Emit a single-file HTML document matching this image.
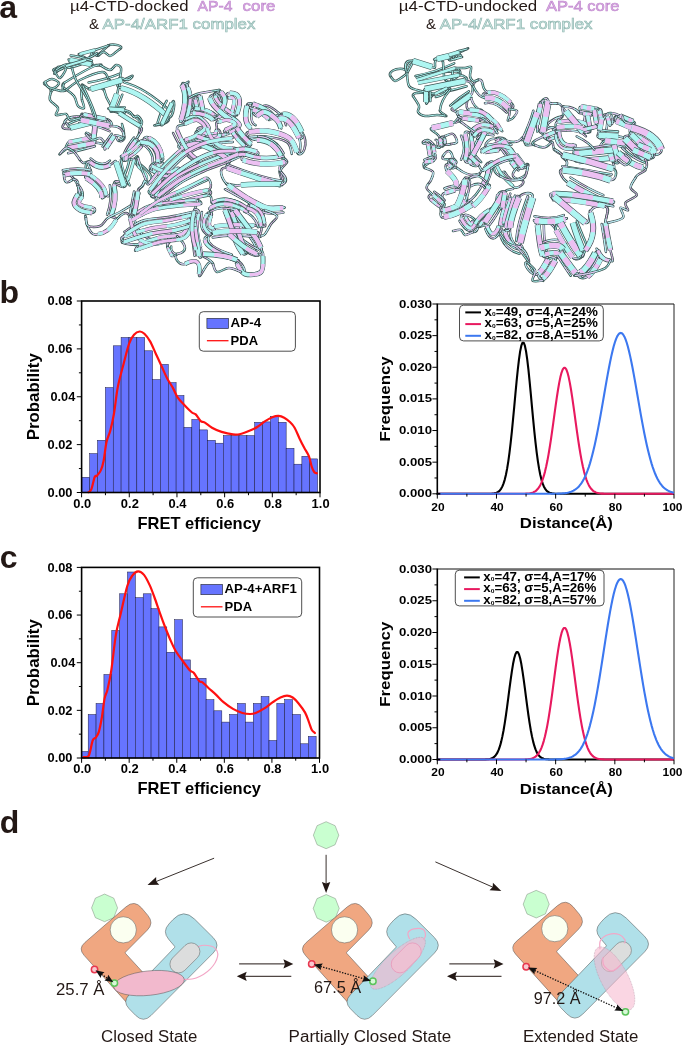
<!DOCTYPE html>
<html lang="en"><head><meta charset="utf-8"><title>Figure</title>
<style>html,body{margin:0;padding:0;background:#fff}svg{display:block}text{font-family:"Liberation Sans",Arial,sans-serif;fill:#231815}.k text{fill:#000}.o,.c,.p{fill:none;stroke-linejoin:round}.o{stroke:#3d5655}.c{stroke:#aef6f2}.p{stroke:#ecc0f2}.r{stroke-linecap:round}.w10{stroke-width:5}.w11{stroke-width:5.5}.w12{stroke-width:6}.w13{stroke-width:6.5}.w14{stroke-width:7}.w15{stroke-width:7.5}.w16{stroke-width:8}.w2{stroke-width:1}.w4{stroke-width:2}.w5{stroke-width:2.5}.w6{stroke-width:3}.w7{stroke-width:3.5}.w8{stroke-width:4}.w9{stroke-width:4.5}</style></head><body>
<svg width="685" height="1047" viewBox="0 0 685 1047">
<rect width="685" height="1047" fill="#fff"/>
<text x="-0.8" y="17.6" font-size="32" font-weight="bold">a</text>
<text x="-0.5" y="303.1" font-size="32" font-weight="bold">b</text>
<text x="-0.3" y="567.9" font-size="32" font-weight="bold">c</text>
<text x="-0.3" y="833.3" font-size="32" font-weight="bold">d</text>
<text x="70" y="11.4" font-size="15" textLength="118.5" lengthAdjust="spacingAndGlyphs">µ4-CTD-docked</text>
<text x="197.6" y="11.4" font-size="15" textLength="34.8" lengthAdjust="spacingAndGlyphs" style="fill:#dcaee6;stroke:#bf88cc;stroke-width:0.6">AP-4</text>
<text x="242.6" y="11.4" font-size="15" textLength="32.8" lengthAdjust="spacingAndGlyphs" style="fill:#dcaee6;stroke:#bf88cc;stroke-width:0.6">core</text>
<text x="88.9" y="28.9" font-size="15">&amp;</text>
<text x="102.6" y="28.9" font-size="15" textLength="152.8" lengthAdjust="spacingAndGlyphs" style="fill:#cfe9e6;stroke:#8fb5af;stroke-width:0.6">AP-4/ARF1 complex</text>
<text x="398.8" y="11.4" font-size="15" textLength="138.4" lengthAdjust="spacingAndGlyphs">µ4-CTD-undocked</text>
<text x="545.9" y="11.4" font-size="15" textLength="73.6" lengthAdjust="spacingAndGlyphs" style="fill:#dcaee6;stroke:#bf88cc;stroke-width:0.6">AP-4 core</text>
<text x="426.1" y="28.9" font-size="15">&amp;</text>
<text x="439.8" y="28.9" font-size="15" textLength="152.7" lengthAdjust="spacingAndGlyphs" style="fill:#cfe9e6;stroke:#8fb5af;stroke-width:0.6">AP-4/ARF1 complex</text>
<path class="o w5 r" d="M55 72C48.9 68 60.3 68.7 66 66"/><path class="c w2 r" d="M55 72C48.9 68 60.3 68.7 66 66"/>
<path class="o w5 r" d="M55 72C51.9 78.3 59.7 66.6 66 66"/><path class="c w2 r" d="M55 72C51.9 78.3 59.7 66.6 66 66"/>
<path class="o w5 r" d="M56 70C50.6 74 62.3 69.5 66 66"/><path class="c w2 r" d="M56 70C50.6 74 62.3 69.5 66 66"/>
<path class="o w5 r" d="M70 64C71.9 62.7 66 57.7 70 60"/><path class="c w2 r" d="M70 64C71.9 62.7 66 57.7 70 60"/>
<path class="o w5 r" d="M51 92C51.1 85.2 40.7 84.6 45 82"/><path class="c w2 r" d="M51 92C51.1 85.2 40.7 84.6 45 82"/>
<path class="o w5 r" d="M80 118C81.8 115.5 80.4 112.4 83.9 114.5"/><path class="p w2 r" d="M80 118C81.8 115.5 80.4 112.4 83.9 114.5"/><path class="c w2" d="M80 118C81.8 115.5 80.4 112.4 83.9 114.5" stroke-dasharray="5.8 4.1" stroke-dashoffset="1.3"/>
<path class="o w5 r" d="M64 88C63.8 87 60.3 85.9 64 83"/><path class="c w2 r" d="M64 88C63.8 87 60.3 85.9 64 83"/>
<path class="o w5 r" d="M82 100C81.1 94.1 80.9 80.1 83 86"/><path class="c w2 r" d="M82 100C81.1 94.1 80.9 80.1 83 86"/>
<path class="o w5 r" d="M64 83C62.5 86.8 61.4 93.3 66 90"/><path class="c w2 r" d="M64 83C62.5 86.8 61.4 93.3 66 90"/>
<path class="o w5 r" d="M100 65C104.6 63.7 95.8 67.1 91 64.4"/><path class="c w2 r" d="M100 65C104.6 63.7 95.8 67.1 91 64.4"/>
<path class="o w5 r" d="M66 90C60.6 94.3 53.6 85.3 51 92"/><path class="c w2 r" d="M66 90C60.6 94.3 53.6 85.3 51 92"/>
<path class="o w5 r" d="M108 78C112.9 84.3 120.2 84.5 120 78"/><path class="c w2 r" d="M108 78C112.9 84.3 120.2 84.5 120 78"/>
<path class="o w5 r" d="M72 68C70.5 66.5 71.1 65.2 70 64"/><path class="c w2 r" d="M72 68C70.5 66.5 71.1 65.2 70 64"/>
<path class="o w5 r" d="M94 116C97.2 119.4 96.1 122.7 90 123"/><path class="c w2 r" d="M94 116C97.2 119.4 96.1 122.7 90 123"/>
<path class="o w5 r" d="M83 86C81.1 82.3 86.8 89.6 91 89"/><path class="c w2 r" d="M83 86C81.1 82.3 86.8 89.6 91 89"/>
<path class="o w5 r" d="M96 118C97.4 123.8 94.7 120.3 90 123"/><path class="c w2 r" d="M96 118C97.4 123.8 94.7 120.3 90 123"/>
<path class="o w5 r" d="M100 65C96.5 64.4 94.6 66.4 91 64.4"/><path class="c w2 r" d="M100 65C96.5 64.4 94.6 66.4 91 64.4"/>
<path class="o w5 r" d="M120 78C120.1 82.6 114.8 87.3 121 88"/><path class="c w2 r" d="M120 78C120.1 82.6 114.8 87.3 121 88"/>
<path class="o w5 r" d="M99 55C96.1 58.2 90.6 50 95 50"/><path class="c w2 r" d="M99 55C96.1 58.2 90.6 50 95 50"/>
<path class="o w5 r" d="M120 49C125.2 45.8 112.6 42.9 108 45.6"/><path class="c w2 r" d="M120 49C125.2 45.8 112.6 42.9 108 45.6"/>
<path class="o w5 r" d="M95 50C88.7 50.7 94.9 56 86 60"/><path class="c w2 r" d="M95 50C88.7 50.7 94.9 56 86 60"/>
<path class="o w5 r" d="M108 45.6C112.9 42.3 94.1 57.3 99 55"/><path class="c w2 r" d="M108 45.6C112.9 42.3 94.1 57.3 99 55"/>
<path class="o w5 r" d="M122 78C117.5 75.8 114.1 87.8 121 88"/><path class="c w2 r" d="M122 78C117.5 75.8 114.1 87.8 121 88"/>
<path class="o w5 r" d="M132 77C134.7 72.9 128 79.4 122 80"/><path class="c w2 r" d="M132 77C134.7 72.9 128 79.4 122 80"/>
<path class="o w5 r" d="M104 90C100.6 81.7 112.7 84 108 78"/><path class="c w2 r" d="M104 90C100.6 81.7 112.7 84 108 78"/>
<path class="o w5 r" d="M120 114C123.8 117.2 122.5 109.8 124 110"/><path class="c w2 r" d="M120 114C123.8 117.2 122.5 109.8 124 110"/>
<path class="o w5 r" d="M124 110C119.9 109.6 115.6 109.7 119 113"/><path class="c w2 r" d="M124 110C119.9 109.6 115.6 109.7 119 113"/>
<path class="o w5 r" d="M140 128C139.3 133.1 140.2 133.8 136 140"/><path class="p w2 r" d="M140 128C139.3 133.1 140.2 133.8 136 140"/><path class="c w2" d="M140 128C139.3 133.1 140.2 133.8 136 140" stroke-dasharray="5.6 5" stroke-dashoffset="5.4"/>
<path class="o w5 r" d="M160 124C164.2 124.4 171.6 121.1 168 117"/><path class="c w2 r" d="M160 124C164.2 124.4 171.6 121.1 168 117"/>
<path class="o w5 r" d="M156 125C150.8 126 159.1 125.2 162 124"/><path class="c w2 r" d="M156 125C150.8 126 159.1 125.2 162 124"/>
<path class="o w5 r" d="M80 54C74.1 53.6 91 58.7 86 60"/><path class="c w2 r" d="M80 54C74.1 53.6 91 58.7 86 60"/>
<path class="o w5 r" d="M66 66C63.4 65.7 72.8 64.1 70 64"/><path class="c w2 r" d="M66 66C63.4 65.7 72.8 64.1 70 64"/>
<path class="o w5 r" d="M86 60C90.3 58 94.3 65.3 91 64.4"/><path class="c w2 r" d="M86 60C90.3 58 94.3 65.3 91 64.4"/>
<path class="o w5 r" d="M91 89C82.3 90.6 99.6 84.3 104 90"/><path class="c w2 r" d="M91 89C82.3 90.6 99.6 84.3 104 90"/>
<path class="o w5 r" d="M122 80C124.7 77.5 115.9 85.1 121 88"/><path class="c w2 r" d="M122 80C124.7 77.5 115.9 85.1 121 88"/>
<path class="o w5 r" d="M121 88C117.2 85.7 119 89.1 117 94"/><path class="c w2 r" d="M121 88C117.2 85.7 119 89.1 117 94"/>
<path class="o w5 r" d="M111 110C109.1 114.4 115.4 108.7 119 113"/><path class="c w2 r" d="M111 110C109.1 114.4 115.4 108.7 119 113"/>
<path class="o w5 r" d="M110 109C104.7 107.3 112.8 111.3 119 113"/><path class="c w2 r" d="M110 109C104.7 107.3 112.8 111.3 119 113"/>
<path class="o w5 r" d="M124 110C127.2 111.9 122.6 115.4 120 114"/><path class="c w2 r" d="M124 110C127.2 111.9 122.6 115.4 120 114"/>
<path class="o w5 r" d="M140 126C144.9 130.9 138.8 132.6 136 140"/><path class="p w2 r" d="M140 126C144.9 130.9 138.8 132.6 136 140"/><path class="c w2" d="M140 126C144.9 130.9 138.8 132.6 136 140" stroke-dasharray="5.5 8.7" stroke-dashoffset="4.6"/>
<path class="o w5 r" d="M172 103C176.1 93.8 174.1 121.6 168 117"/><path class="c w2 r" d="M172 103C176.1 93.8 174.1 121.6 168 117"/>
<path class="o w5 r" d="M162 124C158.7 128.9 170.3 119.3 168 117"/><path class="c w2 r" d="M162 124C158.7 128.9 170.3 119.3 168 117"/>
<path class="o w5 r" d="M70 128C67.9 127.3 66 118.9 64 124"/><path class="c w2 r" d="M70 128C67.9 127.3 66 118.9 64 124"/><path class="p w2" d="M70 128C67.9 127.3 66 118.9 64 124" stroke-dasharray="4.1 5.1" stroke-dashoffset="5.9"/>
<path class="o w5 r" d="M90 123C92.7 122.1 96.4 122.4 95 126"/><path class="p w2 r" d="M90 123C92.7 122.1 96.4 122.4 95 126"/><path class="c w2" d="M90 123C92.7 122.1 96.4 122.4 95 126" stroke-dasharray="6 4.4" stroke-dashoffset="0.2"/>
<path class="o w5 r" d="M64 124C64.8 113.2 90.6 116.7 80 118"/><path class="p w2 r" d="M64 124C64.8 113.2 90.6 116.7 80 118"/><path class="c w2" d="M64 124C64.8 113.2 90.6 116.7 80 118" stroke-dasharray="20.9 20.7" stroke-dashoffset="9.1"/>
<path class="o w5 r" d="M81 120C75.7 119.9 81.7 114.7 83.9 114.5"/><path class="p w2 r" d="M81 120C75.7 119.9 81.7 114.7 83.9 114.5"/><path class="c w2" d="M81 120C75.7 119.9 81.7 114.7 83.9 114.5" stroke-dasharray="6.2 3.2" stroke-dashoffset="1.7"/>
<path class="o w5 r" d="M110 126C114 126.8 111.1 118.9 105.4 118.9"/><path class="p w2 r" d="M110 126C114 126.8 111.1 118.9 105.4 118.9"/><path class="c w2" d="M110 126C114 126.8 111.1 118.9 105.4 118.9" stroke-dasharray="7.7 4.7" stroke-dashoffset="2.1"/>
<path class="o w5 r" d="M95 126C95.4 123.4 98.6 123.9 96 118"/><path class="p w2 r" d="M95 126C95.4 123.4 98.6 123.9 96 118"/><path class="c w2" d="M95 126C95.4 123.4 98.6 123.9 96 118" stroke-dasharray="5.1 3.4" stroke-dashoffset="0.1"/>
<path class="o w5 r" d="M93 144C91.8 146.5 94.7 136.2 91.3 137.8"/><path class="c w2 r" d="M93 144C91.8 146.5 94.7 136.2 91.3 137.8"/><path class="p w2" d="M93 144C91.8 146.5 94.7 136.2 91.3 137.8" stroke-dasharray="7.7 6.2" stroke-dashoffset="1.6"/>
<path class="o w5 r" d="M114 136C116.9 134.4 117.5 144.1 120 140"/><path class="c w2 r" d="M114 136C116.9 134.4 117.5 144.1 120 140"/><path class="p w2" d="M114 136C116.9 134.4 117.5 144.1 120 140" stroke-dasharray="9.8 4.1" stroke-dashoffset="3"/>
<path class="o w5 r" d="M106 148C103.5 152.9 105 144.1 104 142"/><path class="c w2 r" d="M106 148C103.5 152.9 105 144.1 104 142"/><path class="p w2" d="M106 148C103.5 152.9 105 144.1 104 142" stroke-dasharray="8.4 7.3" stroke-dashoffset="3.5"/>
<path class="o w5 r" d="M68 148C63.2 150.2 67.4 143.4 68.6 142.1"/><path class="c w2 r" d="M68 148C63.2 150.2 67.4 143.4 68.6 142.1"/><path class="p w2" d="M68 148C63.2 150.2 67.4 143.4 68.6 142.1" stroke-dasharray="7.3 4.2" stroke-dashoffset="4.4"/>
<path class="o w5 r" d="M94 143C96.4 141.3 95.1 137.9 91.3 137.8"/><path class="c w2 r" d="M94 143C96.4 141.3 95.1 137.9 91.3 137.8"/><path class="p w2" d="M94 143C96.4 141.3 95.1 137.9 91.3 137.8" stroke-dasharray="5.7 3.4" stroke-dashoffset="3.1"/>
<path class="o w5 r" d="M136 140C137.5 136.4 137.8 143.3 140 142"/><path class="p w2 r" d="M136 140C137.5 136.4 137.8 143.3 140 142"/><path class="c w2" d="M136 140C137.5 136.4 137.8 143.3 140 142" stroke-dasharray="4.5 5.4" stroke-dashoffset="2.8"/>
<path class="o w5 r" d="M126 160C123.6 163.1 120.2 156.6 122 156"/><path class="p w2 r" d="M126 160C123.6 163.1 120.2 156.6 122 156"/><path class="c w2" d="M126 160C123.6 163.1 120.2 156.6 122 156" stroke-dasharray="5.8 4.9" stroke-dashoffset="4.4"/>
<path class="o w5 r" d="M144 140C141.9 139.3 137.2 143.5 140 142"/><path class="p w2 r" d="M144 140C141.9 139.3 137.2 143.5 140 142"/><path class="c w2" d="M144 140C141.9 139.3 137.2 143.5 140 142" stroke-dasharray="4.7 3.8" stroke-dashoffset="4.6"/>
<path class="o w5 r" d="M158 160C159 160.7 157.5 159.9 158 164"/><path class="p w2 r" d="M158 160C159 160.7 157.5 159.9 158 164"/><path class="c w2" d="M158 160C159 160.7 157.5 159.9 158 164" stroke-dasharray="2.7 2.2" stroke-dashoffset="0.1"/>
<path class="o w5 r" d="M86 134C85 130.2 94.8 137 91.3 137.8"/><path class="p w2 r" d="M86 134C85 130.2 94.8 137 91.3 137.8"/><path class="c w2" d="M86 134C85 130.2 94.8 137 91.3 137.8" stroke-dasharray="9.7 8.7" stroke-dashoffset="5.8"/>
<path class="o w5 r" d="M104 142C108.8 147.7 100.2 141.8 94 143"/><path class="p w2 r" d="M104 142C108.8 147.7 100.2 141.8 94 143"/><path class="c w2" d="M104 142C108.8 147.7 100.2 141.8 94 143" stroke-dasharray="7.4 7.8" stroke-dashoffset="11.8"/>
<path class="o w5 r" d="M120 140C118.8 142.8 126.4 140.2 124 136"/><path class="c w2 r" d="M120 140C118.8 142.8 126.4 140.2 124 136"/><path class="p w2" d="M120 140C118.8 142.8 126.4 140.2 124 136" stroke-dasharray="7 6.7" stroke-dashoffset="1.9"/>
<path class="o w5 r" d="M110 126C105.9 124.7 110.6 121.8 105.4 118.9"/><path class="p w2 r" d="M110 126C105.9 124.7 110.6 121.8 105.4 118.9"/><path class="c w2" d="M110 126C105.9 124.7 110.6 121.8 105.4 118.9" stroke-dasharray="9.2 5.4" stroke-dashoffset="3.6"/>
<path class="o w5 r" d="M124 136C124.5 140.8 117.9 133 114 136"/><path class="p w2 r" d="M124 136C124.5 140.8 117.9 133 114 136"/><path class="c w2" d="M124 136C124.5 140.8 117.9 133 114 136" stroke-dasharray="8.8 8.8" stroke-dashoffset="0.1"/>
<path class="o w5 r" d="M60 154C57.4 156 64.4 150 68 148"/><path class="c w2 r" d="M60 154C57.4 156 64.4 150 68 148"/><path class="p w2" d="M60 154C57.4 156 64.4 150 68 148" stroke-dasharray="8.9 7" stroke-dashoffset="6.2"/>
<path class="o w5 r" d="M80 160C85 166 83.4 160.8 90 162"/><path class="c w2 r" d="M80 160C85 166 83.4 160.8 90 162"/><path class="p w2" d="M80 160C85 166 83.4 160.8 90 162" stroke-dasharray="8.7 6.8" stroke-dashoffset="4.3"/>
<path class="o w5 r" d="M182 85C177.7 87.5 187.5 82.9 187.8 87.6"/><path class="p w2 r" d="M182 85C177.7 87.5 187.5 82.9 187.8 87.6"/><path class="c w2" d="M182 85C177.7 87.5 187.5 82.9 187.8 87.6" stroke-dasharray="11.4 7.1" stroke-dashoffset="2.1"/>
<path class="o w5 r" d="M188 82C189.3 81.1 187 83.6 187.8 87.6"/><path class="p w2 r" d="M188 82C189.3 81.1 187 83.6 187.8 87.6"/><path class="c w2" d="M188 82C189.3 81.1 187 83.6 187.8 87.6" stroke-dasharray="3.8 2.6" stroke-dashoffset="1.6"/>
<path class="o w5 r" d="M189 98C185.6 98.4 196.4 94.5 195.3 99.7"/><path class="p w2 r" d="M189 98C185.6 98.4 196.4 94.5 195.3 99.7"/><path class="c w2" d="M189 98C185.6 98.4 196.4 94.5 195.3 99.7" stroke-dasharray="9.5 7.1" stroke-dashoffset="4.6"/>
<path class="o w5 r" d="M219 90C222.6 90.7 214 93.4 215.3 95.6"/><path class="p w2 r" d="M219 90C222.6 90.7 214 93.4 215.3 95.6"/><path class="c w2" d="M219 90C222.6 90.7 214 93.4 215.3 95.6" stroke-dasharray="5 3.7" stroke-dashoffset="4.4"/>
<path class="o w5 r" d="M182 85C182 80.9 186.2 84.1 187.8 87.6"/><path class="c w2 r" d="M182 85C182 80.9 186.2 84.1 187.8 87.6"/><path class="p w2" d="M182 85C182 80.9 186.2 84.1 187.8 87.6" stroke-dasharray="7 5.3" stroke-dashoffset="5.4"/>
<path class="o w5 r" d="M181 120C178.8 123.5 181.8 121.3 185.6 119.5"/><path class="p w2 r" d="M181 120C178.8 123.5 181.8 121.3 185.6 119.5"/><path class="c w2" d="M181 120C178.8 123.5 181.8 121.3 185.6 119.5" stroke-dasharray="6.5 4.4" stroke-dashoffset="0.5"/>
<path class="o w5 r" d="M200 96C198.9 93.5 195.8 98 195.3 99.7"/><path class="p w2 r" d="M200 96C198.9 93.5 195.8 98 195.3 99.7"/><path class="c w2" d="M200 96C198.9 93.5 195.8 98 195.3 99.7" stroke-dasharray="2.6 3.9" stroke-dashoffset="1.3"/>
<path class="o w5 r" d="M203 110C202.3 112.4 198.1 112.4 197.6 110.3"/><path class="p w2 r" d="M203 110C202.3 112.4 198.1 112.4 197.6 110.3"/><path class="c w2" d="M203 110C202.3 112.4 198.1 112.4 197.6 110.3" stroke-dasharray="4.2 2.5" stroke-dashoffset="0.3"/>
<path class="o w5 r" d="M210 98C208.6 97.1 213.1 93 215.3 95.6"/><path class="p w2 r" d="M210 98C208.6 97.1 213.1 93 215.3 95.6"/><path class="c w2" d="M210 98C208.6 97.1 213.1 93 215.3 95.6" stroke-dasharray="4.8 2.7" stroke-dashoffset="1.5"/>
<path class="o w5 r" d="M231 120C233.3 123.5 235.5 117.4 233.7 114.8"/><path class="c w2 r" d="M231 120C233.3 123.5 235.5 117.4 233.7 114.8"/><path class="p w2" d="M231 120C233.3 123.5 235.5 117.4 233.7 114.8" stroke-dasharray="5.6 3.9" stroke-dashoffset="3.3"/>
<path class="o w5 r" d="M221 92C219.5 90.3 211.7 93.7 215.3 95.6"/><path class="p w2 r" d="M221 92C219.5 90.3 211.7 93.7 215.3 95.6"/><path class="c w2" d="M221 92C219.5 90.3 211.7 93.7 215.3 95.6" stroke-dasharray="5.7 4.5" stroke-dashoffset="1.4"/>
<path class="o w5 r" d="M222 109C221.1 114.8 214.3 117.6 218.4 117"/><path class="p w2 r" d="M222 109C221.1 114.8 214.3 117.6 218.4 117"/><path class="c w2" d="M222 109C221.1 114.8 214.3 117.6 218.4 117" stroke-dasharray="9.8 5.7" stroke-dashoffset="1.8"/>
<path class="o w5 r" d="M230 93C225.9 92.1 225.8 97.4 229 98.1"/><path class="c w2 r" d="M230 93C225.9 92.1 225.8 97.4 229 98.1"/><path class="p w2" d="M230 93C225.9 92.1 225.8 97.4 229 98.1" stroke-dasharray="6.8 2.6" stroke-dashoffset="0.1"/>
<path class="o w5 r" d="M237 114C238 116.4 234.4 114.9 233.7 114.8"/><path class="p w2 r" d="M237 114C238 116.4 234.4 114.9 233.7 114.8"/><path class="c w2" d="M237 114C238 116.4 234.4 114.9 233.7 114.8" stroke-dasharray="3.6 1.7" stroke-dashoffset="2.5"/>
<path class="o w5 r" d="M193 113C189.2 111.7 194.3 106.4 195.2 108.4"/><path class="c w2 r" d="M193 113C189.2 111.7 194.3 106.4 195.2 108.4"/><path class="p w2" d="M193 113C189.2 111.7 194.3 106.4 195.2 108.4" stroke-dasharray="6 3.5" stroke-dashoffset="6.6"/>
<path class="o w5 r" d="M213 120C214.9 120.9 215.9 114.8 214.2 115"/><path class="c w2 r" d="M213 120C214.9 120.9 215.9 114.8 214.2 115"/><path class="p w2" d="M213 120C214.9 120.9 215.9 114.8 214.2 115" stroke-dasharray="4.3 2.6" stroke-dashoffset="3.3"/>
<path class="o w5 r" d="M185 124C181.3 124.6 182.4 121.8 185.6 119.5"/><path class="p w2 r" d="M185 124C181.3 124.6 182.4 121.8 185.6 119.5"/><path class="c w2" d="M185 124C181.3 124.6 182.4 121.8 185.6 119.5" stroke-dasharray="4.8 3" stroke-dashoffset="3.3"/>
<path class="o w5 r" d="M219 122C216.9 124.4 215.1 116 218.4 117"/><path class="p w2 r" d="M219 122C216.9 124.4 215.1 116 218.4 117"/><path class="c w2" d="M219 122C216.9 124.4 215.1 116 218.4 117" stroke-dasharray="5.4 6.7" stroke-dashoffset="6.7"/>
<path class="o w5 r" d="M225 130C221.6 132 228.2 133.3 226.3 134.3"/><path class="p w2 r" d="M225 130C221.6 132 228.2 133.3 226.3 134.3"/><path class="c w2" d="M225 130C221.6 132 228.2 133.3 226.3 134.3" stroke-dasharray="7 3.5" stroke-dashoffset="6"/>
<path class="o w5 r" d="M247 106C246.2 103.8 250.3 102.3 253 104"/><path class="c w2 r" d="M247 106C246.2 103.8 250.3 102.3 253 104"/><path class="p w2" d="M247 106C246.2 103.8 250.3 102.3 253 104" stroke-dasharray="3.9 2.6" stroke-dashoffset="0"/>
<path class="o w5 r" d="M251 128C251.7 131.6 248.2 132.1 249 132"/><path class="c w2 r" d="M251 128C251.7 131.6 248.2 132.1 249 132"/><path class="p w2" d="M251 128C251.7 131.6 248.2 132.1 249 132" stroke-dasharray="2.1 3.2" stroke-dashoffset="3.8"/>
<path class="o w5 r" d="M253 104C251.9 103.8 250.9 110 252.8 109.8"/><path class="c w2 r" d="M253 104C251.9 103.8 250.9 110 252.8 109.8"/><path class="p w2" d="M253 104C251.9 103.8 250.9 110 252.8 109.8" stroke-dasharray="2.9 3.9" stroke-dashoffset="4.6"/>
<path class="o w5 r" d="M257 116C255.2 117 249.5 108.9 252.8 109.8"/><path class="c w2 r" d="M257 116C255.2 117 249.5 108.9 252.8 109.8"/><path class="p w2" d="M257 116C255.2 117 249.5 108.9 252.8 109.8" stroke-dasharray="6.6 4.6" stroke-dashoffset="2.7"/>
<path class="o w5 r" d="M281 128C282.8 131.2 276 117 279 119"/><path class="p w2 r" d="M281 128C282.8 131.2 276 117 279 119"/><path class="c w2" d="M281 128C282.8 131.2 276 117 279 119" stroke-dasharray="11.3 7.2" stroke-dashoffset="2.3"/>
<path class="o w5 r" d="M279 119C277.4 116.8 281.7 111.8 283 114.4"/><path class="p w2 r" d="M279 119C277.4 116.8 281.7 111.8 283 114.4"/><path class="c w2" d="M279 119C277.4 116.8 281.7 111.8 283 114.4" stroke-dasharray="5.9 3.4" stroke-dashoffset="3.1"/>
<path class="o w5 r" d="M299 138C300.4 140.6 305.5 136.6 301.8 131.9"/><path class="p w2 r" d="M299 138C300.4 140.6 305.5 136.6 301.8 131.9"/><path class="c w2" d="M299 138C300.4 140.6 305.5 136.6 301.8 131.9" stroke-dasharray="8.5 6.5" stroke-dashoffset="0.1"/>
<path class="o w5 r" d="M249 132C242.5 132.5 250 139.6 257 140"/><path class="p w2 r" d="M249 132C242.5 132.5 250 139.6 257 140"/><path class="c w2" d="M249 132C242.5 132.5 250 139.6 257 140" stroke-dasharray="8.7 10.6" stroke-dashoffset="9.3"/>
<path class="o w5 r" d="M297 152C300 159.3 301.7 143.9 299 138"/><path class="p w2 r" d="M297 152C300 159.3 301.7 143.9 299 138"/><path class="c w2" d="M297 152C300 159.3 301.7 143.9 299 138" stroke-dasharray="9.7 11" stroke-dashoffset="12.5"/>
<path class="o w5 r" d="M251 144C252.2 145.4 246.3 148.6 244.7 146.3"/><path class="c w2 r" d="M251 144C252.2 145.4 246.3 148.6 244.7 146.3"/><path class="p w2" d="M251 144C252.2 145.4 246.3 148.6 244.7 146.3" stroke-dasharray="4.2 4.8" stroke-dashoffset="3.9"/>
<path class="o w5 r" d="M181 148C175.6 148.2 179.4 142.3 185 140"/><path class="p w2 r" d="M181 148C175.6 148.2 179.4 142.3 185 140"/><path class="c w2" d="M181 148C175.6 148.2 179.4 142.3 185 140" stroke-dasharray="11 4.8" stroke-dashoffset="6.7"/>
<path class="o w5 r" d="M229 160C231 162.7 228.7 156.1 233.4 156.7"/><path class="p w2 r" d="M229 160C231 162.7 228.7 156.1 233.4 156.7"/><path class="c w2" d="M229 160C231 162.7 228.7 156.1 233.4 156.7" stroke-dasharray="4.7 6.5" stroke-dashoffset="1.6"/>
<path class="o w5 r" d="M197 136C193.7 136.4 195 130.2 199.4 130.9"/><path class="c w2 r" d="M197 136C193.7 136.4 195 130.2 199.4 130.9"/><path class="p w2" d="M197 136C193.7 136.4 195 130.2 199.4 130.9" stroke-dasharray="6.5 5.8" stroke-dashoffset="2.6"/>
<path class="o w5 r" d="M220 134C221.6 133.1 218.4 127.5 216 130.2"/><path class="p w2 r" d="M220 134C221.6 133.1 218.4 127.5 216 130.2"/><path class="c w2" d="M220 134C221.6 133.1 218.4 127.5 216 130.2" stroke-dasharray="4.2 5" stroke-dashoffset="3.6"/>
<path class="o w5 r" d="M281 156C283.4 159.5 288.2 163 285 162"/><path class="c w2 r" d="M281 156C283.4 159.5 288.2 163 285 162"/><path class="p w2" d="M281 156C283.4 159.5 288.2 163 285 162" stroke-dasharray="7.6 3.2" stroke-dashoffset="3.7"/>
<path class="o w5 r" d="M231 152C229.1 152.7 239 151.2 234.9 150.1"/><path class="p w2 r" d="M231 152C229.1 152.7 239 151.2 234.9 150.1"/><path class="c w2" d="M231 152C229.1 152.7 239 151.2 234.9 150.1" stroke-dasharray="4.3 3.6" stroke-dashoffset="7.1"/>
<path class="o w5 r" d="M257 152C259.7 152.3 257.9 155.7 254.9 156.9"/><path class="c w2 r" d="M257 152C259.7 152.3 257.9 155.7 254.9 156.9"/><path class="p w2" d="M257 152C259.7 152.3 257.9 155.7 254.9 156.9" stroke-dasharray="5.2 2.8" stroke-dashoffset="3"/>
<path class="o w5 r" d="M177 130C176.3 123.7 181.5 126.5 185 124"/><path class="c w2 r" d="M177 130C176.3 123.7 181.5 126.5 185 124"/><path class="p w2" d="M177 130C176.3 123.7 181.5 126.5 185 124" stroke-dasharray="6.3 5.6" stroke-dashoffset="1.8"/>
<path class="o w5 r" d="M207 128C203.9 125.4 193.2 128.1 199.4 130.9"/><path class="p w2 r" d="M207 128C203.9 125.4 193.2 128.1 199.4 130.9"/><path class="c w2" d="M207 128C203.9 125.4 193.2 128.1 199.4 130.9" stroke-dasharray="7.5 9.3" stroke-dashoffset="6.2"/>
<path class="o w5 r" d="M233 148C234 147.2 239 149.3 236 151"/><path class="c w2 r" d="M233 148C234 147.2 239 149.3 236 151"/><path class="p w2" d="M233 148C234 147.2 239 149.3 236 151" stroke-dasharray="4.2 2.8" stroke-dashoffset="4"/>
<path class="o w5 r" d="M90 174C91.3 175.8 82.6 175.9 86 178"/><path class="c w2 r" d="M90 174C91.3 175.8 82.6 175.9 86 178"/><path class="p w2" d="M90 174C91.3 175.8 82.6 175.9 86 178" stroke-dasharray="3.8 5.5" stroke-dashoffset="0.7"/>
<path class="o w5 r" d="M90 162C82.7 159.1 94.8 173.3 90 174"/><path class="p w2 r" d="M90 162C82.7 159.1 94.8 173.3 90 174"/><path class="c w2" d="M90 162C82.7 159.1 94.8 173.3 90 174" stroke-dasharray="17.6 6.6" stroke-dashoffset="3.8"/>
<path class="o w5 r" d="M86 178C83.9 176.9 89.6 171.8 90.3 175.1"/><path class="c w2 r" d="M86 178C83.9 176.9 89.6 171.8 90.3 175.1"/><path class="p w2" d="M86 178C83.9 176.9 89.6 171.8 90.3 175.1" stroke-dasharray="5.3 3" stroke-dashoffset="1.1"/>
<path class="o w5 r" d="M102 198C101.6 199.1 105.7 196.5 106.1 195.1"/><path class="p w2 r" d="M102 198C101.6 199.1 105.7 196.5 106.1 195.1"/><path class="c w2" d="M102 198C101.6 199.1 105.7 196.5 106.1 195.1" stroke-dasharray="3.8 1.7" stroke-dashoffset="3.4"/>
<path class="o w5 r" d="M78 194C78 191 84.3 195.4 82.4 196.4"/><path class="p w2 r" d="M78 194C78 191 84.3 195.4 82.4 196.4"/><path class="c w2" d="M78 194C78 191 84.3 195.4 82.4 196.4" stroke-dasharray="7.6 5.5" stroke-dashoffset="1.9"/>
<path class="o w5 r" d="M114 185C113.7 181.2 124.4 189.7 124 186"/><path class="p w2 r" d="M114 185C113.7 181.2 124.4 189.7 124 186"/><path class="c w2" d="M114 185C113.7 181.2 124.4 189.7 124 186" stroke-dasharray="8.9 4.8" stroke-dashoffset="6.9"/>
<path class="o w5 r" d="M111 216C110.7 218.3 117.7 216.4 116 220"/><path class="p w2 r" d="M111 216C110.7 218.3 117.7 216.4 116 220"/><path class="c w2" d="M111 216C110.7 218.3 117.7 216.4 116 220" stroke-dasharray="3.4 6" stroke-dashoffset="2"/>
<path class="o w5 r" d="M138 192C139.3 185.4 143.2 189.3 144 182"/><path class="c w2 r" d="M138 192C139.3 185.4 143.2 189.3 144 182"/><path class="p w2" d="M138 192C139.3 185.4 143.2 189.3 144 182" stroke-dasharray="8 5.5" stroke-dashoffset="0.6"/>
<path class="o w5 r" d="M134 208C133.3 209.5 133.2 206.7 130 206"/><path class="c w2 r" d="M134 208C133.3 209.5 133.2 206.7 130 206"/><path class="p w2" d="M134 208C133.3 209.5 133.2 206.7 130 206" stroke-dasharray="4.6 3.4" stroke-dashoffset="0.4"/>
<path class="o w5 r" d="M116 162C115.6 159.3 114.3 162.4 110 165"/><path class="p w2 r" d="M116 162C115.6 159.3 114.3 162.4 110 165"/><path class="c w2" d="M116 162C115.6 159.3 114.3 162.4 110 165" stroke-dasharray="5.2 4.9" stroke-dashoffset="3"/>
<path class="o w5 r" d="M124 186C124.1 188.5 127.2 184.4 128 180"/><path class="c w2 r" d="M124 186C124.1 188.5 127.2 184.4 128 180"/>
<path class="o w5 r" d="M134 160C135.7 158.5 137.1 153.9 138 158"/><path class="c w2 r" d="M134 160C135.7 158.5 137.1 153.9 138 158"/><path class="p w2" d="M134 160C135.7 158.5 137.1 153.9 138 158" stroke-dasharray="5.5 3" stroke-dashoffset="3.1"/>
<path class="o w5 r" d="M128 180C126.9 189.2 113.8 175 114 185"/><path class="p w2 r" d="M128 180C126.9 189.2 113.8 175 114 185"/><path class="c w2" d="M128 180C126.9 189.2 113.8 175 114 185" stroke-dasharray="13 8.5" stroke-dashoffset="5.4"/>
<path class="o w5 r" d="M138 166C134 163.4 135.3 154.9 134 160"/><path class="c w2 r" d="M138 166C134 163.4 135.3 154.9 134 160"/>
<path class="o w5 r" d="M130 206C134.1 202.6 131.6 220.1 134 214"/><path class="c w2 r" d="M130 206C134.1 202.6 131.6 220.1 134 214"/><path class="p w2" d="M130 206C134.1 202.6 131.6 220.1 134 214" stroke-dasharray="12 10.7" stroke-dashoffset="9.5"/>
<path class="o w5 r" d="M98 234C86.9 239.7 83.6 207 86 218"/><path class="c w2 r" d="M98 234C86.9 239.7 83.6 207 86 218"/><path class="p w2" d="M98 234C86.9 239.7 83.6 207 86 218" stroke-dasharray="21.9 15.7" stroke-dashoffset="9.3"/>
<path class="o w5 r" d="M116 220C121.7 213.7 128.2 209.1 130 218"/><path class="p w2 r" d="M116 220C121.7 213.7 128.2 209.1 130 218"/><path class="c w2" d="M116 220C121.7 213.7 128.2 209.1 130 218" stroke-dasharray="13.9 10.8" stroke-dashoffset="3.9"/>
<path class="o w5 r" d="M64 175C60.4 167.2 74.5 175.8 78 186"/><path class="p w2 r" d="M64 175C60.4 167.2 74.5 175.8 78 186"/><path class="c w2" d="M64 175C60.4 167.2 74.5 175.8 78 186" stroke-dasharray="15.8 12.4" stroke-dashoffset="10.7"/>
<path class="o w5 r" d="M72 180C76 178.6 78.6 180.3 78 186"/><path class="p w2 r" d="M72 180C76 178.6 78.6 180.3 78 186"/><path class="c w2" d="M72 180C76 178.6 78.6 180.3 78 186" stroke-dasharray="3.4 3.4" stroke-dashoffset="0.5"/>
<path class="o w5 r" d="M78 186C77.7 182.9 79.6 189.8 78 194"/><path class="c w2 r" d="M78 186C77.7 182.9 79.6 189.8 78 194"/><path class="p w2" d="M78 186C77.7 182.9 79.6 189.8 78 194" stroke-dasharray="4.1 3.2" stroke-dashoffset="4.7"/>
<path class="o w5 r" d="M80 194C80.3 194.8 82.1 194.7 82.4 196.4"/><path class="p w2 r" d="M80 194C80.3 194.8 82.1 194.7 82.4 196.4"/><path class="c w2" d="M80 194C80.3 194.8 82.1 194.7 82.4 196.4" stroke-dasharray="2.3 1.4" stroke-dashoffset="1.9"/>
<path class="o w5 r" d="M130 218C128.9 215.3 132.5 215.7 134 214"/><path class="p w2 r" d="M130 218C128.9 215.3 132.5 215.7 134 214"/><path class="c w2" d="M130 218C128.9 215.3 132.5 215.7 134 214" stroke-dasharray="3.7 3.5" stroke-dashoffset="0.3"/>
<path class="o w5 r" d="M170 240C175.8 237.9 175 232.9 177 236"/><path class="c w2 r" d="M170 240C175.8 237.9 175 232.9 177 236"/><path class="p w2" d="M170 240C175.8 237.9 175 232.9 177 236" stroke-dasharray="4.6 5.8" stroke-dashoffset="7.3"/>
<path class="o w5 r" d="M158 164C158.3 159.8 147.6 166.1 152 166"/><path class="c w2 r" d="M158 164C158.3 159.8 147.6 166.1 152 166"/><path class="p w2" d="M158 164C158.3 159.8 147.6 166.1 152 166" stroke-dasharray="7.6 4.8" stroke-dashoffset="5.4"/>
<path class="o w5 r" d="M156 196C153.5 199.9 149 194.9 152 194"/><path class="c w2 r" d="M156 196C153.5 199.9 149 194.9 152 194"/><path class="p w2" d="M156 196C153.5 199.9 149 194.9 152 194" stroke-dasharray="5.1 6.1" stroke-dashoffset="1"/>
<path class="o w5 r" d="M168 248C165 244.8 173.8 238.8 170 240"/><path class="c w2 r" d="M168 248C165 244.8 173.8 238.8 170 240"/><path class="p w2" d="M168 248C165 244.8 173.8 238.8 170 240" stroke-dasharray="5 5.3" stroke-dashoffset="8.6"/>
<path class="o w5 r" d="M172 256C174.7 256.7 174.9 254.3 177 254"/><path class="c w2 r" d="M172 256C174.7 256.7 174.9 254.3 177 254"/><path class="p w2" d="M172 256C174.7 256.7 174.9 254.3 177 254" stroke-dasharray="4.1 3" stroke-dashoffset="2.7"/>
<path class="o w5 r" d="M152 166C149.9 164.5 148.4 170.3 152.7 170.9"/><path class="c w2 r" d="M152 166C149.9 164.5 148.4 170.3 152.7 170.9"/><path class="p w2" d="M152 166C149.9 164.5 148.4 170.3 152.7 170.9" stroke-dasharray="4 4" stroke-dashoffset="1"/>
<path class="o w5 r" d="M243 160C239.6 160.5 243.9 152.3 245.6 154.4"/><path class="c w2 r" d="M243 160C239.6 160.5 243.9 152.3 245.6 154.4"/><path class="p w2" d="M243 160C239.6 160.5 243.9 152.3 245.6 154.4" stroke-dasharray="7.4 4" stroke-dashoffset="0.5"/>
<path class="o w5 r" d="M285 162C290.7 163.4 283.5 156.8 280.9 156.3"/><path class="c w2 r" d="M285 162C290.7 163.4 283.5 156.8 280.9 156.3"/><path class="p w2" d="M285 162C290.7 163.4 283.5 156.8 280.9 156.3" stroke-dasharray="9.8 6.2" stroke-dashoffset="5"/>
<path class="o w5 r" d="M227 168C223.1 167.4 232.9 161.5 229 160"/><path class="c w2 r" d="M227 168C223.1 167.4 232.9 161.5 229 160"/><path class="p w2" d="M227 168C223.1 167.4 232.9 161.5 229 160" stroke-dasharray="8 5.9" stroke-dashoffset="3.3"/>
<path class="o w5 r" d="M281 185C286.1 187.7 275.8 166.4 281 172"/><path class="p w2 r" d="M281 185C286.1 187.7 275.8 166.4 281 172"/><path class="c w2" d="M281 185C286.1 187.7 275.8 166.4 281 172" stroke-dasharray="9.6 13.4" stroke-dashoffset="7.7"/>
<path class="o w5 r" d="M241 185C233.6 187.2 221.7 180.9 228 185"/><path class="c w2 r" d="M241 185C233.6 187.2 221.7 180.9 228 185"/><path class="p w2" d="M241 185C233.6 187.2 221.7 180.9 228 185" stroke-dasharray="7.8 8.3" stroke-dashoffset="2"/>
<path class="o w5 r" d="M281 184C286.5 182.9 277.6 167.7 281 172"/><path class="p w2 r" d="M281 184C286.5 182.9 277.6 167.7 281 172"/><path class="c w2" d="M281 184C286.5 182.9 277.6 167.7 281 172" stroke-dasharray="9.8 11.7" stroke-dashoffset="5.7"/>
<path class="o w5 r" d="M228 185C222.1 180.4 216.3 165.9 227 168"/><path class="p w2 r" d="M228 185C222.1 180.4 216.3 165.9 227 168"/><path class="c w2" d="M228 185C222.1 180.4 216.3 165.9 227 168" stroke-dasharray="15.8 8.8" stroke-dashoffset="0.1"/>
<path class="o w5 r" d="M283 208C293 206.4 256.1 205.6 265 210"/><path class="p w2 r" d="M283 208C293 206.4 256.1 205.6 265 210"/><path class="c w2" d="M283 208C293 206.4 256.1 205.6 265 210" stroke-dasharray="24.2 20.6" stroke-dashoffset="12.5"/>
<path class="o w5 r" d="M193 216C193 214.9 198.9 212.4 196 214"/><path class="c w2 r" d="M193 216C193 214.9 198.9 212.4 196 214"/><path class="p w2" d="M193 216C193 214.9 198.9 212.4 196 214" stroke-dasharray="5.4 2.8" stroke-dashoffset="2.7"/>
<path class="o w5 r" d="M199 256C199.3 256.9 199.1 253 203 254"/><path class="p w2 r" d="M199 256C199.3 256.9 199.1 253 203 254"/><path class="c w2" d="M199 256C199.3 256.9 199.1 253 203 254" stroke-dasharray="2.9 2.7" stroke-dashoffset="2.5"/>
<path class="o w5 r" d="M185 264C178.5 265.7 173.1 256.6 177 254"/><path class="c w2 r" d="M185 264C178.5 265.7 173.1 256.6 177 254"/><path class="p w2" d="M185 264C178.5 265.7 173.1 256.6 177 254" stroke-dasharray="12.5 5.9" stroke-dashoffset="7.1"/>
<path class="o w5 r" d="M199 274C198.9 284 208.5 254.1 213 264"/><path class="p w2 r" d="M199 274C198.9 284 208.5 254.1 213 264"/><path class="c w2" d="M199 274C198.9 284 208.5 254.1 213 264" stroke-dasharray="14.4 17.2" stroke-dashoffset="22.9"/>
<path class="o w5 r" d="M207 214C208.1 211.4 213.7 212.5 211.4 215.6"/><path class="p w2 r" d="M207 214C208.1 211.4 213.7 212.5 211.4 215.6"/><path class="c w2" d="M207 214C208.1 211.4 213.7 212.5 211.4 215.6" stroke-dasharray="6.4 5.2" stroke-dashoffset="1.9"/>
<path class="o w5 r" d="M211 232C214.5 234.2 214.2 231.1 213.8 228.4"/><path class="c w2 r" d="M211 232C214.5 234.2 214.2 231.1 213.8 228.4"/><path class="p w2" d="M211 232C214.5 234.2 214.2 231.1 213.8 228.4" stroke-dasharray="5.5 2.9" stroke-dashoffset="3.5"/>
<path class="o w5 r" d="M215 206C214.6 207.2 214.6 204.2 215.6 202"/><path class="c w2 r" d="M215 206C214.6 207.2 214.6 204.2 215.6 202"/><path class="p w2" d="M215 206C214.6 207.2 214.6 204.2 215.6 202" stroke-dasharray="3 2.7" stroke-dashoffset="3"/>
<path class="o w5 r" d="M247 212C250.8 211.2 244.5 208.2 247 208"/><path class="c w2 r" d="M247 212C250.8 211.2 244.5 208.2 247 208"/><path class="p w2" d="M247 212C250.8 211.2 244.5 208.2 247 208" stroke-dasharray="6 3.3" stroke-dashoffset="1.7"/>
<path class="o w5 r" d="M247 208C245.6 208.8 249.3 205.5 250.4 205.3"/><path class="p w2 r" d="M247 208C245.6 208.8 249.3 205.5 250.4 205.3"/><path class="c w2" d="M247 208C245.6 208.8 249.3 205.5 250.4 205.3" stroke-dasharray="3.4 3" stroke-dashoffset="0.2"/>
<path class="o w5 r" d="M261 226C261.9 228.7 264.9 225.3 264.4 223.3"/><path class="c w2 r" d="M261 226C261.9 228.7 264.9 225.3 264.4 223.3"/><path class="p w2" d="M261 226C261.9 228.7 264.9 225.3 264.4 223.3" stroke-dasharray="4.7 2.7" stroke-dashoffset="2.4"/>
<path class="o w5 r" d="M225 210C222.3 204.7 230.6 210.3 231.5 212"/><path class="p w2 r" d="M225 210C222.3 204.7 230.6 210.3 231.5 212"/><path class="c w2" d="M225 210C222.3 204.7 230.6 210.3 231.5 212" stroke-dasharray="9 3.7" stroke-dashoffset="8.7"/>
<path class="o w5 r" d="M243 254C245.3 255.8 250.1 250.9 246.9 250.1"/><path class="c w2 r" d="M243 254C245.3 255.8 250.1 250.9 246.9 250.1"/><path class="p w2" d="M243 254C245.3 255.8 250.1 250.9 246.9 250.1" stroke-dasharray="6.2 3.5" stroke-dashoffset="6"/>
<path class="o w5 r" d="M235 210C234.8 209.8 230.3 211.5 231.5 212"/><path class="c w2 r" d="M235 210C234.8 209.8 230.3 211.5 231.5 212"/><path class="p w2" d="M235 210C234.8 209.8 230.3 211.5 231.5 212" stroke-dasharray="1.9 2.5" stroke-dashoffset="2.6"/>
<path class="o w5 r" d="M261 248C263.2 249.8 259.4 254.7 257 254"/><path class="c w2 r" d="M261 248C263.2 249.8 259.4 254.7 257 254"/><path class="p w2" d="M261 248C263.2 249.8 259.4 254.7 257 254" stroke-dasharray="5.7 3.6" stroke-dashoffset="5.3"/>
<path class="o w5 r" d="M229 234C221.9 228.3 203.4 234.5 213 233"/><path class="c w2 r" d="M229 234C221.9 228.3 203.4 234.5 213 233"/><path class="p w2" d="M229 234C221.9 228.3 203.4 234.5 213 233" stroke-dasharray="14.8 15.4" stroke-dashoffset="8.3"/>
<path class="o w5 r" d="M257 254C260.1 255.8 263 254.2 263 256"/><path class="p w2 r" d="M257 254C260.1 255.8 263 254.2 263 256"/><path class="c w2" d="M257 254C260.1 255.8 263 254.2 263 256" stroke-dasharray="3.2 2" stroke-dashoffset="4"/>
<path class="o w5 r" d="M213 233C211 233 210.5 237.3 210 234"/><path class="c w2 r" d="M213 233C211 233 210.5 237.3 210 234"/><path class="p w2" d="M213 233C211 233 210.5 237.3 210 234" stroke-dasharray="2.8 3.4" stroke-dashoffset="2"/>
<path class="o w5 r" d="M257 232C260.2 231.9 258 239.2 261 236"/><path class="p w2 r" d="M257 232C260.2 231.9 258 239.2 261 236"/><path class="c w2" d="M257 232C260.2 231.9 258 239.2 261 236" stroke-dasharray="5.4 4" stroke-dashoffset="5.7"/>
<path class="o w5 r" d="M205 240C203 235.2 213 235.9 210 234"/><path class="p w2 r" d="M205 240C203 235.2 213 235.9 210 234"/><path class="c w2" d="M205 240C203 235.2 213 235.9 210 234" stroke-dasharray="5.9 5.8" stroke-dashoffset="0.2"/>
<path class="o w5 r" d="M229 258C231.1 261 243.3 261.8 237 260"/><path class="c w2 r" d="M229 258C231.1 261 243.3 261.8 237 260"/><path class="p w2" d="M229 258C231.1 261 243.3 261.8 237 260" stroke-dasharray="10.4 9.2" stroke-dashoffset="2.3"/>
<path class="o w5 r" d="M203 254C198.3 253.4 201.3 250.9 200.7 247.5"/><path class="p w2 r" d="M203 254C198.3 253.4 201.3 250.9 200.7 247.5"/><path class="c w2" d="M203 254C198.3 253.4 201.3 250.9 200.7 247.5" stroke-dasharray="5.4 3.3" stroke-dashoffset="3.6"/>
<path class="o w5 r" d="M237 260C238 261.6 237.4 263.6 237 264"/><path class="p w2 r" d="M237 260C238 261.6 237.4 263.6 237 264"/><path class="c w2" d="M237 260C238 261.6 237.4 263.6 237 264" stroke-dasharray="2.2 1.8" stroke-dashoffset="1.8"/>
<path class="o w5 r" d="M237 264C232 259.4 247 275.4 241 272"/><path class="c w2 r" d="M237 264C232 259.4 247 275.4 241 272"/><path class="p w2" d="M237 264C232 259.4 247 275.4 241 272" stroke-dasharray="15.7 11.5" stroke-dashoffset="15.3"/>
<path class="o w5 r" d="M263 256C263.8 252.2 262 252.9 261 248"/><path class="c w2 r" d="M263 256C263.8 252.2 262 252.9 261 248"/><path class="p w2" d="M263 256C263.8 252.2 262 252.9 261 248" stroke-dasharray="4.9 3.2" stroke-dashoffset="1.5"/>
<path class="o w5 r" d="M265 210C259.8 206.6 267.5 230.5 264.4 223.3"/><path class="p w2 r" d="M265 210C259.8 206.6 267.5 230.5 264.4 223.3"/><path class="c w2" d="M265 210C259.8 206.6 267.5 230.5 264.4 223.3" stroke-dasharray="20.9 9" stroke-dashoffset="14.6"/>
<path class="o w5 r" d="M261 236C255.9 240.3 263.8 230.9 261 226"/><path class="p w2 r" d="M261 236C255.9 240.3 263.8 230.9 261 226"/><path class="c w2" d="M261 236C255.9 240.3 263.8 230.9 261 226" stroke-dasharray="14.4 9.5" stroke-dashoffset="11.9"/>
<path class="o w5 r" d="M213 264C211.1 258 195.9 255.1 203 254"/><path class="p w2 r" d="M213 264C211.1 258 195.9 255.1 203 254"/><path class="c w2" d="M213 264C211.1 258 195.9 255.1 203 254" stroke-dasharray="12.3 9.9" stroke-dashoffset="4.5"/>
<path class="o w5 r" d="M241 272C248 274.7 243.5 263.8 237 260"/><path class="p w2 r" d="M241 272C248 274.7 243.5 263.8 237 260"/><path class="c w2" d="M241 272C248 274.7 243.5 263.8 237 260" stroke-dasharray="10.1 8.9" stroke-dashoffset="0"/>
<path class="o w5 r" d="M281 172C278.3 168 291.7 160.9 285 162"/><path class="p w2 r" d="M281 172C278.3 168 291.7 160.9 285 162"/><path class="c w2" d="M281 172C278.3 168 291.7 160.9 285 162" stroke-dasharray="10.9 7.4" stroke-dashoffset="5.3"/>
<path class="o w5 r" d="M177 236C171.8 227.7 165 241.2 168 248"/><path class="c w2 r" d="M177 236C171.8 227.7 165 241.2 168 248"/><path class="p w2" d="M177 236C171.8 227.7 165 241.2 168 248" stroke-dasharray="15.8 10.4" stroke-dashoffset="10.5"/>
<path class="o w5 r" d="M177 254C172.2 259.5 166.6 242.3 168 248"/><path class="p w2 r" d="M177 254C172.2 259.5 166.6 242.3 168 248"/><path class="c w2" d="M177 254C172.2 259.5 166.6 242.3 168 248" stroke-dasharray="10.1 6.3" stroke-dashoffset="4.3"/>
<path class="o w5 r" d="M232 138C234.6 138.1 232.2 131.9 232.9 132.6"/><path class="c w2 r" d="M232 138C234.6 138.1 232.2 131.9 232.9 132.6"/><path class="p w2" d="M232 138C234.6 138.1 232.2 131.9 232.9 132.6" stroke-dasharray="5.7 4.2" stroke-dashoffset="2.6"/>
<path class="o w5 r" d="M152 194C150.8 195.2 146.6 191.7 150 190"/><path class="c w2 r" d="M152 194C150.8 195.2 146.6 191.7 150 190"/><path class="p w2" d="M152 194C150.8 195.2 146.6 191.7 150 190" stroke-dasharray="4.5 4.5" stroke-dashoffset="2.2"/>
<path class="o w5 r" d="M236 151C239.7 150.4 240.2 154.2 238 154"/><path class="c w2 r" d="M236 151C239.7 150.4 240.2 154.2 238 154"/><path class="p w2" d="M236 151C239.7 150.4 240.2 154.2 238 154" stroke-dasharray="5.9 2.7" stroke-dashoffset="0.8"/>
<path class="o w5 r" d="M158 196C156.6 197.3 154 192.2 158.4 189.8"/><path class="c w2 r" d="M158 196C156.6 197.3 154 192.2 158.4 189.8"/><path class="p w2" d="M158 196C156.6 197.3 154 192.2 158.4 189.8" stroke-dasharray="5.6 3.7" stroke-dashoffset="0"/>
<path class="o w5 r" d="M238 154C242.2 152.7 235.8 147.1 234.9 150.1"/><path class="p w2 r" d="M238 154C242.2 152.7 235.8 147.1 234.9 150.1"/><path class="c w2" d="M238 154C242.2 152.7 235.8 147.1 234.9 150.1" stroke-dasharray="6.4 4.8" stroke-dashoffset="6.9"/>
<path class="o w5 r" d="M170 200C167 201.7 169.1 204.2 173.9 204"/><path class="c w2 r" d="M170 200C167 201.7 169.1 204.2 173.9 204"/><path class="p w2" d="M170 200C167 201.7 169.1 204.2 173.9 204" stroke-dasharray="5.8 4.8" stroke-dashoffset="4.3"/>
<path class="o w5 r" d="M208 190C212.4 191.3 211.7 195.1 207.4 195.2"/><path class="p w2 r" d="M208 190C212.4 191.3 211.7 195.1 207.4 195.2"/><path class="c w2" d="M208 190C212.4 191.3 211.7 195.1 207.4 195.2" stroke-dasharray="6.6 4.6" stroke-dashoffset="4.2"/>
<path class="o w5 r" d="M132 220C127.8 222 131.8 216.6 134 214"/><path class="c w2 r" d="M132 220C127.8 222 131.8 216.6 134 214"/><path class="p w2" d="M132 220C127.8 222 131.8 216.6 134 214" stroke-dasharray="5.8 5.3" stroke-dashoffset="4.7"/>
<path class="o w5 r" d="M200 204C203.6 204.6 198.7 198.7 195.5 199.9"/><path class="c w2 r" d="M200 204C203.6 204.6 198.7 198.7 195.5 199.9"/><path class="p w2" d="M200 204C203.6 204.6 198.7 198.7 195.5 199.9" stroke-dasharray="7.8 6.1" stroke-dashoffset="5.7"/>
<path class="o w5 r" d="M126 234C122.3 235.2 121 245.3 124 242"/><path class="c w2 r" d="M126 234C122.3 235.2 121 245.3 124 242"/><path class="p w2" d="M126 234C122.3 235.2 121 245.3 124 242" stroke-dasharray="8.5 5.3" stroke-dashoffset="2.4"/>
<path class="o w5 r" d="M196 214C198.7 214.4 196.6 217.5 192 219.7"/><path class="c w2 r" d="M196 214C198.7 214.4 196.6 217.5 192 219.7"/><path class="p w2" d="M196 214C198.7 214.4 196.6 217.5 192 219.7" stroke-dasharray="6.5 3.9" stroke-dashoffset="0.9"/>
<path class="o w5 r" d="M124 242C120 244.4 121.8 237.3 124.4 236.4"/><path class="c w2 r" d="M124 242C120 244.4 121.8 237.3 124.4 236.4"/><path class="p w2" d="M124 242C120 244.4 121.8 237.3 124.4 236.4" stroke-dasharray="6.1 4.6" stroke-dashoffset="0.3"/>
<path class="o w5 r" d="M196 224C198 223.2 192.8 222.7 192 226"/><path class="p w2 r" d="M196 224C198 223.2 192.8 222.7 192 226"/><path class="c w2" d="M196 224C198 223.2 192.8 222.7 192 226" stroke-dasharray="5.5 3.3" stroke-dashoffset="1.9"/>
<path class="o w5 r" d="M136 250C133.5 252.8 137 245.9 138.9 244.4"/><path class="c w2 r" d="M136 250C133.5 252.8 137 245.9 138.9 244.4"/><path class="p w2" d="M136 250C133.5 252.8 137 245.9 138.9 244.4" stroke-dasharray="3.6 4.6" stroke-dashoffset="6.6"/>
<path class="o w5 r" d="M192 226C191.9 222.8 190 220.1 187.9 224.2"/><path class="c w2 r" d="M192 226C191.9 222.8 190 220.1 187.9 224.2"/><path class="p w2" d="M192 226C191.9 222.8 190 220.1 187.9 224.2" stroke-dasharray="4.3 4.1" stroke-dashoffset="3.4"/>
<path class="o w5 r" d="M140 214C138.9 214.3 131.4 214.2 135.1 213.5"/><path class="p w2 r" d="M140 214C138.9 214.3 131.4 214.2 135.1 213.5"/><path class="c w2" d="M140 214C138.9 214.3 131.4 214.2 135.1 213.5" stroke-dasharray="4 5.2" stroke-dashoffset="1.7"/>
<path class="o w5 r" d="M206 178C210 176.5 213.8 188.8 208 190"/><path class="p w2 r" d="M206 178C210 176.5 213.8 188.8 208 190"/><path class="c w2" d="M206 178C210 176.5 213.8 188.8 208 190" stroke-dasharray="12.5 7.6" stroke-dashoffset="4.2"/>
<path class="o w5 r" d="M194 212C192.7 211.6 191.4 215 193 216"/><path class="p w2 r" d="M194 212C192.7 211.6 191.4 215 193 216"/><path class="c w2" d="M194 212C192.7 211.6 191.4 215 193 216" stroke-dasharray="3.5 1.7" stroke-dashoffset="2.3"/>
<path class="o w5 r" d="M196 250C196.4 254.7 199.6 249 200.7 247.5"/><path class="c w2 r" d="M196 250C196.4 254.7 199.6 249 200.7 247.5"/><path class="p w2" d="M196 250C196.4 254.7 199.6 249 200.7 247.5" stroke-dasharray="7 3.5" stroke-dashoffset="4"/>
<path class="o w5 r" d="M138 192C137.2 186.9 142.1 189.3 144 182"/><path class="p w2 r" d="M138 192C137.2 186.9 142.1 189.3 144 182"/><path class="c w2" d="M138 192C137.2 186.9 142.1 189.3 144 182" stroke-dasharray="8.1 4.4" stroke-dashoffset="7.2"/>
<path class="o w5 r" d="M134 214C131.3 218.8 132 210.9 134 208"/><path class="c w2 r" d="M134 214C131.3 218.8 132 210.9 134 208"/><path class="p w2" d="M134 214C131.3 218.8 132 210.9 134 208" stroke-dasharray="6.2 4.3" stroke-dashoffset="8.1"/>
<path class="o w5 r" d="M140 142C137.8 141.4 142.3 142.7 141.7 146.3"/><path class="c w2 r" d="M140 142C137.8 141.4 142.3 142.7 141.7 146.3"/><path class="p w2" d="M140 142C137.8 141.4 142.3 142.7 141.7 146.3" stroke-dasharray="5.8 2.2" stroke-dashoffset="4.8"/>
<path class="o w5 r" d="M158 162C159.5 164.1 162.5 161.3 162.5 157.6"/><path class="c w2 r" d="M158 162C159.5 164.1 162.5 161.3 162.5 157.6"/><path class="p w2" d="M158 162C159.5 164.1 162.5 161.3 162.5 157.6" stroke-dasharray="3.7 3.2" stroke-dashoffset="4"/>
<path class="o w5 r" d="M138 158C137.8 154.4 136.7 161.2 138 166"/><path class="c w2 r" d="M138 158C137.8 154.4 136.7 161.2 138 166"/><path class="p w2" d="M138 158C137.8 154.4 136.7 161.2 138 166" stroke-dasharray="4.9 5.5" stroke-dashoffset="1.3"/>
<path class="o w5 r" d="M122 156C118.4 155.7 124.4 160.2 125.4 158.9"/><path class="c w2 r" d="M122 156C118.4 155.7 124.4 160.2 125.4 158.9"/><path class="p w2" d="M122 156C118.4 155.7 124.4 160.2 125.4 158.9" stroke-dasharray="5.2 5.5" stroke-dashoffset="4.7"/>
<path class="o w5 r" d="M206 216C206 214.9 212.9 211.4 211.4 215.6"/><path class="c w2 r" d="M206 216C206 214.9 212.9 211.4 211.4 215.6"/><path class="p w2" d="M206 216C206 214.9 212.9 211.4 211.4 215.6" stroke-dasharray="4.5 4.4" stroke-dashoffset="0.9"/>
<path class="o w5 r" d="M210 234C210.3 235.1 217.3 231.5 213.8 228.4"/><path class="p w2 r" d="M210 234C210.3 235.1 217.3 231.5 213.8 228.4"/><path class="c w2" d="M210 234C210.3 235.1 217.3 231.5 213.8 228.4" stroke-dasharray="6.8 4" stroke-dashoffset="5.1"/>
<path class="o w5 r" d="M83.9 114.5C79.5 111.9 96.9 123.2 94 116"/><path class="p w2 r" d="M83.9 114.5C79.5 111.9 96.9 123.2 94 116"/><path class="c w2" d="M83.9 114.5C79.5 111.9 96.9 123.2 94 116" stroke-dasharray="16.9 12.8" stroke-dashoffset="5.1"/>
<path class="o w5 r" d="M105.4 118.9C110.4 119.1 95.9 123.4 96 118"/><path class="p w2 r" d="M105.4 118.9C110.4 119.1 95.9 123.4 96 118"/><path class="c w2" d="M105.4 118.9C110.4 119.1 95.9 123.4 96 118" stroke-dasharray="9.9 8.2" stroke-dashoffset="1.3"/>
<path class="o w5 r" d="M91.3 137.8C99.2 138.1 95.2 120.6 95 126"/><path class="p w2 r" d="M91.3 137.8C99.2 138.1 95.2 120.6 95 126"/><path class="c w2" d="M91.3 137.8C99.2 138.1 95.2 120.6 95 126" stroke-dasharray="8.4 10.9" stroke-dashoffset="13.9"/>
<path class="o w5 r" d="M149 137.6C145.8 135.9 143.1 138.2 144 140"/><path class="p w2 r" d="M149 137.6C145.8 135.9 143.1 138.2 144 140"/><path class="c w2" d="M149 137.6C145.8 135.9 143.1 138.2 144 140" stroke-dasharray="2.4 3.4" stroke-dashoffset="3.7"/>
<path class="o w5 r" d="M162.5 157.6C165.1 160.5 160 161.6 158 160"/><path class="c w2 r" d="M162.5 157.6C165.1 160.5 160 161.6 158 160"/><path class="p w2" d="M162.5 157.6C165.1 160.5 160 161.6 158 160" stroke-dasharray="5.5 3.4" stroke-dashoffset="4.9"/>
<path class="o w5 r" d="M187.8 87.6C185.1 80.6 183.6 100.2 189 98"/><path class="p w2 r" d="M187.8 87.6C185.1 80.6 183.6 100.2 189 98"/><path class="c w2" d="M187.8 87.6C185.1 80.6 183.6 100.2 189 98" stroke-dasharray="16.2 7.4" stroke-dashoffset="6.6"/>
<path class="o w5 r" d="M186.6 118.8C187.3 121.1 183.9 125.6 185 124"/><path class="p w2 r" d="M186.6 118.8C187.3 121.1 183.9 125.6 185 124"/><path class="c w2" d="M186.6 118.8C187.3 121.1 183.9 125.6 185 124" stroke-dasharray="3.8 2.4" stroke-dashoffset="1.2"/>
<path class="o w5 r" d="M195.3 99.7C193.1 96.9 191.1 105.8 195.2 108.4"/><path class="c w2 r" d="M195.3 99.7C193.1 96.9 191.1 105.8 195.2 108.4"/><path class="p w2" d="M195.3 99.7C193.1 96.9 191.1 105.8 195.2 108.4" stroke-dasharray="7.3 6.1" stroke-dashoffset="1.9"/>
<path class="o w5 r" d="M197.6 110.3C197.4 111.6 194.6 107 195.2 108.4"/><path class="c w2 r" d="M197.6 110.3C197.4 111.6 194.6 107 195.2 108.4"/><path class="p w2" d="M197.6 110.3C197.4 111.6 194.6 107 195.2 108.4" stroke-dasharray="3 2.9" stroke-dashoffset="3.7"/>
<path class="o w5 r" d="M215.3 95.6C211.6 90.6 220 97.1 229 98.1"/><path class="c w2 r" d="M215.3 95.6C211.6 90.6 220 97.1 229 98.1"/><path class="p w2" d="M215.3 95.6C211.6 90.6 220 97.1 229 98.1" stroke-dasharray="6.9 10.4" stroke-dashoffset="11.1"/>
<path class="o w5 r" d="M233.7 114.8C233.9 116.7 232.2 114.4 232 111.7"/><path class="p w2 r" d="M233.7 114.8C233.9 116.7 232.2 114.4 232 111.7"/><path class="c w2" d="M233.7 114.8C233.9 116.7 232.2 114.4 232 111.7" stroke-dasharray="2.9 2.6" stroke-dashoffset="3.4"/>
<path class="o w5 r" d="M229 98.1C223 96.4 217.5 86.9 221 92"/><path class="p w2 r" d="M229 98.1C223 96.4 217.5 86.9 221 92"/><path class="c w2" d="M229 98.1C223 96.4 217.5 86.9 221 92" stroke-dasharray="13.1 9.1" stroke-dashoffset="1.8"/>
<path class="o w5 r" d="M232 111.7C230 113.6 236 116.6 237 114"/><path class="c w2 r" d="M232 111.7C230 113.6 236 116.6 237 114"/><path class="p w2" d="M232 111.7C230 113.6 236 116.6 237 114" stroke-dasharray="3.1 2.9" stroke-dashoffset="4.1"/>
<path class="o w5 r" d="M195.2 108.4C191.9 106.7 204.1 113.6 203 110"/><path class="p w2 r" d="M195.2 108.4C191.9 106.7 204.1 113.6 203 110"/><path class="c w2" d="M195.2 108.4C191.9 106.7 204.1 113.6 203 110" stroke-dasharray="8.3 5" stroke-dashoffset="5"/>
<path class="o w5 r" d="M214.2 115C215 118.2 217.7 118.9 218.4 117"/><path class="c w2 r" d="M214.2 115C215 118.2 217.7 118.9 218.4 117"/><path class="p w2" d="M214.2 115C215 118.2 217.7 118.9 218.4 117" stroke-dasharray="4.6 1.7" stroke-dashoffset="0.2"/>
<path class="o w5 r" d="M185.6 119.5C179 119.5 186.8 111.8 193 113"/><path class="c w2 r" d="M185.6 119.5C179 119.5 186.8 111.8 193 113"/><path class="p w2" d="M185.6 119.5C179 119.5 186.8 111.8 193 113" stroke-dasharray="6.3 6.4" stroke-dashoffset="1.4"/>
<path class="o w5 r" d="M188.7 143C186 144.7 183.9 139.7 185 140"/><path class="p w2 r" d="M188.7 143C186 144.7 183.9 139.7 185 140"/><path class="c w2" d="M188.7 143C186 144.7 183.9 139.7 185 140" stroke-dasharray="2.5 3.5" stroke-dashoffset="3.6"/>
<path class="o w5 r" d="M218.4 117C216.3 117.3 215.1 120.4 213 120"/><path class="c w2 r" d="M218.4 117C216.3 117.3 215.1 120.4 213 120"/><path class="p w2" d="M218.4 117C216.3 117.3 215.1 120.4 213 120" stroke-dasharray="4.2 2.8" stroke-dashoffset="1.5"/>
<path class="o w5 r" d="M229.5 132.8C227.1 132.9 230.7 131.3 232.9 132.6"/><path class="c w2 r" d="M229.5 132.8C227.1 132.9 230.7 131.3 232.9 132.6"/><path class="p w2" d="M229.5 132.8C227.1 132.9 230.7 131.3 232.9 132.6" stroke-dasharray="5.3 3.2" stroke-dashoffset="1.1"/>
<path class="o w5 r" d="M252.8 109.8C248.5 108 247.2 103.6 247 106"/><path class="p w2 r" d="M252.8 109.8C248.5 108 247.2 103.6 247 106"/><path class="c w2" d="M252.8 109.8C248.5 108 247.2 103.6 247 106" stroke-dasharray="6.7 4" stroke-dashoffset="2"/>
<path class="o w5 r" d="M268.4 119.2C272.6 119.9 276.5 117.2 273 116"/><path class="c w2 r" d="M268.4 119.2C272.6 119.9 276.5 117.2 273 116"/><path class="p w2" d="M268.4 119.2C272.6 119.9 276.5 117.2 273 116" stroke-dasharray="5.7 4.2" stroke-dashoffset="0.4"/>
<path class="o w5 r" d="M283 114.4C277.8 112.9 276.5 117.9 273 116"/><path class="p w2 r" d="M283 114.4C277.8 112.9 276.5 117.9 273 116"/><path class="c w2" d="M283 114.4C277.8 112.9 276.5 117.9 273 116" stroke-dasharray="5.8 3.6" stroke-dashoffset="6.4"/>
<path class="o w5 r" d="M301.8 131.9C309.7 143.1 302.5 160.2 297 152"/><path class="p w2 r" d="M301.8 131.9C309.7 143.1 302.5 160.2 297 152"/><path class="c w2" d="M301.8 131.9C309.7 143.1 302.5 160.2 297 152" stroke-dasharray="20.3 15.9" stroke-dashoffset="15.6"/>
<path class="o w5 r" d="M232.9 132.6C230.8 129.8 235.5 123.9 237 128"/><path class="c w2 r" d="M232.9 132.6C230.8 129.8 235.5 123.9 237 128"/><path class="p w2" d="M232.9 132.6C230.8 129.8 235.5 123.9 237 128" stroke-dasharray="7.9 4" stroke-dashoffset="7.5"/>
<path class="o w5 r" d="M244.7 146.3C249.1 150.4 243.1 153.2 245.6 154.4"/><path class="p w2 r" d="M244.7 146.3C249.1 150.4 243.1 153.2 245.6 154.4"/><path class="c w2" d="M244.7 146.3C249.1 150.4 243.1 153.2 245.6 154.4" stroke-dasharray="8.7 6.3" stroke-dashoffset="6.5"/>
<path class="o w5 r" d="M216 130.2C219.1 128.1 213 121.5 219 122"/><path class="p w2 r" d="M216 130.2C219.1 128.1 213 121.5 219 122"/><path class="c w2" d="M216 130.2C219.1 128.1 213 121.5 219 122" stroke-dasharray="5.3 7.6" stroke-dashoffset="4.4"/>
<path class="o w5 r" d="M233.4 156.7C229.1 157.6 229.1 153.4 231 152"/><path class="p w2 r" d="M233.4 156.7C229.1 157.6 229.1 153.4 231 152"/><path class="c w2" d="M233.4 156.7C229.1 157.6 229.1 153.4 231 152" stroke-dasharray="6.4 2.3" stroke-dashoffset="2.9"/>
<path class="o w5 r" d="M254.9 156.9C261.3 156.2 240.6 154.9 245.6 154.4"/><path class="p w2 r" d="M254.9 156.9C261.3 156.2 240.6 154.9 245.6 154.4"/><path class="c w2" d="M254.9 156.9C261.3 156.2 240.6 154.9 245.6 154.4" stroke-dasharray="9.5 9.6" stroke-dashoffset="11.4"/>
<path class="o w5 r" d="M90.3 175.1C83.9 172.4 84.5 159.9 90 162"/><path class="c w2 r" d="M90.3 175.1C83.9 172.4 84.5 159.9 90 162"/><path class="p w2" d="M90.3 175.1C83.9 172.4 84.5 159.9 90 162" stroke-dasharray="6.5 8.4" stroke-dashoffset="1.1"/>
<path class="o w5 r" d="M106.1 195.1C110.6 201.9 114.8 178 114 185"/><path class="c w2 r" d="M106.1 195.1C110.6 201.9 114.8 178 114 185"/><path class="p w2" d="M106.1 195.1C110.6 201.9 114.8 178 114 185" stroke-dasharray="11 8.2" stroke-dashoffset="7.6"/>
<path class="o w5 r" d="M82.4 196.4C84.6 190 74.6 180.5 78 186"/><path class="c w2 r" d="M82.4 196.4C84.6 190 74.6 180.5 78 186"/><path class="p w2" d="M82.4 196.4C84.6 190 74.6 180.5 78 186" stroke-dasharray="9.7 6.3" stroke-dashoffset="10.8"/>
<path class="o w5 r" d="M91.8 207.8C96.2 206.6 95.9 212.5 92 213"/><path class="c w2 r" d="M91.8 207.8C96.2 206.6 95.9 212.5 92 213"/><path class="p w2" d="M91.8 207.8C96.2 206.6 95.9 212.5 92 213" stroke-dasharray="7.9 4" stroke-dashoffset="3.1"/>
<path class="o w5 r" d="M152.7 170.9C147.3 171.1 158 159.1 158 164"/><path class="p w2 r" d="M152.7 170.9C147.3 171.1 158 159.1 158 164"/><path class="c w2" d="M152.7 170.9C147.3 171.1 158 159.1 158 164" stroke-dasharray="11.7 7.4" stroke-dashoffset="4.5"/>
<path class="o w5 r" d="M177.2 172.7C177.7 171.2 181.2 166.7 177 168"/><path class="c w2 r" d="M177.2 172.7C177.7 171.2 181.2 166.7 177 168"/><path class="p w2" d="M177.2 172.7C177.7 171.2 181.2 166.7 177 168" stroke-dasharray="6.8 4" stroke-dashoffset="0.6"/>
<path class="o w5 r" d="M245.6 154.4C243 151.7 241.1 152 238 154"/><path class="c w2 r" d="M245.6 154.4C243 151.7 241.1 152 238 154"/><path class="p w2" d="M245.6 154.4C243 151.7 241.1 152 238 154" stroke-dasharray="3.8 4.1" stroke-dashoffset="3.3"/>
<path class="o w5 r" d="M280.9 156.3C289 156.2 275 165.5 281 172"/><path class="c w2 r" d="M280.9 156.3C289 156.2 275 165.5 281 172"/><path class="p w2" d="M280.9 156.3C289 156.2 275 165.5 281 172" stroke-dasharray="16.7 11.3" stroke-dashoffset="15.1"/>
<path class="o w5 r" d="M211.4 215.6C212.8 210.1 207.1 208.8 210 208"/><path class="c w2 r" d="M211.4 215.6C212.8 210.1 207.1 208.8 210 208"/><path class="p w2" d="M211.4 215.6C212.8 210.1 207.1 208.8 210 208" stroke-dasharray="5.1 3.5" stroke-dashoffset="2.7"/>
<path class="o w5 r" d="M213.8 228.4C217.7 230.3 208.5 232.7 213 233"/><path class="p w2 r" d="M213.8 228.4C217.7 230.3 208.5 232.7 213 233"/><path class="c w2" d="M213.8 228.4C217.7 230.3 208.5 232.7 213 233" stroke-dasharray="5.2 5.3" stroke-dashoffset="5.3"/>
<path class="o w5 r" d="M246.3 207.3C249.5 208.5 250.1 205.6 250.4 205.3"/><path class="p w2 r" d="M246.3 207.3C249.5 208.5 250.1 205.6 250.4 205.3"/><path class="c w2" d="M246.3 207.3C249.5 208.5 250.1 205.6 250.4 205.3" stroke-dasharray="3.6 2.5" stroke-dashoffset="1.1"/>
<path class="o w5 r" d="M250.4 205.3C247.3 201.5 248.6 212.9 247 212"/><path class="p w2 r" d="M250.4 205.3C247.3 201.5 248.6 212.9 247 212"/><path class="c w2" d="M250.4 205.3C247.3 201.5 248.6 212.9 247 212" stroke-dasharray="6.8 5.1" stroke-dashoffset="6.8"/>
<path class="o w5 r" d="M264.4 223.3C267.7 229.8 261.5 223.9 254.3 225.6"/><path class="p w2 r" d="M264.4 223.3C267.7 229.8 261.5 223.9 254.3 225.6"/><path class="c w2" d="M264.4 223.3C267.7 229.8 261.5 223.9 254.3 225.6" stroke-dasharray="10.1 5.5" stroke-dashoffset="10.6"/>
<path class="o w5 r" d="M231.5 212C228.7 205.2 245.3 211 240 208"/><path class="p w2 r" d="M231.5 212C228.7 205.2 245.3 211 240 208"/><path class="c w2" d="M231.5 212C228.7 205.2 245.3 211 240 208" stroke-dasharray="11.3 6.7" stroke-dashoffset="15.2"/>
<path class="o w5 r" d="M246.9 250.1C248.4 255.8 262.8 257.6 257 254"/><path class="p w2 r" d="M246.9 250.1C248.4 255.8 262.8 257.6 257 254"/><path class="c w2" d="M246.9 250.1C248.4 255.8 262.8 257.6 257 254" stroke-dasharray="15.5 11.8" stroke-dashoffset="13.2"/>
<path class="o w5 r" d="M214.5 226.5C209.9 228.4 215.1 235.4 211 232"/><path class="c w2 r" d="M214.5 226.5C209.9 228.4 215.1 235.4 211 232"/><path class="p w2" d="M214.5 226.5C209.9 228.4 215.1 235.4 211 232" stroke-dasharray="10.9 8.2" stroke-dashoffset="7.6"/>
<path class="o w5 r" d="M254.3 225.6C256.1 224.8 261.1 228.5 261 226"/><path class="p w2 r" d="M254.3 225.6C256.1 224.8 261.1 228.5 261 226"/><path class="c w2" d="M254.3 225.6C256.1 224.8 261.1 228.5 261 226" stroke-dasharray="4.6 3.7" stroke-dashoffset="5.3"/>
<path class="o w5 r" d="M149.8 182.9C148.8 185.7 145.7 184 146 180"/><path class="c w2 r" d="M149.8 182.9C148.8 185.7 145.7 184 146 180"/><path class="p w2" d="M149.8 182.9C148.8 185.7 145.7 184 146 180" stroke-dasharray="5.2 4.1" stroke-dashoffset="1.9"/>
<path class="o w5 r" d="M226.3 134.3C230.1 134.3 228.5 133.1 229.5 132.8"/><path class="c w2 r" d="M226.3 134.3C230.1 134.3 228.5 133.1 229.5 132.8"/><path class="p w2" d="M226.3 134.3C230.1 134.3 228.5 133.1 229.5 132.8" stroke-dasharray="3.2 2" stroke-dashoffset="1.6"/>
<path class="o w5 r" d="M157.3 196.1C156.5 197.1 148.2 197.3 152 194"/><path class="c w2 r" d="M157.3 196.1C156.5 197.1 148.2 197.3 152 194"/><path class="p w2" d="M157.3 196.1C156.5 197.1 148.2 197.3 152 194" stroke-dasharray="6.4 3.5" stroke-dashoffset="1.1"/>
<path class="o w5 r" d="M233.3 156.3C234.4 156.1 227.2 151.5 231 152"/><path class="c w2 r" d="M233.3 156.3C234.4 156.1 227.2 151.5 231 152"/><path class="p w2" d="M233.3 156.3C234.4 156.1 227.2 151.5 231 152" stroke-dasharray="6.1 5.8" stroke-dashoffset="1.3"/>
<path class="o w5 r" d="M158.4 189.8C153.9 193.1 154.9 199.1 157.3 196.1"/><path class="p w2 r" d="M158.4 189.8C153.9 193.1 154.9 199.1 157.3 196.1"/><path class="c w2" d="M158.4 189.8C153.9 193.1 154.9 199.1 157.3 196.1" stroke-dasharray="7.8 3.3" stroke-dashoffset="0.8"/>
<path class="o w5 r" d="M234.9 150.1C239.2 150.6 238.8 154.3 233.3 156.3"/><path class="p w2 r" d="M234.9 150.1C239.2 150.6 238.8 154.3 233.3 156.3"/><path class="c w2" d="M234.9 150.1C239.2 150.6 238.8 154.3 233.3 156.3" stroke-dasharray="4.8 3.1" stroke-dashoffset="1.8"/>
<path class="o w5 r" d="M173.9 204C162.9 206.7 150.7 202.2 158 196"/><path class="c w2 r" d="M173.9 204C162.9 206.7 150.7 202.2 158 196"/><path class="p w2" d="M173.9 204C162.9 206.7 150.7 202.2 158 196" stroke-dasharray="14.7 7.4" stroke-dashoffset="1.2"/>
<path class="o w5 r" d="M207.4 195.2C214.1 194.6 209.6 203.7 212.4 202.7"/><path class="c w2 r" d="M207.4 195.2C214.1 194.6 209.6 203.7 212.4 202.7"/><path class="p w2" d="M207.4 195.2C214.1 194.6 209.6 203.7 212.4 202.7" stroke-dasharray="9.4 4.8" stroke-dashoffset="8.5"/>
<path class="o w5 r" d="M135.1 213.5C130.8 215 133.8 209.9 134 208"/><path class="p w2 r" d="M135.1 213.5C130.8 215 133.8 209.9 134 208"/><path class="c w2" d="M135.1 213.5C130.8 215 133.8 209.9 134 208" stroke-dasharray="4.7 5.1" stroke-dashoffset="4.4"/>
<path class="o w5 r" d="M195.5 199.9C200.7 199.2 195.2 205.2 194 212"/><path class="p w2 r" d="M195.5 199.9C200.7 199.2 195.2 205.2 194 212"/><path class="c w2" d="M195.5 199.9C200.7 199.2 195.2 205.2 194 212" stroke-dasharray="11.4 7.1" stroke-dashoffset="8.8"/>
<path class="o w5 r" d="M124.4 236.4C114.5 238.6 130.9 247 138.9 244.4"/><path class="c w2 r" d="M124.4 236.4C114.5 238.6 130.9 247 138.9 244.4"/><path class="p w2" d="M124.4 236.4C114.5 238.6 130.9 247 138.9 244.4" stroke-dasharray="14.8 13.7" stroke-dashoffset="10.1"/>
<path class="o w5 r" d="M192 219.7C193.4 218.4 191.2 214.2 193 216"/><path class="c w2 r" d="M192 219.7C193.4 218.4 191.2 214.2 193 216"/><path class="p w2" d="M192 219.7C193.4 218.4 191.2 214.2 193 216" stroke-dasharray="4.8 3.5" stroke-dashoffset="3.7"/>
<path class="o w5 r" d="M138.9 244.4C130.3 245 117.7 242.6 124 242"/><path class="c w2 r" d="M138.9 244.4C130.3 245 117.7 242.6 124 242"/><path class="p w2" d="M138.9 244.4C130.3 245 117.7 242.6 124 242" stroke-dasharray="9.4 6.9" stroke-dashoffset="10.4"/>
<path class="o w5 r" d="M187.9 224.2C188.8 222.5 196.9 219.8 192 219.7"/><path class="c w2 r" d="M187.9 224.2C188.8 222.5 196.9 219.8 192 219.7"/><path class="p w2" d="M187.9 224.2C188.8 222.5 196.9 219.8 192 219.7" stroke-dasharray="6.7 5" stroke-dashoffset="3.1"/>
<path class="o w5 r" d="M198.9 214C200.6 209.2 192.8 207.5 194 212"/><path class="c w2 r" d="M198.9 214C200.6 209.2 192.8 207.5 194 212"/><path class="p w2" d="M198.9 214C200.6 209.2 192.8 207.5 194 212" stroke-dasharray="9.4 6.1" stroke-dashoffset="0.4"/>
<path class="o w5 r" d="M200.7 247.5C202 252.7 201.5 261.7 199 256"/><path class="c w2 r" d="M200.7 247.5C202 252.7 201.5 261.7 199 256"/><path class="p w2" d="M200.7 247.5C202 252.7 201.5 261.7 199 256" stroke-dasharray="8.4 5.1" stroke-dashoffset="3.1"/>
<path class="o w5 r" d="M125.4 158.9C120.1 163 137 156.8 134 160"/><path class="c w2 r" d="M125.4 158.9C120.1 163 137 156.8 134 160"/><path class="p w2" d="M125.4 158.9C120.1 163 137 156.8 134 160" stroke-dasharray="7.4 6.7" stroke-dashoffset="4.4"/>
<path class="o w5 r" d="M141.7 146.3C144.3 144.6 142 139.3 140 142"/><path class="c w2 r" d="M141.7 146.3C144.3 144.6 142 139.3 140 142"/><path class="p w2" d="M141.7 146.3C144.3 144.6 142 139.3 140 142" stroke-dasharray="6.3 5.5" stroke-dashoffset="3.4"/>
<path class="o w5 r" d="M212.4 202.7C211.9 204.2 213 203.4 215.6 202"/><path class="c w2 r" d="M212.4 202.7C211.9 204.2 213 203.4 215.6 202"/><path class="p w2" d="M212.4 202.7C211.9 204.2 213 203.4 215.6 202" stroke-dasharray="2.6 2" stroke-dashoffset="1.6"/>
<path class="o w5 r" d="M238.8 203C242.2 201.8 240.8 207.1 240 208"/><path class="c w2 r" d="M238.8 203C242.2 201.8 240.8 207.1 240 208"/><path class="p w2" d="M238.8 203C242.2 201.8 240.8 207.1 240 208" stroke-dasharray="6 3.1" stroke-dashoffset="3.2"/>
<path class="o w5 r" d="M82.2 58.7Q89.4 59.4 97.1 53"/><path class="c w2 r" d="M82.2 58.7Q89.4 59.4 97.1 53"/>
<path class="o w5 r" d="M70.7 55.5Q77.4 55.9 91.9 60.7"/><path class="c w2 r" d="M70.7 55.5Q77.4 55.9 91.9 60.7"/>
<path class="o w5 r" d="M67.5 67.8Q73.3 67.8 87.1 61.8"/><path class="c w2 r" d="M67.5 67.8Q73.3 67.8 87.1 61.8"/>
<path class="o w5 r" d="M88.6 82.6Q107.3 79.2 119.9 73.7"/><path class="c w2 r" d="M88.6 82.6Q107.3 79.2 119.9 73.7"/>
<path class="o w5 r" d="M124.2 82.4Q145.8 87.9 170.6 111.5"/><path class="c w2 r" d="M124.2 82.4Q145.8 87.9 170.6 111.5"/>
<path class="o w5 r" d="M122.3 94.7Q120.4 100.5 115.4 111.3"/><path class="c w2 r" d="M122.3 94.7Q120.4 100.5 115.4 111.3"/>
<path class="o w5 r" d="M111.4 104.4Q114.3 108.2 124.8 107.4"/><path class="c w2 r" d="M111.4 104.4Q114.3 108.2 124.8 107.4"/>
<path class="o w5 r" d="M121.8 109.7Q135 114.6 141.6 123.2"/><path class="c w2 r" d="M121.8 109.7Q135 114.6 141.6 123.2"/>
<path class="o w5 r" d="M166.8 100.7Q161.2 110 157.6 122.5"/><path class="c w2 r" d="M166.8 100.7Q161.2 110 157.6 122.5"/>
<path class="o w5 r" d="M69 123.7Q80.2 117.8 88.2 118.5"/><path class="c w2 r" d="M69 123.7Q80.2 117.8 88.2 118.5"/>
<path class="o w5 r" d="M79.2 123.1Q91.7 123.5 109.6 131.2"/><path class="p w2 r" d="M79.2 123.1Q91.7 123.5 109.6 131.2"/><path class="c w2" d="M79.2 123.1Q91.7 123.5 109.6 131.2" stroke-dasharray="11.3 10.3" stroke-dashoffset="9.3"/>
<path class="o w5 r" d="M111.8 133.8Q104.4 144 102.6 146.5"/><path class="p w2 r" d="M111.8 133.8Q104.4 144 102.6 146.5"/><path class="c w2" d="M111.8 133.8Q104.4 144 102.6 146.5" stroke-dasharray="9.3 3.8" stroke-dashoffset="5"/>
<path class="o w5 r" d="M68.1 153.2Q84.7 149 94.9 146.2"/><path class="c w2 r" d="M68.1 153.2Q84.7 149 94.9 146.2"/><path class="p w2" d="M68.1 153.2Q84.7 149 94.9 146.2" stroke-dasharray="14.1 9.5" stroke-dashoffset="5.1"/>
<path class="o w5 r" d="M134 137.6Q120.9 154.4 123.5 160.3"/><path class="p w2 r" d="M134 137.6Q120.9 154.4 123.5 160.3"/><path class="c w2" d="M134 137.6Q120.9 154.4 123.5 160.3" stroke-dasharray="14.7 10.8" stroke-dashoffset="8.5"/>
<path class="o w5 r" d="M140.8 143Q153.7 150.5 152.8 162.2"/><path class="c w2 r" d="M140.8 143Q153.7 150.5 152.8 162.2"/><path class="p w2" d="M140.8 143Q153.7 150.5 152.8 162.2" stroke-dasharray="13.6 9.8" stroke-dashoffset="4.6"/>
<path class="o w5 r" d="M186.7 83.7Q191 96.4 186.3 121.8"/><path class="p w2 r" d="M186.7 83.7Q191 96.4 186.3 121.8"/><path class="c w2" d="M186.7 83.7Q191 96.4 186.3 121.8" stroke-dasharray="20.3 11.3" stroke-dashoffset="14.4"/>
<path class="o w5 r" d="M195.8 97.6Q195.2 104.4 198.1 111.5"/><path class="p w2 r" d="M195.8 97.6Q195.2 104.4 198.1 111.5"/><path class="c w2" d="M195.8 97.6Q195.2 104.4 198.1 111.5" stroke-dasharray="5.2 4.4" stroke-dashoffset="0.8"/>
<path class="o w5 r" d="M216 93.6Q224.4 100.2 217.7 106.9"/><path class="p w2 r" d="M216 93.6Q224.4 100.2 217.7 106.9"/><path class="c w2" d="M216 93.6Q224.4 100.2 217.7 106.9" stroke-dasharray="6.1 3.2" stroke-dashoffset="1.3"/>
<path class="o w5 r" d="M228 98Q237.6 93.7 232.7 114.2"/><path class="p w2 r" d="M228 98Q237.6 93.7 232.7 114.2"/><path class="c w2" d="M228 98Q237.6 93.7 232.7 114.2" stroke-dasharray="11.3 7.2" stroke-dashoffset="3"/>
<path class="o w5 r" d="M194.3 109.2Q210.5 108.5 215.7 114.9"/><path class="c w2 r" d="M194.3 109.2Q210.5 108.5 215.7 114.9"/><path class="p w2" d="M194.3 109.2Q210.5 108.5 215.7 114.9" stroke-dasharray="7.7 7.5" stroke-dashoffset="8.4"/>
<path class="o w5 r" d="M252.5 105.6Q249 123.2 255.6 125.2"/><path class="c w2 r" d="M252.5 105.6Q249 123.2 255.6 125.2"/><path class="p w2" d="M252.5 105.6Q249 123.2 255.6 125.2" stroke-dasharray="8.4 8.2" stroke-dashoffset="5.1"/>
<path class="o w5 r" d="M250 107.6Q265.2 113.1 269.2 120"/><path class="c w2 r" d="M250 107.6Q265.2 113.1 269.2 120"/><path class="p w2" d="M250 107.6Q265.2 113.1 269.2 120" stroke-dasharray="9.8 10.3" stroke-dashoffset="8.3"/>
<path class="o w5 r" d="M255.7 110.3C257.6 109.5 262.6 104.7 267 105.7C271.4 106.7 278.8 112.8 282 116.1C285.2 119.4 285.3 123.8 286 125.3"/><path class="p w2 r" d="M255.7 110.3C257.6 109.5 262.6 104.7 267 105.7C271.4 106.7 278.8 112.8 282 116.1C285.2 119.4 285.3 123.8 286 125.3"/><path class="c w2" d="M255.7 110.3C257.6 109.5 262.6 104.7 267 105.7C271.4 106.7 278.8 112.8 282 116.1C285.2 119.4 285.3 123.8 286 125.3" stroke-dasharray="12 17.9" stroke-dashoffset="4.6"/>
<path class="o w5 r" d="M279.8 115.3Q291.1 111.2 302.6 135.2"/><path class="p w2 r" d="M279.8 115.3Q291.1 111.2 302.6 135.2"/><path class="c w2" d="M279.8 115.3Q291.1 111.2 302.6 135.2" stroke-dasharray="10.9 10.3" stroke-dashoffset="15.3"/>
<path class="o w5 r" d="M249.4 137.1C252.1 137.1 259.4 135.8 265.7 136.6C271.9 137.4 282.5 139.2 286.9 142.1C291.2 145 290.9 151.9 291.8 153.9"/><path class="p w2 r" d="M249.4 137.1C252.1 137.1 259.4 135.8 265.7 136.6C271.9 137.4 282.5 139.2 286.9 142.1C291.2 145 290.9 151.9 291.8 153.9"/><path class="c w2" d="M249.4 137.1C252.1 137.1 259.4 135.8 265.7 136.6C271.9 137.4 282.5 139.2 286.9 142.1C291.2 145 290.9 151.9 291.8 153.9" stroke-dasharray="25.6 20.8" stroke-dashoffset="2.3"/>
<path class="o w5 r" d="M232.6 130.4Q239.4 138.1 247 146.2"/><path class="c w2 r" d="M232.6 130.4Q239.4 138.1 247 146.2"/><path class="p w2" d="M232.6 130.4Q239.4 138.1 247 146.2" stroke-dasharray="12.8 7.2" stroke-dashoffset="5.7"/>
<path class="o w5 r" d="M196.3 139.7Q215.1 149.6 223.2 136.4"/><path class="p w2 r" d="M196.3 139.7Q215.1 149.6 223.2 136.4"/><path class="c w2" d="M196.3 139.7Q215.1 149.6 223.2 136.4" stroke-dasharray="17.3 13.2" stroke-dashoffset="1.5"/>
<path class="o w5 r" d="M258.2 136.2Q275.5 137.5 283.6 153.4"/><path class="c w2 r" d="M258.2 136.2Q275.5 137.5 283.6 153.4"/><path class="p w2" d="M258.2 136.2Q275.5 137.5 283.6 153.4" stroke-dasharray="12.7 11.7" stroke-dashoffset="1.9"/>
<path class="o w5 r" d="M173.1 133Q185.9 160.2 198.8 162.4"/><path class="p w2 r" d="M173.1 133Q185.9 160.2 198.8 162.4"/><path class="c w2" d="M173.1 133Q185.9 160.2 198.8 162.4" stroke-dasharray="13.9 12.8" stroke-dashoffset="15.8"/>
<path class="o w5 r" d="M203 128.9Q211.7 153.5 232.3 150.7"/><path class="c w2 r" d="M203 128.9Q211.7 153.5 232.3 150.7"/><path class="p w2" d="M203 128.9Q211.7 153.5 232.3 150.7" stroke-dasharray="20.6 14.5" stroke-dashoffset="1.7"/>
<path class="o w5 r" d="M62.8 170.2Q77.4 166.9 90.5 170"/><path class="p w2 r" d="M62.8 170.2Q77.4 166.9 90.5 170"/><path class="c w2" d="M62.8 170.2Q77.4 166.9 90.5 170" stroke-dasharray="13.5 7.6" stroke-dashoffset="7.1"/>
<path class="o w5 r" d="M90.6 158.5Q101.7 168.4 109.9 160.6"/><path class="c w2 r" d="M90.6 158.5Q101.7 168.4 109.9 160.6"/><path class="p w2" d="M90.6 158.5Q101.7 168.4 109.9 160.6" stroke-dasharray="6.2 8.8" stroke-dashoffset="1.1"/>
<path class="o w5 r" d="M87.6 175.3Q106.9 188.2 105.2 195.6"/><path class="p w2 r" d="M87.6 175.3Q106.9 188.2 105.2 195.6"/><path class="c w2" d="M87.6 175.3Q106.9 188.2 105.2 195.6" stroke-dasharray="15.7 6.9" stroke-dashoffset="7.2"/>
<path class="o w5 r" d="M109.8 185.3Q112.4 200.1 107.1 214.7"/><path class="p w2 r" d="M109.8 185.3Q112.4 200.1 107.1 214.7"/><path class="c w2" d="M109.8 185.3Q112.4 200.1 107.1 214.7" stroke-dasharray="16.7 13.4" stroke-dashoffset="4.3"/>
<path class="o w5 r" d="M120.9 159.8Q122.4 172.4 129.7 185.3"/><path class="c w2 r" d="M120.9 159.8Q122.4 172.4 129.7 185.3"/>
<path class="o w5 r" d="M129.6 158.5Q128.5 166.2 123.6 177.6"/><path class="c w2 r" d="M129.6 158.5Q128.5 166.2 123.6 177.6"/>
<path class="o w5 r" d="M140 164Q157.7 178.5 148.3 182.2"/><path class="c w2 r" d="M140 164Q157.7 178.5 148.3 182.2"/>
<path class="o w5 r" d="M133.2 216.1C134.4 218.8 137 228.5 140.3 232.4C143.6 236.3 148.1 238.9 152.8 239.5C157.4 240.1 165.7 236.6 168.2 236.1"/><path class="p w2 r" d="M133.2 216.1C134.4 218.8 137 228.5 140.3 232.4C143.6 236.3 148.1 238.9 152.8 239.5C157.4 240.1 165.7 236.6 168.2 236.1"/><path class="c w2" d="M133.2 216.1C134.4 218.8 137 228.5 140.3 232.4C143.6 236.3 148.1 238.9 152.8 239.5C157.4 240.1 165.7 236.6 168.2 236.1" stroke-dasharray="27 16.1" stroke-dashoffset="5.1"/>
<path class="o w5 r" d="M162.8 162.9Q167.5 178.6 159.9 197.3"/><path class="c w2 r" d="M162.8 162.9Q167.5 178.6 159.9 197.3"/><path class="p w2" d="M162.8 162.9Q167.5 178.6 159.9 197.3" stroke-dasharray="12.9 11.3" stroke-dashoffset="0.1"/>
<path class="o w5 r" d="M171.2 246.5Q170.1 251.9 176 254.2"/><path class="c w2 r" d="M171.2 246.5Q170.1 251.9 176 254.2"/><path class="p w2" d="M171.2 246.5Q170.1 251.9 176 254.2" stroke-dasharray="4.7 4.3" stroke-dashoffset="4.8"/>
<path class="o w5 r" d="M150.5 170.7Q169.7 181.8 178.3 172.9"/><path class="p w2 r" d="M150.5 170.7Q169.7 181.8 178.3 172.9"/><path class="c w2" d="M150.5 170.7Q169.7 181.8 178.3 172.9" stroke-dasharray="13 9.2" stroke-dashoffset="11.2"/>
<path class="o w5 r" d="M244.9 154.7Q261.8 160.1 283.4 156.3"/><path class="c w2 r" d="M244.9 154.7Q261.8 160.1 283.4 156.3"/><path class="p w2" d="M244.9 154.7Q261.8 160.1 283.4 156.3" stroke-dasharray="12.8 10.4" stroke-dashoffset="13.7"/>
<path class="o w5 r" d="M227.3 164.5Q260.4 177.7 282 180.8"/><path class="p w2 r" d="M227.3 164.5Q260.4 177.7 282 180.8"/><path class="c w2" d="M227.3 164.5Q260.4 177.7 282 180.8" stroke-dasharray="16.9 14.2" stroke-dashoffset="16"/>
<path class="o w5 r" d="M225 189.2C228.4 191.1 238.8 196.7 245.5 200.6C252.2 204.5 258.7 210.8 265.1 212.8C271.4 214.8 280.3 212.6 283.4 212.6"/><path class="c w2 r" d="M225 189.2C228.4 191.1 238.8 196.7 245.5 200.6C252.2 204.5 258.7 210.8 265.1 212.8C271.4 214.8 280.3 212.6 283.4 212.6"/><path class="p w2" d="M225 189.2C228.4 191.1 238.8 196.7 245.5 200.6C252.2 204.5 258.7 210.8 265.1 212.8C271.4 214.8 280.3 212.6 283.4 212.6" stroke-dasharray="38 21.6" stroke-dashoffset="19.7"/>
<path class="o w5 r" d="M188.2 216.2Q192.8 236.5 194.6 255.8"/><path class="p w2 r" d="M188.2 216.2Q192.8 236.5 194.6 255.8"/><path class="c w2" d="M188.2 216.2Q192.8 236.5 194.6 255.8" stroke-dasharray="15.8 10.8" stroke-dashoffset="13.9"/>
<path class="o w5 r" d="M201.9 212.1Q198.6 229.5 206.8 234.4"/><path class="p w2 r" d="M201.9 212.1Q198.6 229.5 206.8 234.4"/><path class="c w2" d="M201.9 212.1Q198.6 229.5 206.8 234.4" stroke-dasharray="7.8 7" stroke-dashoffset="5.6"/>
<path class="o w5 r" d="M213 204C215 203.4 221 200.7 225 200.5C229 200.4 232.9 201.5 237 203.1C241.1 204.6 247.4 208.5 249.5 209.6"/><path class="p w2 r" d="M213 204C215 203.4 221 200.7 225 200.5C229 200.4 232.9 201.5 237 203.1C241.1 204.6 247.4 208.5 249.5 209.6"/><path class="c w2" d="M213 204C215 203.4 221 200.7 225 200.5C229 200.4 232.9 201.5 237 203.1C241.1 204.6 247.4 208.5 249.5 209.6" stroke-dasharray="18 9.5" stroke-dashoffset="17.1"/>
<path class="o w5 r" d="M244.3 211.6Q254.6 215.1 258.3 227.1"/><path class="c w2 r" d="M244.3 211.6Q254.6 215.1 258.3 227.1"/><path class="p w2" d="M244.3 211.6Q254.6 215.1 258.3 227.1" stroke-dasharray="9.4 4.6" stroke-dashoffset="3.5"/>
<path class="o w5 r" d="M228 208.1C229 210.8 232.3 218.7 234.2 224.6C236.1 230.5 237.6 238.7 239.6 243.4C241.6 248.1 245.1 251.4 246.2 253"/><path class="c w2 r" d="M228 208.1C229 210.8 232.3 218.7 234.2 224.6C236.1 230.5 237.6 238.7 239.6 243.4C241.6 248.1 245.1 251.4 246.2 253"/><path class="p w2" d="M228 208.1C229 210.8 232.3 218.7 234.2 224.6C236.1 230.5 237.6 238.7 239.6 243.4C241.6 248.1 245.1 251.4 246.2 253" stroke-dasharray="23.2 19.7" stroke-dashoffset="21.8"/>
<path class="o w5 r" d="M232.5 211.7C234.4 214.5 240.3 222.9 243.8 228.1C247.3 233.3 251.6 239.4 253.7 242.9C255.7 246.5 255.8 248.2 256.2 249.3"/><path class="p w2 r" d="M232.5 211.7C234.4 214.5 240.3 222.9 243.8 228.1C247.3 233.3 251.6 239.4 253.7 242.9C255.7 246.5 255.8 248.2 256.2 249.3"/><path class="c w2" d="M232.5 211.7C234.4 214.5 240.3 222.9 243.8 228.1C247.3 233.3 251.6 239.4 253.7 242.9C255.7 246.5 255.8 248.2 256.2 249.3" stroke-dasharray="18.8 12.6" stroke-dashoffset="2.8"/>
<path class="o w5 r" d="M232.4 231.3Q247.1 244.6 258.6 249.5"/><path class="p w2 r" d="M232.4 231.3Q247.1 244.6 258.6 249.5"/><path class="c w2" d="M232.4 231.3Q247.1 244.6 258.6 249.5" stroke-dasharray="10.9 7.1" stroke-dashoffset="8.6"/>
<path class="o w5 r" d="M212.8 237.4Q233.6 233.5 256.7 237.2"/><path class="c w2 r" d="M212.8 237.4Q233.6 233.5 256.7 237.2"/><path class="p w2" d="M212.8 237.4Q233.6 233.5 256.7 237.2" stroke-dasharray="19.7 16.4" stroke-dashoffset="5"/>
<path class="o w5 r" d="M208.6 236.8Q204.4 245.5 231.8 254.7"/><path class="p w2 r" d="M208.6 236.8Q204.4 245.5 231.8 254.7"/><path class="c w2" d="M208.6 236.8Q204.4 245.5 231.8 254.7" stroke-dasharray="13.9 13.1" stroke-dashoffset="6.5"/>
<path class="o w5 r" d="M152.3 192.4C155 189 162.6 178.6 168.6 172.1C174.6 165.6 181.5 158 188.4 153.5C195.2 148.9 202.3 146.7 209.7 144.8C217.1 142.9 229 142.4 232.8 141.9"/><path class="p w2 r" d="M152.3 192.4C155 189 162.6 178.6 168.6 172.1C174.6 165.6 181.5 158 188.4 153.5C195.2 148.9 202.3 146.7 209.7 144.8C217.1 142.9 229 142.4 232.8 141.9"/><path class="c w2" d="M152.3 192.4C155 189 162.6 178.6 168.6 172.1C174.6 165.6 181.5 158 188.4 153.5C195.2 148.9 202.3 146.7 209.7 144.8C217.1 142.9 229 142.4 232.8 141.9" stroke-dasharray="25.6 27.5" stroke-dashoffset="30.6"/>
<path class="o w5 r" d="M159.3 199.7C163.1 196.7 174.5 186.7 182.4 181.8C190.3 176.9 199.5 173.2 206.5 170.2C213.5 167.1 218.7 165.8 224.2 163.6C229.7 161.4 237 158 239.6 156.9"/><path class="p w2 r" d="M159.3 199.7C163.1 196.7 174.5 186.7 182.4 181.8C190.3 176.9 199.5 173.2 206.5 170.2C213.5 167.1 218.7 165.8 224.2 163.6C229.7 161.4 237 158 239.6 156.9"/><path class="c w2" d="M159.3 199.7C163.1 196.7 174.5 186.7 182.4 181.8C190.3 176.9 199.5 173.2 206.5 170.2C213.5 167.1 218.7 165.8 224.2 163.6C229.7 161.4 237 158 239.6 156.9" stroke-dasharray="30.1 33.9" stroke-dashoffset="45.1"/>
<path class="o w5 r" d="M170.9 204.2Q193.5 198.8 208.4 193.8"/><path class="p w2 r" d="M170.9 204.2Q193.5 198.8 208.4 193.8"/><path class="c w2" d="M170.9 204.2Q193.5 198.8 208.4 193.8" stroke-dasharray="17.9 12.8" stroke-dashoffset="0.5"/>
<path class="o w5 r" d="M124.4 231.9C127.4 230 135.1 223.2 142.5 220.7C149.8 218.3 159.7 218.5 168.5 217C177.3 215.4 190.8 212.3 195.2 211.4"/><path class="p w2 r" d="M124.4 231.9C127.4 230 135.1 223.2 142.5 220.7C149.8 218.3 159.7 218.5 168.5 217C177.3 215.4 190.8 212.3 195.2 211.4"/><path class="c w2" d="M124.4 231.9C127.4 230 135.1 223.2 142.5 220.7C149.8 218.3 159.7 218.5 168.5 217C177.3 215.4 190.8 212.3 195.2 211.4" stroke-dasharray="22.4 19.7" stroke-dashoffset="28.8"/>
<path class="o w5 r" d="M142.1 215.2C145.2 213 153.2 206.2 160.7 201.9C168.1 197.7 179.2 193.2 186.9 189.6C194.6 185.9 203.7 181.7 207.1 180.1"/><path class="c w2 r" d="M142.1 215.2C145.2 213 153.2 206.2 160.7 201.9C168.1 197.7 179.2 193.2 186.9 189.6C194.6 185.9 203.7 181.7 207.1 180.1"/><path class="p w2" d="M142.1 215.2C145.2 213 153.2 206.2 160.7 201.9C168.1 197.7 179.2 193.2 186.9 189.6C194.6 185.9 203.7 181.7 207.1 180.1" stroke-dasharray="19.6 16.3" stroke-dashoffset="26.9"/>
<path class="o w5 r" d="M134.1 191.5Q130.7 209.1 129.9 214"/><path class="p w2 r" d="M134.1 191.5Q130.7 209.1 129.9 214"/><path class="c w2" d="M134.1 191.5Q130.7 209.1 129.9 214" stroke-dasharray="8.2 6.1" stroke-dashoffset="0.6"/>
<path class="o w5 r" d="M210.7 211.4Q221.6 204.9 238.6 210.8"/><path class="p w2 r" d="M210.7 211.4Q221.6 204.9 238.6 210.8"/><path class="c w2" d="M210.7 211.4Q221.6 204.9 238.6 210.8" stroke-dasharray="8.5 8.6" stroke-dashoffset="13.4"/>
<path class="o w5 r" d="M207.6 215.7Q202.2 228.4 213.3 232.6"/><path class="c w2 r" d="M207.6 215.7Q202.2 228.4 213.3 232.6"/><path class="p w2" d="M207.6 215.7Q202.2 228.4 213.3 232.6" stroke-dasharray="6.7 7.4" stroke-dashoffset="2.7"/>
<path class="o w9" d="M83.9 114.5L105.4 118.9"/><path class="p w6" d="M83.9 114.5L105.4 118.9"/><path class="c w6" d="M83.9 114.5L105.4 118.9" stroke-dasharray="7.9 9.6" stroke-dashoffset="3.9"/>
<path class="o w9" d="M68.6 142.1L91.3 137.8"/><path class="c w7" d="M68.6 142.1L91.3 137.8"/><path class="p w7" d="M68.6 142.1L91.3 137.8" stroke-dasharray="11 9.5" stroke-dashoffset="7"/>
<path class="o w8" d="M149 137.6Q160.5 142.7 162.5 157.6"/><path class="c w6" d="M149 137.6Q160.5 142.7 162.5 157.6"/><path class="p w6" d="M149 137.6Q160.5 142.7 162.5 157.6" stroke-dasharray="9.8 9.3" stroke-dashoffset="7.8"/>
<path class="o w9" d="M187.8 87.6Q193.3 97.1 186.6 118.8"/><path class="p w6" d="M187.8 87.6Q193.3 97.1 186.6 118.8"/><path class="c w6" d="M187.8 87.6Q193.3 97.1 186.6 118.8" stroke-dasharray="14.2 10.6" stroke-dashoffset="6.3"/>
<path class="o w9" d="M195.3 99.7L197.6 110.3"/><path class="c w6" d="M195.3 99.7L197.6 110.3"/><path class="p w6" d="M195.3 99.7L197.6 110.3" stroke-dasharray="5.1 3.7" stroke-dashoffset="0.3"/>
<path class="o w9" d="M215.3 95.6Q215.8 102.9 233.7 114.8"/><path class="p w6" d="M215.3 95.6Q215.8 102.9 233.7 114.8"/><path class="c w6" d="M215.3 95.6Q215.8 102.9 233.7 114.8" stroke-dasharray="8.4 6.9" stroke-dashoffset="5.9"/>
<path class="o w8" d="M229 98.1Q237.5 94.5 232 111.7"/><path class="p w6" d="M229 98.1Q237.5 94.5 232 111.7"/><path class="c w6" d="M229 98.1Q237.5 94.5 232 111.7" stroke-dasharray="5.9 4.7" stroke-dashoffset="4.6"/>
<path class="o w8" d="M195.2 108.4Q208.5 109 214.2 115"/><path class="p w6" d="M195.2 108.4Q208.5 109 214.2 115"/><path class="c w6" d="M195.2 108.4Q208.5 109 214.2 115" stroke-dasharray="8 4.6" stroke-dashoffset="3.8"/>
<path class="o w7" d="M185.6 119.5C187.6 118.9 193.9 114.5 197.8 116C201.7 117.5 209.2 124.6 209.1 128.5C209 132.4 200.5 137.1 197.1 139.5C193.7 141.9 190.1 142.4 188.7 143"/><path class="c w4" d="M185.6 119.5C187.6 118.9 193.9 114.5 197.8 116C201.7 117.5 209.2 124.6 209.1 128.5C209 132.4 200.5 137.1 197.1 139.5C193.7 141.9 190.1 142.4 188.7 143"/><path class="p w4" d="M185.6 119.5C187.6 118.9 193.9 114.5 197.8 116C201.7 117.5 209.2 124.6 209.1 128.5C209 132.4 200.5 137.1 197.1 139.5C193.7 141.9 190.1 142.4 188.7 143" stroke-dasharray="24.2 18.5" stroke-dashoffset="23.2"/>
<path class="o w8" d="M218.4 117C220 116.7 224 113.8 227.6 115.1C231.2 116.4 239.5 122 239.9 125C240.2 127.9 231.3 131.5 229.5 132.8"/><path class="c w5" d="M218.4 117C220 116.7 224 113.8 227.6 115.1C231.2 116.4 239.5 122 239.9 125C240.2 127.9 231.3 131.5 229.5 132.8"/><path class="p w5" d="M218.4 117C220 116.7 224 113.8 227.6 115.1C231.2 116.4 239.5 122 239.9 125C240.2 127.9 231.3 131.5 229.5 132.8" stroke-dasharray="18.6 7.9" stroke-dashoffset="5.9"/>
<path class="o w9" d="M252.8 109.8Q263.8 112.8 268.4 119.2"/><path class="c w7" d="M252.8 109.8Q263.8 112.8 268.4 119.2"/><path class="p w7" d="M252.8 109.8Q263.8 112.8 268.4 119.2" stroke-dasharray="5.6 7.9" stroke-dashoffset="1.3"/>
<path class="o w11" d="M283 114.4Q293.4 112.6 301.8 131.9"/><path class="c w9" d="M283 114.4Q293.4 112.6 301.8 131.9"/><path class="p w9" d="M283 114.4Q293.4 112.6 301.8 131.9" stroke-dasharray="8.9 11.2" stroke-dashoffset="11.5"/>
<path class="o w9" d="M232.9 132.6Q238 140.5 244.7 146.3"/><path class="p w6" d="M232.9 132.6Q238 140.5 244.7 146.3"/><path class="c w6" d="M232.9 132.6Q238 140.5 244.7 146.3" stroke-dasharray="10.2 4.4" stroke-dashoffset="7.7"/>
<path class="o w8" d="M199.4 130.9Q217.3 138.3 216 130.2"/><path class="p w6" d="M199.4 130.9Q217.3 138.3 216 130.2"/><path class="c w6" d="M199.4 130.9Q217.3 138.3 216 130.2" stroke-dasharray="7.7 4.4" stroke-dashoffset="5.7"/>
<path class="o w9" d="M233.4 156.7Q241.8 151.6 254.9 156.9"/><path class="p w6" d="M233.4 156.7Q241.8 151.6 254.9 156.9"/><path class="c w6" d="M233.4 156.7Q241.8 151.6 254.9 156.9" stroke-dasharray="10.7 8.9" stroke-dashoffset="6.7"/>
<path class="o w8" d="M90.3 175.1Q105.5 184.7 106.1 195.1"/><path class="p w6" d="M90.3 175.1Q105.5 184.7 106.1 195.1"/><path class="c w6" d="M90.3 175.1Q105.5 184.7 106.1 195.1" stroke-dasharray="15.3 11.3" stroke-dashoffset="8.4"/>
<path class="o w8" d="M82.4 196.4C81.9 197.4 79 200.8 79 202.4C79 203.9 80.3 204.7 82.5 205.6C84.6 206.5 90.2 207.4 91.8 207.8"/><path class="p w6" d="M82.4 196.4C81.9 197.4 79 200.8 79 202.4C79 203.9 80.3 204.7 82.5 205.6C84.6 206.5 90.2 207.4 91.8 207.8"/><path class="c w6" d="M82.4 196.4C81.9 197.4 79 200.8 79 202.4C79 203.9 80.3 204.7 82.5 205.6C84.6 206.5 90.2 207.4 91.8 207.8" stroke-dasharray="9.5 8.9" stroke-dashoffset="4.9"/>
<path class="o w7" d="M152.7 170.9Q170.4 181 177.2 172.7"/><path class="c w5" d="M152.7 170.9Q170.4 181 177.2 172.7"/><path class="p w5" d="M152.7 170.9Q170.4 181 177.2 172.7" stroke-dasharray="12 8" stroke-dashoffset="12.2"/>
<path class="o w9" d="M245.6 154.4Q263.4 160.6 280.9 156.3"/><path class="p w6" d="M245.6 154.4Q263.4 160.6 280.9 156.3"/><path class="c w6" d="M245.6 154.4Q263.4 160.6 280.9 156.3" stroke-dasharray="16.5 7.6" stroke-dashoffset="8.4"/>
<path class="o w7" d="M211.4 215.6Q206.4 228 213.8 228.4"/><path class="p w5" d="M211.4 215.6Q206.4 228 213.8 228.4"/><path class="c w5" d="M211.4 215.6Q206.4 228 213.8 228.4" stroke-dasharray="7.5 3" stroke-dashoffset="0.3"/>
<path class="o w7" d="M215.6 202C217.1 201.5 221.2 199.2 225 199.3C228.8 199.4 234.9 201.2 238.4 202.6C242 203.9 245 206.5 246.3 207.3"/><path class="p w4" d="M215.6 202C217.1 201.5 221.2 199.2 225 199.3C228.8 199.4 234.9 201.2 238.4 202.6C242 203.9 245 206.5 246.3 207.3"/><path class="c w4" d="M215.6 202C217.1 201.5 221.2 199.2 225 199.3C228.8 199.4 234.9 201.2 238.4 202.6C242 203.9 245 206.5 246.3 207.3" stroke-dasharray="9.8 10.7" stroke-dashoffset="5.8"/>
<path class="o w8" d="M250.4 205.3Q263.1 208.6 264.4 223.3"/><path class="p w5" d="M250.4 205.3Q263.1 208.6 264.4 223.3"/><path class="c w5" d="M250.4 205.3Q263.1 208.6 264.4 223.3" stroke-dasharray="14.4 10.3" stroke-dashoffset="7.9"/>
<path class="o w10" d="M231.5 212C232.3 214 234.4 219.2 236.1 224.2C237.8 229.2 240.2 237.6 242 241.9C243.8 246.2 246.1 248.7 246.9 250.1"/><path class="c w7" d="M231.5 212C232.3 214 234.4 219.2 236.1 224.2C237.8 229.2 240.2 237.6 242 241.9C243.8 246.2 246.1 248.7 246.9 250.1"/><path class="p w7" d="M231.5 212C232.3 214 234.4 219.2 236.1 224.2C237.8 229.2 240.2 237.6 242 241.9C243.8 246.2 246.1 248.7 246.9 250.1" stroke-dasharray="22.2 10.8" stroke-dashoffset="16.7"/>
<path class="o w9" d="M214.5 226.5Q231.4 223.4 254.3 225.6"/><path class="p w7" d="M214.5 226.5Q231.4 223.4 254.3 225.6"/><path class="c w7" d="M214.5 226.5Q231.4 223.4 254.3 225.6" stroke-dasharray="17.8 11.5" stroke-dashoffset="3.2"/>
<path class="o w7" d="M149.8 182.9C151.9 180.2 157 172.6 162.7 166.8C168.3 161 176.1 153 183.4 148.2C190.8 143.3 199.5 139.9 206.7 137.6C213.8 135.3 223 134.8 226.3 134.3"/><path class="c w4" d="M149.8 182.9C151.9 180.2 157 172.6 162.7 166.8C168.3 161 176.1 153 183.4 148.2C190.8 143.3 199.5 139.9 206.7 137.6C213.8 135.3 223 134.8 226.3 134.3"/><path class="p w4" d="M149.8 182.9C151.9 180.2 157 172.6 162.7 166.8C168.3 161 176.1 153 183.4 148.2C190.8 143.3 199.5 139.9 206.7 137.6C213.8 135.3 223 134.8 226.3 134.3" stroke-dasharray="53.6 26.2" stroke-dashoffset="41.3"/>
<path class="o w8" d="M157.3 196.1C160.3 193.5 168.3 185.3 175.1 180.1C182 174.8 191.5 168.4 198.5 164.5C205.5 160.7 211.3 158.4 217.1 157C222.9 155.6 230.6 156.4 233.3 156.3"/><path class="p w5" d="M157.3 196.1C160.3 193.5 168.3 185.3 175.1 180.1C182 174.8 191.5 168.4 198.5 164.5C205.5 160.7 211.3 158.4 217.1 157C222.9 155.6 230.6 156.4 233.3 156.3"/><path class="c w5" d="M157.3 196.1C160.3 193.5 168.3 185.3 175.1 180.1C182 174.8 191.5 168.4 198.5 164.5C205.5 160.7 211.3 158.4 217.1 157C222.9 155.6 230.6 156.4 233.3 156.3" stroke-dasharray="42.4 39.7" stroke-dashoffset="34.1"/>
<path class="o w8" d="M158.4 189.8C161.6 187.5 170.2 180.3 177.5 175.9C184.8 171.6 194.6 167 202 163.6C209.5 160.2 216.7 157.8 222.2 155.6C227.7 153.3 232.8 151 234.9 150.1"/><path class="p w5" d="M158.4 189.8C161.6 187.5 170.2 180.3 177.5 175.9C184.8 171.6 194.6 167 202 163.6C209.5 160.2 216.7 157.8 222.2 155.6C227.7 153.3 232.8 151 234.9 150.1"/><path class="c w5" d="M158.4 189.8C161.6 187.5 170.2 180.3 177.5 175.9C184.8 171.6 194.6 167 202 163.6C209.5 160.2 216.7 157.8 222.2 155.6C227.7 153.3 232.8 151 234.9 150.1" stroke-dasharray="34.8 25.5" stroke-dashoffset="12.7"/>
<path class="o w7" d="M173.9 204Q191.9 198 207.4 195.2"/><path class="c w4" d="M173.9 204Q191.9 198 207.4 195.2"/><path class="p w4" d="M173.9 204Q191.9 198 207.4 195.2" stroke-dasharray="14 13" stroke-dashoffset="11"/>
<path class="o w7" d="M135.1 213.5C137.7 212.2 143.9 207.7 150.6 205.7C157.4 203.7 168 202.5 175.4 201.6C182.9 200.6 192.1 200.2 195.5 199.9"/><path class="p w4" d="M135.1 213.5C137.7 212.2 143.9 207.7 150.6 205.7C157.4 203.7 168 202.5 175.4 201.6C182.9 200.6 192.1 200.2 195.5 199.9"/><path class="c w4" d="M135.1 213.5C137.7 212.2 143.9 207.7 150.6 205.7C157.4 203.7 168 202.5 175.4 201.6C182.9 200.6 192.1 200.2 195.5 199.9" stroke-dasharray="16.9 23.1" stroke-dashoffset="27.9"/>
<path class="o w8" d="M124.4 236.4C128.5 235.1 140.4 230.8 148.8 228.9C157.2 227 167.7 226.4 174.9 224.9C182.1 223.4 189.1 220.6 192 219.7"/><path class="p w6" d="M124.4 236.4C128.5 235.1 140.4 230.8 148.8 228.9C157.2 227 167.7 226.4 174.9 224.9C182.1 223.4 189.1 220.6 192 219.7"/><path class="c w6" d="M124.4 236.4C128.5 235.1 140.4 230.8 148.8 228.9C157.2 227 167.7 226.4 174.9 224.9C182.1 223.4 189.1 220.6 192 219.7" stroke-dasharray="33.1 22.5" stroke-dashoffset="11.9"/>
<path class="o w8" d="M138.9 244.4C142.2 243.2 151.7 239.4 158.9 237.7C166.1 236 177.2 236.3 182 234C186.8 231.8 186.9 225.9 187.9 224.2"/><path class="c w6" d="M138.9 244.4C142.2 243.2 151.7 239.4 158.9 237.7C166.1 236 177.2 236.3 182 234C186.8 231.8 186.9 225.9 187.9 224.2"/><path class="p w6" d="M138.9 244.4C142.2 243.2 151.7 239.4 158.9 237.7C166.1 236 177.2 236.3 182 234C186.8 231.8 186.9 225.9 187.9 224.2" stroke-dasharray="33 11.5" stroke-dashoffset="25.1"/>
<path class="o w7" d="M198.9 214Q194.4 228.7 200.7 247.5"/><path class="p w5" d="M198.9 214Q194.4 228.7 200.7 247.5"/><path class="c w5" d="M198.9 214Q194.4 228.7 200.7 247.5" stroke-dasharray="18.4 8.3" stroke-dashoffset="12.2"/>
<path class="o w7" d="M125.4 158.9Q135.7 154.1 141.7 146.3"/><path class="p w4" d="M125.4 158.9Q135.7 154.1 141.7 146.3"/><path class="c w4" d="M125.4 158.9Q135.7 154.1 141.7 146.3" stroke-dasharray="7.6 9.1" stroke-dashoffset="6.8"/>
<path class="o w8" d="M212.4 202.7Q222.4 196.1 238.8 203"/><path class="c w5" d="M212.4 202.7Q222.4 196.1 238.8 203"/><path class="p w5" d="M212.4 202.7Q222.4 196.1 238.8 203" stroke-dasharray="11.2 8.7" stroke-dashoffset="6.7"/>
<path class="o w5 r" d="M45 82C46.2 81.5 49.7 78.8 52 79C54.3 79.2 58.7 81.5 59 83C59.3 84.5 55.8 87.3 54 88C52.2 88.7 49.5 88 48 87C46.5 86 45.5 82.8 45 82"/><path class="c w2 r" d="M45 82C46.2 81.5 49.7 78.8 52 79C54.3 79.2 58.7 81.5 59 83C59.3 84.5 55.8 87.3 54 88C52.2 88.7 49.5 88 48 87C46.5 86 45.5 82.8 45 82"/>
<path class="o w5 r" d="M55 72C55.8 73 58.2 78.7 60 78C61.8 77.3 66.3 69.8 66 68C65.7 66.2 59.8 66.3 58 67C56.2 67.7 55.5 71.2 55 72"/><path class="c w2 r" d="M55 72C55.8 73 58.2 78.7 60 78C61.8 77.3 66.3 69.8 66 68C65.7 66.2 59.8 66.3 58 67C56.2 67.7 55.5 71.2 55 72"/>
<path class="o w5 r" d="M56 70Q65 63 70 64"/><path class="c w2 r" d="M56 70Q65 63 70 64"/>
<path class="o w5 r" d="M51 92C50.8 93.3 48.8 97.3 50 100C51.2 102.7 57 105.5 58 108C59 110.5 54.7 114 56 115C57.3 116 63.7 113.2 66 114C68.3 114.8 67.7 119.3 70 120C72.3 120.7 78.3 118.3 80 118"/><path class="c w2 r" d="M51 92C50.8 93.3 48.8 97.3 50 100C51.2 102.7 57 105.5 58 108C59 110.5 54.7 114 56 115C57.3 116 63.7 113.2 66 114C68.3 114.8 67.7 119.3 70 120C72.3 120.7 78.3 118.3 80 118"/>
<path class="o w5 r" d="M64 88C65.7 89.3 71.7 93 74 96C76.3 99 76.3 104 78 106C79.7 108 83.3 109 84 108C84.7 107 82.3 101.3 82 100"/><path class="c w2 r" d="M64 88C65.7 89.3 71.7 93 74 96C76.3 99 76.3 104 78 106C79.7 108 83.3 109 84 108C84.7 107 82.3 101.3 82 100"/>
<path class="o w5 r" d="M64 83Q98 62 100 65"/><path class="c w2 r" d="M64 83Q98 62 100 65"/>
<path class="o w5 r" d="M66 90C68.3 88.3 74 83 80 80C86 77 97.3 72.3 102 72C106.7 71.7 107 77 108 78"/><path class="c w2 r" d="M66 90C68.3 88.3 74 83 80 80C86 77 97.3 72.3 102 72C106.7 71.7 107 77 108 78"/>
<path class="o w5 r" d="M72 68C72.7 70 73.3 74.7 76 80C78.7 85.3 85 94 88 100C91 106 93 113.3 94 116"/><path class="c w2 r" d="M72 68C72.7 70 73.3 74.7 76 80C78.7 85.3 85 94 88 100C91 106 93 113.3 94 116"/>
<path class="o w5 r" d="M83 86Q94.5 110 96 118"/><path class="c w2 r" d="M83 86Q94.5 110 96 118"/>
<path class="o w5 r" d="M100 65C101.7 65.8 107.3 70 110 70C112.7 70 114.2 65.3 116 65C117.8 64.7 120.3 65.8 121 68C121.7 70.2 120.2 76.3 120 78"/><path class="c w2 r" d="M100 65C101.7 65.8 107.3 70 110 70C112.7 70 114.2 65.3 116 65C117.8 64.7 120.3 65.8 121 68C121.7 70.2 120.2 76.3 120 78"/>
<path class="o w5 r" d="M99 55C99.8 54.5 102.2 51.8 104 52C105.8 52.2 108 56 110 56C112 56 114.3 53.2 116 52C117.7 50.8 119.3 49.5 120 49"/><path class="c w2 r" d="M99 55C99.8 54.5 102.2 51.8 104 52C105.8 52.2 108 56 110 56C112 56 114.3 53.2 116 52C117.7 50.8 119.3 49.5 120 49"/>
<path class="o w5 r" d="M95 50L108 45.6"/><path class="c w2 r" d="M95 50L108 45.6"/>
<path class="o w5 r" d="M122 78Q129 82.5 132 77"/><path class="c w2 r" d="M122 78Q129 82.5 132 77"/>
<path class="o w5 r" d="M104 90Q108 106 120 114"/><path class="c w2 r" d="M104 90Q108 106 120 114"/>
<path class="o w5 r" d="M124 110C125 110.3 128.3 110.8 130 112C131.7 113.2 132.7 116.3 134 117C135.3 117.7 136.7 115.2 138 116C139.3 116.8 141.7 120 142 122C142.3 124 140.3 127 140 128"/><path class="c w2 r" d="M124 110C125 110.3 128.3 110.8 130 112C131.7 113.2 132.7 116.3 134 117C135.3 117.7 136.7 115.2 138 116C139.3 116.8 141.7 120 142 122C142.3 124 140.3 127 140 128"/>
<path class="o w5 r" d="M160 124L156 125"/><path class="c w2 r" d="M160 124L156 125"/>
<path class="o w7" d="M80 54L95 50"/><path class="c w5" d="M80 54L95 50"/>
<path class="o w11" d="M70 60L91 64.4"/><path class="c w9" d="M70 60L91 64.4"/>
<path class="o w7" d="M66 66L86 60"/><path class="c w4" d="M66 66L86 60"/>
<path class="o w12" d="M91 89L122 80"/><path class="c w10" d="M91 89L122 80"/>
<path class="o w11" d="M121 88Q143.5 93.5 168 117"/><path class="c w9" d="M121 88Q143.5 93.5 168 117"/>
<path class="o w12" d="M117 94L111 110"/><path class="c w10" d="M117 94L111 110"/>
<path class="o w10" d="M110 109L124 110"/><path class="c w7" d="M110 109L124 110"/>
<path class="o w10" d="M119 113Q130.5 120.5 140 126"/><path class="c w7" d="M119 113Q130.5 120.5 140 126"/>
<path class="o w10" d="M172 103L162 124"/><path class="c w7" d="M172 103L162 124"/>
<path class="o w11" d="M70 128L90 123"/><path class="c w9" d="M70 128L90 123"/>
<path class="o w5 r" d="M64 124Q59 129.5 70 129"/><path class="p w2 r" d="M64 124Q59 129.5 70 129"/>
<path class="o w11" d="M81 120L110 126"/><path class="c w9" d="M81 120L110 126"/><path class="p w9" d="M81 120L110 126" stroke-dasharray="14.9 7.4" stroke-dashoffset="6.5"/>
<path class="o w11" d="M95 126L93 144"/><path class="p w8" d="M95 126L93 144"/><path class="c w8" d="M95 126L93 144" stroke-dasharray="8.1 7.8" stroke-dashoffset="7.6"/>
<path class="o w10" d="M114 136L106 148"/><path class="p w7" d="M114 136L106 148"/><path class="c w7" d="M114 136L106 148" stroke-dasharray="5.5 3.3" stroke-dashoffset="0.2"/>
<path class="o w11" d="M68 148L94 143"/><path class="p w8" d="M68 148L94 143"/><path class="c w8" d="M68 148L94 143" stroke-dasharray="8.3 10.4" stroke-dashoffset="8.8"/>
<path class="o w9" d="M136 140Q125 154 126 160"/><path class="c w6" d="M136 140Q125 154 126 160"/><path class="p w6" d="M136 140Q125 154 126 160" stroke-dasharray="8 5.4" stroke-dashoffset="11"/>
<path class="o w9" d="M144 140Q157 146 158 160"/><path class="c w6" d="M144 140Q157 146 158 160"/><path class="p w6" d="M144 140Q157 146 158 160" stroke-dasharray="14.8 5.2" stroke-dashoffset="5"/>
<path class="o w5 r" d="M86 134C87 135 89.7 139.3 92 140C94.3 140.7 98 137.7 100 138C102 138.3 103.3 141.3 104 142"/><path class="c w2 r" d="M86 134C87 135 89.7 139.3 92 140C94.3 140.7 98 137.7 100 138C102 138.3 103.3 141.3 104 142"/><path class="p w2" d="M86 134C87 135 89.7 139.3 92 140C94.3 140.7 98 137.7 100 138C102 138.3 103.3 141.3 104 142" stroke-dasharray="11.4 9.6" stroke-dashoffset="6"/>
<path class="o w5 r" d="M122 124Q127 140 120 140"/><path class="c w2 r" d="M122 124Q127 140 120 140"/>
<path class="o w5 r" d="M110 126Q123 125 124 136"/><path class="p w2 r" d="M110 126Q123 125 124 136"/><path class="c w2" d="M110 126Q123 125 124 136" stroke-dasharray="4.8 7.7" stroke-dashoffset="9.4"/>
<path class="o w5 r" d="M60 154C61 153 63.7 148.3 66 148C68.3 147.7 71.7 150 74 152C76.3 154 79 158.7 80 160"/><path class="c w2 r" d="M60 154C61 153 63.7 148.3 66 148C68.3 147.7 71.7 150 74 152C76.3 154 79 158.7 80 160"/><path class="p w2" d="M60 154C61 153 63.7 148.3 66 148C68.3 147.7 71.7 150 74 152C76.3 154 79 158.7 80 160" stroke-dasharray="13.2 7.8" stroke-dashoffset="3.3"/>
<path class="o w5 r" d="M182 85L188 82"/><path class="c w2 r" d="M182 85L188 82"/><path class="p w2" d="M182 85L188 82" stroke-dasharray="3.9 3" stroke-dashoffset="0.6"/>
<path class="o w5 r" d="M189 98C190.3 97.3 194 95 197 94C200 93 203.3 92.7 207 92C210.7 91.3 217 90.3 219 90"/><path class="c w2 r" d="M189 98C190.3 97.3 194 95 197 94C200 93 203.3 92.7 207 92C210.7 91.3 217 90.3 219 90"/><path class="p w2" d="M189 98C190.3 97.3 194 95 197 94C200 93 203.3 92.7 207 92C210.7 91.3 217 90.3 219 90" stroke-dasharray="13.4 9.6" stroke-dashoffset="12.4"/>
<path class="o w11" d="M182 85Q188.5 97.5 181 120"/><path class="c w8" d="M182 85Q188.5 97.5 181 120"/><path class="p w8" d="M182 85Q188.5 97.5 181 120" stroke-dasharray="18 13.4" stroke-dashoffset="12.3"/>
<path class="o w10" d="M200 96L203 110"/><path class="c w7" d="M200 96L203 110"/><path class="p w7" d="M200 96L203 110" stroke-dasharray="6.3 3.8" stroke-dashoffset="5.6"/>
<path class="o w11" d="M210 98Q211.5 107 231 120"/><path class="p w8" d="M210 98Q211.5 107 231 120"/><path class="c w8" d="M210 98Q211.5 107 231 120" stroke-dasharray="14.7 9.2" stroke-dashoffset="8.6"/>
<path class="o w10" d="M221 92Q228.5 99.5 222 109"/><path class="c w7" d="M221 92Q228.5 99.5 222 109"/><path class="p w7" d="M221 92Q228.5 99.5 222 109" stroke-dasharray="7.7 8.2" stroke-dashoffset="2.2"/>
<path class="o w10" d="M230 93Q244.5 92.5 237 114"/><path class="p w7" d="M230 93Q244.5 92.5 237 114"/><path class="c w7" d="M230 93Q244.5 92.5 237 114" stroke-dasharray="15.4 7.3" stroke-dashoffset="3.7"/>
<path class="o w10" d="M193 113Q207 113.5 213 120"/><path class="p w7" d="M193 113Q207 113.5 213 120"/><path class="c w7" d="M193 113Q207 113.5 213 120" stroke-dasharray="9.9 9.6" stroke-dashoffset="7.6"/>
<path class="o w8" d="M185 124C187 123.3 193.7 119.3 197 120C200.3 120.7 205.3 125.3 205 128C204.7 130.7 198.3 134 195 136C191.7 138 186.7 139.3 185 140"/><path class="p w6" d="M185 124C187 123.3 193.7 119.3 197 120C200.3 120.7 205.3 125.3 205 128C204.7 130.7 198.3 134 195 136C191.7 138 186.7 139.3 185 140"/><path class="c w6" d="M185 124C187 123.3 193.7 119.3 197 120C200.3 120.7 205.3 125.3 205 128C204.7 130.7 198.3 134 195 136C191.7 138 186.7 139.3 185 140" stroke-dasharray="20.8 14.8" stroke-dashoffset="11.9"/>
<path class="o w8" d="M219 122C220.3 121.7 224.3 119.7 227 120C229.7 120.3 235.3 122.3 235 124C234.7 125.7 226.7 129 225 130"/><path class="p w6" d="M219 122C220.3 121.7 224.3 119.7 227 120C229.7 120.3 235.3 122.3 235 124C234.7 125.7 226.7 129 225 130"/><path class="c w6" d="M219 122C220.3 121.7 224.3 119.7 227 120C229.7 120.3 235.3 122.3 235 124C234.7 125.7 226.7 129 225 130" stroke-dasharray="8.9 8.6" stroke-dashoffset="5.6"/>
<path class="o w11" d="M247 106Q243 123 251 128"/><path class="p w8" d="M247 106Q243 123 251 128"/><path class="c w8" d="M247 106Q243 123 251 128" stroke-dasharray="12.6 6.8" stroke-dashoffset="1.8"/>
<path class="o w10" d="M253 104Q267 108 273 116"/><path class="c w7" d="M253 104Q267 108 273 116"/><path class="p w7" d="M253 104Q267 108 273 116" stroke-dasharray="12.9 9.3" stroke-dashoffset="7.3"/>
<path class="o w11" d="M257 116C258.3 115.3 261.7 111.3 265 112C268.3 112.7 274.3 117.3 277 120C279.7 122.7 280.3 126.7 281 128"/><path class="c w8" d="M257 116C258.3 115.3 261.7 111.3 265 112C268.3 112.7 274.3 117.3 277 120C279.7 122.7 280.3 126.7 281 128"/><path class="p w8" d="M257 116C258.3 115.3 261.7 111.3 265 112C268.3 112.7 274.3 117.3 277 120C279.7 122.7 280.3 126.7 281 128" stroke-dasharray="11.9 7.6" stroke-dashoffset="4.1"/>
<path class="o w11" d="M279 119Q289 115.5 299 138"/><path class="p w9" d="M279 119Q289 115.5 299 138"/><path class="c w9" d="M279 119Q289 115.5 299 138" stroke-dasharray="10.2 9.3" stroke-dashoffset="2.2"/>
<path class="o w11" d="M249 132C252 131.8 260.3 130 267 131C273.7 132 284 134.5 289 138C294 141.5 295.7 149.7 297 152"/><path class="p w9" d="M249 132C252 131.8 260.3 130 267 131C273.7 132 284 134.5 289 138C294 141.5 295.7 149.7 297 152"/><path class="c w9" d="M249 132C252 131.8 260.3 130 267 131C273.7 132 284 134.5 289 138C294 141.5 295.7 149.7 297 152" stroke-dasharray="19.4 14.3" stroke-dashoffset="22.9"/>
<path class="o w11" d="M237 128Q242 136 251 144"/><path class="p w8" d="M237 128Q242 136 251 144"/><path class="c w8" d="M237 128Q242 136 251 144" stroke-dasharray="6.8 6.5" stroke-dashoffset="9.3"/>
<path class="o w11" d="M181 148C183.7 147.3 191 143.3 197 144C203 144.7 211.7 149.3 217 152C222.3 154.7 227 158.7 229 160"/><path class="c w8" d="M181 148C183.7 147.3 191 143.3 197 144C203 144.7 211.7 149.3 217 152C222.3 154.7 227 158.7 229 160"/><path class="p w8" d="M181 148C183.7 147.3 191 143.3 197 144C203 144.7 211.7 149.3 217 152C222.3 154.7 227 158.7 229 160" stroke-dasharray="23.3 15.6" stroke-dashoffset="5.1"/>
<path class="o w10" d="M197 136Q217.5 145 220 134"/><path class="c w7" d="M197 136Q217.5 145 220 134"/><path class="p w7" d="M197 136Q217.5 145 220 134" stroke-dasharray="7.1 10.2" stroke-dashoffset="0.7"/>
<path class="o w11" d="M257 140Q273 140 281 156"/><path class="c w8" d="M257 140Q273 140 281 156"/><path class="p w8" d="M257 140Q273 140 281 156" stroke-dasharray="11.6 11.2" stroke-dashoffset="8.9"/>
<path class="o w10" d="M231 152Q242 146 257 152"/><path class="p w7" d="M231 152Q242 146 257 152"/><path class="c w7" d="M231 152Q242 146 257 152" stroke-dasharray="11.7 5.8" stroke-dashoffset="3.2"/>
<path class="o w9" d="M177 130Q189 159 201 160"/><path class="p w6" d="M177 130Q189 159 201 160"/><path class="c w6" d="M177 130Q189 159 201 160" stroke-dasharray="13.8 14.4" stroke-dashoffset="19.5"/>
<path class="o w8" d="M207 128Q214 150 233 148"/><path class="p w6" d="M207 128Q214 150 233 148"/><path class="c w6" d="M207 128Q214 150 233 148" stroke-dasharray="19.2 9.1" stroke-dashoffset="12.5"/>
<path class="o w11" d="M64 175Q75 171.5 90 174"/><path class="p w8" d="M64 175Q75 171.5 90 174"/><path class="c w8" d="M64 175Q75 171.5 90 174" stroke-dasharray="11.5 5.8" stroke-dashoffset="10.8"/>
<path class="o w10" d="M90 162Q100 170.5 110 165"/><path class="p w7" d="M90 162Q100 170.5 110 165"/><path class="c w7" d="M90 162Q100 170.5 110 165" stroke-dasharray="8.8 5.8" stroke-dashoffset="8.7"/>
<path class="o w10" d="M86 178Q102 188 102 198"/><path class="c w7" d="M86 178Q102 188 102 198"/><path class="p w7" d="M86 178Q102 188 102 198" stroke-dasharray="12.3 10.3" stroke-dashoffset="3.4"/>
<path class="o w10" d="M78 194C77.3 195.5 73.7 200.3 74 203C74.3 205.7 77 208.3 80 210C83 211.7 90 212.5 92 213"/><path class="p w7" d="M78 194C77.3 195.5 73.7 200.3 74 203C74.3 205.7 77 208.3 80 210C83 211.7 90 212.5 92 213"/><path class="c w7" d="M78 194C77.3 195.5 73.7 200.3 74 203C74.3 205.7 77 208.3 80 210C83 211.7 90 212.5 92 213" stroke-dasharray="17 8.8" stroke-dashoffset="12.8"/>
<path class="o w10" d="M114 185Q117.5 199.5 111 216"/><path class="c w7" d="M114 185Q117.5 199.5 111 216"/><path class="p w7" d="M114 185Q117.5 199.5 111 216" stroke-dasharray="14.8 7.1" stroke-dashoffset="13.5"/>
<path class="o w11" d="M138 192L134 208"/><path class="c w8" d="M138 192L134 208"/><path class="p w8" d="M138 192L134 208" stroke-dasharray="5.5 4.2" stroke-dashoffset="4.2"/>
<path class="o w12" d="M116 162L124 186"/><path class="c w10" d="M116 162L124 186"/>
<path class="o w7" d="M134 160L128 180"/><path class="c w5" d="M134 160L128 180"/>
<path class="o w7" d="M138 166Q151 178 144 182"/><path class="c w5" d="M138 166Q151 178 144 182"/>
<path class="o w5 r" d="M86 218C86.3 219.3 85.7 224.7 88 226C90.3 227.3 96.7 227.3 100 226C103.3 224.7 104.7 220.3 108 218C111.3 215.7 116.3 214 120 212C123.7 210 128.3 207 130 206"/><path class="p w2 r" d="M86 218C86.3 219.3 85.7 224.7 88 226C90.3 227.3 96.7 227.3 100 226C103.3 224.7 104.7 220.3 108 218C111.3 215.7 116.3 214 120 212C123.7 210 128.3 207 130 206"/><path class="c w2" d="M86 218C86.3 219.3 85.7 224.7 88 226C90.3 227.3 96.7 227.3 100 226C103.3 224.7 104.7 220.3 108 218C111.3 215.7 116.3 214 120 212C123.7 210 128.3 207 130 206" stroke-dasharray="32.1 21.4" stroke-dashoffset="23.2"/>
<path class="o w8" d="M98 234Q109 233 116 220"/><path class="p w6" d="M98 234Q109 233 116 220"/><path class="c w6" d="M98 234Q109 233 116 220" stroke-dasharray="13.5 5.5" stroke-dashoffset="8.4"/>
<path class="o w5 r" d="M64 175Q64 186.5 72 180"/><path class="p w2 r" d="M64 175Q64 186.5 72 180"/><path class="c w2" d="M64 175Q64 186.5 72 180" stroke-dasharray="3.4 3.1" stroke-dashoffset="1.4"/>
<path class="o w5 r" d="M78 186L80 194"/><path class="c w2 r" d="M78 186L80 194"/><path class="p w2" d="M78 186L80 194" stroke-dasharray="3.2 2.6" stroke-dashoffset="2.5"/>
<path class="o w8" d="M130 218C131 221 132.3 231.7 136 236C139.7 240.3 146.3 243.3 152 244C157.7 244.7 167 240.7 170 240"/><path class="p w6" d="M130 218C131 221 132.3 231.7 136 236C139.7 240.3 146.3 243.3 152 244C157.7 244.7 167 240.7 170 240"/><path class="c w6" d="M130 218C131 221 132.3 231.7 136 236C139.7 240.3 146.3 243.3 152 244C157.7 244.7 167 240.7 170 240" stroke-dasharray="26.2 20.3" stroke-dashoffset="25.5"/>
<path class="o w8" d="M158 164Q163 180 156 196"/><path class="p w6" d="M158 164Q163 180 156 196"/><path class="c w6" d="M158 164Q163 180 156 196" stroke-dasharray="17.9 14.4" stroke-dashoffset="12.5"/>
<path class="o w7" d="M168 248L172 256"/><path class="p w5" d="M168 248L172 256"/><path class="c w5" d="M168 248L172 256" stroke-dasharray="3.1 2" stroke-dashoffset="3.7"/>
<path class="o w8" d="M152 166Q171.5 177 177 168"/><path class="p w6" d="M152 166Q171.5 177 177 168"/><path class="c w6" d="M152 166Q171.5 177 177 168" stroke-dasharray="12 8.4" stroke-dashoffset="0.6"/>
<path class="o w11" d="M243 160Q262 167 285 162"/><path class="p w9" d="M243 160Q262 167 285 162"/><path class="c w9" d="M243 160Q262 167 285 162" stroke-dasharray="22.9 14.2" stroke-dashoffset="19.6"/>
<path class="o w11" d="M227 168Q260 179.5 281 185"/><path class="c w9" d="M227 168Q260 179.5 281 185"/><path class="p w9" d="M227 168Q260 179.5 281 185" stroke-dasharray="16 20.9" stroke-dashoffset="1.2"/>
<path class="o w11" d="M241 185Q261 183.5 281 184"/><path class="c w9" d="M241 185Q261 183.5 281 184"/>
<path class="o w11" d="M228 185C231.2 187.2 240.5 194.2 247 198C253.5 201.8 261 206.3 267 208C273 209.7 280.3 208 283 208"/><path class="p w9" d="M228 185C231.2 187.2 240.5 194.2 247 198C253.5 201.8 261 206.3 267 208C273 209.7 280.3 208 283 208"/><path class="c w9" d="M228 185C231.2 187.2 240.5 194.2 247 198C253.5 201.8 261 206.3 267 208C273 209.7 280.3 208 283 208" stroke-dasharray="24.8 27" stroke-dashoffset="18.3"/>
<path class="o w11" d="M193 216Q196 236 199 256"/><path class="p w8" d="M193 216Q196 236 199 256"/><path class="c w8" d="M193 216Q196 236 199 256" stroke-dasharray="17.3 13.4" stroke-dashoffset="4"/>
<path class="o w9" d="M185 264Q202 255 199 274"/><path class="p w6" d="M185 264Q202 255 199 274"/><path class="c w6" d="M185 264Q202 255 199 274" stroke-dasharray="13.6 10.8" stroke-dashoffset="9.5"/>
<path class="o w8" d="M207 214Q201 229 211 232"/><path class="p w6" d="M207 214Q201 229 211 232"/><path class="c w6" d="M207 214Q201 229 211 232" stroke-dasharray="11.7 6.5" stroke-dashoffset="8.6"/>
<path class="o w7" d="M215 206C216.7 205.5 221.3 203 225 203C228.7 203 233.3 204.5 237 206C240.7 207.5 245.3 211 247 212"/><path class="p w5" d="M215 206C216.7 205.5 221.3 203 225 203C228.7 203 233.3 204.5 237 206C240.7 207.5 245.3 211 247 212"/><path class="c w5" d="M215 206C216.7 205.5 221.3 203 225 203C228.7 203 233.3 204.5 237 206C240.7 207.5 245.3 211 247 212" stroke-dasharray="10.4 14.7" stroke-dashoffset="4.9"/>
<path class="o w8" d="M247 208Q260 211 261 226"/><path class="p w6" d="M247 208Q260 211 261 226"/><path class="c w6" d="M247 208Q260 211 261 226" stroke-dasharray="10.3 10.9" stroke-dashoffset="10.2"/>
<path class="o w11" d="M225 210C226 212.7 229 220.3 231 226C233 231.7 235 239.3 237 244C239 248.7 242 252.3 243 254"/><path class="p w8" d="M225 210C226 212.7 229 220.3 231 226C233 231.7 235 239.3 237 244C239 248.7 242 252.3 243 254"/><path class="c w8" d="M225 210C226 212.7 229 220.3 231 226C233 231.7 235 239.3 237 244C239 248.7 242 252.3 243 254" stroke-dasharray="28.5 19" stroke-dashoffset="20.1"/>
<path class="o w11" d="M235 210C237 212.7 243.3 221 247 226C250.7 231 254.7 236.3 257 240C259.3 243.7 260.3 246.7 261 248"/><path class="c w8" d="M235 210C237 212.7 243.3 221 247 226C250.7 231 254.7 236.3 257 240C259.3 243.7 260.3 246.7 261 248"/><path class="p w8" d="M235 210C237 212.7 243.3 221 247 226C250.7 231 254.7 236.3 257 240C259.3 243.7 260.3 246.7 261 248" stroke-dasharray="17.9 19.7" stroke-dashoffset="10.9"/>
<path class="o w11" d="M229 234Q243 248 257 254"/><path class="c w8" d="M229 234Q243 248 257 254"/><path class="p w8" d="M229 234Q243 248 257 254" stroke-dasharray="15.3 14.8" stroke-dashoffset="8.2"/>
<path class="o w11" d="M213 233Q231 229.5 257 232"/><path class="p w9" d="M213 233Q231 229.5 257 232"/><path class="c w9" d="M213 233Q231 229.5 257 232" stroke-dasharray="20.1 12.3" stroke-dashoffset="3.3"/>
<path class="o w9" d="M205 240Q205 247 229 258"/><path class="c w6" d="M205 240Q205 247 229 258"/><path class="p w6" d="M205 240Q205 247 229 258" stroke-dasharray="16.8 8.2" stroke-dashoffset="13.2"/>
<path class="o w11" d="M203 254Q226 255 237 260"/><path class="c w8" d="M203 254Q226 255 237 260"/><path class="p w8" d="M203 254Q226 255 237 260" stroke-dasharray="18.1 10.5" stroke-dashoffset="17.3"/>
<path class="o w10" d="M237 264C238.3 265.7 241 272.7 245 274C249 275.3 258 275 261 272C264 269 262.7 258.7 263 256"/><path class="c w7" d="M237 264C238.3 265.7 241 272.7 245 274C249 275.3 258 275 261 272C264 269 262.7 258.7 263 256"/><path class="p w7" d="M237 264C238.3 265.7 241 272.7 245 274C249 275.3 258 275 261 272C264 269 262.7 258.7 263 256" stroke-dasharray="20.3 10.3" stroke-dashoffset="12.9"/>
<path class="o w5 r" d="M265 210C267 211 276 213.7 277 216C278 218.3 273 221 271 224C269 227 266.7 232 265 234C263.3 236 261.7 235.7 261 236"/><path class="p w2 r" d="M265 210C267 211 276 213.7 277 216C278 218.3 273 221 271 224C269 227 266.7 232 265 234C263.3 236 261.7 235.7 261 236"/><path class="c w2" d="M265 210C267 211 276 213.7 277 216C278 218.3 273 221 271 224C269 227 266.7 232 265 234C263.3 236 261.7 235.7 261 236" stroke-dasharray="22.4 11.2" stroke-dashoffset="7.3"/>
<path class="o w5 r" d="M213 264C213.7 265.3 214.3 271.3 217 272C219.7 272.7 225 268 229 268C233 268 239 271.3 241 272"/><path class="c w2 r" d="M213 264C213.7 265.3 214.3 271.3 217 272C219.7 272.7 225 268 229 268C233 268 239 271.3 241 272"/><path class="p w2" d="M213 264C213.7 265.3 214.3 271.3 217 272C219.7 272.7 225 268 229 268C233 268 239 271.3 241 272" stroke-dasharray="16.2 11.8" stroke-dashoffset="8.3"/>
<path class="o w5 r" d="M281 185Q291 181.5 281 172"/><path class="c w2 r" d="M281 185Q291 181.5 281 172"/><path class="p w2" d="M281 185Q291 181.5 281 172" stroke-dasharray="9 5.1" stroke-dashoffset="4.1"/>
<path class="o w5 r" d="M177 236Q193 251 177 254"/><path class="c w2 r" d="M177 236Q193 251 177 254"/><path class="p w2" d="M177 236Q193 251 177 254" stroke-dasharray="6.1 5.9" stroke-dashoffset="4"/>
<path class="o w8" d="M150 190C152.7 186.7 160 176.3 166 170C172 163.7 179 156.7 186 152C193 147.3 200.3 144.3 208 142C215.7 139.7 228 138.7 232 138"/><path class="p w6" d="M150 190C152.7 186.7 160 176.3 166 170C172 163.7 179 156.7 186 152C193 147.3 200.3 144.3 208 142C215.7 139.7 228 138.7 232 138"/><path class="c w6" d="M150 190C152.7 186.7 160 176.3 166 170C172 163.7 179 156.7 186 152C193 147.3 200.3 144.3 208 142C215.7 139.7 228 138.7 232 138" stroke-dasharray="56.9 23.9" stroke-dashoffset="5.4"/>
<path class="o w9" d="M152 194C155.3 191 164.7 181.7 172 176C179.3 170.3 188.7 164 196 160C203.3 156 209.3 153.5 216 152C222.7 150.5 232.7 151.2 236 151"/><path class="p w6" d="M152 194C155.3 191 164.7 181.7 172 176C179.3 170.3 188.7 164 196 160C203.3 156 209.3 153.5 216 152C222.7 150.5 232.7 151.2 236 151"/><path class="c w6" d="M152 194C155.3 191 164.7 181.7 172 176C179.3 170.3 188.7 164 196 160C203.3 156 209.3 153.5 216 152C222.7 150.5 232.7 151.2 236 151" stroke-dasharray="41.7 39.4" stroke-dashoffset="48.4"/>
<path class="o w8" d="M158 196C161.7 193.3 172.3 184.7 180 180C187.7 175.3 196.7 171.3 204 168C211.3 164.7 218.3 162.3 224 160C229.7 157.7 235.7 155 238 154"/><path class="c w6" d="M158 196C161.7 193.3 172.3 184.7 180 180C187.7 175.3 196.7 171.3 204 168C211.3 164.7 218.3 162.3 224 160C229.7 157.7 235.7 155 238 154"/><path class="p w6" d="M158 196C161.7 193.3 172.3 184.7 180 180C187.7 175.3 196.7 171.3 204 168C211.3 164.7 218.3 162.3 224 160C229.7 157.7 235.7 155 238 154" stroke-dasharray="42.1 19" stroke-dashoffset="2.9"/>
<path class="o w8" d="M170 200Q191 193 208 190"/><path class="c w6" d="M170 200Q191 193 208 190"/><path class="p w6" d="M170 200Q191 193 208 190" stroke-dasharray="21.1 10.5" stroke-dashoffset="19.1"/>
<path class="o w8" d="M132 220C135.3 218.3 144.7 212.3 152 210C159.3 207.7 168 207 176 206C184 205 196 204.3 200 204"/><path class="c w6" d="M132 220C135.3 218.3 144.7 212.3 152 210C159.3 207.7 168 207 176 206C184 205 196 204.3 200 204"/><path class="p w6" d="M132 220C135.3 218.3 144.7 212.3 152 210C159.3 207.7 168 207 176 206C184 205 196 204.3 200 204" stroke-dasharray="31.9 25.1" stroke-dashoffset="2.7"/>
<path class="o w8" d="M126 234C129 232.3 136.7 226.3 144 224C151.3 221.7 161.3 221.7 170 220C178.7 218.3 191.7 215 196 214"/><path class="p w6" d="M126 234C129 232.3 136.7 226.3 144 224C151.3 221.7 161.3 221.7 170 220C178.7 218.3 191.7 215 196 214"/><path class="c w6" d="M126 234C129 232.3 136.7 226.3 144 224C151.3 221.7 161.3 221.7 170 220C178.7 218.3 191.7 215 196 214" stroke-dasharray="42.5 19.6" stroke-dashoffset="3.1"/>
<path class="o w9" d="M124 242C128.3 240.7 141.3 236 150 234C158.7 232 168.3 231.7 176 230C183.7 228.3 192.7 225 196 224"/><path class="p w6" d="M124 242C128.3 240.7 141.3 236 150 234C158.7 232 168.3 231.7 176 230C183.7 228.3 192.7 225 196 224"/><path class="c w6" d="M124 242C128.3 240.7 141.3 236 150 234C158.7 232 168.3 231.7 176 230C183.7 228.3 192.7 225 196 224" stroke-dasharray="37.5 19.8" stroke-dashoffset="7.8"/>
<path class="o w8" d="M136 250C140 248.7 152 244 160 242C168 240 178.7 240.7 184 238C189.3 235.3 190.7 228 192 226"/><path class="p w6" d="M136 250C140 248.7 152 244 160 242C168 240 178.7 240.7 184 238C189.3 235.3 190.7 228 192 226"/><path class="c w6" d="M136 250C140 248.7 152 244 160 242C168 240 178.7 240.7 184 238C189.3 235.3 190.7 228 192 226" stroke-dasharray="26.8 24.6" stroke-dashoffset="9.7"/>
<path class="o w7" d="M140 214C143.3 211.7 152.3 204.3 160 200C167.7 195.7 178.3 191.7 186 188C193.7 184.3 202.7 179.7 206 178"/><path class="c w5" d="M140 214C143.3 211.7 152.3 204.3 160 200C167.7 195.7 178.3 191.7 186 188C193.7 184.3 202.7 179.7 206 178"/><path class="p w5" d="M140 214C143.3 211.7 152.3 204.3 160 200C167.7 195.7 178.3 191.7 186 188C193.7 184.3 202.7 179.7 206 178" stroke-dasharray="44.6 30.6" stroke-dashoffset="2.8"/>
<path class="o w9" d="M194 212Q189 229 196 250"/><path class="p w6" d="M194 212Q189 229 196 250"/><path class="c w6" d="M194 212Q189 229 196 250" stroke-dasharray="22.1 16" stroke-dashoffset="2.6"/>
<path class="o w10" d="M138 192Q136 209 134 214"/><path class="p w7" d="M138 192Q136 209 134 214"/><path class="c w7" d="M138 192Q136 209 134 214" stroke-dasharray="8.4 8.7" stroke-dashoffset="0.3"/>
<path class="o w10" d="M140 142C141.7 142.3 147.2 142.3 150 144C152.8 145.7 155.7 149 157 152C158.3 155 157.8 160.3 158 162"/><path class="p w7" d="M140 142C141.7 142.3 147.2 142.3 150 144C152.8 145.7 155.7 149 157 152C158.3 155 157.8 160.3 158 162"/><path class="c w7" d="M140 142C141.7 142.3 147.2 142.3 150 144C152.8 145.7 155.7 149 157 152C158.3 155 157.8 160.3 158 162" stroke-dasharray="15.8 13" stroke-dashoffset="0.6"/>
<path class="o w5 r" d="M138 158Q142 171 146 180"/><path class="c w2 r" d="M138 158Q142 171 146 180"/><path class="p w2" d="M138 158Q142 171 146 180" stroke-dasharray="11.3 9.8" stroke-dashoffset="5"/>
<path class="o w7" d="M122 156Q133 151 140 142"/><path class="c w5" d="M122 156Q133 151 140 142"/><path class="p w5" d="M122 156Q133 151 140 142" stroke-dasharray="7.3 5.3" stroke-dashoffset="1.5"/>
<path class="o w8" d="M210 208Q223 200 240 208"/><path class="c w6" d="M210 208Q223 200 240 208"/><path class="p w6" d="M210 208Q223 200 240 208" stroke-dasharray="9.1 8.3" stroke-dashoffset="3"/>
<path class="o w7" d="M206 216Q200 227 210 234"/><path class="p w5" d="M206 216Q200 227 210 234"/><path class="c w5" d="M206 216Q200 227 210 234" stroke-dasharray="11.9 5.7" stroke-dashoffset="9.7"/>
<path class="o w5 r" d="M391 77C384.8 70.1 406 64.5 407 73"/><path class="c w2 r" d="M391 77C384.8 70.1 406 64.5 407 73"/>
<path class="o w5 r" d="M413 62C414.4 57.3 405 65.1 407 73"/><path class="c w2 r" d="M413 62C414.4 57.3 405 65.1 407 73"/>
<path class="o w5 r" d="M425 92C431.7 93.2 426.6 106.1 426 102"/><path class="c w2 r" d="M425 92C431.7 93.2 426.6 106.1 426 102"/>
<path class="o w5 r" d="M413 96C410.9 90.1 432.7 94.4 425 92"/><path class="c w2 r" d="M413 96C410.9 90.1 432.7 94.4 425 92"/>
<path class="o w5 r" d="M445 116C450.3 116.9 438 112.2 440 110"/><path class="c w2 r" d="M445 116C450.3 116.9 438 112.2 440 110"/>
<path class="o w5 r" d="M450 90C451 89.3 450.3 88 447 88"/><path class="c w2 r" d="M450 90C451 89.3 450.3 88 447 88"/>
<path class="o w5 r" d="M455 68C451.8 67.8 465.1 75.7 459 75"/><path class="c w2 r" d="M455 68C451.8 67.8 465.1 75.7 459 75"/>
<path class="o w5 r" d="M478 80C480.8 78 472.5 82.2 473 86"/><path class="p w2 r" d="M478 80C480.8 78 472.5 82.2 473 86"/><path class="c w2" d="M478 80C480.8 78 472.5 82.2 473 86" stroke-dasharray="4.7 4.9" stroke-dashoffset="1.3"/>
<path class="o w5 r" d="M443 62C441.9 58.3 433 59.3 437 59"/><path class="c w2 r" d="M443 62C441.9 58.3 433 59.3 437 59"/>
<path class="o w5 r" d="M444 76C444.7 82.1 452.2 84.2 452 78"/><path class="c w2 r" d="M444 76C444.7 82.1 452.2 84.2 452 78"/>
<path class="o w5 r" d="M453 69C455.5 65 462.2 75.5 459 75"/><path class="c w2 r" d="M453 69C455.5 65 462.2 75.5 459 75"/>
<path class="o w5 r" d="M455 59C452.3 58.9 453.9 55.4 449 56"/><path class="c w2 r" d="M455 59C452.3 58.9 453.9 55.4 449 56"/>
<path class="o w5 r" d="M459 51C452.5 53.6 452.2 58.7 455 59"/><path class="c w2 r" d="M459 51C452.5 53.6 452.2 58.7 455 59"/>
<path class="o w5 r" d="M467 49C471.2 46.5 462.7 51.7 459 52"/><path class="c w2 r" d="M467 49C471.2 46.5 462.7 51.7 459 52"/>
<path class="o w5 r" d="M413 61C404.1 59.2 404.1 66.6 407 73"/><path class="c w2 r" d="M413 61C404.1 59.2 404.1 66.6 407 73"/>
<path class="o w5 r" d="M432 67C438.5 70.5 432 62.3 437 59"/><path class="c w2 r" d="M432 67C438.5 70.5 432 62.3 437 59"/>
<path class="o w5 r" d="M437 59C428.6 61.1 440.5 55.8 449 55"/><path class="c w2 r" d="M437 59C428.6 61.1 440.5 55.8 449 55"/>
<path class="o w5 r" d="M449 56C451.8 54 446.8 62.1 451 60"/><path class="c w2 r" d="M449 56C451.8 54 446.8 62.1 451 60"/>
<path class="o w5 r" d="M449 55C448 57.4 447.7 60.6 451 60"/><path class="c w2 r" d="M449 55C448 57.4 447.7 60.6 451 60"/>
<path class="o w5 r" d="M459 52C463.8 51.1 451 60.7 455 59"/><path class="c w2 r" d="M459 52C463.8 51.1 451 60.7 455 59"/>
<path class="o w5 r" d="M455 68C459 67.5 462.3 73.4 459 75"/><path class="c w2 r" d="M455 68C459 67.5 462.3 73.4 459 75"/>
<path class="o w5 r" d="M459 75C463.3 72.2 451.2 82.5 452 78"/><path class="c w2 r" d="M459 75C463.3 72.2 451.2 82.5 452 78"/>
<path class="o w5 r" d="M425 89C423.8 89.9 424.2 90.8 426 92"/><path class="c w2 r" d="M425 89C423.8 89.9 424.2 90.8 426 92"/>
<path class="o w5 r" d="M465 81C470.3 79.5 464.4 75.1 459 75"/><path class="c w2 r" d="M465 81C470.3 79.5 464.4 75.1 459 75"/>
<path class="o w5 r" d="M426 92C424.2 87.6 432.3 95.3 435 94"/><path class="c w2 r" d="M426 92C424.2 87.6 432.3 95.3 435 94"/>
<path class="o w5 r" d="M426 102C426.4 107.9 428.5 96.2 435 94"/><path class="c w2 r" d="M426 102C426.4 107.9 428.5 96.2 435 94"/>
<path class="o w5 r" d="M435 94C430.4 95.7 430 94.4 425 92"/><path class="c w2 r" d="M435 94C430.4 95.7 430 94.4 425 92"/>
<path class="o w5 r" d="M447 88C452.8 86.2 450.6 83 452 78"/><path class="c w2 r" d="M447 88C452.8 86.2 450.6 83 452 78"/>
<path class="o w5 r" d="M453 108C448.7 109.1 454.8 112.3 459 112"/><path class="p w2 r" d="M453 108C448.7 109.1 454.8 112.3 459 112"/><path class="c w2" d="M453 108C448.7 109.1 454.8 112.3 459 112" stroke-dasharray="6 6.6" stroke-dashoffset="6.2"/>
<path class="o w5 r" d="M471 95C474.4 91.4 471.5 81.5 473 86"/><path class="c w2 r" d="M471 95C474.4 91.4 471.5 81.5 473 86"/><path class="p w2" d="M471 95C474.4 91.4 471.5 81.5 473 86" stroke-dasharray="6.5 6.7" stroke-dashoffset="2.8"/>
<path class="o w5 r" d="M473 86C468.8 81 470.7 81.5 465 81"/><path class="p w2 r" d="M473 86C468.8 81 470.7 81.5 465 81"/><path class="c w2" d="M473 86C468.8 81 470.7 81.5 465 81" stroke-dasharray="4.1 3.6" stroke-dashoffset="6.6"/>
<path class="o w5 r" d="M485 98C487 98 484.6 90.5 487.9 92.4"/><path class="c w2 r" d="M485 98C487 98 484.6 90.5 487.9 92.4"/><path class="p w2" d="M485 98C487 98 484.6 90.5 487.9 92.4" stroke-dasharray="7.3 5.5" stroke-dashoffset="1.3"/>
<path class="o w5 r" d="M471 98C469.4 90.8 462.6 110.1 470 110"/><path class="p w2 r" d="M471 98C469.4 90.8 462.6 110.1 470 110"/><path class="c w2" d="M471 98C469.4 90.8 462.6 110.1 470 110" stroke-dasharray="16.6 13.5" stroke-dashoffset="15.1"/>
<path class="o w5 r" d="M481 110C484.5 110.9 482.2 114.5 481 115"/><path class="c w2 r" d="M481 110C484.5 110.9 482.2 114.5 481 115"/><path class="p w2" d="M481 110C484.5 110.9 482.2 114.5 481 115" stroke-dasharray="2.6 3.2" stroke-dashoffset="3.1"/>
<path class="o w5 r" d="M459 112C454.2 110.9 458.2 117.4 462.4 118.2"/><path class="p w2 r" d="M459 112C454.2 110.9 458.2 117.4 462.4 118.2"/><path class="c w2" d="M459 112C454.2 110.9 458.2 117.4 462.4 118.2" stroke-dasharray="5.3 5.4" stroke-dashoffset="0.8"/>
<path class="o w5 r" d="M481 115C485.9 114.1 480.2 122.7 479 120.5"/><path class="c w2 r" d="M481 115C485.9 114.1 480.2 122.7 479 120.5"/><path class="p w2" d="M481 115C485.9 114.1 480.2 122.7 479 120.5" stroke-dasharray="9.8 6" stroke-dashoffset="2.7"/>
<path class="o w5 r" d="M432 128C426.7 129.5 440.6 133.3 440 139"/><path class="c w2 r" d="M432 128C426.7 129.5 440.6 133.3 440 139"/><path class="p w2" d="M432 128C426.7 129.5 440.6 133.3 440 139" stroke-dasharray="11.6 10.8" stroke-dashoffset="10.9"/>
<path class="o w5 r" d="M453 123C458.3 123.3 458.1 119.4 461 122"/><path class="p w2 r" d="M453 123C458.3 123.3 458.1 119.4 461 122"/><path class="c w2" d="M453 123C458.3 123.3 458.1 119.4 461 122" stroke-dasharray="5.2 4.6" stroke-dashoffset="2.8"/>
<path class="o w5 r" d="M485 98C480.9 96.3 482.7 92.1 487.9 92.4"/><path class="p w2 r" d="M485 98C480.9 96.3 482.7 92.1 487.9 92.4"/><path class="c w2" d="M485 98C480.9 96.3 482.7 92.1 487.9 92.4" stroke-dasharray="5.1 5.7" stroke-dashoffset="0.3"/>
<path class="o w5 r" d="M509 109C513.1 109.3 515.2 105.6 510.7 102.7"/><path class="p w2 r" d="M509 109C513.1 109.3 515.2 105.6 510.7 102.7"/><path class="c w2" d="M509 109C513.1 109.3 515.2 105.6 510.7 102.7" stroke-dasharray="6.4 3.7" stroke-dashoffset="3.7"/>
<path class="o w5 r" d="M509 120C505.2 123 511.9 113.6 509 109"/><path class="p w2 r" d="M509 120C505.2 123 511.9 113.6 509 109"/><path class="c w2" d="M509 120C505.2 123 511.9 113.6 509 109" stroke-dasharray="8.1 9.8" stroke-dashoffset="2.1"/>
<path class="o w5 r" d="M481 115C477.7 114.6 483.4 111.2 481 110"/><path class="p w2 r" d="M481 115C477.7 114.6 483.4 111.2 481 110"/><path class="c w2" d="M481 115C477.7 114.6 483.4 111.2 481 110" stroke-dasharray="4.1 4.5" stroke-dashoffset="1.8"/>
<path class="o w5 r" d="M465 134C463.9 129.6 471.9 132.5 470.9 136"/><path class="p w2 r" d="M465 134C463.9 129.6 471.9 132.5 470.9 136"/><path class="c w2" d="M465 134C463.9 129.6 471.9 132.5 470.9 136" stroke-dasharray="8.5 4.7" stroke-dashoffset="4.7"/>
<path class="o w5 r" d="M465 160C464 161 468.2 159.3 469 160"/><path class="c w2 r" d="M465 160C464 161 468.2 159.3 469 160"/><path class="p w2" d="M465 160C464 161 468.2 159.3 469 160" stroke-dasharray="2 1.5" stroke-dashoffset="0.8"/>
<path class="o w5 r" d="M485 132C488.2 129.6 481.9 138 477 134"/><path class="c w2 r" d="M485 132C488.2 129.6 481.9 138 477 134"/><path class="p w2" d="M485 132C488.2 129.6 481.9 138 477 134" stroke-dasharray="9.7 5.4" stroke-dashoffset="3.4"/>
<path class="o w5 r" d="M471 158C469.9 162.3 470.7 166 471 164"/><path class="p w2 r" d="M471 158C469.9 162.3 470.7 166 471 164"/><path class="c w2" d="M471 158C469.9 162.3 470.7 166 471 164" stroke-dasharray="4.2 2.2" stroke-dashoffset="3.6"/>
<path class="o w5 r" d="M497 140C495 137.6 500.4 146.1 497.5 145.4"/><path class="c w2 r" d="M497 140C495 137.6 500.4 146.1 497.5 145.4"/><path class="p w2" d="M497 140C495 137.6 500.4 146.1 497.5 145.4" stroke-dasharray="9.4 6.2" stroke-dashoffset="7.7"/>
<path class="o w5 r" d="M517 160C516.8 160.1 516.7 153.7 516 156"/><path class="p w2 r" d="M517 160C516.8 160.1 516.7 153.7 516 156"/><path class="c w2" d="M517 160C516.8 160.1 516.7 153.7 516 156" stroke-dasharray="3.2 4" stroke-dashoffset="3.5"/>
<path class="o w5 r" d="M505 140C507.3 138 493.2 136.1 497 140"/><path class="p w2 r" d="M505 140C507.3 138 493.2 136.1 497 140"/><path class="c w2" d="M505 140C507.3 138 493.2 136.1 497 140" stroke-dasharray="13.2 8.1" stroke-dashoffset="9.3"/>
<path class="o w5 r" d="M485 152C482.5 152.8 483.7 146 487.3 146.8"/><path class="p w2 r" d="M485 152C482.5 152.8 483.7 146 487.3 146.8"/><path class="c w2" d="M485 152C482.5 152.8 483.7 146 487.3 146.8" stroke-dasharray="4.2 4.1" stroke-dashoffset="0.9"/>
<path class="o w5 r" d="M499 150C500.1 149.8 501 144.5 497.5 145.4"/><path class="p w2 r" d="M499 150C500.1 149.8 501 144.5 497.5 145.4"/><path class="c w2" d="M499 150C500.1 149.8 501 144.5 497.5 145.4" stroke-dasharray="6 2.9" stroke-dashoffset="0"/>
<path class="o w5 r" d="M428 144C426.3 140.8 435.6 146.8 433 144"/><path class="p w2 r" d="M428 144C426.3 140.8 435.6 146.8 433 144"/><path class="c w2" d="M428 144C426.3 140.8 435.6 146.8 433 144" stroke-dasharray="5.8 7.4" stroke-dashoffset="3.4"/>
<path class="o w5 r" d="M430 156C431.7 159.4 434.7 155.4 434.5 152.9"/><path class="p w2 r" d="M430 156C431.7 159.4 434.7 155.4 434.5 152.9"/><path class="c w2" d="M430 156C431.7 159.4 434.7 155.4 434.5 152.9" stroke-dasharray="3.2 5" stroke-dashoffset="2.4"/>
<path class="o w5 r" d="M440 139C440.4 136.2 444.9 136 444.5 138.6"/><path class="p w2 r" d="M440 139C440.4 136.2 444.9 136 444.5 138.6"/><path class="c w2" d="M440 139C440.4 136.2 444.9 136 444.5 138.6" stroke-dasharray="2.7 2.1" stroke-dashoffset="0.8"/>
<path class="o w5 r" d="M441 145C441.6 148.3 444 145.4 445.3 143.2"/><path class="c w2 r" d="M441 145C441.6 148.3 444 145.4 445.3 143.2"/><path class="p w2" d="M441 145C441.6 148.3 444 145.4 445.3 143.2" stroke-dasharray="2.9 2" stroke-dashoffset="2.4"/>
<path class="o w5 r" d="M423 142C421.8 144.8 427 142.7 428 144"/><path class="p w2 r" d="M423 142C421.8 144.8 427 142.7 428 144"/><path class="c w2" d="M423 142C421.8 144.8 427 142.7 428 144" stroke-dasharray="6.3 2.4" stroke-dashoffset="2.8"/>
<path class="o w5 r" d="M433 144C435.5 146.6 440.2 150.6 441 145"/><path class="c w2 r" d="M433 144C435.5 146.6 440.2 150.6 441 145"/><path class="p w2" d="M433 144C435.5 146.6 440.2 150.6 441 145" stroke-dasharray="6.1 6.9" stroke-dashoffset="3.7"/>
<path class="o w5 r" d="M445 136C443.4 137.9 440.1 136.8 440 139"/><path class="p w2 r" d="M445 136C443.4 137.9 440.1 136.8 440 139"/><path class="c w2" d="M445 136C443.4 137.9 440.1 136.8 440 139" stroke-dasharray="3.2 1.7" stroke-dashoffset="1.7"/>
<path class="o w5 r" d="M451 144C446.4 145.4 443.8 144.9 445.3 143.2"/><path class="p w2 r" d="M451 144C446.4 145.4 443.8 144.9 445.3 143.2"/><path class="c w2" d="M451 144C446.4 145.4 443.8 144.9 445.3 143.2" stroke-dasharray="5.4 3.9" stroke-dashoffset="2.4"/>
<path class="o w5 r" d="M461 122C457.4 119 458.6 119.5 462.4 118.2"/><path class="p w2 r" d="M461 122C457.4 119 458.6 119.5 462.4 118.2"/><path class="c w2" d="M461 122C457.4 119 458.6 119.5 462.4 118.2" stroke-dasharray="3.4 2.6" stroke-dashoffset="1"/>
<path class="o w5 r" d="M477 134C476.7 136.6 470.9 138.6 474 136"/><path class="p w2 r" d="M477 134C476.7 136.6 470.9 138.6 474 136"/><path class="c w2" d="M477 134C476.7 136.6 470.9 138.6 474 136" stroke-dasharray="7.1 3" stroke-dashoffset="0.3"/>
<path class="o w5 r" d="M443 156C440.6 161 447.4 158.2 451 160"/><path class="c w2 r" d="M443 156C440.6 161 447.4 158.2 451 160"/><path class="p w2" d="M443 156C440.6 161 447.4 158.2 451 160" stroke-dasharray="7.6 7.6" stroke-dashoffset="3.4"/>
<path class="o w5 r" d="M453 158C455.5 160.6 458.2 163.2 455 163"/><path class="c w2 r" d="M453 158C455.5 160.6 458.2 163.2 455 163"/><path class="p w2" d="M453 158C455.5 160.6 458.2 163.2 455 163" stroke-dasharray="5.1 4.2" stroke-dashoffset="4"/>
<path class="o w5 r" d="M505 140C502.4 137.4 493.2 137.1 497 140"/><path class="p w2 r" d="M505 140C502.4 137.4 493.2 137.1 497 140"/><path class="c w2" d="M505 140C502.4 137.4 493.2 137.1 497 140" stroke-dasharray="5 4.5" stroke-dashoffset="7.7"/>
<path class="o w5 r" d="M522 138C524.1 134.9 524.2 146.8 526.4 142.9"/><path class="c w2 r" d="M522 138C524.1 134.9 524.2 146.8 526.4 142.9"/><path class="p w2" d="M522 138C524.1 134.9 524.2 146.8 526.4 142.9" stroke-dasharray="11.5 5.7" stroke-dashoffset="6.6"/>
<path class="o w5 r" d="M537.3 112.3C538.6 107 541 98.3 540.5 103.8"/><path class="c w2 r" d="M537.3 112.3C538.6 107 541 98.3 540.5 103.8"/><path class="p w2" d="M537.3 112.3C538.6 107 541 98.3 540.5 103.8" stroke-dasharray="9.5 8.1" stroke-dashoffset="5.3"/>
<path class="o w5 r" d="M526.4 142.9C523 147.6 532.2 143.5 535.1 145.1"/><path class="c w2 r" d="M526.4 142.9C523 147.6 532.2 143.5 535.1 145.1"/><path class="p w2" d="M526.4 142.9C523 147.6 532.2 143.5 535.1 145.1" stroke-dasharray="9.4 5.1" stroke-dashoffset="8.8"/>
<path class="o w5 r" d="M548.3 101.3C547.2 100.4 549.8 104.2 550.5 103.5"/><path class="c w2 r" d="M548.3 101.3C547.2 100.4 549.8 104.2 550.5 103.5"/><path class="p w2" d="M548.3 101.3C547.2 100.4 549.8 104.2 550.5 103.5" stroke-dasharray="1.9 3.1" stroke-dashoffset="3.3"/>
<path class="o w5 r" d="M542.8 132C542.3 135 543.2 135.9 543.9 136.3"/><path class="c w2 r" d="M542.8 132C542.3 135 543.2 135.9 543.9 136.3"/><path class="p w2" d="M542.8 132C542.3 135 543.2 135.9 543.9 136.3" stroke-dasharray="1.4 2.2" stroke-dashoffset="0.3"/>
<path class="o w5 r" d="M565.8 111.2C565.1 110.8 561 106.2 563.6 106.8"/><path class="c w2 r" d="M565.8 111.2C565.1 110.8 561 106.2 563.6 106.8"/><path class="p w2" d="M565.8 111.2C565.1 110.8 561 106.2 563.6 106.8" stroke-dasharray="4.6 2.1" stroke-dashoffset="0.8"/>
<path class="o w5 r" d="M583.3 132C583.6 132.9 588.6 133.4 587.7 132"/><path class="c w2 r" d="M583.3 132C583.6 132.9 588.6 133.4 587.7 132"/><path class="p w2" d="M583.3 132C583.6 132.9 588.6 133.4 587.7 132" stroke-dasharray="3.5 3" stroke-dashoffset="3.6"/>
<path class="o w5 r" d="M581.1 106.8C576.9 107 583.4 113.2 578.9 112.3"/><path class="p w2 r" d="M581.1 106.8C576.9 107 583.4 113.2 578.9 112.3"/><path class="c w2" d="M581.1 106.8C576.9 107 583.4 113.2 578.9 112.3" stroke-dasharray="4.5 7.7" stroke-dashoffset="0.1"/>
<path class="o w5 r" d="M594.3 109C596.9 110.9 599.3 106.7 599.5 110.6"/><path class="c w2 r" d="M594.3 109C596.9 110.9 599.3 106.7 599.5 110.6"/><path class="p w2" d="M594.3 109C596.9 110.9 599.3 106.7 599.5 110.6" stroke-dasharray="3.5 4.8" stroke-dashoffset="4.7"/>
<path class="o w5 r" d="M594.3 110.1C591.9 107.1 598.5 106.5 599.5 110.6"/><path class="c w2 r" d="M594.3 110.1C591.9 107.1 598.5 106.5 599.5 110.6"/><path class="p w2" d="M594.3 110.1C591.9 107.1 598.5 106.5 599.5 110.6" stroke-dasharray="6.5 6.2" stroke-dashoffset="1.5"/>
<path class="o w5 r" d="M596.4 123.2C596 126.1 596.8 128 596.4 126.5"/><path class="c w2 r" d="M596.4 123.2C596 126.1 596.8 128 596.4 126.5"/><path class="p w2" d="M596.4 123.2C596 126.1 596.8 128 596.4 126.5" stroke-dasharray="2.4 2.8" stroke-dashoffset="2.5"/>
<path class="o w5 r" d="M587.7 115.5C587.7 113.6 594.2 116.4 591 114.8"/><path class="p w2 r" d="M587.7 115.5C587.7 113.6 594.2 116.4 591 114.8"/><path class="c w2" d="M587.7 115.5C587.7 113.6 594.2 116.4 591 114.8" stroke-dasharray="5.5 2.6" stroke-dashoffset="0.2"/>
<path class="o w5 r" d="M589.9 127.6C590.3 131.1 591.5 132.8 587.7 132"/><path class="c w2 r" d="M589.9 127.6C590.3 131.1 591.5 132.8 587.7 132"/><path class="p w2" d="M589.9 127.6C590.3 131.1 591.5 132.8 587.7 132" stroke-dasharray="4 4" stroke-dashoffset="2.9"/>
<path class="o w5 r" d="M601.9 117.7C604.3 114.6 605.5 112.6 607.4 116.6"/><path class="p w2 r" d="M601.9 117.7C604.3 114.6 605.5 112.6 607.4 116.6"/><path class="c w2" d="M601.9 117.7C604.3 114.6 605.5 112.6 607.4 116.6" stroke-dasharray="4 4.2" stroke-dashoffset="2.8"/>
<path class="o w5 r" d="M599.7 129.8C600 134.1 600.3 124.8 596.4 126.5"/><path class="p w2 r" d="M599.7 129.8C600 134.1 600.3 124.8 596.4 126.5"/><path class="c w2" d="M599.7 129.8C600 134.1 600.3 124.8 596.4 126.5" stroke-dasharray="9.7 7.3" stroke-dashoffset="0.8"/>
<path class="o w5 r" d="M607.4 116.6C605.3 111.5 602.6 125.6 601.1 120.2"/><path class="p w2 r" d="M607.4 116.6C605.3 111.5 602.6 125.6 601.1 120.2"/><path class="c w2" d="M607.4 116.6C605.3 111.5 602.6 125.6 601.1 120.2" stroke-dasharray="9.8 10.1" stroke-dashoffset="4"/>
<path class="o w5 r" d="M609.6 124.3C609.7 129.6 611.7 119.1 616.2 121"/><path class="p w2 r" d="M609.6 124.3C609.7 129.6 611.7 119.1 616.2 121"/><path class="c w2" d="M609.6 124.3C609.7 129.6 611.7 119.1 616.2 121" stroke-dasharray="8.8 9.2" stroke-dashoffset="1"/>
<path class="o w5 r" d="M616.2 121C611.2 118 618.1 113.6 620.1 115.8"/><path class="p w2 r" d="M616.2 121C611.2 118 618.1 113.6 620.1 115.8"/><path class="c w2" d="M616.2 121C611.2 118 618.1 113.6 620.1 115.8" stroke-dasharray="7.9 7.2" stroke-dashoffset="4.3"/>
<path class="o w5 r" d="M631.5 127.6C634 129.2 631.9 122.9 631.5 123.2"/><path class="p w2 r" d="M631.5 127.6C634 129.2 631.9 122.9 631.5 123.2"/><path class="c w2" d="M631.5 127.6C634 129.2 631.9 122.9 631.5 123.2" stroke-dasharray="5.6 4" stroke-dashoffset="0.3"/>
<path class="o w5 r" d="M631.5 127.6C629.2 125.4 634.2 125.4 631.5 123.2"/><path class="c w2 r" d="M631.5 127.6C629.2 125.4 634.2 125.4 631.5 123.2"/><path class="p w2" d="M631.5 127.6C629.2 125.4 634.2 125.4 631.5 123.2" stroke-dasharray="3.7 3.2" stroke-dashoffset="4.8"/>
<path class="o w5 r" d="M661 149.5C663.9 151.5 655.7 157.5 654 153.3"/><path class="p w2 r" d="M661 149.5C663.9 151.5 655.7 157.5 654 153.3"/><path class="c w2" d="M661 149.5C663.9 151.5 655.7 157.5 654 153.3" stroke-dasharray="9.6 4.4" stroke-dashoffset="8"/>
<path class="o w5 r" d="M598.6 135.2C597.1 136.7 597.6 134.6 599.7 129.8"/><path class="p w2 r" d="M598.6 135.2C597.1 136.7 597.6 134.6 599.7 129.8"/><path class="c w2" d="M598.6 135.2C597.1 136.7 597.6 134.6 599.7 129.8" stroke-dasharray="2.9 3.1" stroke-dashoffset="1.6"/>
<path class="o w5 r" d="M618.3 136.3C623.2 137.6 621.4 136.5 624.9 138.5"/><path class="p w2 r" d="M618.3 136.3C623.2 137.6 621.4 136.5 624.9 138.5"/><path class="c w2" d="M618.3 136.3C623.2 137.6 621.4 136.5 624.9 138.5" stroke-dasharray="6.3 4.2" stroke-dashoffset="0"/>
<path class="o w5 r" d="M605.2 140.7C601.8 139.3 595 136.8 598.6 135.2"/><path class="p w2 r" d="M605.2 140.7C601.8 139.3 595 136.8 598.6 135.2"/><path class="c w2" d="M605.2 140.7C601.8 139.3 595 136.8 598.6 135.2" stroke-dasharray="6.6 4.8" stroke-dashoffset="5.4"/>
<path class="o w5 r" d="M624.9 142.9C627.5 141.6 623.2 136.2 624.9 138.5"/><path class="p w2 r" d="M624.9 142.9C627.5 141.6 623.2 136.2 624.9 138.5"/><path class="c w2" d="M624.9 142.9C627.5 141.6 623.2 136.2 624.9 138.5" stroke-dasharray="3.5 3.3" stroke-dashoffset="5.3"/>
<path class="o w5 r" d="M624.9 138.5C623.2 136.4 626.2 135.1 630.6 135.9"/><path class="p w2 r" d="M624.9 138.5C623.2 136.4 626.2 135.1 630.6 135.9"/><path class="c w2" d="M624.9 138.5C623.2 136.4 626.2 135.1 630.6 135.9" stroke-dasharray="5.5 4.7" stroke-dashoffset="3.3"/>
<path class="o w5 r" d="M644.6 158.2C645.7 162.2 654.3 157.3 650.6 157.5"/><path class="c w2 r" d="M644.6 158.2C645.7 162.2 654.3 157.3 650.6 157.5"/><path class="p w2" d="M644.6 158.2C645.7 162.2 654.3 157.3 650.6 157.5" stroke-dasharray="8.2 4.9" stroke-dashoffset="8.1"/>
<path class="o w5 r" d="M616.2 149.5C617.4 150.2 616.9 151.5 618 152.5"/><path class="p w2 r" d="M616.2 149.5C617.4 150.2 616.9 151.5 618 152.5"/><path class="c w2" d="M616.2 149.5C617.4 150.2 616.9 151.5 618 152.5" stroke-dasharray="2.5 1.2" stroke-dashoffset="1.9"/>
<path class="o w5 r" d="M557 127.6C554.2 127 556.1 129.2 554.8 132"/><path class="c w2 r" d="M557 127.6C554.2 127 556.1 129.2 554.8 132"/><path class="p w2" d="M557 127.6C554.2 127 556.1 129.2 554.8 132" stroke-dasharray="4.1 2.7" stroke-dashoffset="0.6"/>
<path class="o w5 r" d="M587.7 132C591.1 133.3 581.7 129.9 583.3 129.8"/><path class="c w2 r" d="M587.7 132C591.1 133.3 581.7 129.9 583.3 129.8"/><path class="p w2" d="M587.7 132C591.1 133.3 581.7 129.9 583.3 129.8" stroke-dasharray="5.8 5.6" stroke-dashoffset="1"/>
<path class="o w5 r" d="M583.3 129.8C579.3 132.2 590.8 128.3 589.3 126.7"/><path class="p w2 r" d="M583.3 129.8C579.3 132.2 590.8 128.3 589.3 126.7"/><path class="c w2" d="M583.3 129.8C579.3 132.2 590.8 128.3 589.3 126.7" stroke-dasharray="5.7 7.7" stroke-dashoffset="1.7"/>
<path class="o w5 r" d="M596.4 126.5C601.1 125 589.9 130.8 589.9 127.6"/><path class="c w2 r" d="M596.4 126.5C601.1 125 589.9 130.8 589.9 127.6"/><path class="p w2" d="M596.4 126.5C601.1 125 589.9 130.8 589.9 127.6" stroke-dasharray="7.9 7.1" stroke-dashoffset="3.6"/>
<path class="o w5 r" d="M543.9 136.3C542 136.9 546.9 139.5 548.4 139.9"/><path class="c w2 r" d="M543.9 136.3C542 136.9 546.9 139.5 548.4 139.9"/><path class="p w2" d="M543.9 136.3C542 136.9 546.9 139.5 548.4 139.9" stroke-dasharray="2.6 2.7" stroke-dashoffset="4.2"/>
<path class="o w5 r" d="M554.8 132C555.5 129.5 559.4 130.6 559.2 132"/><path class="p w2 r" d="M554.8 132C555.5 129.5 559.4 130.6 559.2 132"/><path class="c w2" d="M554.8 132C555.5 129.5 559.4 130.6 559.2 132" stroke-dasharray="3.8 2.3" stroke-dashoffset="1.2"/>
<path class="o w5 r" d="M559.2 132C557 129.3 555.4 133.5 555.5 134.6"/><path class="p w2 r" d="M559.2 132C557 129.3 555.4 133.5 555.5 134.6"/><path class="c w2" d="M559.2 132C557 129.3 555.4 133.5 555.5 134.6" stroke-dasharray="2.3 3.9" stroke-dashoffset="3.7"/>
<path class="o w5 r" d="M574.6 145.1C577.4 144.2 574.3 148.5 572.2 149.2"/><path class="c w2 r" d="M574.6 145.1C577.4 144.2 574.3 148.5 572.2 149.2"/><path class="p w2" d="M574.6 145.1C577.4 144.2 574.3 148.5 572.2 149.2" stroke-dasharray="5.6 4.6" stroke-dashoffset="0.8"/>
<path class="o w5 r" d="M614 145.1C613.5 141.3 617.8 150.3 616.2 149.5"/><path class="c w2 r" d="M614 145.1C613.5 141.3 617.8 150.3 616.2 149.5"/><path class="p w2" d="M614 145.1C613.5 141.3 617.8 150.3 616.2 149.5" stroke-dasharray="6.6 5.4" stroke-dashoffset="7.4"/>
<path class="o w5 r" d="M618.3 160C620.5 164.6 615.3 163.6 612.6 161"/><path class="c w2 r" d="M618.3 160C620.5 164.6 615.3 163.6 612.6 161"/><path class="p w2" d="M618.3 160C620.5 164.6 615.3 163.6 612.6 161" stroke-dasharray="8.3 3.2" stroke-dashoffset="4.6"/>
<path class="o w5 r" d="M550.5 103.5C545.3 104 543.4 99.1 540.5 103.8"/><path class="c w2 r" d="M550.5 103.5C545.3 104 543.4 99.1 540.5 103.8"/><path class="p w2" d="M550.5 103.5C545.3 104 543.4 99.1 540.5 103.8" stroke-dasharray="8.1 5.6" stroke-dashoffset="6.6"/>
<path class="o w5 r" d="M557 103.5C562.5 103.4 560 107.2 563.6 106.8"/><path class="p w2 r" d="M557 103.5C562.5 103.4 560 107.2 563.6 106.8"/><path class="c w2" d="M557 103.5C562.5 103.4 560 107.2 563.6 106.8" stroke-dasharray="7.8 4.1" stroke-dashoffset="4.1"/>
<path class="o w5 r" d="M563.6 106.8C559.2 106.7 566.6 115 561.4 116.6"/><path class="c w2 r" d="M563.6 106.8C559.2 106.7 566.6 115 561.4 116.6"/><path class="p w2" d="M563.6 106.8C559.2 106.7 566.6 115 561.4 116.6" stroke-dasharray="10.4 5.8" stroke-dashoffset="2.4"/>
<path class="o w5 r" d="M578.9 112.3C579.8 113.7 579 113.1 583.2 113.5"/><path class="p w2 r" d="M578.9 112.3C579.8 113.7 579 113.1 583.2 113.5"/><path class="c w2" d="M578.9 112.3C579.8 113.7 579 113.1 583.2 113.5" stroke-dasharray="3.3 3.2" stroke-dashoffset="3.2"/>
<path class="o w5 r" d="M548.3 123.2C543.6 126.5 553.5 129.5 557 127.6"/><path class="p w2 r" d="M548.3 123.2C543.6 126.5 553.5 129.5 557 127.6"/><path class="c w2" d="M548.3 123.2C543.6 126.5 553.5 129.5 557 127.6" stroke-dasharray="7.8 8.1" stroke-dashoffset="2.8"/>
<path class="o w5 r" d="M561.4 116.6C565.9 116 552.9 121.7 558.2 122.1"/><path class="p w2 r" d="M561.4 116.6C565.9 116 552.9 121.7 558.2 122.1"/><path class="c w2" d="M561.4 116.6C565.9 116 552.9 121.7 558.2 122.1" stroke-dasharray="6.1 5.9" stroke-dashoffset="6.5"/>
<path class="o w5 r" d="M535.1 145.1C526.8 143.6 539.3 138.2 543.9 136.3"/><path class="c w2 r" d="M535.1 145.1C526.8 143.6 539.3 138.2 543.9 136.3"/><path class="p w2" d="M535.1 145.1C526.8 143.6 539.3 138.2 543.9 136.3" stroke-dasharray="12.5 7.9" stroke-dashoffset="12.8"/>
<path class="o w5 r" d="M550.5 142.9C552.9 140.3 548 141 548.4 139.9"/><path class="c w2 r" d="M550.5 142.9C552.9 140.3 548 141 548.4 139.9"/><path class="p w2" d="M550.5 142.9C552.9 140.3 548 141 548.4 139.9" stroke-dasharray="3 2.1" stroke-dashoffset="4.7"/>
<path class="o w5 r" d="M594.3 149.5C600.7 154.3 598.8 141.6 605.2 140.7"/><path class="c w2 r" d="M594.3 149.5C600.7 154.3 598.8 141.6 605.2 140.7"/><path class="p w2" d="M594.3 149.5C600.7 154.3 598.8 141.6 605.2 140.7" stroke-dasharray="15.7 9.6" stroke-dashoffset="4.3"/>
<path class="o w5 r" d="M622.7 116.6C620.9 113.6 612.1 117.7 616.2 121"/><path class="p w2 r" d="M622.7 116.6C620.9 113.6 612.1 117.7 616.2 121"/><path class="c w2" d="M622.7 116.6C620.9 113.6 612.1 117.7 616.2 121" stroke-dasharray="6.3 4.7" stroke-dashoffset="8.5"/>
<path class="o w5 r" d="M631.5 123.2C635.7 123 625.7 129.9 631.3 134.2"/><path class="c w2 r" d="M631.5 123.2C635.7 123 625.7 129.9 631.3 134.2"/><path class="p w2" d="M631.5 123.2C635.7 123 625.7 129.9 631.3 134.2" stroke-dasharray="12.3 5.6" stroke-dashoffset="2.8"/>
<path class="o w5 r" d="M554.8 149.5C551.4 146.8 554.7 139.7 550.5 142.9"/><path class="p w2 r" d="M554.8 149.5C551.4 146.8 554.7 139.7 550.5 142.9"/><path class="c w2" d="M554.8 149.5C551.4 146.8 554.7 139.7 550.5 142.9" stroke-dasharray="10.2 4.2" stroke-dashoffset="6.9"/>
<path class="o w5 r" d="M565.8 160C568.7 162.2 558.4 155.8 562.8 155"/><path class="c w2 r" d="M565.8 160C568.7 162.2 558.4 155.8 562.8 155"/><path class="p w2" d="M565.8 160C568.7 162.2 558.4 155.8 562.8 155" stroke-dasharray="8.9 8.9" stroke-dashoffset="2.6"/>
<path class="o w5 r" d="M447 171C444.2 167.9 454.6 169.4 451.7 167"/><path class="p w2 r" d="M447 171C444.2 167.9 454.6 169.4 451.7 167"/><path class="c w2" d="M447 171C444.2 167.9 454.6 169.4 451.7 167" stroke-dasharray="5.6 4.1" stroke-dashoffset="0.3"/>
<path class="o w5 r" d="M456 186C454.4 187.1 458.3 187.9 455 190"/><path class="p w2 r" d="M456 186C454.4 187.1 458.3 187.9 455 190"/><path class="c w2" d="M456 186C454.4 187.1 458.3 187.9 455 190" stroke-dasharray="2.9 2.1" stroke-dashoffset="4.9"/>
<path class="o w5 r" d="M465 180C464.4 175.9 465.8 178.3 470 178"/><path class="p w2 r" d="M465 180C464.4 175.9 465.8 178.3 470 178"/><path class="c w2" d="M465 180C464.4 175.9 465.8 178.3 470 178" stroke-dasharray="6.2 4.2" stroke-dashoffset="4.1"/>
<path class="o w5 r" d="M457 206C453.1 209.3 468.5 198.3 465.2 201"/><path class="c w2 r" d="M457 206C453.1 209.3 468.5 198.3 465.2 201"/><path class="p w2" d="M457 206C453.1 209.3 468.5 198.3 465.2 201" stroke-dasharray="16.6 11.9" stroke-dashoffset="10.2"/>
<path class="o w5 r" d="M445 193C437.7 194.4 447.1 207.2 443 203"/><path class="c w2 r" d="M445 193C437.7 194.4 447.1 207.2 443 203"/><path class="p w2" d="M445 193C437.7 194.4 447.1 207.2 443 203" stroke-dasharray="14.4 11.1" stroke-dashoffset="8"/>
<path class="o w5 r" d="M455 190C462.1 187.4 464.7 174.3 465 180"/><path class="p w2 r" d="M455 190C462.1 187.4 464.7 174.3 465 180"/><path class="c w2" d="M455 190C462.1 187.4 464.7 174.3 465 180" stroke-dasharray="8.1 11" stroke-dashoffset="6.5"/>
<path class="o w5 r" d="M433 195C429.3 193.2 426.9 197.8 430.3 199.1"/><path class="p w2 r" d="M433 195C429.3 193.2 426.9 197.8 430.3 199.1"/><path class="c w2" d="M433 195C429.3 193.2 426.9 197.8 430.3 199.1" stroke-dasharray="4 5.4" stroke-dashoffset="1.7"/>
<path class="o w5 r" d="M443 203C443.7 202.8 442.5 207.1 439.4 206.3"/><path class="p w2 r" d="M443 203C443.7 202.8 442.5 207.1 439.4 206.3"/><path class="c w2" d="M443 203C443.7 202.8 442.5 207.1 439.4 206.3" stroke-dasharray="4 3.4" stroke-dashoffset="1.4"/>
<path class="o w5 r" d="M444 217C440.5 219.8 438.8 210.7 443 210.6"/><path class="p w2 r" d="M444 217C440.5 219.8 438.8 210.7 443 210.6"/><path class="c w2" d="M444 217C440.5 219.8 438.8 210.7 443 210.6" stroke-dasharray="7.1 3.7" stroke-dashoffset="7.9"/>
<path class="o w5 r" d="M471 205C475.6 203.6 468 197.4 465.2 201"/><path class="p w2 r" d="M471 205C475.6 203.6 468 197.4 465.2 201"/><path class="c w2" d="M471 205C475.6 203.6 468 197.4 465.2 201" stroke-dasharray="11.2 4.6" stroke-dashoffset="1.5"/>
<path class="o w5 r" d="M489 186C492.2 184.3 485.1 187.5 485 188"/><path class="c w2 r" d="M489 186C492.2 184.3 485.1 187.5 485 188"/><path class="p w2" d="M489 186C492.2 184.3 485.1 187.5 485 188" stroke-dasharray="6.5 3.1" stroke-dashoffset="3.3"/>
<path class="o w5 r" d="M473 206C468.1 207.7 467.9 199 465.2 201"/><path class="p w2 r" d="M473 206C468.1 207.7 467.9 199 465.2 201"/><path class="c w2" d="M473 206C468.1 207.7 467.9 199 465.2 201" stroke-dasharray="8.6 4.2" stroke-dashoffset="7.1"/>
<path class="o w5 r" d="M485 222C485.5 224 486.7 225.7 487 226"/><path class="c w2 r" d="M485 222C485.5 224 486.7 225.7 487 226"/><path class="p w2" d="M485 222C485.5 224 486.7 225.7 487 226" stroke-dasharray="2.3 2" stroke-dashoffset="2.1"/>
<path class="o w5 r" d="M507 228C505.9 230.1 511.5 227.8 510 227.8"/><path class="p w2 r" d="M507 228C505.9 230.1 511.5 227.8 510 227.8"/><path class="c w2" d="M507 228C505.9 230.1 511.5 227.8 510 227.8" stroke-dasharray="5.4 4" stroke-dashoffset="2.9"/>
<path class="o w5 r" d="M461 218C460.8 214.5 463.5 214.5 465.5 217.1"/><path class="p w2 r" d="M461 218C460.8 214.5 463.5 214.5 465.5 217.1"/><path class="c w2" d="M461 218C460.8 214.5 463.5 214.5 465.5 217.1" stroke-dasharray="4.4 4.1" stroke-dashoffset="1.4"/>
<path class="o w5 r" d="M475 224C478.5 221.5 474.3 220.4 472.3 221.3"/><path class="c w2 r" d="M475 224C478.5 221.5 474.3 220.4 472.3 221.3"/><path class="p w2" d="M475 224C478.5 221.5 474.3 220.4 472.3 221.3" stroke-dasharray="6.1 3.8" stroke-dashoffset="0.2"/>
<path class="o w5 r" d="M475 224C474 227.4 472.8 219.1 472.3 221.3"/><path class="c w2 r" d="M475 224C474 227.4 472.8 219.1 472.3 221.3"/><path class="p w2" d="M475 224C474 227.4 472.8 219.1 472.3 221.3" stroke-dasharray="4.8 5.8" stroke-dashoffset="4.7"/>
<path class="o w5 r" d="M489 210C492.5 208.2 491.5 212.2 490.1 215.2"/><path class="p w2 r" d="M489 210C492.5 208.2 491.5 212.2 490.1 215.2"/><path class="c w2" d="M489 210C492.5 208.2 491.5 212.2 490.1 215.2" stroke-dasharray="6.4 4.1" stroke-dashoffset="1.9"/>
<path class="o w5 r" d="M487 226C485 223.6 476.9 228.9 479.7 225.7"/><path class="c w2 r" d="M487 226C485 223.6 476.9 228.9 479.7 225.7"/><path class="p w2" d="M487 226C485 223.6 476.9 228.9 479.7 225.7" stroke-dasharray="9.6 7.2" stroke-dashoffset="7.5"/>
<path class="o w5 r" d="M499 226C501.7 221.6 503.4 227.6 504.2 223.5"/><path class="c w2 r" d="M499 226C501.7 221.6 503.4 227.6 504.2 223.5"/><path class="p w2" d="M499 226C501.7 221.6 503.4 227.6 504.2 223.5" stroke-dasharray="7.8 5.5" stroke-dashoffset="4.1"/>
<path class="o w5 r" d="M505 232C502.3 228.7 507.9 231 507 228"/><path class="c w2 r" d="M505 232C502.3 228.7 507.9 231 507 228"/><path class="p w2" d="M505 232C502.3 228.7 507.9 231 507 228" stroke-dasharray="5 2.9" stroke-dashoffset="4.8"/>
<path class="o w5 r" d="M521 248C525.1 248.9 521 246.6 520.1 242.9"/><path class="p w2 r" d="M521 248C525.1 248.9 521 246.6 520.1 242.9"/><path class="c w2" d="M521 248C525.1 248.9 521 246.6 520.1 242.9" stroke-dasharray="5.6 4.5" stroke-dashoffset="1.6"/>
<path class="o w5 r" d="M489 164C489.2 158.1 480 174.1 484 170"/><path class="p w2 r" d="M489 164C489.2 158.1 480 174.1 484 170"/><path class="c w2" d="M489 164C489.2 158.1 480 174.1 484 170" stroke-dasharray="8.3 12" stroke-dashoffset="13.7"/>
<path class="o w5 r" d="M483 184C482.4 184.2 485.9 183.8 486 182"/><path class="c w2 r" d="M483 184C482.4 184.2 485.9 183.8 486 182"/><path class="p w2" d="M483 184C482.4 184.2 485.9 183.8 486 182" stroke-dasharray="1.7 2.7" stroke-dashoffset="2.5"/>
<path class="o w5 r" d="M497 166C492.9 160.7 490.3 159.9 489 164"/><path class="p w2 r" d="M497 166C492.9 160.7 490.3 159.9 489 164"/><path class="c w2" d="M497 166C492.9 160.7 490.3 159.9 489 164" stroke-dasharray="3.4 5.6" stroke-dashoffset="4.3"/>
<path class="o w5 r" d="M513 186C516 191.9 504.8 187.3 505 192.7"/><path class="c w2 r" d="M513 186C516 191.9 504.8 187.3 505 192.7"/><path class="p w2" d="M513 186C516 191.9 504.8 187.3 505 192.7" stroke-dasharray="6.2 9.2" stroke-dashoffset="0.4"/>
<path class="o w5 r" d="M425 162C422.9 162.8 423.2 166.7 425 168"/><path class="p w2 r" d="M425 162C422.9 162.8 423.2 166.7 425 168"/><path class="c w2" d="M425 162C422.9 162.8 423.2 166.7 425 168" stroke-dasharray="2.5 2.4" stroke-dashoffset="3.7"/>
<path class="o w5 r" d="M433 161C434.9 158.9 431.8 157.6 430 156"/><path class="c w2 r" d="M433 161C434.9 158.9 431.8 157.6 430 156"/><path class="p w2" d="M433 161C434.9 158.9 431.8 157.6 430 156" stroke-dasharray="4.6 2.4" stroke-dashoffset="1.7"/>
<path class="o w5 r" d="M451 160C450.6 157.1 447.9 161.3 448.6 164.7"/><path class="c w2 r" d="M451 160C450.6 157.1 447.9 161.3 448.6 164.7"/><path class="p w2" d="M451 160C450.6 157.1 447.9 161.3 448.6 164.7" stroke-dasharray="3 3.5" stroke-dashoffset="5.6"/>
<path class="o w5 r" d="M455 163C456.2 166 454.5 169.3 451.7 167"/><path class="c w2 r" d="M455 163C456.2 166 454.5 169.3 451.7 167"/><path class="p w2" d="M455 163C456.2 166 454.5 169.3 451.7 167" stroke-dasharray="5.8 2.9" stroke-dashoffset="3.6"/>
<path class="o w5 r" d="M469 160C469.5 157.4 468.8 154.2 470 156"/><path class="c w2 r" d="M469 160C469.5 157.4 468.8 154.2 470 156"/><path class="p w2" d="M469 160C469.5 157.4 468.8 154.2 470 156" stroke-dasharray="4 2.5" stroke-dashoffset="0.7"/>
<path class="o w5 r" d="M471 164C473.6 166.9 471.6 160.5 470.8 158.9"/><path class="p w2 r" d="M471 164C473.6 166.9 471.6 160.5 470.8 158.9"/><path class="c w2" d="M471 164C473.6 166.9 471.6 160.5 470.8 158.9" stroke-dasharray="6.9 5.3" stroke-dashoffset="1.7"/>
<path class="o w5 r" d="M425 168C419.6 166.3 437.1 159.7 433 161"/><path class="c w2 r" d="M425 168C419.6 166.3 437.1 159.7 433 161"/><path class="p w2" d="M425 168C419.6 166.3 437.1 159.7 433 161" stroke-dasharray="11.2 10.2" stroke-dashoffset="12.1"/>
<path class="o w5 r" d="M429 183C423.4 189 428.6 190.2 433 195"/><path class="p w2 r" d="M429 183C423.4 189 428.6 190.2 433 195"/><path class="c w2" d="M429 183C423.4 189 428.6 190.2 433 195" stroke-dasharray="9.3 5.3" stroke-dashoffset="5.1"/>
<path class="o w5 r" d="M457 168C455 165.2 453.5 170.7 451.7 167"/><path class="p w2 r" d="M457 168C455 165.2 453.5 170.7 451.7 167"/><path class="c w2" d="M457 168C455 165.2 453.5 170.7 451.7 167" stroke-dasharray="4.5 3.6" stroke-dashoffset="6.1"/>
<path class="o w5 r" d="M479 174C482.2 171.9 479.9 170.5 484 170"/><path class="p w2 r" d="M479 174C482.2 171.9 479.9 170.5 484 170"/><path class="c w2" d="M479 174C482.2 171.9 479.9 170.5 484 170" stroke-dasharray="5.5 2.4" stroke-dashoffset="5.3"/>
<path class="o w5 r" d="M473 232C478.7 232.4 479.2 223.2 475 224"/><path class="p w2 r" d="M473 232C478.7 232.4 479.2 223.2 475 224"/><path class="c w2" d="M473 232C478.7 232.4 479.2 223.2 475 224" stroke-dasharray="5.4 4.9" stroke-dashoffset="9"/>
<path class="o w5 r" d="M471 186C466.4 188.9 467.3 180.9 470 178"/><path class="c w2 r" d="M471 186C466.4 188.9 467.3 180.9 470 178"/><path class="p w2" d="M471 186C466.4 188.9 467.3 180.9 470 178" stroke-dasharray="9.8 5.7" stroke-dashoffset="1"/>
<path class="o w5 r" d="M485 188C488.1 189 483.9 187.9 483 184"/><path class="p w2 r" d="M485 188C488.1 189 483.9 187.9 483 184"/><path class="c w2" d="M485 188C488.1 189 483.9 187.9 483 184" stroke-dasharray="4.8 5.2" stroke-dashoffset="1"/>
<path class="o w5 r" d="M517 168C520.2 163.7 523.4 170.5 523 167"/><path class="p w2 r" d="M517 168C520.2 163.7 523.4 170.5 523 167"/><path class="c w2" d="M517 168C520.2 163.7 523.4 170.5 523 167" stroke-dasharray="8.9 3.8" stroke-dashoffset="8"/>
<path class="o w5 r" d="M522 180C527.5 183 515.4 191.2 513 186"/><path class="p w2 r" d="M522 180C527.5 183 515.4 191.2 513 186"/><path class="c w2" d="M522 180C527.5 183 515.4 191.2 513 186" stroke-dasharray="11.9 9.7" stroke-dashoffset="12.1"/>
<path class="o w5 r" d="M562.8 155C557.3 153.1 551.4 147.5 554.8 149.5"/><path class="p w2 r" d="M562.8 155C557.3 153.1 551.4 147.5 554.8 149.5"/><path class="c w2" d="M562.8 155C557.3 153.1 551.4 147.5 554.8 149.5" stroke-dasharray="9.8 4.4" stroke-dashoffset="6.4"/>
<path class="o w5 r" d="M613 168.8C615.5 169.3 613.5 163.4 612.6 161"/><path class="p w2 r" d="M613 168.8C615.5 169.3 613.5 163.4 612.6 161"/><path class="c w2" d="M613 168.8C615.5 169.3 613.5 163.4 612.6 161" stroke-dasharray="5.9 2.8" stroke-dashoffset="1.2"/>
<path class="o w5 r" d="M562.8 170.1C558.1 170 571.1 166.6 565.8 160"/><path class="p w2 r" d="M562.8 170.1C558.1 170 571.1 166.6 565.8 160"/><path class="c w2" d="M562.8 170.1C558.1 170 571.1 166.6 565.8 160" stroke-dasharray="9.7 7.5" stroke-dashoffset="13.1"/>
<path class="o w5 r" d="M610.5 180.1C616.1 180.5 618.3 170.5 613 168.8"/><path class="c w2 r" d="M610.5 180.1C616.1 180.5 618.3 170.5 613 168.8"/><path class="p w2" d="M610.5 180.1C616.1 180.5 618.3 170.5 613 168.8" stroke-dasharray="8.1 9.6" stroke-dashoffset="1.8"/>
<path class="o w5 r" d="M567.8 182.6C561.5 178.4 556.8 168.1 562.8 170.1"/><path class="p w2 r" d="M567.8 182.6C561.5 178.4 556.8 168.1 562.8 170.1"/><path class="c w2" d="M567.8 182.6C561.5 178.4 556.8 168.1 562.8 170.1" stroke-dasharray="14.7 11" stroke-dashoffset="8.6"/>
<path class="o w5 r" d="M600.4 200.2C605.5 203.2 607.6 205.6 604.6 205.9"/><path class="c w2 r" d="M600.4 200.2C605.5 203.2 607.6 205.6 604.6 205.9"/><path class="p w2" d="M600.4 200.2C605.5 203.2 607.6 205.6 604.6 205.9" stroke-dasharray="3.3 5.2" stroke-dashoffset="4.3"/>
<path class="o w5 r" d="M552.7 193.9C547.2 192.3 551.9 199.8 555.4 199.9"/><path class="c w2 r" d="M552.7 193.9C547.2 192.3 551.9 199.8 555.4 199.9"/><path class="p w2" d="M552.7 193.9C547.2 192.3 551.9 199.8 555.4 199.9" stroke-dasharray="9.9 4.1" stroke-dashoffset="1.8"/>
<path class="o w5 r" d="M613 201.5C616.3 201.1 610.8 206.7 604.6 205.9"/><path class="p w2 r" d="M613 201.5C616.3 201.1 610.8 206.7 604.6 205.9"/><path class="c w2" d="M613 201.5C616.3 201.1 610.8 206.7 604.6 205.9" stroke-dasharray="7.3 5.9" stroke-dashoffset="4.7"/>
<path class="o w5 r" d="M585.4 222.8C592 224.9 588.4 204.7 590.4 212.8"/><path class="p w2 r" d="M585.4 222.8C592 224.9 588.4 204.7 590.4 212.8"/><path class="c w2" d="M585.4 222.8C592 224.9 588.4 204.7 590.4 212.8" stroke-dasharray="18.3 14.7" stroke-dashoffset="13.6"/>
<path class="o w5 r" d="M515.1 155C512.7 150.9 519.3 160.5 517 160"/><path class="p w2 r" d="M515.1 155C512.7 150.9 519.3 160.5 517 160"/><path class="c w2" d="M515.1 155C512.7 150.9 519.3 160.5 517 160" stroke-dasharray="5.7 4.8" stroke-dashoffset="2.2"/>
<path class="o w5 r" d="M522.6 165.1C523.2 168.5 528 161.4 527.6 165.1"/><path class="c w2 r" d="M522.6 165.1C523.2 168.5 528 161.4 527.6 165.1"/><path class="p w2" d="M522.6 165.1C523.2 168.5 528 161.4 527.6 165.1" stroke-dasharray="5 5.6" stroke-dashoffset="2.7"/>
<path class="o w5 r" d="M532.6 197.7C534.5 190.9 522.1 192.2 518.8 197.7"/><path class="p w2 r" d="M532.6 197.7C534.5 190.9 522.1 192.2 518.8 197.7"/><path class="c w2" d="M532.6 197.7C534.5 190.9 522.1 192.2 518.8 197.7" stroke-dasharray="12.9 11.3" stroke-dashoffset="2.5"/>
<path class="o w5 r" d="M520.1 242.9C516.7 251.1 509.1 238.8 510 227.8"/><path class="p w2 r" d="M520.1 242.9C516.7 251.1 509.1 238.8 510 227.8"/><path class="c w2" d="M520.1 242.9C516.7 251.1 509.1 238.8 510 227.8" stroke-dasharray="20.4 8.7" stroke-dashoffset="0.5"/>
<path class="o w5 r" d="M518.8 197.7C520.9 195.9 514.7 194.7 515 198"/><path class="p w2 r" d="M518.8 197.7C520.9 195.9 514.7 194.7 515 198"/><path class="c w2" d="M518.8 197.7C520.9 195.9 514.7 194.7 515 198" stroke-dasharray="6.6 4.7" stroke-dashoffset="5.8"/>
<path class="o w5 r" d="M510 227.8C509.9 232.9 505 228.7 505 232"/><path class="p w2 r" d="M510 227.8C509.9 232.9 505 228.7 505 232"/><path class="c w2" d="M510 227.8C509.9 232.9 505 228.7 505 232" stroke-dasharray="4 4.1" stroke-dashoffset="5.4"/>
<path class="o w5 r" d="M505 192.7C507.3 190.3 499.6 190.5 498.6 194.5"/><path class="p w2 r" d="M505 192.7C507.3 190.3 499.6 190.5 498.6 194.5"/><path class="c w2" d="M505 192.7C507.3 190.3 499.6 190.5 498.6 194.5" stroke-dasharray="4.5 4.5" stroke-dashoffset="3.5"/>
<path class="o w5 r" d="M502.5 207.7C500.6 210.1 497.1 209.5 497 203.8"/><path class="p w2 r" d="M502.5 207.7C500.6 210.1 497.1 209.5 497 203.8"/><path class="c w2" d="M502.5 207.7C500.6 210.1 497.1 209.5 497 203.8" stroke-dasharray="5 2.9" stroke-dashoffset="0.2"/>
<path class="o w5 r" d="M535.1 220.3C531.7 219.4 537.1 223.5 537.7 225.3"/><path class="c w2 r" d="M535.1 220.3C531.7 219.4 537.1 223.5 537.7 225.3"/><path class="p w2" d="M535.1 220.3C531.7 219.4 537.1 223.5 537.7 225.3" stroke-dasharray="6.2 3.7" stroke-dashoffset="0.7"/>
<path class="o w5 r" d="M565.3 219C570.5 217.1 557.8 219.9 560.3 222.8"/><path class="p w2 r" d="M565.3 219C570.5 217.1 557.8 219.9 560.3 222.8"/><path class="c w2" d="M565.3 219C570.5 217.1 557.8 219.9 560.3 222.8" stroke-dasharray="10 9.5" stroke-dashoffset="5.4"/>
<path class="o w5 r" d="M537.7 225.3C537.8 216.3 552.5 221.7 556 230.3"/><path class="c w2 r" d="M537.7 225.3C537.8 216.3 552.5 221.7 556 230.3"/><path class="p w2" d="M537.7 225.3C537.8 216.3 552.5 221.7 556 230.3" stroke-dasharray="14.8 8.4" stroke-dashoffset="10.5"/>
<path class="o w5 r" d="M542.7 255.4C543.9 259.3 550 255.6 548.1 259.7"/><path class="c w2 r" d="M542.7 255.4C543.9 259.3 550 255.6 548.1 259.7"/><path class="p w2" d="M542.7 255.4C543.9 259.3 550 255.6 548.1 259.7" stroke-dasharray="7.3 6" stroke-dashoffset="0.2"/>
<path class="o w5 r" d="M560.3 222.8C559.5 217.1 554.3 225.7 556 230.3"/><path class="p w2 r" d="M560.3 222.8C559.5 217.1 554.3 225.7 556 230.3"/><path class="c w2" d="M560.3 222.8C559.5 217.1 554.3 225.7 556 230.3" stroke-dasharray="11 4.9" stroke-dashoffset="0.4"/>
<path class="o w5 r" d="M580.3 255.4C583.6 259.9 584.6 252.1 582.9 250.4"/><path class="p w2 r" d="M580.3 255.4C583.6 259.9 584.6 252.1 582.9 250.4"/><path class="c w2" d="M580.3 255.4C583.6 259.9 584.6 252.1 582.9 250.4" stroke-dasharray="5.5 4.9" stroke-dashoffset="2.5"/>
<path class="o w5 r" d="M582.9 250.4C584.9 258 575.6 262 572.6 257.2"/><path class="c w2 r" d="M582.9 250.4C584.9 258 575.6 262 572.6 257.2"/><path class="p w2" d="M582.9 250.4C584.9 258 575.6 262 572.6 257.2" stroke-dasharray="7.3 6.7" stroke-dashoffset="7.9"/>
<path class="o w5 r" d="M560.3 252.9C558.3 250.1 563.5 249.3 562.8 249.2"/><path class="p w2 r" d="M560.3 252.9C558.3 250.1 563.5 249.3 562.8 249.2"/><path class="c w2" d="M560.3 252.9C558.3 250.1 563.5 249.3 562.8 249.2" stroke-dasharray="5.5 4.1" stroke-dashoffset="1.2"/>
<path class="o w5 r" d="M555.2 260.5C555.9 256.4 560 257.4 558.8 255.4"/><path class="p w2 r" d="M555.2 260.5C555.9 256.4 560 257.4 558.8 255.4"/><path class="c w2" d="M555.2 260.5C555.9 256.4 560 257.4 558.8 255.4" stroke-dasharray="4.7 3.6" stroke-dashoffset="1.9"/>
<path class="o w5 r" d="M542.7 278C541.5 281.1 537.2 273.5 538.5 273"/><path class="c w2 r" d="M542.7 278C541.5 281.1 537.2 273.5 538.5 273"/><path class="p w2" d="M542.7 278C541.5 281.1 537.2 273.5 538.5 273" stroke-dasharray="4.3 4.2" stroke-dashoffset="0.8"/>
<path class="o w5 r" d="M590.4 212.8C591.2 202.4 612.2 207.3 604.6 205.9"/><path class="c w2 r" d="M590.4 212.8C591.2 202.4 612.2 207.3 604.6 205.9"/><path class="p w2" d="M590.4 212.8C591.2 202.4 612.2 207.3 604.6 205.9" stroke-dasharray="18.2 17.7" stroke-dashoffset="2.8"/>
<path class="o w5 r" d="M585.4 250.4C584 252.2 581.5 260.5 580.3 255.4"/><path class="c w2 r" d="M585.4 250.4C584 252.2 581.5 260.5 580.3 255.4"/><path class="p w2" d="M585.4 250.4C584 252.2 581.5 260.5 580.3 255.4" stroke-dasharray="7.4 3.4" stroke-dashoffset="6.6"/>
<path class="o w5 r" d="M595.4 252.9C598 250 598.8 249.5 597.9 250.4"/><path class="c w2 r" d="M595.4 252.9C598 250 598.8 249.5 597.9 250.4"/><path class="p w2" d="M595.4 252.9C598 250 598.8 249.5 597.9 250.4" stroke-dasharray="1.7 2.7" stroke-dashoffset="2.4"/>
<path class="o w5 r" d="M580.3 273C577 273.2 578 273.9 575.3 273"/><path class="c w2 r" d="M580.3 273C577 273.2 578 273.9 575.3 273"/><path class="p w2" d="M580.3 273C577 273.2 578 273.9 575.3 273" stroke-dasharray="3.3 2" stroke-dashoffset="0.2"/>
<path class="o w5 r" d="M605.4 222.8C605.2 215.1 611.9 209.3 604.6 205.9"/><path class="p w2 r" d="M605.4 222.8C605.2 215.1 611.9 209.3 604.6 205.9"/><path class="c w2" d="M605.4 222.8C605.2 215.1 611.9 209.3 604.6 205.9" stroke-dasharray="13.6 6.2" stroke-dashoffset="5.8"/>
<path class="o w5 r" d="M610.5 250.4C611.1 254.3 615.3 264.2 610.5 260.5"/><path class="p w2 r" d="M610.5 250.4C611.1 254.3 615.3 264.2 610.5 260.5"/><path class="c w2" d="M610.5 250.4C611.1 254.3 615.3 264.2 610.5 260.5" stroke-dasharray="10.2 9.1" stroke-dashoffset="9.2"/>
<path class="o w5 r" d="M597.9 250.4C593.5 244.6 601.6 254.6 600.3 259.6"/><path class="p w2 r" d="M597.9 250.4C593.5 244.6 601.6 254.6 600.3 259.6"/><path class="c w2" d="M597.9 250.4C593.5 244.6 601.6 254.6 600.3 259.6" stroke-dasharray="10 5.1" stroke-dashoffset="6.7"/>
<path class="o w5 r" d="M618 152.5C613.6 151.7 621.5 165.9 618.3 160"/><path class="c w2 r" d="M618 152.5C613.6 151.7 621.5 165.9 618.3 160"/><path class="p w2" d="M618 152.5C613.6 151.7 621.5 165.9 618.3 160" stroke-dasharray="15 6" stroke-dashoffset="5.9"/>
<path class="o w5 r" d="M643.1 167.6C647.4 171.3 648.2 162.7 644.6 158.2"/><path class="p w2 r" d="M643.1 167.6C647.4 171.3 648.2 162.7 644.6 158.2"/><path class="c w2" d="M643.1 167.6C647.4 171.3 648.2 162.7 644.6 158.2" stroke-dasharray="8 8.6" stroke-dashoffset="2.8"/>
<path class="o w5 r" d="M633.1 150C627.4 147.8 635.3 144 638.1 144.5"/><path class="c w2 r" d="M633.1 150C627.4 147.8 635.3 144 638.1 144.5"/><path class="p w2" d="M633.1 150C627.4 147.8 635.3 144 638.1 144.5" stroke-dasharray="10.3 7.1" stroke-dashoffset="1.8"/>
<path class="o w5 r" d="M650.6 157.5C653.2 158.9 655.5 155.8 654 153.3"/><path class="c w2 r" d="M650.6 157.5C653.2 158.9 655.5 155.8 654 153.3"/><path class="p w2" d="M650.6 157.5C653.2 158.9 655.5 155.8 654 153.3" stroke-dasharray="5.5 4.3" stroke-dashoffset="0.1"/>
<path class="o w5 r" d="M635.6 177.6C637.5 171.8 651.2 171.5 643.1 167.6"/><path class="p w2 r" d="M635.6 177.6C637.5 171.8 651.2 171.5 643.1 167.6"/><path class="c w2" d="M635.6 177.6C637.5 171.8 651.2 171.5 643.1 167.6" stroke-dasharray="10.2 9.5" stroke-dashoffset="6.1"/>
<path class="o w5 r" d="M608 222.8C600.8 227.2 612.6 206.6 604.6 205.9"/><path class="p w2 r" d="M608 222.8C600.8 227.2 612.6 206.6 604.6 205.9"/><path class="c w2" d="M608 222.8C600.8 227.2 612.6 206.6 604.6 205.9" stroke-dasharray="19 14.7" stroke-dashoffset="12.6"/>
<path class="o w5 r" d="M527.6 263C520.1 259.1 532.3 280.2 538.5 273"/><path class="p w2 r" d="M527.6 263C520.1 259.1 532.3 280.2 538.5 273"/><path class="c w2" d="M527.6 263C520.1 259.1 532.3 280.2 538.5 273" stroke-dasharray="18.7 15.8" stroke-dashoffset="1.4"/>
<path class="o w5 r" d="M542.7 280.6C545.5 282 536.3 278.3 538.5 273"/><path class="p w2 r" d="M542.7 280.6C545.5 282 536.3 278.3 538.5 273"/><path class="c w2" d="M542.7 280.6C545.5 282 536.3 278.3 538.5 273" stroke-dasharray="5.6 4.2" stroke-dashoffset="7.1"/>
<path class="o w5 r" d="M500 232.9C498.4 231.7 502.1 229.7 505 232"/><path class="p w2 r" d="M500 232.9C498.4 231.7 502.1 229.7 505 232"/><path class="c w2" d="M500 232.9C498.4 231.7 502.1 229.7 505 232" stroke-dasharray="3.6 2.7" stroke-dashoffset="2.9"/>
<path class="o w5 r" d="M527.6 260.5C531.1 266.9 527.5 250.9 521 248"/><path class="p w2 r" d="M527.6 260.5C531.1 266.9 527.5 250.9 521 248"/><path class="c w2" d="M527.6 260.5C531.1 266.9 527.5 250.9 521 248" stroke-dasharray="14.6 6.7" stroke-dashoffset="14.7"/>
<path class="o w5 r" d="M575.3 275.5C571.5 275.5 578.6 277.1 580.3 273"/><path class="p w2 r" d="M575.3 275.5C571.5 275.5 578.6 277.1 580.3 273"/><path class="c w2" d="M575.3 275.5C571.5 275.5 578.6 277.1 580.3 273" stroke-dasharray="8 5.2" stroke-dashoffset="3.3"/>
<path class="o w5 r" d="M618 160C616.8 157.5 615.4 162.9 612.6 161"/><path class="p w2 r" d="M618 160C616.8 157.5 615.4 162.9 612.6 161"/><path class="c w2" d="M618 160C616.8 157.5 615.4 162.9 612.6 161" stroke-dasharray="4.4 4.6" stroke-dashoffset="3.1"/>
<path class="o w5 r" d="M625.5 155C622.4 152.9 614 150.4 618 152.5"/><path class="p w2 r" d="M625.5 155C622.4 152.9 614 150.4 618 152.5"/><path class="c w2" d="M625.5 155C622.4 152.9 614 150.4 618 152.5" stroke-dasharray="5.8 6.1" stroke-dashoffset="1.5"/>
<path class="o w5 r" d="M505 172.6C504.5 170 496.8 174.9 500 176"/><path class="p w2 r" d="M505 172.6C504.5 170 496.8 174.9 500 176"/><path class="c w2" d="M505 172.6C504.5 170 496.8 174.9 500 176" stroke-dasharray="7.2 5.1" stroke-dashoffset="4.4"/>
<path class="o w5 r" d="M527.6 165.1C530.2 162.5 524.4 169.7 523 167"/><path class="c w2 r" d="M527.6 165.1C530.2 162.5 524.4 169.7 523 167"/><path class="p w2" d="M527.6 165.1C530.2 162.5 524.4 169.7 523 167" stroke-dasharray="5 7" stroke-dashoffset="5.4"/>
<path class="o w5 r" d="M503 141C500.7 139.7 495.7 135.9 497 140"/><path class="c w2 r" d="M503 141C500.7 139.7 495.7 135.9 497 140"/><path class="p w2" d="M503 141C500.7 139.7 495.7 135.9 497 140" stroke-dasharray="7.7 4.1" stroke-dashoffset="2.2"/>
<path class="o w5 r" d="M523 167C524.2 171.1 528.4 162.2 528 166"/><path class="p w2 r" d="M523 167C524.2 171.1 528.4 162.2 528 166"/><path class="c w2" d="M523 167C524.2 171.1 528.4 162.2 528 166" stroke-dasharray="6.5 4.9" stroke-dashoffset="2.8"/>
<path class="o w5 r" d="M482 152C479.8 153.3 484.8 148.3 487.3 146.8"/><path class="p w2 r" d="M482 152C479.8 153.3 484.8 148.3 487.3 146.8"/><path class="c w2" d="M482 152C479.8 153.3 484.8 148.3 487.3 146.8" stroke-dasharray="5.3 3.5" stroke-dashoffset="2.3"/>
<path class="o w5 r" d="M510 148C513.9 148.7 511.8 150.7 515.1 155"/><path class="c w2 r" d="M510 148C513.9 148.7 511.8 150.7 515.1 155"/><path class="p w2" d="M510 148C513.9 148.7 511.8 150.7 515.1 155" stroke-dasharray="4.4 5.1" stroke-dashoffset="4.9"/>
<path class="o w5 r" d="M484 170C481.5 172.8 479.9 166.2 478 164"/><path class="p w2 r" d="M484 170C481.5 172.8 479.9 166.2 478 164"/><path class="c w2" d="M484 170C481.5 172.8 479.9 166.2 478 164" stroke-dasharray="7.3 3.3" stroke-dashoffset="0.6"/>
<path class="o w5 r" d="M516 156C520.3 153.6 507.4 157.7 511.4 161.6"/><path class="c w2 r" d="M516 156C520.3 153.6 507.4 157.7 511.4 161.6"/><path class="p w2" d="M516 156C520.3 153.6 507.4 157.7 511.4 161.6" stroke-dasharray="6.3 4.9" stroke-dashoffset="10.5"/>
<path class="o w5 r" d="M474 136C470.8 137.2 472.3 134.5 470.9 136"/><path class="p w2 r" d="M474 136C470.8 137.2 472.3 134.5 470.9 136"/><path class="c w2" d="M474 136C470.8 137.2 472.3 134.5 470.9 136" stroke-dasharray="4.2 3" stroke-dashoffset="1"/>
<path class="o w5 r" d="M494 132C498.3 133.8 497.5 126.9 492.9 126.7"/><path class="p w2 r" d="M494 132C498.3 133.8 497.5 126.9 492.9 126.7"/><path class="c w2" d="M494 132C498.3 133.8 497.5 126.9 492.9 126.7" stroke-dasharray="9.6 4.8" stroke-dashoffset="2"/>
<path class="o w5 r" d="M470 156C467.3 156.3 470.1 160.5 470.8 158.9"/><path class="p w2 r" d="M470 156C467.3 156.3 470.1 160.5 470.8 158.9"/><path class="c w2" d="M470 156C467.3 156.3 470.1 160.5 470.8 158.9" stroke-dasharray="4.8 2.6" stroke-dashoffset="0.4"/>
<path class="o w5 r" d="M478 164C479.9 165.5 474 167.8 471 164"/><path class="c w2 r" d="M478 164C479.9 165.5 474 167.8 471 164"/><path class="p w2" d="M478 164C479.9 165.5 474 167.8 471 164" stroke-dasharray="3.9 2.9" stroke-dashoffset="0"/>
<path class="o w5 r" d="M500 176C492.8 173.3 492.1 162.4 497 166"/><path class="c w2 r" d="M500 176C492.8 173.3 492.1 162.4 497 166"/><path class="p w2" d="M500 176C492.8 173.3 492.1 162.4 497 166" stroke-dasharray="9.9 9.5" stroke-dashoffset="6.9"/>
<path class="o w5 r" d="M528 166C528.1 162.7 524.5 167.2 522.6 165.1"/><path class="c w2 r" d="M528 166C528.1 162.7 524.5 167.2 522.6 165.1"/><path class="p w2" d="M528 166C528.1 162.7 524.5 167.2 522.6 165.1" stroke-dasharray="4.4 3.4" stroke-dashoffset="4.1"/>
<path class="o w5 r" d="M470 178C465.4 179.1 482.8 175.2 479 174"/><path class="p w2 r" d="M470 178C465.4 179.1 482.8 175.2 479 174"/><path class="c w2" d="M470 178C465.4 179.1 482.8 175.2 479 174" stroke-dasharray="10 10.3" stroke-dashoffset="7.6"/>
<path class="o w5 r" d="M486 182C486.5 183.4 491.5 185.7 489 186"/><path class="p w2 r" d="M486 182C486.5 183.4 491.5 185.7 489 186"/><path class="c w2" d="M486 182C486.5 183.4 491.5 185.7 489 186" stroke-dasharray="5.5 2.9" stroke-dashoffset="3.5"/>
<path class="o w5 r" d="M470 110C462.1 108.9 485.7 114.9 481 110"/><path class="p w2 r" d="M470 110C462.1 108.9 485.7 114.9 481 110"/><path class="c w2" d="M470 110C462.1 108.9 485.7 114.9 481 110" stroke-dasharray="11 11.6" stroke-dashoffset="4.1"/>
<path class="o w5 r" d="M492 120C494.2 122 496.9 128.8 492.9 126.7"/><path class="p w2 r" d="M492 120C494.2 122 496.9 128.8 492.9 126.7"/><path class="c w2" d="M492 120C494.2 122 496.9 128.8 492.9 126.7" stroke-dasharray="5.2 3.4" stroke-dashoffset="3.4"/>
<path class="o w5 r" d="M462.4 118.2C456.2 115.8 459.2 119.8 453 123"/><path class="c w2 r" d="M462.4 118.2C456.2 115.8 459.2 119.8 453 123"/><path class="p w2" d="M462.4 118.2C456.2 115.8 459.2 119.8 453 123" stroke-dasharray="9.6 7.8" stroke-dashoffset="3"/>
<path class="o w5 r" d="M487.9 92.4C479.6 89.1 485.5 78.2 478 80"/><path class="c w2 r" d="M487.9 92.4C479.6 89.1 485.5 78.2 478 80"/><path class="p w2" d="M487.9 92.4C479.6 89.1 485.5 78.2 478 80" stroke-dasharray="16.3 8.7" stroke-dashoffset="13.3"/>
<path class="o w5 r" d="M510.7 102.7C513.7 104 507.5 108.8 509 109"/><path class="p w2 r" d="M510.7 102.7C513.7 104 507.5 108.8 509 109"/><path class="c w2" d="M510.7 102.7C513.7 104 507.5 108.8 509 109" stroke-dasharray="7.3 5.4" stroke-dashoffset="6.2"/>
<path class="o w5 r" d="M470.9 136C469.4 132.7 471.1 131.4 471.6 131.5"/><path class="c w2 r" d="M470.9 136C469.4 132.7 471.1 131.4 471.6 131.5"/><path class="p w2" d="M470.9 136C469.4 132.7 471.1 131.4 471.6 131.5" stroke-dasharray="3.2 2" stroke-dashoffset="2.3"/>
<path class="o w5 r" d="M470.8 158.9C470.8 161.5 465.5 164.8 465 160"/><path class="c w2 r" d="M470.8 158.9C470.8 161.5 465.5 164.8 465 160"/><path class="p w2" d="M470.8 158.9C470.8 161.5 465.5 164.8 465 160" stroke-dasharray="6.2 4.9" stroke-dashoffset="6.3"/>
<path class="o w5 r" d="M487.3 146.8C481.9 146.6 490.6 135.1 497 140"/><path class="p w2 r" d="M487.3 146.8C481.9 146.6 490.6 135.1 497 140"/><path class="c w2" d="M487.3 146.8C481.9 146.6 490.6 135.1 497 140" stroke-dasharray="10.3 5.8" stroke-dashoffset="12.3"/>
<path class="o w5 r" d="M497.5 145.4C500.1 146.3 499.5 139.2 503 141"/><path class="c w2 r" d="M497.5 145.4C500.1 146.3 499.5 139.2 503 141"/><path class="p w2" d="M497.5 145.4C500.1 146.3 499.5 139.2 503 141" stroke-dasharray="6.7 3.6" stroke-dashoffset="1.3"/>
<path class="o w5 r" d="M434.5 152.9C436.8 157 436.3 159.2 433 161"/><path class="p w2 r" d="M434.5 152.9C436.8 157 436.3 159.2 433 161"/><path class="c w2" d="M434.5 152.9C436.8 157 436.3 159.2 433 161" stroke-dasharray="6 3.1" stroke-dashoffset="2.3"/>
<path class="o w5 r" d="M444.5 138.6C443.9 134.2 443.1 150.3 441 145"/><path class="p w2 r" d="M444.5 138.6C443.9 134.2 443.1 150.3 441 145"/><path class="c w2" d="M444.5 138.6C443.9 134.2 443.1 150.3 441 145" stroke-dasharray="14.4 6.1" stroke-dashoffset="11.4"/>
<path class="o w5 r" d="M445.3 143.2C445.5 146.4 438.1 134.3 440 139"/><path class="p w2 r" d="M445.3 143.2C445.5 146.4 438.1 134.3 440 139"/><path class="c w2" d="M445.3 143.2C445.5 146.4 438.1 134.3 440 139" stroke-dasharray="11.1 8.8" stroke-dashoffset="5.3"/>
<path class="o w5 r" d="M540.5 103.8C542.1 98.7 547.5 95.8 548.3 101.3"/><path class="c w2 r" d="M540.5 103.8C542.1 98.7 547.5 95.8 548.3 101.3"/><path class="p w2" d="M540.5 103.8C542.1 98.7 547.5 95.8 548.3 101.3" stroke-dasharray="5.9 4" stroke-dashoffset="3.1"/>
<path class="o w5 r" d="M536.8 124.6C536.2 128.7 542.7 136 542.8 132"/><path class="p w2 r" d="M536.8 124.6C536.2 128.7 542.7 136 542.8 132"/><path class="c w2" d="M536.8 124.6C536.2 128.7 542.7 136 542.8 132" stroke-dasharray="9 6.1" stroke-dashoffset="5.9"/>
<path class="o w5 r" d="M583.2 113.5C581 111.8 588.2 112.5 587.7 115.5"/><path class="c w2 r" d="M583.2 113.5C581 111.8 588.2 112.5 587.7 115.5"/><path class="p w2" d="M583.2 113.5C581 111.8 588.2 112.5 587.7 115.5" stroke-dasharray="6.8 5.2" stroke-dashoffset="6.4"/>
<path class="o w5 r" d="M591 114.8C594.5 115.8 593.5 105.2 594.3 110.1"/><path class="c w2 r" d="M591 114.8C594.5 115.8 593.5 105.2 594.3 110.1"/><path class="p w2" d="M591 114.8C594.5 115.8 593.5 105.2 594.3 110.1" stroke-dasharray="9.8 5.5" stroke-dashoffset="4.9"/>
<path class="o w5 r" d="M599.5 110.6C600.2 106.5 603 112.7 601.9 117.7"/><path class="c w2 r" d="M599.5 110.6C600.2 106.5 603 112.7 601.9 117.7"/><path class="p w2" d="M599.5 110.6C600.2 106.5 603 112.7 601.9 117.7" stroke-dasharray="8.4 6.8" stroke-dashoffset="6"/>
<path class="o w5 r" d="M601.1 120.2C602.3 122.1 598.2 128.1 596.4 123.2"/><path class="c w2 r" d="M601.1 120.2C602.3 122.1 598.2 128.1 596.4 123.2"/><path class="p w2" d="M601.1 120.2C602.3 122.1 598.2 128.1 596.4 123.2" stroke-dasharray="5 5.2" stroke-dashoffset="1.4"/>
<path class="o w5 r" d="M620.1 115.8C615.6 113 604.2 110.8 607.4 116.6"/><path class="c w2 r" d="M620.1 115.8C615.6 113 604.2 110.8 607.4 116.6"/><path class="p w2" d="M620.1 115.8C615.6 113 604.2 110.8 607.4 116.6" stroke-dasharray="7.4 4.8" stroke-dashoffset="11.3"/>
<path class="o w5 r" d="M633.2 121.4C637.3 123.2 633.1 129.1 631.5 127.6"/><path class="c w2 r" d="M633.2 121.4C637.3 123.2 633.1 129.1 631.5 127.6"/><path class="p w2" d="M633.2 121.4C637.3 123.2 633.1 129.1 631.5 127.6" stroke-dasharray="5 3" stroke-dashoffset="5.7"/>
<path class="o w5 r" d="M630.6 135.9C626.3 134.2 637.1 129.2 631.5 127.6"/><path class="c w2 r" d="M630.6 135.9C626.3 134.2 637.1 129.2 631.5 127.6"/><path class="p w2" d="M630.6 135.9C626.3 134.2 637.1 129.2 631.5 127.6" stroke-dasharray="6.8 9.1" stroke-dashoffset="9.4"/>
<path class="o w5 r" d="M654 153.3C655.9 156.7 651.9 149.3 650.6 149.9"/><path class="c w2 r" d="M654 153.3C655.9 156.7 651.9 149.3 650.6 149.9"/><path class="p w2" d="M654 153.3C655.9 156.7 651.9 149.3 650.6 149.9" stroke-dasharray="4.7 2.9" stroke-dashoffset="0.4"/>
<path class="o w5 r" d="M631.3 134.2C629 130.8 636.4 130.6 631.5 127.6"/><path class="p w2 r" d="M631.3 134.2C629 130.8 636.4 130.6 631.5 127.6"/><path class="c w2" d="M631.3 134.2C629 130.8 636.4 130.6 631.5 127.6" stroke-dasharray="8.7 6.2" stroke-dashoffset="1.9"/>
<path class="o w5 r" d="M646.2 149.1C649.9 152.1 653.9 150 650.6 149.9"/><path class="c w2 r" d="M646.2 149.1C649.9 152.1 653.9 150 650.6 149.9"/><path class="p w2" d="M646.2 149.1C649.9 152.1 653.9 150 650.6 149.9" stroke-dasharray="3.4 4.4" stroke-dashoffset="1.1"/>
<path class="o w5 r" d="M578.6 161.3C574.7 162.7 569.3 154.3 574.6 153.9"/><path class="p w2 r" d="M578.6 161.3C574.7 162.7 569.3 154.3 574.6 153.9"/><path class="c w2" d="M578.6 161.3C574.7 162.7 569.3 154.3 574.6 153.9" stroke-dasharray="6.2 7.7" stroke-dashoffset="2.1"/>
<path class="o w5 r" d="M610.7 157.9C611.7 158.5 613.4 162.4 612.6 161"/><path class="p w2 r" d="M610.7 157.9C611.7 158.5 613.4 162.4 612.6 161"/><path class="c w2" d="M610.7 157.9C611.7 158.5 613.4 162.4 612.6 161" stroke-dasharray="3 2" stroke-dashoffset="2"/>
<path class="o w5 r" d="M558.2 122.1C555.3 121.5 554.9 126.4 557 127.6"/><path class="c w2 r" d="M558.2 122.1C555.3 121.5 554.9 126.4 557 127.6"/><path class="p w2" d="M558.2 122.1C555.3 121.5 554.9 126.4 557 127.6" stroke-dasharray="5.1 4.4" stroke-dashoffset="1.7"/>
<path class="o w5 r" d="M589.3 126.7C590.8 127.6 590.7 131.7 587.7 132"/><path class="c w2 r" d="M589.3 126.7C590.8 127.6 590.7 131.7 587.7 132"/><path class="p w2" d="M589.3 126.7C590.8 127.6 590.7 131.7 587.7 132" stroke-dasharray="2.6 2.3" stroke-dashoffset="0.4"/>
<path class="o w5 r" d="M548.4 139.9C543.9 140.5 553.5 128.8 555.5 134.6"/><path class="c w2 r" d="M548.4 139.9C543.9 140.5 553.5 128.8 555.5 134.6"/><path class="p w2" d="M548.4 139.9C543.9 140.5 553.5 128.8 555.5 134.6" stroke-dasharray="9.5 9.8" stroke-dashoffset="11.3"/>
<path class="o w5 r" d="M556.2 136.8C558.9 137.5 558.9 131 554.8 132"/><path class="p w2 r" d="M556.2 136.8C558.9 137.5 558.9 131 554.8 132"/><path class="c w2" d="M556.2 136.8C558.9 137.5 558.9 131 554.8 132" stroke-dasharray="4.3 3.5" stroke-dashoffset="3.3"/>
<path class="o w5 r" d="M555.5 134.6C552.1 130.1 552.4 129.6 557 127.6"/><path class="p w2 r" d="M555.5 134.6C552.1 130.1 552.4 129.6 557 127.6"/><path class="c w2" d="M555.5 134.6C552.1 130.1 552.4 129.6 557 127.6" stroke-dasharray="3.1 4.6" stroke-dashoffset="3.6"/>
<path class="o w5 r" d="M572.2 149.2C576.8 149.7 571.4 153.2 574.6 153.9"/><path class="c w2 r" d="M572.2 149.2C576.8 149.7 571.4 153.2 574.6 153.9"/><path class="p w2" d="M572.2 149.2C576.8 149.7 571.4 153.2 574.6 153.9" stroke-dasharray="7.8 5.4" stroke-dashoffset="5.9"/>
<path class="o w5 r" d="M612.6 161C614.4 166.3 612.5 148 618 152.5"/><path class="c w2 r" d="M612.6 161C614.4 166.3 612.5 148 618 152.5"/><path class="p w2" d="M612.6 161C614.4 166.3 612.5 148 618 152.5" stroke-dasharray="12.5 12.7" stroke-dashoffset="14.3"/>
<path class="o w5 r" d="M439.4 206.3C442.8 209.8 438.4 212.3 443 210.6"/><path class="p w2 r" d="M439.4 206.3C442.8 209.8 438.4 212.3 443 210.6"/><path class="c w2" d="M439.4 206.3C442.8 209.8 438.4 212.3 443 210.6" stroke-dasharray="4.4 3.6" stroke-dashoffset="3.4"/>
<path class="o w5 r" d="M443 210.6C437.9 211.7 448.3 204.8 443 203"/><path class="c w2 r" d="M443 210.6C437.9 211.7 448.3 204.8 443 203"/><path class="p w2" d="M443 210.6C437.9 211.7 448.3 204.8 443 203" stroke-dasharray="10.1 9.6" stroke-dashoffset="4.3"/>
<path class="o w5 r" d="M465.2 201C471 197.5 462 187.7 455 190"/><path class="c w2 r" d="M465.2 201C471 197.5 462 187.7 455 190"/><path class="p w2" d="M465.2 201C471 197.5 462 187.7 455 190" stroke-dasharray="9.2 9.9" stroke-dashoffset="3.7"/>
<path class="o w5 r" d="M507 200.3C509.3 198.7 512.5 196.7 511.5 198.5"/><path class="p w2 r" d="M507 200.3C509.3 198.7 512.5 196.7 511.5 198.5"/><path class="c w2" d="M507 200.3C509.3 198.7 512.5 196.7 511.5 198.5" stroke-dasharray="3.3 2.9" stroke-dashoffset="3.7"/>
<path class="o w5 r" d="M500.5 225.2C501.2 226.4 503.9 226 504.2 223.5"/><path class="p w2 r" d="M500.5 225.2C501.2 226.4 503.9 226 504.2 223.5"/><path class="c w2" d="M500.5 225.2C501.2 226.4 503.9 226 504.2 223.5" stroke-dasharray="3.9 2.7" stroke-dashoffset="0.5"/>
<path class="o w5 r" d="M465.5 217.1C459.8 210.6 480.9 219.3 475 224"/><path class="c w2 r" d="M465.5 217.1C459.8 210.6 480.9 219.3 475 224"/><path class="p w2" d="M465.5 217.1C459.8 210.6 480.9 219.3 475 224" stroke-dasharray="22.5 17.2" stroke-dashoffset="13.5"/>
<path class="o w5 r" d="M472.3 221.3C474.7 219 478.3 230.5 479.7 225.7"/><path class="p w2 r" d="M472.3 221.3C474.7 219 478.3 230.5 479.7 225.7"/><path class="c w2" d="M472.3 221.3C474.7 219 478.3 230.5 479.7 225.7" stroke-dasharray="8.9 7.4" stroke-dashoffset="6.2"/>
<path class="o w5 r" d="M479.7 225.7C476.3 228.2 478.3 224.1 475 224"/><path class="p w2 r" d="M479.7 225.7C476.3 228.2 478.3 224.1 475 224"/><path class="c w2" d="M479.7 225.7C476.3 228.2 478.3 224.1 475 224" stroke-dasharray="6.8 4" stroke-dashoffset="0.4"/>
<path class="o w5 r" d="M490.1 215.2C492.4 214.4 483.4 225.8 485 222"/><path class="p w2 r" d="M490.1 215.2C492.4 214.4 483.4 225.8 485 222"/><path class="c w2" d="M490.1 215.2C492.4 214.4 483.4 225.8 485 222" stroke-dasharray="5.9 6.7" stroke-dashoffset="1"/>
<path class="o w5 r" d="M448.6 164.7C444.3 162.7 445.3 168.7 447 171"/><path class="p w2 r" d="M448.6 164.7C444.3 162.7 445.3 168.7 447 171"/><path class="c w2" d="M448.6 164.7C444.3 162.7 445.3 168.7 447 171" stroke-dasharray="4.8 5.6" stroke-dashoffset="5.3"/>
<path class="o w5 r" d="M451.7 167C453.4 169.8 449.4 156.2 451 160"/><path class="p w2 r" d="M451.7 167C453.4 169.8 449.4 156.2 451 160"/><path class="c w2" d="M451.7 167C453.4 169.8 449.4 156.2 451 160" stroke-dasharray="11.5 7.4" stroke-dashoffset="2.9"/>
<path class="o w5 r" d="M555.4 199.9C551.7 200.9 552 195 554 196.4"/><path class="c w2 r" d="M555.4 199.9C551.7 200.9 552 195 554 196.4"/><path class="p w2" d="M555.4 199.9C551.7 200.9 552 195 554 196.4" stroke-dasharray="3.1 3.7" stroke-dashoffset="3.7"/>
<path class="o w5 r" d="M511.4 161.6C508.5 159.8 517.3 161.4 517 160"/><path class="p w2 r" d="M511.4 161.6C508.5 159.8 517.3 161.4 517 160"/><path class="c w2" d="M511.4 161.6C508.5 159.8 517.3 161.4 517 160" stroke-dasharray="5.8 5.7" stroke-dashoffset="2.3"/>
<path class="o w5 r" d="M515.9 167.6C517 168.8 525.4 169.4 523 167"/><path class="c w2 r" d="M515.9 167.6C517 168.8 525.4 169.4 523 167"/><path class="p w2" d="M515.9 167.6C517 168.8 525.4 169.4 523 167" stroke-dasharray="4.3 6" stroke-dashoffset="6.5"/>
<path class="o w5 r" d="M504.2 223.5C504.8 225.9 507.6 230.7 507 228"/><path class="p w2 r" d="M504.2 223.5C504.8 225.9 507.6 230.7 507 228"/><path class="c w2" d="M504.2 223.5C504.8 225.9 507.6 230.7 507 228" stroke-dasharray="5.6 3.1" stroke-dashoffset="0.2"/>
<path class="o w5 r" d="M498.6 194.5C498.3 191 504.1 193.1 503 194"/><path class="p w2 r" d="M498.6 194.5C498.3 191 504.1 193.1 503 194"/><path class="c w2" d="M498.6 194.5C498.3 191 504.1 193.1 503 194" stroke-dasharray="5.6 3.5" stroke-dashoffset="3"/>
<path class="o w5 r" d="M497 203.8C495 209 491.8 205.9 489 210"/><path class="p w2 r" d="M497 203.8C495 209 491.8 205.9 489 210"/><path class="c w2" d="M497 203.8C495 209 491.8 205.9 489 210" stroke-dasharray="4.6 4.3" stroke-dashoffset="3.8"/>
<path class="o w5 r" d="M556 230.3C552.2 223.7 572.4 215.8 565.3 219"/><path class="c w2 r" d="M556 230.3C552.2 223.7 572.4 215.8 565.3 219"/><path class="p w2" d="M556 230.3C552.2 223.7 572.4 215.8 565.3 219" stroke-dasharray="15.1 10.4" stroke-dashoffset="16.9"/>
<path class="o w5 r" d="M572.6 257.2C574.4 259.7 583 258.1 580.3 255.4"/><path class="c w2 r" d="M572.6 257.2C574.4 259.7 583 258.1 580.3 255.4"/><path class="p w2" d="M572.6 257.2C574.4 259.7 583 258.1 580.3 255.4" stroke-dasharray="8 6.3" stroke-dashoffset="3.8"/>
<path class="o w5 r" d="M542.8 255C539.4 256.4 551.1 256.5 548.1 259.7"/><path class="p w2 r" d="M542.8 255C539.4 256.4 551.1 256.5 548.1 259.7"/><path class="c w2" d="M542.8 255C539.4 256.4 551.1 256.5 548.1 259.7" stroke-dasharray="5.7 7.2" stroke-dashoffset="7.4"/>
<path class="o w5 r" d="M558.8 255.4C561.5 255.9 567.6 251 562.8 249.2"/><path class="c w2 r" d="M558.8 255.4C561.5 255.9 567.6 251 562.8 249.2"/><path class="p w2" d="M558.8 255.4C561.5 255.9 567.6 251 562.8 249.2" stroke-dasharray="9 5.1" stroke-dashoffset="3.8"/>
<path class="o w5 r" d="M548.1 259.7C551.8 256.7 557.8 256.8 555.2 260.5"/><path class="c w2 r" d="M548.1 259.7C551.8 256.7 557.8 256.8 555.2 260.5"/><path class="p w2" d="M548.1 259.7C551.8 256.7 557.8 256.8 555.2 260.5" stroke-dasharray="4.2 4.5" stroke-dashoffset="4.1"/>
<path class="o w5 r" d="M538.5 273C534 278.1 532.8 269.6 527.6 260.5"/><path class="c w2 r" d="M538.5 273C534 278.1 532.8 269.6 527.6 260.5"/><path class="p w2" d="M538.5 273C534 278.1 532.8 269.6 527.6 260.5" stroke-dasharray="12 6.2" stroke-dashoffset="6.6"/>
<path class="o w5 r" d="M600.3 259.6C602.7 255.6 596.8 250.7 595.4 252.9"/><path class="p w2 r" d="M600.3 259.6C602.7 255.6 596.8 250.7 595.4 252.9"/><path class="c w2" d="M600.3 259.6C602.7 255.6 596.8 250.7 595.4 252.9" stroke-dasharray="5.8 3.7" stroke-dashoffset="2.4"/>
<path class="o w5 r" d="M587.4 276.8C582.4 279.8 575.2 277 580.3 273"/><path class="c w2 r" d="M587.4 276.8C582.4 279.8 575.2 277 580.3 273"/><path class="p w2" d="M587.4 276.8C582.4 279.8 575.2 277 580.3 273" stroke-dasharray="7.8 4.8" stroke-dashoffset="4.7"/>
<path class="o w5 r" d="M638.1 144.5C635 140.7 650.6 151.9 646.2 149.1"/><path class="c w2 r" d="M638.1 144.5C635 140.7 650.6 151.9 646.2 149.1"/><path class="p w2" d="M638.1 144.5C635 140.7 650.6 151.9 646.2 149.1" stroke-dasharray="10.4 7.9" stroke-dashoffset="6.4"/>
<path class="o w5 r" d="M650.6 149.9C653.7 150.8 653 159.7 650.6 157.5"/><path class="c w2 r" d="M650.6 149.9C653.7 150.8 653 159.7 650.6 157.5"/><path class="p w2" d="M650.6 149.9C653.7 150.8 653 159.7 650.6 157.5" stroke-dasharray="4 5.7" stroke-dashoffset="0.4"/>
<path class="o w5 r" d="M471.6 131.5C471.2 131.2 473.6 136.5 474 136"/><path class="c w2 r" d="M471.6 131.5C471.2 131.2 473.6 136.5 474 136"/><path class="p w2" d="M471.6 131.5C471.2 131.2 473.6 136.5 474 136" stroke-dasharray="2.2 2.8" stroke-dashoffset="0.1"/>
<path class="o w5 r" d="M492.9 126.7C498.6 127.5 505.1 133.8 501 130"/><path class="p w2 r" d="M492.9 126.7C498.6 127.5 505.1 133.8 501 130"/><path class="c w2" d="M492.9 126.7C498.6 127.5 505.1 133.8 501 130" stroke-dasharray="6.9 8" stroke-dashoffset="7.9"/>
<path class="o w5 r" d="M449 58.1Q453.5 52.9 461 55.4"/><path class="c w2 r" d="M449 58.1Q453.5 52.9 461 55.4"/>
<path class="o w5 r" d="M415.5 76.1Q435.3 72.2 454.2 63.3"/><path class="c w2 r" d="M415.5 76.1Q435.3 72.2 454.2 63.3"/>
<path class="o w5 r" d="M416.7 77.5Q437.3 71.1 458.8 71.2"/><path class="c w2 r" d="M416.7 77.5Q437.3 71.1 458.8 71.2"/>
<path class="o w5 r" d="M424.8 94.2Q445.6 92.9 466.6 86.2"/><path class="c w2 r" d="M424.8 94.2Q445.6 92.9 466.6 86.2"/>
<path class="o w5 r" d="M430.2 91.8Q430.3 97.9 430.4 101.1"/><path class="c w2 r" d="M430.2 91.8Q430.3 97.9 430.4 101.1"/>
<path class="o w5 r" d="M435.8 96.9Q444.6 95.2 447.6 90.3"/><path class="c w2 r" d="M435.8 96.9Q444.6 95.2 447.6 90.3"/>
<path class="o w5 r" d="M450.2 105.6Q458.5 97.5 468.9 91.2"/><path class="c w2 r" d="M450.2 105.6Q458.5 97.5 468.9 91.2"/>
<path class="o w5 r" d="M458.3 116.4Q467.2 122 480.2 119.9"/><path class="p w2 r" d="M458.3 116.4Q467.2 122 480.2 119.9"/><path class="c w2" d="M458.3 116.4Q467.2 122 480.2 119.9" stroke-dasharray="6.1 8.6" stroke-dashoffset="4.7"/>
<path class="o w5 r" d="M485 103.2Q494.4 100.4 506.7 112.5"/><path class="p w2 r" d="M485 103.2Q494.4 100.4 506.7 112.5"/><path class="c w2" d="M485 103.2Q494.4 100.4 506.7 112.5" stroke-dasharray="9.1 7.1" stroke-dashoffset="7"/>
<path class="o w5 r" d="M480.1 119.6Q490.4 119.9 497.4 133.1"/><path class="p w2 r" d="M480.1 119.6Q490.4 119.9 497.4 133.1"/><path class="c w2" d="M480.1 119.6Q490.4 119.9 497.4 133.1" stroke-dasharray="6.7 7.3" stroke-dashoffset="11.3"/>
<path class="o w5 r" d="M461.1 135.7Q467 148 461.1 159.6"/><path class="c w2 r" d="M461.1 135.7Q467 148 461.1 159.6"/><path class="p w2" d="M461.1 135.7Q467 148 461.1 159.6" stroke-dasharray="12.3 10.6" stroke-dashoffset="5.5"/>
<path class="o w5 r" d="M481.3 129.8Q478.1 140 468.1 157.3"/><path class="p w2 r" d="M481.3 129.8Q478.1 140 468.1 157.3"/><path class="c w2" d="M481.3 129.8Q478.1 140 468.1 157.3" stroke-dasharray="16.1 6.9" stroke-dashoffset="11.7"/>
<path class="o w5 r" d="M487.5 149.6Q500.9 151.3 506.2 142.2"/><path class="p w2 r" d="M487.5 149.6Q500.9 151.3 506.2 142.2"/><path class="c w2" d="M487.5 149.6Q500.9 151.3 506.2 142.2" stroke-dasharray="9.9 7" stroke-dashoffset="8.2"/>
<path class="o w5 r" d="M484.8 148.7Q495.7 147.5 498.9 146.3"/><path class="p w2 r" d="M484.8 148.7Q495.7 147.5 498.9 146.3"/><path class="c w2" d="M484.8 148.7Q495.7 147.5 498.9 146.3" stroke-dasharray="7 5.9" stroke-dashoffset="0.3"/>
<path class="o w5 r" d="M430.8 142.3Q432.7 145.8 434.1 156.2"/><path class="c w2 r" d="M430.8 142.3Q432.7 145.8 434.1 156.2"/><path class="p w2" d="M430.8 142.3Q432.7 145.8 434.1 156.2" stroke-dasharray="5 5.5" stroke-dashoffset="7"/>
<path class="o w5 r" d="M435.6 139.9Q437.7 139.1 437.7 144.7"/><path class="p w2 r" d="M435.6 139.9Q437.7 139.1 437.7 144.7"/><path class="c w2" d="M435.6 139.9Q437.7 139.1 437.7 144.7" stroke-dasharray="2.3 1.9" stroke-dashoffset="2.9"/>
<path class="o w5 r" d="M533.3 110.8Q530.3 122.2 521.9 140.2"/><path class="c w2 r" d="M533.3 110.8Q530.3 122.2 521.9 140.2"/><path class="p w2" d="M533.3 110.8Q530.3 122.2 521.9 140.2" stroke-dasharray="8.2 7.4" stroke-dashoffset="6.4"/>
<path class="o w5 r" d="M543.2 100.1Q537.3 119.4 537.2 131.6"/><path class="c w2 r" d="M543.2 100.1Q537.3 119.4 537.2 131.6"/><path class="p w2" d="M543.2 100.1Q537.3 119.4 537.2 131.6" stroke-dasharray="16.9 10.9" stroke-dashoffset="14.8"/>
<path class="o w5 r" d="M579.8 111.8Q590 111.3 592.5 114.2"/><path class="c w2 r" d="M579.8 111.8Q590 111.3 592.5 114.2"/><path class="p w2" d="M579.8 111.8Q590 111.3 592.5 114.2" stroke-dasharray="7.3 4.7" stroke-dashoffset="1.7"/>
<path class="o w5 r" d="M585.1 116.1Q582.8 124.1 587.1 127.1"/><path class="c w2 r" d="M585.1 116.1Q582.8 124.1 587.1 127.1"/><path class="p w2" d="M585.1 116.1Q582.8 124.1 587.1 127.1" stroke-dasharray="6 5.1" stroke-dashoffset="1"/>
<path class="o w5 r" d="M606.6 117.5Q608.3 122.1 605.9 131.3"/><path class="p w2 r" d="M606.6 117.5Q608.3 122.1 605.9 131.3"/><path class="c w2" d="M606.6 117.5Q608.3 122.1 605.9 131.3" stroke-dasharray="5.1 3.7" stroke-dashoffset="2.7"/>
<path class="o w5 r" d="M611.2 115.4Q612.8 116.7 612.1 123.9"/><path class="p w2 r" d="M611.2 115.4Q612.8 116.7 612.1 123.9"/><path class="c w2" d="M611.2 115.4Q612.8 116.7 612.1 123.9" stroke-dasharray="4 2.7" stroke-dashoffset="1.1"/>
<path class="o w5 r" d="M618.3 116.3Q628.8 122.4 633.7 123.7"/><path class="p w2 r" d="M618.3 116.3Q628.8 122.4 633.7 123.7"/><path class="c w2" d="M618.3 116.3Q628.8 122.4 633.7 123.7" stroke-dasharray="7.7 3.8" stroke-dashoffset="7.4"/>
<path class="o w5 r" d="M598.1 129.8Q610.3 131.3 618 131.6"/><path class="c w2 r" d="M598.1 129.8Q610.3 131.3 618 131.6"/>
<path class="o w5 r" d="M604.6 145.1Q617.7 143.9 625.1 148.6"/><path class="p w2 r" d="M604.6 145.1Q617.7 143.9 625.1 148.6"/><path class="c w2" d="M604.6 145.1Q617.7 143.9 625.1 148.6" stroke-dasharray="11.9 4.9" stroke-dashoffset="4.1"/>
<path class="o w5 r" d="M620.5 141.3Q627.6 147.2 641.5 161"/><path class="c w2 r" d="M620.5 141.3Q627.6 147.2 641.5 161"/><path class="p w2" d="M620.5 141.3Q627.6 147.2 641.5 161" stroke-dasharray="12.4 9" stroke-dashoffset="12.7"/>
<path class="o w5 r" d="M574.6 148.4Q595.3 148.4 615.4 143.8"/><path class="p w2 r" d="M574.6 148.4Q595.3 148.4 615.4 143.8"/><path class="c w2" d="M574.6 148.4Q595.3 148.4 615.4 143.8" stroke-dasharray="22.5 13.5" stroke-dashoffset="5.9"/>
<path class="o w5 r" d="M556.2 131.4Q579.3 128.2 585.9 136.3"/><path class="p w2 r" d="M556.2 131.4Q579.3 128.2 585.9 136.3"/><path class="c w2" d="M556.2 131.4Q579.3 128.2 585.9 136.3" stroke-dasharray="10.7 11.1" stroke-dashoffset="6.8"/>
<path class="o w5 r" d="M542.6 132.7Q547.6 127.6 553.5 127.2"/><path class="p w2 r" d="M542.6 132.7Q547.6 127.6 553.5 127.2"/><path class="c w2" d="M542.6 132.7Q547.6 127.6 553.5 127.2" stroke-dasharray="5.9 5.1" stroke-dashoffset="4.3"/>
<path class="o w5 r" d="M470 181.5Q469 196.7 461.5 208.4"/><path class="p w2 r" d="M470 181.5Q469 196.7 461.5 208.4"/><path class="c w2" d="M470 181.5Q469 196.7 461.5 208.4" stroke-dasharray="13.7 10.6" stroke-dashoffset="12.9"/>
<path class="o w5 r" d="M444.3 188.5Q450.9 185.9 454.5 185.8"/><path class="p w2 r" d="M444.3 188.5Q450.9 185.9 454.5 185.8"/><path class="c w2" d="M444.3 188.5Q450.9 185.9 454.5 185.8" stroke-dasharray="4.6 4.1" stroke-dashoffset="1.8"/>
<path class="o w5 r" d="M434.3 191.7Q443.2 197.9 444.7 200.4"/><path class="p w2 r" d="M434.3 191.7Q443.2 197.9 444.7 200.4"/><path class="c w2" d="M434.3 191.7Q443.2 197.9 444.7 200.4" stroke-dasharray="6.4 4" stroke-dashoffset="5.8"/>
<path class="o w5 r" d="M442.6 212.3Q457 210.9 469.2 201.5"/><path class="p w2 r" d="M442.6 212.3Q457 210.9 469.2 201.5"/><path class="c w2" d="M442.6 212.3Q457 210.9 469.2 201.5" stroke-dasharray="9.5 10.2" stroke-dashoffset="8.7"/>
<path class="o w5 r" d="M483.8 182.4Q475.1 198.4 468.1 201.3"/><path class="c w2 r" d="M483.8 182.4Q475.1 198.4 468.1 201.3"/><path class="p w2" d="M483.8 182.4Q475.1 198.4 468.1 201.3" stroke-dasharray="14.4 7.6" stroke-dashoffset="5.6"/>
<path class="o w5 r" d="M506.4 196.9Q496.6 216.2 489.3 225.3"/><path class="c w2 r" d="M506.4 196.9Q496.6 216.2 489.3 225.3"/><path class="p w2" d="M506.4 196.9Q496.6 216.2 489.3 225.3" stroke-dasharray="14.1 11.5" stroke-dashoffset="6.7"/>
<path class="o w5 r" d="M459.5 220.9Q469.3 237.8 476.2 225.8"/><path class="c w2 r" d="M459.5 220.9Q469.3 237.8 476.2 225.8"/><path class="p w2" d="M459.5 220.9Q469.3 237.8 476.2 225.8" stroke-dasharray="12.5 8.8" stroke-dashoffset="8.3"/>
<path class="o w5 r" d="M478.3 225.2Q481.9 218.2 490.4 213"/><path class="c w2 r" d="M478.3 225.2Q481.9 218.2 490.4 213"/><path class="p w2" d="M478.3 225.2Q481.9 218.2 490.4 213" stroke-dasharray="5.9 7.5" stroke-dashoffset="1.7"/>
<path class="o w5 r" d="M485.3 228.8Q492.6 248.1 501.7 228.7"/><path class="p w2 r" d="M485.3 228.8Q492.6 248.1 501.7 228.7"/><path class="c w2" d="M485.3 228.8Q492.6 248.1 501.7 228.7" stroke-dasharray="10.8 6.1" stroke-dashoffset="3.3"/>
<path class="o w5 r" d="M500.1 234.8Q504.5 249.8 519.5 253.8"/><path class="c w2 r" d="M500.1 234.8Q504.5 249.8 519.5 253.8"/><path class="p w2" d="M500.1 234.8Q504.5 249.8 519.5 253.8" stroke-dasharray="8.5 8.5" stroke-dashoffset="5.2"/>
<path class="o w5 r" d="M492.7 165.1Q490.1 178.5 485.2 186"/><path class="c w2 r" d="M492.7 165.1Q490.1 178.5 485.2 186"/><path class="p w2" d="M492.7 165.1Q490.1 178.5 485.2 186" stroke-dasharray="6.2 7.3" stroke-dashoffset="5.2"/>
<path class="o w5 r" d="M424.2 159.8Q432.5 156.3 433.4 157.1"/><path class="p w2 r" d="M424.2 159.8Q432.5 156.3 433.4 157.1"/><path class="c w2" d="M424.2 159.8Q432.5 156.3 433.4 157.1" stroke-dasharray="3.6 2.8" stroke-dashoffset="1.7"/>
<path class="o w5 r" d="M448.2 162.7Q452.8 165.2 452.5 166.6"/><path class="c w2 r" d="M448.2 162.7Q452.8 165.2 452.5 166.6"/><path class="p w2" d="M448.2 162.7Q452.8 165.2 452.5 166.6" stroke-dasharray="2.6 1.9" stroke-dashoffset="1.3"/>
<path class="o w5 r" d="M562.3 166.2Q588.5 170.3 611.7 174.4"/><path class="c w2 r" d="M562.3 166.2Q588.5 170.3 611.7 174.4"/><path class="p w2" d="M562.3 166.2Q588.5 170.3 611.7 174.4" stroke-dasharray="21 11.6" stroke-dashoffset="16.4"/>
<path class="o w5 r" d="M570.5 177.5Q590 190 603.4 195.1"/><path class="p w2 r" d="M570.5 177.5Q590 190 603.4 195.1"/><path class="c w2" d="M570.5 177.5Q590 190 603.4 195.1" stroke-dasharray="20.5 8.7" stroke-dashoffset="10.2"/>
<path class="o w5 r" d="M553.1 200.2Q568 195.8 613.3 206.3"/><path class="p w2 r" d="M553.1 200.2Q568 195.8 613.3 206.3"/><path class="c w2" d="M553.1 200.2Q568 195.8 613.3 206.3" stroke-dasharray="28.6 24.6" stroke-dashoffset="19.7"/>
<path class="o w5 r" d="M527.8 196Q517 224.7 516.3 240.9"/><path class="c w2 r" d="M527.8 196Q517 224.7 516.3 240.9"/><path class="p w2" d="M527.8 196Q517 224.7 516.3 240.9" stroke-dasharray="26.7 11.9" stroke-dashoffset="23.1"/>
<path class="o w5 r" d="M515 195.6Q506 218.5 506.2 226.9"/><path class="p w2 r" d="M515 195.6Q506 218.5 506.2 226.9"/><path class="c w2" d="M515 195.6Q506 218.5 506.2 226.9" stroke-dasharray="15.4 7.6" stroke-dashoffset="0.5"/>
<path class="o w5 r" d="M510.3 193.6Q506.9 204.3 506.4 209.3"/><path class="p w2 r" d="M510.3 193.6Q506.9 204.3 506.4 209.3"/><path class="c w2" d="M510.3 193.6Q506.9 204.3 506.4 209.3" stroke-dasharray="7.1 4.2" stroke-dashoffset="6.5"/>
<path class="o w5 r" d="M534.5 216.3Q551.9 220.1 563.8 215.1"/><path class="p w2 r" d="M534.5 216.3Q551.9 220.1 563.8 215.1"/><path class="c w2" d="M534.5 216.3Q551.9 220.1 563.8 215.1" stroke-dasharray="14.3 12.6" stroke-dashoffset="10.3"/>
<path class="o w5 r" d="M543.8 224.8Q544.2 249.5 548.2 254.1"/><path class="c w2 r" d="M543.8 224.8Q544.2 249.5 548.2 254.1"/><path class="p w2" d="M543.8 224.8Q544.2 249.5 548.2 254.1" stroke-dasharray="16 12.3" stroke-dashoffset="0.6"/>
<path class="o w5 r" d="M576.9 221Q583.6 238.3 588.1 247.9"/><path class="c w2 r" d="M576.9 221Q583.6 238.3 588.1 247.9"/>
<path class="o w5 r" d="M539.7 243.6Q556.9 235.5 566.2 244"/><path class="p w2 r" d="M539.7 243.6Q556.9 235.5 566.2 244"/><path class="c w2" d="M539.7 243.6Q556.9 235.5 566.2 244" stroke-dasharray="9.9 8.6" stroke-dashoffset="10.2"/>
<path class="o w5 r" d="M557.3 255.4Q565.1 267.8 570.7 275.7"/><path class="c w2 r" d="M557.3 255.4Q565.1 267.8 570.7 275.7"/><path class="p w2" d="M557.3 255.4Q565.1 267.8 570.7 275.7" stroke-dasharray="7.8 5.9" stroke-dashoffset="0.9"/>
<path class="o w5 r" d="M599 254.2Q593 270.1 582.4 276.6"/><path class="c w2 r" d="M599 254.2Q593 270.1 582.4 276.6"/><path class="p w2" d="M599 254.2Q593 270.1 582.4 276.6" stroke-dasharray="15.2 6.3" stroke-dashoffset="1.9"/>
<path class="o w5 r" d="M601.7 224.1Q604.1 238.4 605.9 251.9"/><path class="p w2 r" d="M601.7 224.1Q604.1 238.4 605.9 251.9"/><path class="c w2" d="M601.7 224.1Q604.1 238.4 605.9 251.9" stroke-dasharray="16.8 6.1" stroke-dashoffset="8.1"/>
<path class="o w5 r" d="M622.3 148Q633 158.5 644.8 162.5"/><path class="c w2 r" d="M622.3 148Q633 158.5 644.8 162.5"/><path class="p w2" d="M622.3 148Q633 158.5 644.8 162.5" stroke-dasharray="8.3 10" stroke-dashoffset="4.6"/>
<path class="o w5 r" d="M497.8 143.4Q504.6 155.1 518.4 170.3"/><path class="c w2 r" d="M497.8 143.4Q504.6 155.1 518.4 170.3"/><path class="p w2" d="M497.8 143.4Q504.6 155.1 518.4 170.3" stroke-dasharray="14 8.1" stroke-dashoffset="15.2"/>
<path class="o w5 r" d="M481.5 149.6Q495 140.1 511.4 144.6"/><path class="p w2 r" d="M481.5 149.6Q495 140.1 511.4 144.6"/><path class="c w2" d="M481.5 149.6Q495 140.1 511.4 144.6" stroke-dasharray="18.5 10.9" stroke-dashoffset="15"/>
<path class="o w5 r" d="M486.3 172.4Q499.7 159.4 517.3 158.8"/><path class="c w2 r" d="M486.3 172.4Q499.7 159.4 517.3 158.8"/><path class="p w2" d="M486.3 172.4Q499.7 159.4 517.3 158.8" stroke-dasharray="9.3 7" stroke-dashoffset="17.1"/>
<path class="o w5 r" d="M477.1 138.7Q481.9 132.6 493.5 135.3"/><path class="c w2 r" d="M477.1 138.7Q481.9 132.6 493.5 135.3"/><path class="p w2" d="M477.1 138.7Q481.9 132.6 493.5 135.3" stroke-dasharray="9.2 7.2" stroke-dashoffset="3.2"/>
<path class="o w5 r" d="M473.1 152.2Q476.1 157.1 481.2 162.1"/><path class="c w2 r" d="M473.1 152.2Q476.1 157.1 481.2 162.1"/><path class="p w2" d="M473.1 152.2Q476.1 157.1 481.2 162.1" stroke-dasharray="6.1 2.8" stroke-dashoffset="3.5"/>
<path class="o w5 r" d="M469 114.5Q480.9 114.4 489.3 123.4"/><path class="c w2 r" d="M469 114.5Q480.9 114.4 489.3 123.4"/><path class="p w2" d="M469 114.5Q480.9 114.4 489.3 123.4" stroke-dasharray="10.1 9" stroke-dashoffset="0.8"/>
<path class="o w9" d="M462.4 118.2L479 120.5"/><path class="p w7" d="M462.4 118.2L479 120.5"/><path class="c w7" d="M462.4 118.2L479 120.5" stroke-dasharray="7.2 5.7" stroke-dashoffset="7.1"/>
<path class="o w9" d="M487.9 92.4Q499.8 91.4 510.7 102.7"/><path class="p w7" d="M487.9 92.4Q499.8 91.4 510.7 102.7"/><path class="c w7" d="M487.9 92.4Q499.8 91.4 510.7 102.7" stroke-dasharray="11.5 8.5" stroke-dashoffset="8.7"/>
<path class="o w9" d="M470.9 136Q474.3 148.5 470.8 158.9"/><path class="c w6" d="M470.9 136Q474.3 148.5 470.8 158.9"/><path class="p w6" d="M470.9 136Q474.3 148.5 470.8 158.9" stroke-dasharray="9 6.3" stroke-dashoffset="10"/>
<path class="o w7" d="M487.3 146.8L497.5 145.4"/><path class="p w5" d="M487.3 146.8L497.5 145.4"/><path class="c w5" d="M487.3 146.8L497.5 145.4" stroke-dasharray="5.1 2.8" stroke-dashoffset="5.1"/>
<path class="o w8" d="M433.2 145.4L434.5 152.9"/><path class="p w6" d="M433.2 145.4L434.5 152.9"/><path class="c w6" d="M433.2 145.4L434.5 152.9" stroke-dasharray="3 2.2" stroke-dashoffset="3.4"/>
<path class="o w7" d="M444.5 138.6L445.3 143.2"/><path class="c w4" d="M444.5 138.6L445.3 143.2"/><path class="p w4" d="M444.5 138.6L445.3 143.2" stroke-dasharray="1.6 1.2" stroke-dashoffset="1.7"/>
<path class="o w11" d="M540.5 103.8L536.8 124.6"/><path class="p w8" d="M540.5 103.8L536.8 124.6"/><path class="c w8" d="M540.5 103.8L536.8 124.6" stroke-dasharray="6.6 4.9" stroke-dashoffset="7.6"/>
<path class="o w10" d="M583.2 113.5L591 114.8"/><path class="c w7" d="M583.2 113.5L591 114.8"/><path class="p w7" d="M583.2 113.5L591 114.8" stroke-dasharray="4.2 1.7" stroke-dashoffset="1.9"/>
<path class="o w9" d="M599.5 110.6L601.1 120.2"/><path class="p w7" d="M599.5 110.6L601.1 120.2"/><path class="c w7" d="M599.5 110.6L601.1 120.2" stroke-dasharray="4.4 2.5" stroke-dashoffset="1.1"/>
<path class="o w10" d="M620.1 115.8L633.2 121.4"/><path class="c w7" d="M620.1 115.8L633.2 121.4"/><path class="p w7" d="M620.1 115.8L633.2 121.4" stroke-dasharray="4.4 5.7" stroke-dashoffset="1.2"/>
<path class="o w14" d="M630.6 135.9Q650.6 140.9 654 153.3"/><path class="p w12" d="M630.6 135.9Q650.6 140.9 654 153.3"/><path class="c w12" d="M630.6 135.9Q650.6 140.9 654 153.3" stroke-dasharray="15.6 8" stroke-dashoffset="4.5"/>
<path class="o w12" d="M631.3 134.2L646.2 149.1"/><path class="c w10" d="M631.3 134.2L646.2 149.1"/><path class="p w10" d="M631.3 134.2L646.2 149.1" stroke-dasharray="9.4 8.5" stroke-dashoffset="9.1"/>
<path class="o w12" d="M578.6 161.3L610.7 157.9"/><path class="c w9" d="M578.6 161.3L610.7 157.9"/><path class="p w9" d="M578.6 161.3L610.7 157.9" stroke-dasharray="9.1 9.6" stroke-dashoffset="7.3"/>
<path class="o w8" d="M558.2 122.1Q581.3 117.8 589.3 126.7"/><path class="p w6" d="M558.2 122.1Q581.3 117.8 589.3 126.7"/><path class="c w6" d="M558.2 122.1Q581.3 117.8 589.3 126.7" stroke-dasharray="17.9 9.7" stroke-dashoffset="15"/>
<path class="o w7" d="M548.4 139.9L556.2 136.8"/><path class="p w4" d="M548.4 139.9L556.2 136.8"/><path class="c w4" d="M548.4 139.9L556.2 136.8" stroke-dasharray="3.4 3" stroke-dashoffset="3.3"/>
<path class="o w7" d="M555.5 134.6Q557.5 150.8 572.2 149.2"/><path class="p w4" d="M555.5 134.6Q557.5 150.8 572.2 149.2"/><path class="c w4" d="M555.5 134.6Q557.5 150.8 572.2 149.2" stroke-dasharray="14 6.8" stroke-dashoffset="4.4"/>
<path class="o w11" d="M609.4 150.1L612.6 161"/><path class="p w9" d="M609.4 150.1L612.6 161"/><path class="c w9" d="M609.4 150.1L612.6 161" stroke-dasharray="3.6 3.6" stroke-dashoffset="4.1"/>
<path class="o w8" d="M430.3 199.1Q437.1 204.9 439.4 206.3"/><path class="p w5" d="M430.3 199.1Q437.1 204.9 439.4 206.3"/><path class="c w5" d="M430.3 199.1Q437.1 204.9 439.4 206.3" stroke-dasharray="4.9 3.6" stroke-dashoffset="5.7"/>
<path class="o w11" d="M443 210.6Q454.7 208.5 465.2 201"/><path class="p w9" d="M443 210.6Q454.7 208.5 465.2 201"/><path class="c w9" d="M443 210.6Q454.7 208.5 465.2 201" stroke-dasharray="13 6.3" stroke-dashoffset="10.9"/>
<path class="o w10" d="M507 200.3Q500.8 219.7 500.5 225.2"/><path class="p w7" d="M507 200.3Q500.8 219.7 500.5 225.2"/><path class="c w7" d="M507 200.3Q500.8 219.7 500.5 225.2" stroke-dasharray="7.8 9.2" stroke-dashoffset="6.8"/>
<path class="o w8" d="M465.5 217.1Q472.3 229.2 472.3 221.3"/><path class="p w5" d="M465.5 217.1Q472.3 229.2 472.3 221.3"/><path class="c w5" d="M465.5 217.1Q472.3 229.2 472.3 221.3" stroke-dasharray="5.7 3.5" stroke-dashoffset="4"/>
<path class="o w8" d="M479.7 225.7Q483.9 218.3 490.1 215.2"/><path class="p w5" d="M479.7 225.7Q483.9 218.3 490.1 215.2"/><path class="c w5" d="M479.7 225.7Q483.9 218.3 490.1 215.2" stroke-dasharray="6.8 5.6" stroke-dashoffset="2.3"/>
<path class="o w8" d="M448.6 164.7L451.7 167"/><path class="c w6" d="M448.6 164.7L451.7 167"/><path class="p w6" d="M448.6 164.7L451.7 167" stroke-dasharray="2.1 1.7" stroke-dashoffset="0.1"/>
<path class="o w11" d="M555.4 199.9Q569.2 199 604.6 205.9"/><path class="p w9" d="M555.4 199.9Q569.2 199 604.6 205.9"/><path class="c w9" d="M555.4 199.9Q569.2 199 604.6 205.9" stroke-dasharray="15.3 12" stroke-dashoffset="11.7"/>
<path class="o w11" d="M511.4 161.6L515.9 167.6"/><path class="c w8" d="M511.4 161.6L515.9 167.6"/><path class="p w8" d="M511.4 161.6L515.9 167.6" stroke-dasharray="2.2 3" stroke-dashoffset="3.2"/>
<path class="o w10" d="M511.5 198.5Q504.6 215.9 504.2 223.5"/><path class="c w8" d="M511.5 198.5Q504.6 215.9 504.2 223.5"/><path class="p w8" d="M511.5 198.5Q504.6 215.9 504.2 223.5" stroke-dasharray="13.4 6.6" stroke-dashoffset="9.4"/>
<path class="o w10" d="M498.6 194.5L497 203.8"/><path class="c w7" d="M498.6 194.5L497 203.8"/><path class="p w7" d="M498.6 194.5L497 203.8" stroke-dasharray="3.3 3.8" stroke-dashoffset="1.6"/>
<path class="o w11" d="M556 230.3Q563.6 244.8 572.6 257.2"/><path class="c w9" d="M556 230.3Q563.6 244.8 572.6 257.2"/><path class="p w9" d="M556 230.3Q563.6 244.8 572.6 257.2" stroke-dasharray="17.7 9.5" stroke-dashoffset="2.1"/>
<path class="o w11" d="M542.8 255Q558.8 250.5 558.8 255.4"/><path class="c w8" d="M542.8 255Q558.8 250.5 558.8 255.4"/><path class="p w8" d="M542.8 255Q558.8 250.5 558.8 255.4" stroke-dasharray="5.2 3.9" stroke-dashoffset="7.4"/>
<path class="o w13" d="M548.1 259.7Q541.5 272.1 538.5 273"/><path class="p w10" d="M548.1 259.7Q541.5 272.1 538.5 273"/><path class="c w10" d="M548.1 259.7Q541.5 272.1 538.5 273" stroke-dasharray="5.6 4.9" stroke-dashoffset="6"/>
<path class="o w11" d="M600.3 259.6Q594.2 272 587.4 276.8"/><path class="p w9" d="M600.3 259.6Q594.2 272 587.4 276.8"/><path class="c w9" d="M600.3 259.6Q594.2 272 587.4 276.8" stroke-dasharray="7.8 4.7" stroke-dashoffset="2.8"/>
<path class="o w12" d="M638.1 144.5L650.6 149.9"/><path class="c w9" d="M638.1 144.5L650.6 149.9"/><path class="p w9" d="M638.1 144.5L650.6 149.9" stroke-dasharray="6.5 4.8" stroke-dashoffset="6.1"/>
<path class="o w9" d="M471.6 131.5Q479.8 120.9 492.9 126.7"/><path class="p w6" d="M471.6 131.5Q479.8 120.9 492.9 126.7"/><path class="c w6" d="M471.6 131.5Q479.8 120.9 492.9 126.7" stroke-dasharray="8.1 8.4" stroke-dashoffset="4.2"/>
<path class="o w5 r" d="M391 77C391.7 77.7 393.3 80.8 395 81C396.7 81.2 399 79.3 401 78C403 76.7 405 75.7 407 73C409 70.3 412 63.8 413 62"/><path class="c w2 r" d="M391 77C391.7 77.7 393.3 80.8 395 81C396.7 81.2 399 79.3 401 78C403 76.7 405 75.7 407 73C409 70.3 412 63.8 413 62"/>
<path class="o w5 r" d="M407 73C407.3 75.2 407.3 83.2 409 86C410.7 88.8 414.3 89 417 90C419.7 91 423.7 91.7 425 92"/><path class="c w2 r" d="M407 73C407.3 75.2 407.3 83.2 409 86C410.7 88.8 414.3 89 417 90C419.7 91 423.7 91.7 425 92"/>
<path class="o w5 r" d="M413 96C414 97.7 418.2 103.3 419 106C419.8 108.7 417 110.3 418 112C419 113.7 421.8 115.5 425 116C428.2 116.5 433.7 115 437 115C440.3 115 443.7 115.8 445 116"/><path class="c w2 r" d="M413 96C414 97.7 418.2 103.3 419 106C419.8 108.7 417 110.3 418 112C419 113.7 421.8 115.5 425 116C428.2 116.5 433.7 115 437 115C440.3 115 443.7 115.8 445 116"/>
<path class="o w5 r" d="M450 90Q441 100 440 110"/><path class="c w2 r" d="M450 90Q441 100 440 110"/>
<path class="o w5 r" d="M455 68C456.7 68 462.3 68.2 465 68C467.7 67.8 470.2 65.7 471 67C471.8 68.3 469.7 73.7 470 76C470.3 78.3 471.7 80.3 473 81C474.3 81.7 477.2 80.2 478 80"/><path class="c w2 r" d="M455 68C456.7 68 462.3 68.2 465 68C467.7 67.8 470.2 65.7 471 67C471.8 68.3 469.7 73.7 470 76C470.3 78.3 471.7 80.3 473 81C474.3 81.7 477.2 80.2 478 80"/>
<path class="o w5 r" d="M443 62L444 76"/><path class="c w2 r" d="M443 62L444 76"/>
<path class="o w5 r" d="M453 69L452 78"/><path class="c w2 r" d="M453 69L452 78"/>
<path class="o w5 r" d="M451 60Q471 54.5 455 59"/><path class="c w2 r" d="M451 60Q471 54.5 455 59"/>
<path class="o w5 r" d="M459 51L467 49"/><path class="c w2 r" d="M459 51L467 49"/>
<path class="o w13" d="M413 61L432 67"/><path class="c w10" d="M413 61L432 67"/>
<path class="o w12" d="M437 59L449 56"/><path class="c w10" d="M437 59L449 56"/>
<path class="o w8" d="M449 55L459 52"/><path class="c w6" d="M449 55L459 52"/>
<path class="o w7" d="M417 80L455 68"/><path class="c w5" d="M417 80L455 68"/>
<path class="o w8" d="M418 83L459 75"/><path class="c w6" d="M418 83L459 75"/>
<path class="o w13" d="M425 89L465 81"/><path class="c w10" d="M425 89L465 81"/>
<path class="o w11" d="M426 92L426 102"/><path class="c w8" d="M426 92L426 102"/>
<path class="o w7" d="M435 94L447 88"/><path class="c w5" d="M435 94L447 88"/>
<path class="o w13" d="M453 108L471 95"/><path class="c w10" d="M453 108L471 95"/>
<path class="o w5 r" d="M473 86Q479 98 485 98"/><path class="c w2 r" d="M473 86Q479 98 485 98"/><path class="p w2" d="M473 86Q479 98 485 98" stroke-dasharray="5.8 7.7" stroke-dashoffset="6.4"/>
<path class="o w5 r" d="M471 98Q474 108 481 110"/><path class="c w2 r" d="M471 98Q474 108 481 110"/><path class="p w2" d="M471 98Q474 108 481 110" stroke-dasharray="9.4 5" stroke-dashoffset="2.7"/>
<path class="o w11" d="M459 112L481 115"/><path class="p w9" d="M459 112L481 115"/><path class="c w9" d="M459 112L481 115" stroke-dasharray="11.3 9" stroke-dashoffset="7"/>
<path class="o w12" d="M432 128L453 123"/><path class="c w10" d="M432 128L453 123"/><path class="p w10" d="M432 128L453 123" stroke-dasharray="10.4 8.5" stroke-dashoffset="1.4"/>
<path class="o w11" d="M485 98Q497 96.5 509 109"/><path class="c w9" d="M485 98Q497 96.5 509 109"/><path class="p w9" d="M485 98Q497 96.5 509 109" stroke-dasharray="11.9 7.7" stroke-dashoffset="1.8"/>
<path class="o w5 r" d="M509 109C510.3 109.3 516.3 109.5 517 111C517.7 112.5 514.3 116.5 513 118C511.7 119.5 509.7 119.7 509 120"/><path class="c w2 r" d="M509 109C510.3 109.3 516.3 109.5 517 111C517.7 112.5 514.3 116.5 513 118C511.7 119.5 509.7 119.7 509 120"/><path class="p w2" d="M509 109C510.3 109.3 516.3 109.5 517 111C517.7 112.5 514.3 116.5 513 118C511.7 119.5 509.7 119.7 509 120" stroke-dasharray="6.8 6" stroke-dashoffset="5.7"/>
<path class="o w8" d="M481 115Q495 117.5 501 130"/><path class="p w6" d="M481 115Q495 117.5 501 130"/><path class="c w6" d="M481 115Q495 117.5 501 130" stroke-dasharray="8.5 5.7" stroke-dashoffset="4.5"/>
<path class="o w10" d="M465 134Q469 149 465 160"/><path class="c w7" d="M465 134Q469 149 465 160"/><path class="p w7" d="M465 134Q469 149 465 160" stroke-dasharray="8.8 7" stroke-dashoffset="1.8"/>
<path class="o w11" d="M485 132Q480 143 471 158"/><path class="c w8" d="M485 132Q480 143 471 158"/><path class="p w8" d="M485 132Q480 143 471 158" stroke-dasharray="15 7.3" stroke-dashoffset="12.1"/>
<path class="o w11" d="M497 140Q503 146 517 160"/><path class="p w8" d="M497 140Q503 146 517 160"/><path class="c w8" d="M497 140Q503 146 517 160" stroke-dasharray="8.2 6.3" stroke-dashoffset="11.1"/>
<path class="o w9" d="M487 146Q498 145 505 140"/><path class="p w6" d="M487 146Q498 145 505 140"/><path class="c w6" d="M487 146Q498 145 505 140" stroke-dasharray="9.7 4.8" stroke-dashoffset="2.9"/>
<path class="o w9" d="M485 152L499 150"/><path class="p w6" d="M485 152L499 150"/><path class="c w6" d="M485 152L499 150" stroke-dasharray="7.6 4.1" stroke-dashoffset="6.6"/>
<path class="o w9" d="M428 144L430 156"/><path class="c w6" d="M428 144L430 156"/><path class="p w6" d="M428 144L430 156" stroke-dasharray="5.4 3.8" stroke-dashoffset="3.4"/>
<path class="o w8" d="M440 139L441 145"/><path class="c w6" d="M440 139L441 145"/><path class="p w6" d="M440 139L441 145" stroke-dasharray="3.6 1.6" stroke-dashoffset="0.5"/>
<path class="o w5 r" d="M423 142Q428 137 433 144"/><path class="c w2 r" d="M423 142Q428 137 433 144"/><path class="p w2" d="M423 142Q428 137 433 144" stroke-dasharray="5.8 4.2" stroke-dashoffset="2.8"/>
<path class="o w5 r" d="M445 136C446.3 135.7 451 133 453 134C455 135 457.3 140.3 457 142C456.7 143.7 452 143.7 451 144"/><path class="p w2 r" d="M445 136C446.3 135.7 451 133 453 134C455 135 457.3 140.3 457 142C456.7 143.7 452 143.7 451 144"/><path class="c w2" d="M445 136C446.3 135.7 451 133 453 134C455 135 457.3 140.3 457 142C456.7 143.7 452 143.7 451 144" stroke-dasharray="7.7 9.4" stroke-dashoffset="3.2"/>
<path class="o w5 r" d="M461 122Q469 128 477 134"/><path class="c w2 r" d="M461 122Q469 128 477 134"/><path class="p w2" d="M461 122Q469 128 477 134" stroke-dasharray="8.4 4.9" stroke-dashoffset="0.6"/>
<path class="o w5 r" d="M443 156Q450 145 453 158"/><path class="p w2 r" d="M443 156Q450 145 453 158"/><path class="c w2" d="M443 156Q450 145 453 158" stroke-dasharray="7.9 4.1" stroke-dashoffset="4.1"/>
<path class="o w5 r" d="M505 140Q516.5 145 522 138"/><path class="c w2 r" d="M505 140Q516.5 145 522 138"/><path class="p w2" d="M505 140Q516.5 145 522 138" stroke-dasharray="9.4 4.4" stroke-dashoffset="3.9"/>
<path class="o w14" d="M537.3 112.3L526.4 142.9"/><path class="c w11" d="M537.3 112.3L526.4 142.9"/><path class="p w11" d="M537.3 112.3L526.4 142.9" stroke-dasharray="15.7 10.4" stroke-dashoffset="10.4"/>
<path class="o w14" d="M548.3 101.3L542.8 132"/><path class="c w11" d="M548.3 101.3L542.8 132"/><path class="p w11" d="M548.3 101.3L542.8 132" stroke-dasharray="17.3 10.4" stroke-dashoffset="1.6"/>
<path class="o w14" d="M565.8 111.2L583.3 132"/><path class="p w11" d="M565.8 111.2L583.3 132"/><path class="c w11" d="M565.8 111.2L583.3 132" stroke-dasharray="13.1 10.1" stroke-dashoffset="6.1"/>
<path class="o w11" d="M581.1 106.8L594.3 109"/><path class="c w9" d="M581.1 106.8L594.3 109"/><path class="p w9" d="M581.1 106.8L594.3 109" stroke-dasharray="4.3 4" stroke-dashoffset="2.5"/>
<path class="o w10" d="M594.3 110.1L596.4 123.2"/><path class="c w7" d="M594.3 110.1L596.4 123.2"/><path class="p w7" d="M594.3 110.1L596.4 123.2" stroke-dasharray="7.8 3.6" stroke-dashoffset="0.7"/>
<path class="o w10" d="M587.7 115.5L589.9 127.6"/><path class="p w7" d="M587.7 115.5L589.9 127.6"/><path class="c w7" d="M587.7 115.5L589.9 127.6" stroke-dasharray="6.8 5.5" stroke-dashoffset="0.4"/>
<path class="o w11" d="M601.9 117.7L599.7 129.8"/><path class="p w9" d="M601.9 117.7L599.7 129.8"/><path class="c w9" d="M601.9 117.7L599.7 129.8" stroke-dasharray="5.1 5.2" stroke-dashoffset="3.5"/>
<path class="o w10" d="M607.4 116.6L609.6 124.3"/><path class="p w7" d="M607.4 116.6L609.6 124.3"/><path class="c w7" d="M607.4 116.6L609.6 124.3" stroke-dasharray="4.7 3.1" stroke-dashoffset="3.6"/>
<path class="o w12" d="M616.2 121L631.5 127.6"/><path class="c w10" d="M616.2 121L631.5 127.6"/><path class="p w10" d="M616.2 121L631.5 127.6" stroke-dasharray="9.9 6.2" stroke-dashoffset="6.5"/>
<path class="o w16" d="M631.5 127.6Q656.1 134.2 661 149.5"/><path class="p w13" d="M631.5 127.6Q656.1 134.2 661 149.5"/><path class="c w13" d="M631.5 127.6Q656.1 134.2 661 149.5" stroke-dasharray="18.5 16.5" stroke-dashoffset="18"/>
<path class="o w13" d="M598.6 135.2L618.3 136.3"/><path class="c w11" d="M598.6 135.2L618.3 136.3"/>
<path class="o w12" d="M605.2 140.7L624.9 142.9"/><path class="c w10" d="M605.2 140.7L624.9 142.9"/><path class="p w10" d="M605.2 140.7L624.9 142.9" stroke-dasharray="9.6 6.4" stroke-dashoffset="4.1"/>
<path class="o w15" d="M624.9 138.5L644.6 158.2"/><path class="p w12" d="M624.9 138.5L644.6 158.2"/><path class="c w12" d="M624.9 138.5L644.6 158.2" stroke-dasharray="16.3 10.2" stroke-dashoffset="11.1"/>
<path class="o w14" d="M574.6 153.9L616.2 149.5"/><path class="c w11" d="M574.6 153.9L616.2 149.5"/><path class="p w11" d="M574.6 153.9L616.2 149.5" stroke-dasharray="11.9 13.1" stroke-dashoffset="7.3"/>
<path class="o w10" d="M557 127.6Q581.1 123.2 587.7 132"/><path class="c w8" d="M557 127.6Q581.1 123.2 587.7 132"/><path class="p w8" d="M557 127.6Q581.1 123.2 587.7 132" stroke-dasharray="15.7 9.3" stroke-dashoffset="8.2"/>
<path class="o w9" d="M583.3 129.8L596.4 126.5"/><path class="c w6" d="M583.3 129.8L596.4 126.5"/><path class="p w6" d="M583.3 129.8L596.4 126.5" stroke-dasharray="5.9 5.1" stroke-dashoffset="2.5"/>
<path class="o w9" d="M543.9 136.3L554.8 132"/><path class="p w6" d="M543.9 136.3L554.8 132"/><path class="c w6" d="M543.9 136.3L554.8 132" stroke-dasharray="6.1 2.9" stroke-dashoffset="4"/>
<path class="o w8" d="M559.2 132Q560.3 147.3 574.6 145.1"/><path class="c w5" d="M559.2 132Q560.3 147.3 574.6 145.1"/><path class="p w5" d="M559.2 132Q560.3 147.3 574.6 145.1" stroke-dasharray="13.7 7.6" stroke-dashoffset="7"/>
<path class="o w11" d="M614 145.1L618.3 160"/><path class="c w9" d="M614 145.1L618.3 160"/><path class="p w9" d="M614 145.1L618.3 160" stroke-dasharray="8.2 6.5" stroke-dashoffset="4.1"/>
<path class="o w5 r" d="M550.5 103.5L557 103.5"/><path class="p w2 r" d="M550.5 103.5L557 103.5"/><path class="c w2" d="M550.5 103.5L557 103.5" stroke-dasharray="3.5 1.5" stroke-dashoffset="2.3"/>
<path class="o w5 r" d="M563.6 106.8Q573.5 106.2 578.9 112.3"/><path class="p w2 r" d="M563.6 106.8Q573.5 106.2 578.9 112.3"/><path class="c w2" d="M563.6 106.8Q573.5 106.2 578.9 112.3" stroke-dasharray="8.9 6" stroke-dashoffset="4.3"/>
<path class="o w5 r" d="M548.3 123.2Q554.8 117.7 561.4 116.6"/><path class="p w2 r" d="M548.3 123.2Q554.8 117.7 561.4 116.6"/><path class="c w2" d="M548.3 123.2Q554.8 117.7 561.4 116.6" stroke-dasharray="5.3 6.7" stroke-dashoffset="4.1"/>
<path class="o w5 r" d="M535.1 145.1Q545 150.6 550.5 142.9"/><path class="c w2 r" d="M535.1 145.1Q545 150.6 550.5 142.9"/><path class="p w2" d="M535.1 145.1Q545 150.6 550.5 142.9" stroke-dasharray="4.9 3.5" stroke-dashoffset="1.5"/>
<path class="o w5 r" d="M576.7 136.3Q589.9 142.9 594.3 149.5"/><path class="p w2 r" d="M576.7 136.3Q589.9 142.9 594.3 149.5"/><path class="c w2" d="M576.7 136.3Q589.9 142.9 594.3 149.5" stroke-dasharray="13.1 5.1" stroke-dashoffset="5.8"/>
<path class="o w5 r" d="M622.7 116.6Q622.7 124.3 631.5 123.2"/><path class="c w2 r" d="M622.7 116.6Q622.7 124.3 631.5 123.2"/><path class="p w2" d="M622.7 116.6Q622.7 124.3 631.5 123.2" stroke-dasharray="4.5 3.4" stroke-dashoffset="1.3"/>
<path class="o w5 r" d="M554.8 149.5Q562.5 153 565.8 160"/><path class="p w2 r" d="M554.8 149.5Q562.5 153 565.8 160"/><path class="c w2" d="M554.8 149.5Q562.5 153 565.8 160" stroke-dasharray="7 5.3" stroke-dashoffset="1.7"/>
<path class="o w11" d="M447 171Q458.5 181.5 456 186"/><path class="c w9" d="M447 171Q458.5 181.5 456 186"/><path class="p w9" d="M447 171Q458.5 181.5 456 186" stroke-dasharray="7.7 6.8" stroke-dashoffset="2.2"/>
<path class="o w12" d="M465 180Q463 195 457 206"/><path class="p w10" d="M465 180Q463 195 457 206"/><path class="c w10" d="M465 180Q463 195 457 206" stroke-dasharray="15.2 10.2" stroke-dashoffset="10.3"/>
<path class="o w10" d="M445 193L455 190"/><path class="p w7" d="M445 193L455 190"/><path class="c w7" d="M445 193L455 190" stroke-dasharray="4.7 3.1" stroke-dashoffset="3.6"/>
<path class="o w9" d="M433 195Q440 201 443 203"/><path class="c w6" d="M433 195Q440 201 443 203"/><path class="p w6" d="M433 195Q440 201 443 203" stroke-dasharray="5.4 4" stroke-dashoffset="4.5"/>
<path class="o w12" d="M444 217Q456.5 215 471 205"/><path class="p w10" d="M444 217Q456.5 215 471 205"/><path class="c w10" d="M444 217Q456.5 215 471 205" stroke-dasharray="11.3 6.1" stroke-dashoffset="12.2"/>
<path class="o w11" d="M489 186Q481 200 473 206"/><path class="p w9" d="M489 186Q481 200 473 206"/><path class="c w9" d="M489 186Q481 200 473 206" stroke-dasharray="14.1 7.4" stroke-dashoffset="11.4"/>
<path class="o w13" d="M503 194Q492 212 485 222"/><path class="c w10" d="M503 194Q492 212 485 222"/><path class="p w10" d="M503 194Q492 212 485 222" stroke-dasharray="11 13.1" stroke-dashoffset="0.7"/>
<path class="o w13" d="M515 198Q507 223 507 228"/><path class="c w10" d="M515 198Q507 223 507 228"/><path class="p w10" d="M515 198Q507 223 507 228" stroke-dasharray="16.3 11.8" stroke-dashoffset="4.5"/>
<path class="o w8" d="M461 218Q470 235 475 224"/><path class="p w6" d="M461 218Q470 235 475 224"/><path class="c w6" d="M461 218Q470 235 475 224" stroke-dasharray="6.3 8.5" stroke-dashoffset="5.9"/>
<path class="o w8" d="M475 224Q480 215 489 210"/><path class="c w6" d="M475 224Q480 215 489 210"/><path class="p w6" d="M475 224Q480 215 489 210" stroke-dasharray="8.4 6.2" stroke-dashoffset="9.4"/>
<path class="o w9" d="M487 226Q493 242 499 226"/><path class="c w6" d="M487 226Q493 242 499 226"/><path class="p w6" d="M487 226Q493 242 499 226" stroke-dasharray="10.2 7.3" stroke-dashoffset="8.9"/>
<path class="o w10" d="M505 232Q509 248 521 248"/><path class="p w7" d="M505 232Q509 248 521 248"/><path class="c w7" d="M505 232Q509 248 521 248" stroke-dasharray="8.8 9.6" stroke-dashoffset="8.2"/>
<path class="o w10" d="M489 164Q488 178 483 184"/><path class="c w7" d="M489 164Q488 178 483 184"/><path class="p w7" d="M489 164Q488 178 483 184" stroke-dasharray="10.6 6.3" stroke-dashoffset="1.2"/>
<path class="o w7" d="M497 166Q501 176 513 186"/><path class="c w5" d="M497 166Q501 176 513 186"/>
<path class="o w8" d="M425 162L433 161"/><path class="c w6" d="M425 162L433 161"/><path class="p w6" d="M425 162L433 161" stroke-dasharray="4.5 2.7" stroke-dashoffset="1.3"/>
<path class="o w9" d="M451 160L455 163"/><path class="c w6" d="M451 160L455 163"/><path class="p w6" d="M451 160L455 163" stroke-dasharray="1.6 1.2" stroke-dashoffset="1.4"/>
<path class="o w8" d="M469 160L471 164"/><path class="p w6" d="M469 160L471 164"/><path class="c w6" d="M469 160L471 164" stroke-dasharray="2.3 0.9" stroke-dashoffset="2.1"/>
<path class="o w5 r" d="M425 168C426.3 168.7 432 170 433 172C434 174 431.7 178.2 431 180C430.3 181.8 429.3 182.5 429 183"/><path class="p w2 r" d="M425 168C426.3 168.7 432 170 433 172C434 174 431.7 178.2 431 180C430.3 181.8 429.3 182.5 429 183"/><path class="c w2" d="M425 168C426.3 168.7 432 170 433 172C434 174 431.7 178.2 431 180C430.3 181.8 429.3 182.5 429 183" stroke-dasharray="8.8 4.3" stroke-dashoffset="3.9"/>
<path class="o w5 r" d="M457 168C458 168.7 460.7 170.8 463 172C465.3 173.2 468.3 174.7 471 175C473.7 175.3 477.7 174.2 479 174"/><path class="p w2 r" d="M457 168C458 168.7 460.7 170.8 463 172C465.3 173.2 468.3 174.7 471 175C473.7 175.3 477.7 174.2 479 174"/><path class="c w2" d="M457 168C458 168.7 460.7 170.8 463 172C465.3 173.2 468.3 174.7 471 175C473.7 175.3 477.7 174.2 479 174" stroke-dasharray="13.8 5.9" stroke-dashoffset="1.5"/>
<path class="o w5 r" d="M453 231C454.3 230.8 459 229.3 461 230C463 230.7 463 234.7 465 235C467 235.3 471.7 232.5 473 232"/><path class="c w2 r" d="M453 231C454.3 230.8 459 229.3 461 230C463 230.7 463 234.7 465 235C467 235.3 471.7 232.5 473 232"/><path class="p w2" d="M453 231C454.3 230.8 459 229.3 461 230C463 230.7 463 234.7 465 235C467 235.3 471.7 232.5 473 232" stroke-dasharray="13.2 7.5" stroke-dashoffset="5.9"/>
<path class="o w5 r" d="M471 186Q480 181 485 188"/><path class="c w2 r" d="M471 186Q480 181 485 188"/><path class="p w2" d="M471 186Q480 181 485 188" stroke-dasharray="6.4 4.8" stroke-dashoffset="3.3"/>
<path class="o w5 r" d="M517 168Q506.5 178 522 180"/><path class="p w2 r" d="M517 168Q506.5 178 522 180"/><path class="c w2" d="M517 168Q506.5 178 522 180" stroke-dasharray="6.5 5.5" stroke-dashoffset="0.6"/>
<path class="o w14" d="M562.8 155Q587.9 160.7 613 168.8"/><path class="p w11" d="M562.8 155Q587.9 160.7 613 168.8"/><path class="c w11" d="M562.8 155Q587.9 160.7 613 168.8" stroke-dasharray="27.2 21.8" stroke-dashoffset="3.3"/>
<path class="o w14" d="M562.8 170.1Q589.1 172.6 610.5 180.1"/><path class="p w11" d="M562.8 170.1Q589.1 172.6 610.5 180.1"/><path class="c w11" d="M562.8 170.1Q589.1 172.6 610.5 180.1" stroke-dasharray="27.1 21.4" stroke-dashoffset="7.7"/>
<path class="o w13" d="M567.8 182.6Q586.6 193.9 600.4 200.2"/><path class="p w10" d="M567.8 182.6Q586.6 193.9 600.4 200.2"/><path class="c w10" d="M567.8 182.6Q586.6 193.9 600.4 200.2" stroke-dasharray="20.2 10.2" stroke-dashoffset="12.2"/>
<path class="o w12" d="M552.7 193.9Q567.8 192.7 613 201.5"/><path class="c w9" d="M552.7 193.9Q567.8 192.7 613 201.5"/><path class="p w9" d="M552.7 193.9Q567.8 192.7 613 201.5" stroke-dasharray="20.6 16.7" stroke-dashoffset="17.3"/>
<path class="o w14" d="M554 196.4Q570.9 210.9 585.4 222.8"/><path class="p w11" d="M554 196.4Q570.9 210.9 585.4 222.8"/><path class="c w11" d="M554 196.4Q570.9 210.9 585.4 222.8" stroke-dasharray="17.5 14.1" stroke-dashoffset="8.9"/>
<path class="o w13" d="M515.1 155L522.6 165.1"/><path class="c w10" d="M515.1 155L522.6 165.1"/><path class="p w10" d="M515.1 155L522.6 165.1" stroke-dasharray="6.1 4.3" stroke-dashoffset="5.1"/>
<path class="o w15" d="M532.6 197.7Q523.9 225.3 520.1 242.9"/><path class="p w12" d="M532.6 197.7Q523.9 225.3 520.1 242.9"/><path class="c w12" d="M532.6 197.7Q523.9 225.3 520.1 242.9" stroke-dasharray="14.7 12.7" stroke-dashoffset="4.1"/>
<path class="o w13" d="M518.8 197.7Q510.7 217.8 510 227.8"/><path class="c w10" d="M518.8 197.7Q510.7 217.8 510 227.8"/><path class="p w10" d="M518.8 197.7Q510.7 217.8 510 227.8" stroke-dasharray="17.2 13.3" stroke-dashoffset="6.2"/>
<path class="o w11" d="M505 192.7L502.5 207.7"/><path class="c w8" d="M505 192.7L502.5 207.7"/><path class="p w8" d="M505 192.7L502.5 207.7" stroke-dasharray="8.8 6" stroke-dashoffset="6.5"/>
<path class="o w14" d="M535.1 220.3Q550.2 223.4 565.3 219"/><path class="c w11" d="M535.1 220.3Q550.2 223.4 565.3 219"/><path class="p w11" d="M535.1 220.3Q550.2 223.4 565.3 219" stroke-dasharray="7.7 8.6" stroke-dashoffset="3.9"/>
<path class="o w12" d="M537.7 225.3Q540.2 250.4 542.7 255.4"/><path class="p w9" d="M537.7 225.3Q540.2 250.4 542.7 255.4"/><path class="c w9" d="M537.7 225.3Q540.2 250.4 542.7 255.4" stroke-dasharray="13.7 13.1" stroke-dashoffset="4"/>
<path class="o w15" d="M560.3 222.8Q570.3 241.6 580.3 255.4"/><path class="c w12" d="M560.3 222.8Q570.3 241.6 580.3 255.4"/><path class="p w12" d="M560.3 222.8Q570.3 241.6 580.3 255.4" stroke-dasharray="11.6 15.2" stroke-dashoffset="6.1"/>
<path class="o w13" d="M572.8 222.8Q577.8 239.1 582.9 250.4"/><path class="c w10" d="M572.8 222.8Q577.8 239.1 582.9 250.4"/>
<path class="o w14" d="M540.2 247.9Q559 242.3 562.8 249.2"/><path class="c w11" d="M540.2 247.9Q559 242.3 562.8 249.2"/><path class="p w11" d="M540.2 247.9Q559 242.3 562.8 249.2" stroke-dasharray="11 5" stroke-dashoffset="6.9"/>
<path class="o w14" d="M560.3 252.9Q567.8 263 575.3 273"/><path class="c w11" d="M560.3 252.9Q567.8 263 575.3 273"/><path class="p w11" d="M560.3 252.9Q567.8 263 575.3 273" stroke-dasharray="8.6 5.6" stroke-dashoffset="7.6"/>
<path class="o w13" d="M555.2 260.5Q546.4 276.8 542.7 278"/><path class="p w10" d="M555.2 260.5Q546.4 276.8 542.7 278"/><path class="c w10" d="M555.2 260.5Q546.4 276.8 542.7 278" stroke-dasharray="6.8 5.7" stroke-dashoffset="6.2"/>
<path class="o w12" d="M590.4 212.8Q597.9 234.1 585.4 250.4"/><path class="p w9" d="M590.4 212.8Q597.9 234.1 585.4 250.4"/><path class="c w9" d="M590.4 212.8Q597.9 234.1 585.4 250.4" stroke-dasharray="15.1 9" stroke-dashoffset="4.3"/>
<path class="o w14" d="M595.4 252.9Q587.9 268 580.3 273"/><path class="c w11" d="M595.4 252.9Q587.9 268 580.3 273"/><path class="p w11" d="M595.4 252.9Q587.9 268 580.3 273" stroke-dasharray="9.9 6.2" stroke-dashoffset="10.3"/>
<path class="o w11" d="M605.4 222.8Q608 239.1 610.5 250.4"/><path class="p w8" d="M605.4 222.8Q608 239.1 610.5 250.4"/><path class="c w8" d="M605.4 222.8Q608 239.1 610.5 250.4" stroke-dasharray="10.4 12.4" stroke-dashoffset="7.5"/>
<path class="o w9" d="M597.9 250.4Q601.7 260.5 610.5 260.5"/><path class="p w6" d="M597.9 250.4Q601.7 260.5 610.5 260.5"/><path class="c w6" d="M597.9 250.4Q601.7 260.5 610.5 260.5" stroke-dasharray="7.1 4.5" stroke-dashoffset="7.2"/>
<path class="o w13" d="M618 152.5Q630.6 165.1 643.1 167.6"/><path class="c w10" d="M618 152.5Q630.6 165.1 643.1 167.6"/><path class="p w10" d="M618 152.5Q630.6 165.1 643.1 167.6" stroke-dasharray="8.2 6.9" stroke-dashoffset="10"/>
<path class="o w13" d="M633.1 150L650.6 157.5"/><path class="p w10" d="M633.1 150L650.6 157.5"/><path class="c w10" d="M633.1 150L650.6 157.5" stroke-dasharray="6.9 6.2" stroke-dashoffset="1.3"/>
<path class="o w5 r" d="M635.6 177.6C634.7 179.3 630.3 184.7 630.6 187.7C630.8 190.6 637.7 192.7 636.8 195.2C636 197.7 627 200.2 625.5 202.7C624.1 205.2 628.9 209.4 628 210.3C627.2 211.1 621.3 206.5 620.5 207.7C619.7 209 625.1 215.3 623 217.8C620.9 220.3 610.5 222 608 222.8"/><path class="p w2 r" d="M635.6 177.6C634.7 179.3 630.3 184.7 630.6 187.7C630.8 190.6 637.7 192.7 636.8 195.2C636 197.7 627 200.2 625.5 202.7C624.1 205.2 628.9 209.4 628 210.3C627.2 211.1 621.3 206.5 620.5 207.7C619.7 209 625.1 215.3 623 217.8C620.9 220.3 610.5 222 608 222.8"/><path class="c w2" d="M635.6 177.6C634.7 179.3 630.3 184.7 630.6 187.7C630.8 190.6 637.7 192.7 636.8 195.2C636 197.7 627 200.2 625.5 202.7C624.1 205.2 628.9 209.4 628 210.3C627.2 211.1 621.3 206.5 620.5 207.7C619.7 209 625.1 215.3 623 217.8C620.9 220.3 610.5 222 608 222.8" stroke-dasharray="34.4 33.3" stroke-dashoffset="23.5"/>
<path class="o w5 r" d="M527.6 263C528.9 264.2 534.3 267.6 535.1 270.5C536 273.4 531.4 278.9 532.6 280.6C533.9 282.2 541 280.6 542.7 280.6"/><path class="c w2 r" d="M527.6 263C528.9 264.2 534.3 267.6 535.1 270.5C536 273.4 531.4 278.9 532.6 280.6C533.9 282.2 541 280.6 542.7 280.6"/><path class="p w2" d="M527.6 263C528.9 264.2 534.3 267.6 535.1 270.5C536 273.4 531.4 278.9 532.6 280.6C533.9 282.2 541 280.6 542.7 280.6" stroke-dasharray="8.2 10.1" stroke-dashoffset="8.7"/>
<path class="o w5 r" d="M500 232.9C501.3 234.5 504.6 240.4 507.5 242.9C510.5 245.4 514.2 245 517.6 247.9C520.9 250.8 525.9 258.4 527.6 260.5"/><path class="c w2 r" d="M500 232.9C501.3 234.5 504.6 240.4 507.5 242.9C510.5 245.4 514.2 245 517.6 247.9C520.9 250.8 525.9 258.4 527.6 260.5"/><path class="p w2" d="M500 232.9C501.3 234.5 504.6 240.4 507.5 242.9C510.5 245.4 514.2 245 517.6 247.9C520.9 250.8 525.9 258.4 527.6 260.5" stroke-dasharray="14.3 17.4" stroke-dashoffset="14.1"/>
<path class="o w5 r" d="M575.3 275.5C577.8 275.1 585.4 274.3 590.4 273C595.4 271.8 602.1 270.1 605.4 268C608.8 265.9 609.6 261.7 610.5 260.5"/><path class="c w2 r" d="M575.3 275.5C577.8 275.1 585.4 274.3 590.4 273C595.4 271.8 602.1 270.1 605.4 268C608.8 265.9 609.6 261.7 610.5 260.5"/><path class="p w2" d="M575.3 275.5C577.8 275.1 585.4 274.3 590.4 273C595.4 271.8 602.1 270.1 605.4 268C608.8 265.9 609.6 261.7 610.5 260.5" stroke-dasharray="23.8 17.7" stroke-dashoffset="2.6"/>
<path class="o w5 r" d="M618 160C619.3 160.9 623.4 165.1 625.5 165.1C627.6 165.1 630.6 161.7 630.6 160C630.6 158.4 626.4 155.9 625.5 155"/><path class="c w2 r" d="M618 160C619.3 160.9 623.4 165.1 625.5 165.1C627.6 165.1 630.6 161.7 630.6 160C630.6 158.4 626.4 155.9 625.5 155"/><path class="p w2" d="M618 160C619.3 160.9 623.4 165.1 625.5 165.1C627.6 165.1 630.6 161.7 630.6 160C630.6 158.4 626.4 155.9 625.5 155" stroke-dasharray="10.1 8.2" stroke-dashoffset="0.2"/>
<path class="o w5 r" d="M505 172.6C506.3 173.9 509.2 179.7 512.6 180.1C515.9 180.5 522.6 177.6 525.1 175.1C527.6 172.6 527.2 166.7 527.6 165.1"/><path class="p w2 r" d="M505 172.6C506.3 173.9 509.2 179.7 512.6 180.1C515.9 180.5 522.6 177.6 525.1 175.1C527.6 172.6 527.2 166.7 527.6 165.1"/><path class="c w2" d="M505 172.6C506.3 173.9 509.2 179.7 512.6 180.1C515.9 180.5 522.6 177.6 525.1 175.1C527.6 172.6 527.2 166.7 527.6 165.1" stroke-dasharray="18.3 10.1" stroke-dashoffset="17"/>
<path class="o w12" d="M503 141L523 167"/><path class="c w10" d="M503 141L523 167"/><path class="p w10" d="M503 141L523 167" stroke-dasharray="14.4 11.4" stroke-dashoffset="9.8"/>
<path class="o w9" d="M482 152Q496 142 510 148"/><path class="p w6" d="M482 152Q496 142 510 148"/><path class="c w6" d="M482 152Q496 142 510 148" stroke-dasharray="15.7 13.1" stroke-dashoffset="4.9"/>
<path class="o w9" d="M484 170Q500 157 516 156"/><path class="p w6" d="M484 170Q500 157 516 156"/><path class="c w6" d="M484 170Q500 157 516 156" stroke-dasharray="13.7 7.8" stroke-dashoffset="2.8"/>
<path class="o w9" d="M474 136Q480 126 494 132"/><path class="p w6" d="M474 136Q480 126 494 132"/><path class="c w6" d="M474 136Q480 126 494 132" stroke-dasharray="11.3 5.4" stroke-dashoffset="6.6"/>
<path class="o w10" d="M470 156L478 164"/><path class="c w7" d="M470 156L478 164"/><path class="p w7" d="M470 156L478 164" stroke-dasharray="4.4 5.1" stroke-dashoffset="1.4"/>
<path class="o w5 r" d="M500 176C501.7 176.7 506 179.7 510 180C514 180.3 521 180.3 524 178C527 175.7 527.3 168 528 166"/><path class="p w2 r" d="M500 176C501.7 176.7 506 179.7 510 180C514 180.3 521 180.3 524 178C527 175.7 527.3 168 528 166"/><path class="c w2" d="M500 176C501.7 176.7 506 179.7 510 180C514 180.3 521 180.3 524 178C527 175.7 527.3 168 528 166" stroke-dasharray="11.3 9" stroke-dashoffset="7.6"/>
<path class="o w5 r" d="M470 178Q478 172 486 182"/><path class="c w2 r" d="M470 178Q478 172 486 182"/><path class="p w2" d="M470 178Q478 172 486 182" stroke-dasharray="8.7 4.7" stroke-dashoffset="0.6"/>
<path class="o w10" d="M470 110Q483 109 492 120"/><path class="p w7" d="M470 110Q483 109 492 120"/><path class="c w7" d="M470 110Q483 109 492 120" stroke-dasharray="9.1 8.4" stroke-dashoffset="0"/>
<g class="k"><rect x="81.8" y="477.3" width="7.86" height="15.2" fill="#6674ff" stroke="#1a1a40" stroke-width="0.5"/>
<rect x="89.66" y="453.6" width="7.86" height="38.9" fill="#6674ff" stroke="#1a1a40" stroke-width="0.5"/>
<rect x="97.52" y="440.3" width="7.86" height="52.2" fill="#6674ff" stroke="#1a1a40" stroke-width="0.5"/>
<rect x="105.38" y="387.6" width="7.86" height="104.9" fill="#6674ff" stroke="#1a1a40" stroke-width="0.5"/>
<rect x="113.24" y="345.8" width="7.86" height="146.7" fill="#6674ff" stroke="#1a1a40" stroke-width="0.5"/>
<rect x="121.1" y="337.5" width="7.86" height="155" fill="#6674ff" stroke="#1a1a40" stroke-width="0.5"/>
<rect x="128.96" y="337.5" width="7.86" height="155" fill="#6674ff" stroke="#1a1a40" stroke-width="0.5"/>
<rect x="136.82" y="337.5" width="7.86" height="155" fill="#6674ff" stroke="#1a1a40" stroke-width="0.5"/>
<rect x="144.68" y="350.8" width="7.86" height="141.7" fill="#6674ff" stroke="#1a1a40" stroke-width="0.5"/>
<rect x="152.54" y="379.6" width="7.86" height="112.9" fill="#6674ff" stroke="#1a1a40" stroke-width="0.5"/>
<rect x="160.4" y="364.4" width="7.86" height="128.1" fill="#6674ff" stroke="#1a1a40" stroke-width="0.5"/>
<rect x="168.26" y="382.6" width="7.86" height="109.9" fill="#6674ff" stroke="#1a1a40" stroke-width="0.5"/>
<rect x="176.12" y="395.5" width="7.86" height="97" fill="#6674ff" stroke="#1a1a40" stroke-width="0.5"/>
<rect x="183.98" y="427.4" width="7.86" height="65.1" fill="#6674ff" stroke="#1a1a40" stroke-width="0.5"/>
<rect x="191.84" y="419.5" width="7.86" height="73" fill="#6674ff" stroke="#1a1a40" stroke-width="0.5"/>
<rect x="199.7" y="429.9" width="7.86" height="62.6" fill="#6674ff" stroke="#1a1a40" stroke-width="0.5"/>
<rect x="207.56" y="440.3" width="7.86" height="52.2" fill="#6674ff" stroke="#1a1a40" stroke-width="0.5"/>
<rect x="215.42" y="443.2" width="7.86" height="49.3" fill="#6674ff" stroke="#1a1a40" stroke-width="0.5"/>
<rect x="223.28" y="435.6" width="7.86" height="56.9" fill="#6674ff" stroke="#1a1a40" stroke-width="0.5"/>
<rect x="231.14" y="435.6" width="7.86" height="56.9" fill="#6674ff" stroke="#1a1a40" stroke-width="0.5"/>
<rect x="239" y="435.6" width="7.86" height="56.9" fill="#6674ff" stroke="#1a1a40" stroke-width="0.5"/>
<rect x="246.86" y="435.6" width="7.86" height="56.9" fill="#6674ff" stroke="#1a1a40" stroke-width="0.5"/>
<rect x="254.72" y="422.3" width="7.86" height="70.2" fill="#6674ff" stroke="#1a1a40" stroke-width="0.5"/>
<rect x="262.58" y="421.9" width="7.86" height="70.6" fill="#6674ff" stroke="#1a1a40" stroke-width="0.5"/>
<rect x="270.44" y="416.6" width="7.86" height="75.9" fill="#6674ff" stroke="#1a1a40" stroke-width="0.5"/>
<rect x="278.3" y="422.3" width="7.86" height="70.2" fill="#6674ff" stroke="#1a1a40" stroke-width="0.5"/>
<rect x="286.16" y="448.3" width="7.86" height="44.2" fill="#6674ff" stroke="#1a1a40" stroke-width="0.5"/>
<rect x="294.02" y="464.2" width="7.86" height="28.3" fill="#6674ff" stroke="#1a1a40" stroke-width="0.5"/>
<rect x="301.88" y="456.3" width="7.86" height="36.2" fill="#6674ff" stroke="#1a1a40" stroke-width="0.5"/>
<rect x="309.74" y="458.9" width="7.86" height="33.6" fill="#6674ff" stroke="#1a1a40" stroke-width="0.5"/>
<path d="M88.4 492.2C88.88 491.73 90.25 491.93 91.3 489.4C92.35 486.87 93.75 479.28 94.7 477C95.65 474.72 95.98 476.8 97 475.7C98.02 474.6 99.7 472.85 100.8 470.4C101.9 467.95 102.65 465.73 103.6 461C104.55 456.27 105.38 447.07 106.5 442C107.62 436.93 109.05 435.35 110.3 430.6C111.55 425.85 112.75 420.77 114 413.5C115.25 406.23 116.22 395.22 117.8 387C119.38 378.78 121.6 371.48 123.5 364.2C125.4 356.92 127.45 348.22 129.2 343.3C130.95 338.38 132.25 336.67 134 334.7C135.75 332.73 137.97 331.65 139.7 331.5C141.43 331.35 142.67 332.15 144.4 333.8C146.13 335.45 148.2 338.08 150.1 341.4C152 344.72 153.9 349.6 155.8 353.7C157.7 357.8 159.6 361.88 161.5 366C163.4 370.12 165.3 374.75 167.2 378.4C169.1 382.05 171.17 384.73 172.9 387.9C174.63 391.07 175.7 394.55 177.6 397.4C179.5 400.25 181.92 402.48 184.3 405C186.68 407.52 190 410.93 191.9 412.5C193.8 414.07 194.23 412.97 195.7 414.4C197.17 415.83 199.23 419.77 200.7 421.1C202.17 422.43 202.62 421.3 204.5 422.4C206.38 423.5 209.15 426.12 212 427.7C214.85 429.28 218.1 430.78 221.6 431.9C225.1 433.02 229.85 434.05 233 434.4C236.15 434.75 237.67 434.63 240.5 434C243.33 433.37 247.15 431.8 250 430.6C252.85 429.4 255.07 428.38 257.6 426.8C260.13 425.22 262.67 422.75 265.2 421.1C267.73 419.45 270.58 417.78 272.8 416.9C275.02 416.02 276.6 415.67 278.5 415.8C280.4 415.93 282.3 416.67 284.2 417.7C286.1 418.73 288.17 420.33 289.9 422C291.63 423.67 293.02 425 294.6 427.7C296.18 430.4 297.82 434.88 299.4 438.2C300.98 441.52 302.52 444.6 304.1 447.6C305.68 450.6 307.63 453.03 308.9 456.2C310.17 459.37 310.82 463.97 311.7 466.6C312.58 469.23 313.35 470.88 314.2 472C315.05 473.12 316.37 473.08 316.8 473.3" fill="none" stroke="#ff1010" stroke-width="2.2" stroke-linecap="round" stroke-linejoin="round"/>
<rect x="81.6" y="301" width="238.4" height="191.5" fill="none" stroke="#000" stroke-width="1.6"/>
<line x1="76.8" y1="492.5" x2="81.6" y2="492.5" stroke="#000" stroke-width="1" />
<line x1="78.9" y1="468.56" x2="81.6" y2="468.56" stroke="#000" stroke-width="1" />
<line x1="76.8" y1="444.62" x2="81.6" y2="444.62" stroke="#000" stroke-width="1" />
<line x1="78.9" y1="420.69" x2="81.6" y2="420.69" stroke="#000" stroke-width="1" />
<line x1="76.8" y1="396.75" x2="81.6" y2="396.75" stroke="#000" stroke-width="1" />
<line x1="78.9" y1="372.81" x2="81.6" y2="372.81" stroke="#000" stroke-width="1" />
<line x1="76.8" y1="348.88" x2="81.6" y2="348.88" stroke="#000" stroke-width="1" />
<line x1="78.9" y1="324.94" x2="81.6" y2="324.94" stroke="#000" stroke-width="1" />
<line x1="76.8" y1="301" x2="81.6" y2="301" stroke="#000" stroke-width="1" />
<line x1="81.6" y1="492.5" x2="81.6" y2="497.3" stroke="#000" stroke-width="1" />
<line x1="105.44" y1="492.5" x2="105.44" y2="495.2" stroke="#000" stroke-width="1" />
<line x1="129.28" y1="492.5" x2="129.28" y2="497.3" stroke="#000" stroke-width="1" />
<line x1="153.12" y1="492.5" x2="153.12" y2="495.2" stroke="#000" stroke-width="1" />
<line x1="176.96" y1="492.5" x2="176.96" y2="497.3" stroke="#000" stroke-width="1" />
<line x1="200.8" y1="492.5" x2="200.8" y2="495.2" stroke="#000" stroke-width="1" />
<line x1="224.64" y1="492.5" x2="224.64" y2="497.3" stroke="#000" stroke-width="1" />
<line x1="248.48" y1="492.5" x2="248.48" y2="495.2" stroke="#000" stroke-width="1" />
<line x1="272.32" y1="492.5" x2="272.32" y2="497.3" stroke="#000" stroke-width="1" />
<line x1="296.16" y1="492.5" x2="296.16" y2="495.2" stroke="#000" stroke-width="1" />
<line x1="320" y1="492.5" x2="320" y2="497.3" stroke="#000" stroke-width="1" />
<text x="47.5" y="496.8" font-size="12.3" font-weight="bold" textLength="25" lengthAdjust="spacingAndGlyphs">0.00</text>
<text x="47.5" y="448.93" font-size="12.3" font-weight="bold" textLength="25" lengthAdjust="spacingAndGlyphs">0.02</text>
<text x="50.5" y="401.05" font-size="12.3" font-weight="bold" textLength="24.7" lengthAdjust="spacingAndGlyphs">0.04</text>
<text x="47.5" y="353.18" font-size="12.3" font-weight="bold" textLength="25" lengthAdjust="spacingAndGlyphs">0.06</text>
<text x="47.5" y="305.3" font-size="12.3" font-weight="bold" textLength="25" lengthAdjust="spacingAndGlyphs">0.08</text>
<text x="73.2" y="507.8" font-size="12.3" font-weight="bold" textLength="18" lengthAdjust="spacingAndGlyphs">0.0</text>
<text x="120.88" y="507.8" font-size="12.3" font-weight="bold" textLength="18" lengthAdjust="spacingAndGlyphs">0.2</text>
<text x="168.56" y="507.8" font-size="12.3" font-weight="bold" textLength="18" lengthAdjust="spacingAndGlyphs">0.4</text>
<text x="216.24" y="507.8" font-size="12.3" font-weight="bold" textLength="18" lengthAdjust="spacingAndGlyphs">0.6</text>
<text x="263.92" y="507.8" font-size="12.3" font-weight="bold" textLength="18" lengthAdjust="spacingAndGlyphs">0.8</text>
<text x="311.6" y="507.8" font-size="12.3" font-weight="bold" textLength="18" lengthAdjust="spacingAndGlyphs">1.0</text>
<text x="137.5" y="528.5" font-size="16.6" font-weight="bold" textLength="123.5" lengthAdjust="spacingAndGlyphs">FRET efficiency</text>
<text transform="translate(38.7 440.25) rotate(-90)" font-size="16.6" font-weight="bold" textLength="87" lengthAdjust="spacingAndGlyphs">Probability</text>
<rect x="199.3" y="311.7" width="96.1" height="39.5" rx="4" fill="#fff" stroke="#222" stroke-width="0.8"/>
<rect x="206.9" y="318.3" width="21.7" height="10.3" fill="#6674ff" stroke="#222" stroke-width="0.6"/>
<line x1="206.9" y1="340.7" x2="228.5" y2="340.7" stroke="#ff1010" stroke-width="1.3" />
<text x="230.6" y="327.3" font-size="12.8" font-weight="bold" textLength="30.5" lengthAdjust="spacingAndGlyphs">AP-4</text>
<text x="230.6" y="345.1" font-size="12.8" font-weight="bold" textLength="27.5" lengthAdjust="spacingAndGlyphs">PDA</text>
<rect x="81.6" y="751.5" width="6.6" height="6.5" fill="#6674ff" stroke="#1a1a40" stroke-width="0.5"/>
<rect x="88.2" y="714.5" width="7.86" height="43.5" fill="#6674ff" stroke="#1a1a40" stroke-width="0.5"/>
<rect x="96.06" y="703.5" width="7.86" height="54.5" fill="#6674ff" stroke="#1a1a40" stroke-width="0.5"/>
<rect x="103.92" y="674.5" width="7.86" height="83.5" fill="#6674ff" stroke="#1a1a40" stroke-width="0.5"/>
<rect x="111.78" y="630.5" width="7.86" height="127.5" fill="#6674ff" stroke="#1a1a40" stroke-width="0.5"/>
<rect x="119.64" y="593.8" width="7.86" height="164.2" fill="#6674ff" stroke="#1a1a40" stroke-width="0.5"/>
<rect x="127.5" y="572" width="7.86" height="186" fill="#6674ff" stroke="#1a1a40" stroke-width="0.5"/>
<rect x="135.36" y="597.7" width="7.86" height="160.3" fill="#6674ff" stroke="#1a1a40" stroke-width="0.5"/>
<rect x="143.22" y="593.8" width="7.86" height="164.2" fill="#6674ff" stroke="#1a1a40" stroke-width="0.5"/>
<rect x="151.08" y="608.7" width="7.86" height="149.3" fill="#6674ff" stroke="#1a1a40" stroke-width="0.5"/>
<rect x="158.94" y="626.9" width="7.86" height="131.1" fill="#6674ff" stroke="#1a1a40" stroke-width="0.5"/>
<rect x="166.8" y="652.3" width="7.86" height="105.7" fill="#6674ff" stroke="#1a1a40" stroke-width="0.5"/>
<rect x="174.66" y="619.7" width="7.86" height="138.3" fill="#6674ff" stroke="#1a1a40" stroke-width="0.5"/>
<rect x="182.52" y="659.9" width="7.86" height="98.1" fill="#6674ff" stroke="#1a1a40" stroke-width="0.5"/>
<rect x="190.38" y="678.3" width="7.86" height="79.7" fill="#6674ff" stroke="#1a1a40" stroke-width="0.5"/>
<rect x="198.24" y="678.3" width="7.86" height="79.7" fill="#6674ff" stroke="#1a1a40" stroke-width="0.5"/>
<rect x="206.1" y="699.7" width="7.86" height="58.3" fill="#6674ff" stroke="#1a1a40" stroke-width="0.5"/>
<rect x="213.96" y="710.8" width="7.86" height="47.2" fill="#6674ff" stroke="#1a1a40" stroke-width="0.5"/>
<rect x="221.82" y="722.1" width="7.86" height="35.9" fill="#6674ff" stroke="#1a1a40" stroke-width="0.5"/>
<rect x="229.68" y="714.5" width="7.86" height="43.5" fill="#6674ff" stroke="#1a1a40" stroke-width="0.5"/>
<rect x="237.54" y="703.5" width="7.86" height="54.5" fill="#6674ff" stroke="#1a1a40" stroke-width="0.5"/>
<rect x="245.4" y="722.1" width="7.86" height="35.9" fill="#6674ff" stroke="#1a1a40" stroke-width="0.5"/>
<rect x="253.26" y="703.5" width="7.86" height="54.5" fill="#6674ff" stroke="#1a1a40" stroke-width="0.5"/>
<rect x="261.12" y="696.5" width="7.86" height="61.5" fill="#6674ff" stroke="#1a1a40" stroke-width="0.5"/>
<rect x="268.98" y="740.5" width="7.86" height="17.5" fill="#6674ff" stroke="#1a1a40" stroke-width="0.5"/>
<rect x="276.84" y="703.5" width="7.86" height="54.5" fill="#6674ff" stroke="#1a1a40" stroke-width="0.5"/>
<rect x="284.7" y="699.7" width="7.86" height="58.3" fill="#6674ff" stroke="#1a1a40" stroke-width="0.5"/>
<rect x="292.56" y="714.5" width="7.86" height="43.5" fill="#6674ff" stroke="#1a1a40" stroke-width="0.5"/>
<rect x="300.42" y="743.8" width="7.86" height="14.2" fill="#6674ff" stroke="#1a1a40" stroke-width="0.5"/>
<rect x="308.28" y="736.4" width="7.86" height="21.6" fill="#6674ff" stroke="#1a1a40" stroke-width="0.5"/>
<path d="M83.7 757.2C84.48 757.05 87.3 757.4 88.4 756.3C89.5 755.2 89.57 753.28 90.3 750.6C91.03 747.92 91.85 742.42 92.8 740.2C93.75 737.98 94.98 738.73 96 737.3C97.02 735.87 97.95 734.77 98.9 731.6C99.85 728.43 100.75 723.83 101.7 718.3C102.65 712.77 103.65 703.13 104.6 698.4C105.55 693.67 106.3 694.48 107.4 689.9C108.5 685.32 109.78 680.08 111.2 670.9C112.62 661.72 114.32 644.33 115.9 634.8C117.48 625.27 118.8 621.83 120.7 613.7C122.6 605.57 125.37 592.35 127.3 586C129.23 579.65 130.5 578.03 132.3 575.6C134.1 573.17 136.15 571.52 138.1 571.4C140.05 571.28 142.05 572.57 144 574.9C145.95 577.23 148.05 581.63 149.8 585.4C151.55 589.17 152.87 593.05 154.5 597.5C156.13 601.95 157.97 607.52 159.6 612.1C161.23 616.68 162.5 620.35 164.3 625C166.1 629.65 168.5 635.67 170.4 640C172.3 644.33 173.7 647.58 175.7 651C177.7 654.42 180.02 657.25 182.4 660.5C184.78 663.75 188.12 668.45 190 670.5C191.88 672.55 192.12 671 193.7 672.8C195.28 674.6 198.03 679.72 199.5 681.3C200.97 682.88 201.05 681.22 202.5 682.3C203.95 683.38 205.97 685.75 208.2 687.8C210.43 689.85 213.35 692.2 215.9 694.6C218.45 697 220.65 699.82 223.5 702.2C226.35 704.58 229.85 707.1 233 708.9C236.15 710.7 239.57 712.15 242.4 713C245.23 713.85 247.78 714 250 714C252.22 714 253.17 714.02 255.7 713C258.23 711.98 262.35 709.7 265.2 707.9C268.05 706.1 270.27 703.93 272.8 702.2C275.33 700.47 278.03 698.6 280.4 697.5C282.77 696.4 284.95 695.6 287 695.6C289.05 695.6 290.8 696.23 292.7 697.5C294.6 698.77 296.33 700.68 298.4 703.2C300.47 705.72 303.35 709.45 305.1 712.6C306.85 715.75 307.8 719.25 308.9 722.1C310 724.95 310.7 727.88 311.7 729.7C312.7 731.52 314.37 732.45 314.9 733" fill="none" stroke="#ff1010" stroke-width="2.2" stroke-linecap="round" stroke-linejoin="round"/>
<rect x="81.6" y="567.4" width="237.9" height="190.6" fill="none" stroke="#000" stroke-width="1.6"/>
<line x1="76.8" y1="758" x2="81.6" y2="758" stroke="#000" stroke-width="1" />
<line x1="78.9" y1="734.17" x2="81.6" y2="734.17" stroke="#000" stroke-width="1" />
<line x1="76.8" y1="710.35" x2="81.6" y2="710.35" stroke="#000" stroke-width="1" />
<line x1="78.9" y1="686.52" x2="81.6" y2="686.52" stroke="#000" stroke-width="1" />
<line x1="76.8" y1="662.7" x2="81.6" y2="662.7" stroke="#000" stroke-width="1" />
<line x1="78.9" y1="638.88" x2="81.6" y2="638.88" stroke="#000" stroke-width="1" />
<line x1="76.8" y1="615.05" x2="81.6" y2="615.05" stroke="#000" stroke-width="1" />
<line x1="78.9" y1="591.22" x2="81.6" y2="591.22" stroke="#000" stroke-width="1" />
<line x1="76.8" y1="567.4" x2="81.6" y2="567.4" stroke="#000" stroke-width="1" />
<line x1="81.6" y1="758" x2="81.6" y2="762.8" stroke="#000" stroke-width="1" />
<line x1="105.39" y1="758" x2="105.39" y2="760.7" stroke="#000" stroke-width="1" />
<line x1="129.18" y1="758" x2="129.18" y2="762.8" stroke="#000" stroke-width="1" />
<line x1="152.97" y1="758" x2="152.97" y2="760.7" stroke="#000" stroke-width="1" />
<line x1="176.76" y1="758" x2="176.76" y2="762.8" stroke="#000" stroke-width="1" />
<line x1="200.55" y1="758" x2="200.55" y2="760.7" stroke="#000" stroke-width="1" />
<line x1="224.34" y1="758" x2="224.34" y2="762.8" stroke="#000" stroke-width="1" />
<line x1="248.13" y1="758" x2="248.13" y2="760.7" stroke="#000" stroke-width="1" />
<line x1="271.92" y1="758" x2="271.92" y2="762.8" stroke="#000" stroke-width="1" />
<line x1="295.71" y1="758" x2="295.71" y2="760.7" stroke="#000" stroke-width="1" />
<line x1="319.5" y1="758" x2="319.5" y2="762.8" stroke="#000" stroke-width="1" />
<text x="47.5" y="762.3" font-size="12.3" font-weight="bold" textLength="25" lengthAdjust="spacingAndGlyphs">0.00</text>
<text x="47.5" y="714.65" font-size="12.3" font-weight="bold" textLength="25" lengthAdjust="spacingAndGlyphs">0.02</text>
<text x="50.5" y="667" font-size="12.3" font-weight="bold" textLength="24.7" lengthAdjust="spacingAndGlyphs">0.04</text>
<text x="47.5" y="619.35" font-size="12.3" font-weight="bold" textLength="25" lengthAdjust="spacingAndGlyphs">0.06</text>
<text x="47.5" y="571.7" font-size="12.3" font-weight="bold" textLength="25" lengthAdjust="spacingAndGlyphs">0.08</text>
<text x="73.2" y="773.3" font-size="12.3" font-weight="bold" textLength="18" lengthAdjust="spacingAndGlyphs">0.0</text>
<text x="120.78" y="773.3" font-size="12.3" font-weight="bold" textLength="18" lengthAdjust="spacingAndGlyphs">0.2</text>
<text x="168.36" y="773.3" font-size="12.3" font-weight="bold" textLength="18" lengthAdjust="spacingAndGlyphs">0.4</text>
<text x="215.94" y="773.3" font-size="12.3" font-weight="bold" textLength="18" lengthAdjust="spacingAndGlyphs">0.6</text>
<text x="263.52" y="773.3" font-size="12.3" font-weight="bold" textLength="18" lengthAdjust="spacingAndGlyphs">0.8</text>
<text x="311.1" y="773.3" font-size="12.3" font-weight="bold" textLength="18" lengthAdjust="spacingAndGlyphs">1.0</text>
<text x="137.5" y="793.5" font-size="16.6" font-weight="bold" textLength="123.5" lengthAdjust="spacingAndGlyphs">FRET efficiency</text>
<text transform="translate(38.7 706.2) rotate(-90)" font-size="16.6" font-weight="bold" textLength="87" lengthAdjust="spacingAndGlyphs">Probability</text>
<rect x="193.3" y="577.8" width="108.4" height="39.2" rx="4" fill="#fff" stroke="#222" stroke-width="0.8"/>
<rect x="200.9" y="584.4" width="21.7" height="10.3" fill="#6674ff" stroke="#222" stroke-width="0.6"/>
<line x1="200.9" y1="606.8" x2="222.5" y2="606.8" stroke="#ff1010" stroke-width="1.3" />
<text x="224.6" y="593.4" font-size="12.8" font-weight="bold" textLength="72.2" lengthAdjust="spacingAndGlyphs">AP-4+ARF1</text>
<text x="224.6" y="611.2" font-size="12.8" font-weight="bold" textLength="27.5" lengthAdjust="spacingAndGlyphs">PDA</text>
<line x1="437.3" y1="304" x2="674" y2="304" stroke="#111" stroke-width="1" />
<line x1="674" y1="304" x2="674" y2="493.8" stroke="#222" stroke-width="1" />
<path d="M437.3 493.8L438.48 493.8L439.67 493.8L440.85 493.8L442.03 493.8L443.22 493.8L444.4 493.8L445.58 493.8L446.77 493.8L447.95 493.8L449.13 493.8L450.32 493.8L451.5 493.8L452.69 493.8L453.87 493.8L455.05 493.8L456.24 493.8L457.42 493.8L458.6 493.8L459.79 493.8L460.97 493.8L462.15 493.8L463.34 493.8L464.52 493.8L465.7 493.8L466.89 493.8L468.07 493.8L469.25 493.8L470.44 493.8L471.62 493.8L472.8 493.8L473.99 493.8L475.17 493.8L476.36 493.8L477.54 493.8L478.72 493.8L479.91 493.8L481.09 493.8L482.27 493.8L483.46 493.8L484.64 493.8L485.82 493.79L487.01 493.78L488.19 493.77L489.37 493.75L490.56 493.71L491.74 493.65L492.92 493.55L494.11 493.39L495.29 493.14L496.47 492.77L497.66 492.2L498.84 491.39L500.03 490.22L501.21 488.6L502.39 486.38L503.58 483.43L504.76 479.59L505.94 474.71L507.13 468.64L508.31 461.3L509.49 452.63L510.68 442.67L511.86 431.54L513.04 419.47L514.23 406.78L515.41 393.91L516.59 381.38L517.78 369.74L518.96 359.57L520.14 351.4L521.33 345.68L522.51 342.73L523.7 342.73L524.88 345.68L526.06 351.4L527.25 359.57L528.43 369.74L529.61 381.38L530.8 393.91L531.98 406.78L533.16 419.47L534.35 431.54L535.53 442.67L536.71 452.63L537.9 461.3L539.08 468.64L540.26 474.71L541.45 479.59L542.63 483.43L543.81 486.38L545 488.6L546.18 490.22L547.37 491.39L548.55 492.2L549.73 492.77L550.92 493.14L552.1 493.39L553.28 493.55L554.47 493.65L555.65 493.71L556.83 493.75L558.02 493.77L559.2 493.78L560.38 493.79L561.57 493.8L562.75 493.8L563.93 493.8L565.12 493.8L566.3 493.8L567.48 493.8L568.67 493.8L569.85 493.8L571.04 493.8L572.22 493.8L573.4 493.8L574.59 493.8L575.77 493.8L576.95 493.8L578.14 493.8L579.32 493.8L580.5 493.8L581.69 493.8L582.87 493.8L584.05 493.8L585.24 493.8L586.42 493.8L587.6 493.8L588.79 493.8L589.97 493.8L591.15 493.8L592.34 493.8L593.52 493.8L594.71 493.8L595.89 493.8L597.07 493.8L598.26 493.8L599.44 493.8L600.62 493.8L601.81 493.8L602.99 493.8L604.17 493.8L605.36 493.8L606.54 493.8L607.72 493.8L608.91 493.8L610.09 493.8L611.27 493.8L612.46 493.8L613.64 493.8L614.83 493.8L616.01 493.8L617.19 493.8L618.38 493.8L619.56 493.8L620.74 493.8L621.93 493.8L623.11 493.8L624.29 493.8L625.48 493.8L626.66 493.8L627.84 493.8L629.03 493.8L630.21 493.8L631.39 493.8L632.58 493.8L633.76 493.8L634.94 493.8L636.13 493.8L637.31 493.8L638.5 493.8L639.68 493.8L640.86 493.8L642.05 493.8L643.23 493.8L644.41 493.8L645.6 493.8L646.78 493.8L647.96 493.8L649.15 493.8L650.33 493.8L651.51 493.8L652.7 493.8L653.88 493.8L655.06 493.8L656.25 493.8L657.43 493.8L658.61 493.8L659.8 493.8L660.98 493.8L662.17 493.8L663.35 493.8L664.53 493.8L665.72 493.8L666.9 493.8L668.08 493.8L669.27 493.8L670.45 493.8L671.63 493.8L672.82 493.8L674 493.8" fill="none" stroke="#000000" stroke-width="2.1" stroke-linejoin="round"/>
<path d="M437.3 493.8L438.48 493.8L439.67 493.8L440.85 493.8L442.03 493.8L443.22 493.8L444.4 493.8L445.58 493.8L446.77 493.8L447.95 493.8L449.13 493.8L450.32 493.8L451.5 493.8L452.69 493.8L453.87 493.8L455.05 493.8L456.24 493.8L457.42 493.8L458.6 493.8L459.79 493.8L460.97 493.8L462.15 493.8L463.34 493.8L464.52 493.8L465.7 493.8L466.89 493.8L468.07 493.8L469.25 493.8L470.44 493.8L471.62 493.8L472.8 493.8L473.99 493.8L475.17 493.8L476.36 493.8L477.54 493.8L478.72 493.8L479.91 493.8L481.09 493.8L482.27 493.8L483.46 493.8L484.64 493.8L485.82 493.8L487.01 493.8L488.19 493.8L489.37 493.8L490.56 493.8L491.74 493.8L492.92 493.8L494.11 493.8L495.29 493.8L496.47 493.8L497.66 493.8L498.84 493.8L500.03 493.8L501.21 493.8L502.39 493.8L503.58 493.8L504.76 493.8L505.94 493.8L507.13 493.8L508.31 493.8L509.49 493.8L510.68 493.8L511.86 493.8L513.04 493.8L514.23 493.8L515.41 493.8L516.59 493.8L517.78 493.79L518.96 493.79L520.14 493.78L521.33 493.77L522.51 493.76L523.7 493.74L524.88 493.7L526.06 493.65L527.25 493.58L528.43 493.47L529.61 493.31L530.8 493.09L531.98 492.79L533.16 492.37L534.35 491.81L535.53 491.07L536.71 490.09L537.9 488.82L539.08 487.2L540.26 485.17L541.45 482.66L542.63 479.6L543.81 475.94L545 471.61L546.18 466.58L547.37 460.83L548.55 454.38L549.73 447.26L550.92 439.55L552.1 431.37L553.28 422.87L554.47 414.23L555.65 405.67L556.83 397.44L558.02 389.76L559.2 382.9L560.38 377.09L561.57 372.54L562.75 369.4L563.93 367.8L565.12 367.8L566.3 369.4L567.48 372.54L568.67 377.09L569.85 382.9L571.04 389.76L572.22 397.44L573.4 405.67L574.59 414.23L575.77 422.87L576.95 431.37L578.14 439.55L579.32 447.26L580.5 454.38L581.69 460.83L582.87 466.58L584.05 471.61L585.24 475.94L586.42 479.6L587.6 482.66L588.79 485.17L589.97 487.2L591.15 488.82L592.34 490.09L593.52 491.07L594.71 491.81L595.89 492.37L597.07 492.79L598.26 493.09L599.44 493.31L600.62 493.47L601.81 493.58L602.99 493.65L604.17 493.7L605.36 493.74L606.54 493.76L607.72 493.77L608.91 493.78L610.09 493.79L611.27 493.79L612.46 493.8L613.64 493.8L614.83 493.8L616.01 493.8L617.19 493.8L618.38 493.8L619.56 493.8L620.74 493.8L621.93 493.8L623.11 493.8L624.29 493.8L625.48 493.8L626.66 493.8L627.84 493.8L629.03 493.8L630.21 493.8L631.39 493.8L632.58 493.8L633.76 493.8L634.94 493.8L636.13 493.8L637.31 493.8L638.5 493.8L639.68 493.8L640.86 493.8L642.05 493.8L643.23 493.8L644.41 493.8L645.6 493.8L646.78 493.8L647.96 493.8L649.15 493.8L650.33 493.8L651.51 493.8L652.7 493.8L653.88 493.8L655.06 493.8L656.25 493.8L657.43 493.8L658.61 493.8L659.8 493.8L660.98 493.8L662.17 493.8L663.35 493.8L664.53 493.8L665.72 493.8L666.9 493.8L668.08 493.8L669.27 493.8L670.45 493.8L671.63 493.8L672.82 493.8L674 493.8" fill="none" stroke="#e8195f" stroke-width="2.1" stroke-linejoin="round"/>
<path d="M437.3 493.8L438.48 493.8L439.67 493.8L440.85 493.8L442.03 493.8L443.22 493.8L444.4 493.8L445.58 493.8L446.77 493.8L447.95 493.8L449.13 493.8L450.32 493.8L451.5 493.8L452.69 493.8L453.87 493.8L455.05 493.8L456.24 493.8L457.42 493.8L458.6 493.8L459.79 493.8L460.97 493.8L462.15 493.8L463.34 493.8L464.52 493.8L465.7 493.8L466.89 493.8L468.07 493.8L469.25 493.8L470.44 493.8L471.62 493.8L472.8 493.8L473.99 493.8L475.17 493.8L476.36 493.8L477.54 493.8L478.72 493.8L479.91 493.8L481.09 493.8L482.27 493.8L483.46 493.8L484.64 493.8L485.82 493.8L487.01 493.8L488.19 493.8L489.37 493.8L490.56 493.8L491.74 493.8L492.92 493.8L494.11 493.8L495.29 493.8L496.47 493.8L497.66 493.8L498.84 493.8L500.03 493.8L501.21 493.8L502.39 493.8L503.58 493.8L504.76 493.8L505.94 493.8L507.13 493.8L508.31 493.8L509.49 493.8L510.68 493.8L511.86 493.8L513.04 493.8L514.23 493.8L515.41 493.8L516.59 493.8L517.78 493.8L518.96 493.8L520.14 493.8L521.33 493.8L522.51 493.8L523.7 493.8L524.88 493.8L526.06 493.8L527.25 493.8L528.43 493.8L529.61 493.8L530.8 493.8L531.98 493.8L533.16 493.8L534.35 493.8L535.53 493.8L536.71 493.8L537.9 493.8L539.08 493.8L540.26 493.8L541.45 493.8L542.63 493.8L543.81 493.8L545 493.79L546.18 493.79L547.37 493.79L548.55 493.78L549.73 493.78L550.92 493.77L552.1 493.76L553.28 493.75L554.47 493.73L555.65 493.71L556.83 493.68L558.02 493.64L559.2 493.59L560.38 493.53L561.57 493.46L562.75 493.36L563.93 493.25L565.12 493.1L566.3 492.92L567.48 492.7L568.67 492.43L569.85 492.1L571.04 491.71L572.22 491.24L573.4 490.67L574.59 490L575.77 489.2L576.95 488.27L578.14 487.18L579.32 485.92L580.5 484.46L581.69 482.78L582.87 480.87L584.05 478.7L585.24 476.26L586.42 473.51L587.6 470.46L588.79 467.07L589.97 463.34L591.15 459.27L592.34 454.84L593.52 450.06L594.71 444.94L595.89 439.48L597.07 433.71L598.26 427.65L599.44 421.34L600.62 414.82L601.81 408.13L602.99 401.34L604.17 394.5L605.36 387.67L606.54 380.93L607.72 374.35L608.91 368.01L610.09 361.99L611.27 356.36L612.46 351.18L613.64 346.55L614.83 342.5L616.01 339.11L617.19 336.42L618.38 334.47L619.56 333.29L620.74 332.9L621.93 333.29L623.11 334.47L624.29 336.42L625.48 339.11L626.66 342.5L627.84 346.55L629.03 351.18L630.21 356.36L631.39 361.99L632.58 368.01L633.76 374.35L634.94 380.93L636.13 387.67L637.31 394.5L638.5 401.34L639.68 408.13L640.86 414.82L642.05 421.34L643.23 427.65L644.41 433.71L645.6 439.48L646.78 444.94L647.96 450.06L649.15 454.84L650.33 459.27L651.51 463.34L652.7 467.07L653.88 470.46L655.06 473.51L656.25 476.26L657.43 478.7L658.61 480.87L659.8 482.78L660.98 484.46L662.17 485.92L663.35 487.18L664.53 488.27L665.72 489.2L666.9 490L668.08 490.67L669.27 491.24L670.45 491.71L671.63 492.1L672.82 492.43L674 492.7" fill="none" stroke="#3c78f0" stroke-width="2.1" stroke-linejoin="round"/>
<line x1="437.3" y1="303.6" x2="437.3" y2="494.6" stroke="#000" stroke-width="1.6" />
<line x1="436.5" y1="493.8" x2="440.3" y2="493.8" stroke="#000" stroke-width="1.6" />
<line x1="432.4" y1="493.8" x2="437.3" y2="493.8" stroke="#000" stroke-width="1" />
<line x1="434.5" y1="477.98" x2="437.3" y2="477.98" stroke="#000" stroke-width="1" />
<line x1="432.4" y1="462.17" x2="437.3" y2="462.17" stroke="#000" stroke-width="1" />
<line x1="434.5" y1="446.35" x2="437.3" y2="446.35" stroke="#000" stroke-width="1" />
<line x1="432.4" y1="430.53" x2="437.3" y2="430.53" stroke="#000" stroke-width="1" />
<line x1="434.5" y1="414.72" x2="437.3" y2="414.72" stroke="#000" stroke-width="1" />
<line x1="432.4" y1="398.9" x2="437.3" y2="398.9" stroke="#000" stroke-width="1" />
<line x1="434.5" y1="383.08" x2="437.3" y2="383.08" stroke="#000" stroke-width="1" />
<line x1="432.4" y1="367.27" x2="437.3" y2="367.27" stroke="#000" stroke-width="1" />
<line x1="434.5" y1="351.45" x2="437.3" y2="351.45" stroke="#000" stroke-width="1" />
<line x1="432.4" y1="335.63" x2="437.3" y2="335.63" stroke="#000" stroke-width="1" />
<line x1="434.5" y1="319.82" x2="437.3" y2="319.82" stroke="#000" stroke-width="1" />
<line x1="432.4" y1="304" x2="437.3" y2="304" stroke="#000" stroke-width="1" />
<line x1="437.3" y1="493.8" x2="437.3" y2="498.6" stroke="#000" stroke-width="1" />
<line x1="466.89" y1="493.8" x2="466.89" y2="496.6" stroke="#000" stroke-width="1" />
<line x1="496.48" y1="493.8" x2="496.48" y2="498.6" stroke="#000" stroke-width="1" />
<line x1="526.06" y1="493.8" x2="526.06" y2="496.6" stroke="#000" stroke-width="1" />
<line x1="555.65" y1="493.8" x2="555.65" y2="498.6" stroke="#000" stroke-width="1" />
<line x1="585.24" y1="493.8" x2="585.24" y2="496.6" stroke="#000" stroke-width="1" />
<line x1="614.83" y1="493.8" x2="614.83" y2="498.6" stroke="#000" stroke-width="1" />
<line x1="644.41" y1="493.8" x2="644.41" y2="496.6" stroke="#000" stroke-width="1" />
<line x1="674" y1="493.8" x2="674" y2="498.6" stroke="#000" stroke-width="1" />
<text x="399" y="497.3" font-size="11.3" font-weight="bold" textLength="33" lengthAdjust="spacingAndGlyphs">0.000</text>
<text x="399" y="465.67" font-size="11.3" font-weight="bold" textLength="33" lengthAdjust="spacingAndGlyphs">0.005</text>
<text x="399" y="434.03" font-size="11.3" font-weight="bold" textLength="33" lengthAdjust="spacingAndGlyphs">0.010</text>
<text x="399" y="402.4" font-size="11.3" font-weight="bold" textLength="33" lengthAdjust="spacingAndGlyphs">0.015</text>
<text x="399" y="370.77" font-size="11.3" font-weight="bold" textLength="33" lengthAdjust="spacingAndGlyphs">0.020</text>
<text x="399" y="339.13" font-size="11.3" font-weight="bold" textLength="33" lengthAdjust="spacingAndGlyphs">0.025</text>
<text x="399" y="307.5" font-size="11.3" font-weight="bold" textLength="33" lengthAdjust="spacingAndGlyphs">0.030</text>
<text x="431.25" y="510.5" font-size="11.3" font-weight="bold" textLength="13.3" lengthAdjust="spacingAndGlyphs">20</text>
<text x="490.43" y="510.5" font-size="11.3" font-weight="bold" textLength="13.3" lengthAdjust="spacingAndGlyphs">40</text>
<text x="549.6" y="510.5" font-size="11.3" font-weight="bold" textLength="13.3" lengthAdjust="spacingAndGlyphs">60</text>
<text x="608.78" y="510.5" font-size="11.3" font-weight="bold" textLength="13.3" lengthAdjust="spacingAndGlyphs">80</text>
<text x="662.5" y="510.5" font-size="11.3" font-weight="bold" textLength="20" lengthAdjust="spacingAndGlyphs">100</text>
<text x="519.8" y="528.3" font-size="14.3" font-weight="bold" textLength="93" lengthAdjust="spacingAndGlyphs">Distance(Å)</text>
<text transform="translate(389.8 441.4) rotate(-90)" font-size="15.5" font-weight="bold" textLength="85" lengthAdjust="spacingAndGlyphs">Frequency</text>
<rect x="459.5" y="305.2" width="143.8" height="35.7" rx="4" fill="#fff" stroke="#222" stroke-width="0.8"/>
<line x1="465.3" y1="312.4" x2="481" y2="312.4" stroke="#000000" stroke-width="2" />
<text x="484.5" y="315.7" font-size="12" font-weight="bold" textLength="113.4" lengthAdjust="spacingAndGlyphs">x<tspan font-size="6" dy="0.5">0</tspan><tspan dy="-0.5">=49, σ=4,A=24%</tspan></text>
<line x1="465.3" y1="324.1" x2="481" y2="324.1" stroke="#e8195f" stroke-width="2" />
<text x="484.5" y="327.4" font-size="12" font-weight="bold" textLength="113.4" lengthAdjust="spacingAndGlyphs">x<tspan font-size="6" dy="0.5">0</tspan><tspan dy="-0.5">=63, σ=5,A=25%</tspan></text>
<line x1="465.3" y1="335.8" x2="481" y2="335.8" stroke="#3c78f0" stroke-width="2" />
<text x="484.5" y="339.1" font-size="12" font-weight="bold" textLength="113.4" lengthAdjust="spacingAndGlyphs">x<tspan font-size="6" dy="0.5">0</tspan><tspan dy="-0.5">=82, σ=8,A=51%</tspan></text>
<line x1="437.3" y1="569" x2="674" y2="569" stroke="#111" stroke-width="1" />
<line x1="674" y1="569" x2="674" y2="759.5" stroke="#222" stroke-width="1" />
<path d="M437.3 759.5L438.48 759.5L439.67 759.5L440.85 759.5L442.03 759.5L443.22 759.5L444.4 759.5L445.58 759.5L446.77 759.5L447.95 759.5L449.13 759.5L450.32 759.5L451.5 759.5L452.69 759.5L453.87 759.5L455.05 759.5L456.24 759.5L457.42 759.5L458.6 759.5L459.79 759.5L460.97 759.5L462.15 759.5L463.34 759.5L464.52 759.5L465.7 759.5L466.89 759.5L468.07 759.5L469.25 759.5L470.44 759.5L471.62 759.5L472.8 759.5L473.99 759.5L475.17 759.5L476.36 759.5L477.54 759.5L478.72 759.5L479.91 759.49L481.09 759.49L482.27 759.48L483.46 759.46L484.64 759.44L485.82 759.39L487.01 759.32L488.19 759.21L489.37 759.03L490.56 758.76L491.74 758.37L492.92 757.78L494.11 756.96L495.29 755.8L496.47 754.23L497.66 752.13L498.84 749.4L500.03 745.93L501.21 741.61L502.39 736.39L503.58 730.23L504.76 723.15L505.94 715.24L507.13 706.65L508.31 697.63L509.49 688.48L510.68 679.58L511.86 671.3L513.04 664.07L514.23 658.26L515.41 654.2L516.59 652.1L517.78 652.1L518.96 654.2L520.14 658.26L521.33 664.07L522.51 671.3L523.7 679.58L524.88 688.48L526.06 697.63L527.25 706.65L528.43 715.24L529.61 723.15L530.8 730.23L531.98 736.39L533.16 741.61L534.35 745.93L535.53 749.4L536.71 752.13L537.9 754.23L539.08 755.8L540.26 756.96L541.45 757.78L542.63 758.37L543.81 758.76L545 759.03L546.18 759.21L547.37 759.32L548.55 759.39L549.73 759.44L550.92 759.46L552.1 759.48L553.28 759.49L554.47 759.49L555.65 759.5L556.83 759.5L558.02 759.5L559.2 759.5L560.38 759.5L561.57 759.5L562.75 759.5L563.93 759.5L565.12 759.5L566.3 759.5L567.48 759.5L568.67 759.5L569.85 759.5L571.04 759.5L572.22 759.5L573.4 759.5L574.59 759.5L575.77 759.5L576.95 759.5L578.14 759.5L579.32 759.5L580.5 759.5L581.69 759.5L582.87 759.5L584.05 759.5L585.24 759.5L586.42 759.5L587.6 759.5L588.79 759.5L589.97 759.5L591.15 759.5L592.34 759.5L593.52 759.5L594.71 759.5L595.89 759.5L597.07 759.5L598.26 759.5L599.44 759.5L600.62 759.5L601.81 759.5L602.99 759.5L604.17 759.5L605.36 759.5L606.54 759.5L607.72 759.5L608.91 759.5L610.09 759.5L611.27 759.5L612.46 759.5L613.64 759.5L614.83 759.5L616.01 759.5L617.19 759.5L618.38 759.5L619.56 759.5L620.74 759.5L621.93 759.5L623.11 759.5L624.29 759.5L625.48 759.5L626.66 759.5L627.84 759.5L629.03 759.5L630.21 759.5L631.39 759.5L632.58 759.5L633.76 759.5L634.94 759.5L636.13 759.5L637.31 759.5L638.5 759.5L639.68 759.5L640.86 759.5L642.05 759.5L643.23 759.5L644.41 759.5L645.6 759.5L646.78 759.5L647.96 759.5L649.15 759.5L650.33 759.5L651.51 759.5L652.7 759.5L653.88 759.5L655.06 759.5L656.25 759.5L657.43 759.5L658.61 759.5L659.8 759.5L660.98 759.5L662.17 759.5L663.35 759.5L664.53 759.5L665.72 759.5L666.9 759.5L668.08 759.5L669.27 759.5L670.45 759.5L671.63 759.5L672.82 759.5L674 759.5" fill="none" stroke="#000000" stroke-width="2.1" stroke-linejoin="round"/>
<path d="M437.3 759.5L438.48 759.5L439.67 759.5L440.85 759.5L442.03 759.5L443.22 759.5L444.4 759.5L445.58 759.5L446.77 759.5L447.95 759.5L449.13 759.5L450.32 759.5L451.5 759.5L452.69 759.5L453.87 759.5L455.05 759.5L456.24 759.5L457.42 759.5L458.6 759.5L459.79 759.5L460.97 759.5L462.15 759.5L463.34 759.5L464.52 759.5L465.7 759.5L466.89 759.5L468.07 759.5L469.25 759.5L470.44 759.5L471.62 759.5L472.8 759.5L473.99 759.5L475.17 759.5L476.36 759.5L477.54 759.5L478.72 759.5L479.91 759.5L481.09 759.5L482.27 759.5L483.46 759.5L484.64 759.5L485.82 759.5L487.01 759.5L488.19 759.5L489.37 759.5L490.56 759.5L491.74 759.5L492.92 759.5L494.11 759.5L495.29 759.5L496.47 759.5L497.66 759.5L498.84 759.5L500.03 759.5L501.21 759.5L502.39 759.5L503.58 759.5L504.76 759.5L505.94 759.5L507.13 759.5L508.31 759.5L509.49 759.5L510.68 759.5L511.86 759.5L513.04 759.5L514.23 759.5L515.41 759.5L516.59 759.5L517.78 759.49L518.96 759.49L520.14 759.48L521.33 759.47L522.51 759.46L523.7 759.43L524.88 759.4L526.06 759.34L527.25 759.27L528.43 759.15L529.61 758.99L530.8 758.76L531.98 758.45L533.16 758.01L534.35 757.43L535.53 756.65L536.71 755.62L537.9 754.3L539.08 752.61L540.26 750.49L541.45 747.87L542.63 744.68L543.81 740.85L545 736.33L546.18 731.08L547.37 725.08L548.55 718.35L549.73 710.92L550.92 702.87L552.1 694.33L553.28 685.46L554.47 676.44L555.65 667.51L556.83 658.91L558.02 650.9L559.2 643.74L560.38 637.68L561.57 632.92L562.75 629.65L563.93 627.98L565.12 627.98L566.3 629.65L567.48 632.92L568.67 637.68L569.85 643.74L571.04 650.9L572.22 658.91L573.4 667.51L574.59 676.44L575.77 685.46L576.95 694.33L578.14 702.87L579.32 710.92L580.5 718.35L581.69 725.08L582.87 731.08L584.05 736.33L585.24 740.85L586.42 744.68L587.6 747.87L588.79 750.49L589.97 752.61L591.15 754.3L592.34 755.62L593.52 756.65L594.71 757.43L595.89 758.01L597.07 758.45L598.26 758.76L599.44 758.99L600.62 759.15L601.81 759.27L602.99 759.34L604.17 759.4L605.36 759.43L606.54 759.46L607.72 759.47L608.91 759.48L610.09 759.49L611.27 759.49L612.46 759.5L613.64 759.5L614.83 759.5L616.01 759.5L617.19 759.5L618.38 759.5L619.56 759.5L620.74 759.5L621.93 759.5L623.11 759.5L624.29 759.5L625.48 759.5L626.66 759.5L627.84 759.5L629.03 759.5L630.21 759.5L631.39 759.5L632.58 759.5L633.76 759.5L634.94 759.5L636.13 759.5L637.31 759.5L638.5 759.5L639.68 759.5L640.86 759.5L642.05 759.5L643.23 759.5L644.41 759.5L645.6 759.5L646.78 759.5L647.96 759.5L649.15 759.5L650.33 759.5L651.51 759.5L652.7 759.5L653.88 759.5L655.06 759.5L656.25 759.5L657.43 759.5L658.61 759.5L659.8 759.5L660.98 759.5L662.17 759.5L663.35 759.5L664.53 759.5L665.72 759.5L666.9 759.5L668.08 759.5L669.27 759.5L670.45 759.5L671.63 759.5L672.82 759.5L674 759.5" fill="none" stroke="#e8195f" stroke-width="2.1" stroke-linejoin="round"/>
<path d="M437.3 759.5L438.48 759.5L439.67 759.5L440.85 759.5L442.03 759.5L443.22 759.5L444.4 759.5L445.58 759.5L446.77 759.5L447.95 759.5L449.13 759.5L450.32 759.5L451.5 759.5L452.69 759.5L453.87 759.5L455.05 759.5L456.24 759.5L457.42 759.5L458.6 759.5L459.79 759.5L460.97 759.5L462.15 759.5L463.34 759.5L464.52 759.5L465.7 759.5L466.89 759.5L468.07 759.5L469.25 759.5L470.44 759.5L471.62 759.5L472.8 759.5L473.99 759.5L475.17 759.5L476.36 759.5L477.54 759.5L478.72 759.5L479.91 759.5L481.09 759.5L482.27 759.5L483.46 759.5L484.64 759.5L485.82 759.5L487.01 759.5L488.19 759.5L489.37 759.5L490.56 759.5L491.74 759.5L492.92 759.5L494.11 759.5L495.29 759.5L496.47 759.5L497.66 759.5L498.84 759.5L500.03 759.5L501.21 759.5L502.39 759.5L503.58 759.5L504.76 759.5L505.94 759.5L507.13 759.5L508.31 759.5L509.49 759.5L510.68 759.5L511.86 759.5L513.04 759.5L514.23 759.5L515.41 759.5L516.59 759.5L517.78 759.5L518.96 759.5L520.14 759.5L521.33 759.5L522.51 759.5L523.7 759.5L524.88 759.5L526.06 759.5L527.25 759.5L528.43 759.5L529.61 759.5L530.8 759.5L531.98 759.5L533.16 759.5L534.35 759.5L535.53 759.5L536.71 759.5L537.9 759.5L539.08 759.5L540.26 759.5L541.45 759.5L542.63 759.5L543.81 759.49L545 759.49L546.18 759.49L547.37 759.49L548.55 759.48L549.73 759.47L550.92 759.47L552.1 759.45L553.28 759.44L554.47 759.42L555.65 759.39L556.83 759.36L558.02 759.32L559.2 759.27L560.38 759.2L561.57 759.12L562.75 759.01L563.93 758.88L565.12 758.72L566.3 758.51L567.48 758.27L568.67 757.96L569.85 757.6L571.04 757.16L572.22 756.62L573.4 755.99L574.59 755.23L575.77 754.34L576.95 753.3L578.14 752.08L579.32 750.66L580.5 749.02L581.69 747.14L582.87 745L584.05 742.56L585.24 739.82L586.42 736.74L587.6 733.31L588.79 729.52L589.97 725.34L591.15 720.76L592.34 715.8L593.52 710.43L594.71 704.69L595.89 698.56L597.07 692.09L598.26 685.3L599.44 678.22L600.62 670.9L601.81 663.4L602.99 655.78L604.17 648.1L605.36 640.45L606.54 632.89L607.72 625.51L608.91 618.4L610.09 611.64L611.27 605.32L612.46 599.52L613.64 594.31L614.83 589.78L616.01 585.98L617.19 582.96L618.38 580.77L619.56 579.45L620.74 579L621.93 579.45L623.11 580.77L624.29 582.96L625.48 585.98L626.66 589.78L627.84 594.31L629.03 599.52L630.21 605.32L631.39 611.64L632.58 618.4L633.76 625.51L634.94 632.89L636.13 640.45L637.31 648.1L638.5 655.78L639.68 663.4L640.86 670.9L642.05 678.22L643.23 685.3L644.41 692.09L645.6 698.56L646.78 704.69L647.96 710.43L649.15 715.8L650.33 720.76L651.51 725.34L652.7 729.52L653.88 733.31L655.06 736.74L656.25 739.82L657.43 742.56L658.61 745L659.8 747.14L660.98 749.02L662.17 750.66L663.35 752.08L664.53 753.3L665.72 754.34L666.9 755.23L668.08 755.99L669.27 756.62L670.45 757.16L671.63 757.6L672.82 757.96L674 758.27" fill="none" stroke="#3c78f0" stroke-width="2.1" stroke-linejoin="round"/>
<line x1="437.3" y1="568.6" x2="437.3" y2="760.3" stroke="#000" stroke-width="1.6" />
<line x1="436.5" y1="759.5" x2="440.3" y2="759.5" stroke="#000" stroke-width="1.6" />
<line x1="432.4" y1="759.5" x2="437.3" y2="759.5" stroke="#000" stroke-width="1" />
<line x1="434.5" y1="743.62" x2="437.3" y2="743.62" stroke="#000" stroke-width="1" />
<line x1="432.4" y1="727.75" x2="437.3" y2="727.75" stroke="#000" stroke-width="1" />
<line x1="434.5" y1="711.88" x2="437.3" y2="711.88" stroke="#000" stroke-width="1" />
<line x1="432.4" y1="696" x2="437.3" y2="696" stroke="#000" stroke-width="1" />
<line x1="434.5" y1="680.12" x2="437.3" y2="680.12" stroke="#000" stroke-width="1" />
<line x1="432.4" y1="664.25" x2="437.3" y2="664.25" stroke="#000" stroke-width="1" />
<line x1="434.5" y1="648.38" x2="437.3" y2="648.38" stroke="#000" stroke-width="1" />
<line x1="432.4" y1="632.5" x2="437.3" y2="632.5" stroke="#000" stroke-width="1" />
<line x1="434.5" y1="616.62" x2="437.3" y2="616.62" stroke="#000" stroke-width="1" />
<line x1="432.4" y1="600.75" x2="437.3" y2="600.75" stroke="#000" stroke-width="1" />
<line x1="434.5" y1="584.88" x2="437.3" y2="584.88" stroke="#000" stroke-width="1" />
<line x1="432.4" y1="569" x2="437.3" y2="569" stroke="#000" stroke-width="1" />
<line x1="437.3" y1="759.5" x2="437.3" y2="764.3" stroke="#000" stroke-width="1" />
<line x1="466.89" y1="759.5" x2="466.89" y2="762.3" stroke="#000" stroke-width="1" />
<line x1="496.48" y1="759.5" x2="496.48" y2="764.3" stroke="#000" stroke-width="1" />
<line x1="526.06" y1="759.5" x2="526.06" y2="762.3" stroke="#000" stroke-width="1" />
<line x1="555.65" y1="759.5" x2="555.65" y2="764.3" stroke="#000" stroke-width="1" />
<line x1="585.24" y1="759.5" x2="585.24" y2="762.3" stroke="#000" stroke-width="1" />
<line x1="614.83" y1="759.5" x2="614.83" y2="764.3" stroke="#000" stroke-width="1" />
<line x1="644.41" y1="759.5" x2="644.41" y2="762.3" stroke="#000" stroke-width="1" />
<line x1="674" y1="759.5" x2="674" y2="764.3" stroke="#000" stroke-width="1" />
<text x="399" y="763" font-size="11.3" font-weight="bold" textLength="33" lengthAdjust="spacingAndGlyphs">0.000</text>
<text x="399" y="731.25" font-size="11.3" font-weight="bold" textLength="33" lengthAdjust="spacingAndGlyphs">0.005</text>
<text x="399" y="699.5" font-size="11.3" font-weight="bold" textLength="33" lengthAdjust="spacingAndGlyphs">0.010</text>
<text x="399" y="667.75" font-size="11.3" font-weight="bold" textLength="33" lengthAdjust="spacingAndGlyphs">0.015</text>
<text x="399" y="636" font-size="11.3" font-weight="bold" textLength="33" lengthAdjust="spacingAndGlyphs">0.020</text>
<text x="399" y="604.25" font-size="11.3" font-weight="bold" textLength="33" lengthAdjust="spacingAndGlyphs">0.025</text>
<text x="399" y="572.5" font-size="11.3" font-weight="bold" textLength="33" lengthAdjust="spacingAndGlyphs">0.030</text>
<text x="431.25" y="776.2" font-size="11.3" font-weight="bold" textLength="13.3" lengthAdjust="spacingAndGlyphs">20</text>
<text x="490.43" y="776.2" font-size="11.3" font-weight="bold" textLength="13.3" lengthAdjust="spacingAndGlyphs">40</text>
<text x="549.6" y="776.2" font-size="11.3" font-weight="bold" textLength="13.3" lengthAdjust="spacingAndGlyphs">60</text>
<text x="608.78" y="776.2" font-size="11.3" font-weight="bold" textLength="13.3" lengthAdjust="spacingAndGlyphs">80</text>
<text x="662.5" y="776.2" font-size="11.3" font-weight="bold" textLength="20" lengthAdjust="spacingAndGlyphs">100</text>
<text x="519.8" y="793.5" font-size="14.3" font-weight="bold" textLength="93" lengthAdjust="spacingAndGlyphs">Distance(Å)</text>
<text transform="translate(389.8 706.75) rotate(-90)" font-size="15.5" font-weight="bold" textLength="85" lengthAdjust="spacingAndGlyphs">Frequency</text>
<rect x="455.3" y="570.2" width="148.7" height="35.7" rx="4" fill="#fff" stroke="#222" stroke-width="0.8"/>
<line x1="464.1" y1="577.4" x2="479.8" y2="577.4" stroke="#000000" stroke-width="2" />
<text x="483.3" y="580.7" font-size="12" font-weight="bold" textLength="113" lengthAdjust="spacingAndGlyphs">x<tspan font-size="6" dy="0.5">0</tspan><tspan dy="-0.5">=47, σ=4,A=17%</tspan></text>
<line x1="464.1" y1="589.1" x2="479.8" y2="589.1" stroke="#e8195f" stroke-width="2" />
<text x="483.3" y="592.4" font-size="12" font-weight="bold" textLength="113" lengthAdjust="spacingAndGlyphs">x<tspan font-size="6" dy="0.5">0</tspan><tspan dy="-0.5">=63, σ=5,A=26%</tspan></text>
<line x1="464.1" y1="600.8" x2="479.8" y2="600.8" stroke="#3c78f0" stroke-width="2" />
<text x="483.3" y="604.1" font-size="12" font-weight="bold" textLength="113" lengthAdjust="spacingAndGlyphs">x<tspan font-size="6" dy="0.5">0</tspan><tspan dy="-0.5">=82, σ=8,A=57%</tspan></text></g>
<polygon points="104.57,894.09 113.76,898.13 117.57,907.89 113.76,917.65 104.57,921.69 95.38,917.65 91.57,907.89 95.38,898.13" fill="#c9ffd0" stroke="#7a8a7a" stroke-width="0.5"/>
<path d="M84.08 955.35Q77.94 948.54 84.87 942.53L126.04 906.8Q134.47 899.48 141.66 908.03L147.85 915.38Q154.33 923.08 147.24 930.21L125.57 952.06Q124.89 952.74 125.54 953.44L150.59 980.77L131.2 1007.63Z" fill="#f0a781" stroke="#4a4a4a" stroke-width="0.5"/>
<circle cx="123.26" cy="929.85" r="13.1" fill="#fbfff0" stroke="#555" stroke-width="0.5"/>
<path d="M135.55 1015.31Q143.35 1023.29 151.21 1015.37L213.14 953.07Q220.9 945.27 213.1 937.51L194.78 919.31Q183.52 908.13 172.78 919.8L168.88 924.04Q162.03 931.48 168.58 939.19L174.53 946.21Q175.12 946.9 174.49 947.55L129.05 994.8Q122.32 1001.8 129.11 1008.73Z" fill="#b0e0e9" stroke="#4a4a4a" stroke-width="0.5"/>
<path d="M183.99 979.37C186.02 979.14 191.78 979.68 196.14 977.97C200.5 976.26 206.57 972.71 210.15 969.09C213.74 965.47 216.93 959.83 217.63 956.25C218.33 952.66 216.58 949.43 214.36 947.6C212.14 945.77 207.23 945.34 204.31 945.27C201.39 945.19 198.09 946.82 196.84 947.14" fill="none" stroke="#f3a6c6" stroke-width="1.2"/>
<rect x="167.33" y="949.18" width="35.2" height="17.4" rx="8.7" transform="rotate(-45 184.93 957.88)" fill="#dcdddd" stroke="#777" stroke-width="0.6"/>
<ellipse cx="148.95" cy="983.11" rx="35.5" ry="12.2" transform="rotate(-6 148.95 983.11)" fill="#f2b9cd" stroke="#555" stroke-width="0.5"/>
<circle cx="94.53" cy="969.56" r="3.2" fill="#f8c8d0" stroke="#e8384f" stroke-width="1.5"/>
<circle cx="114.38" cy="983.11" r="3.2" fill="#d8f8d8" stroke="#5cc45c" stroke-width="1.5"/>
<line x1="101.34" y1="974.25" x2="107.56" y2="978.41" stroke="#111" stroke-width="1.3" stroke-dasharray="1.4 1.4"/>
<polygon points="113.38,982.31 104.43,980.41 107.32,978.25 108.21,974.76" fill="#111"/>
<polygon points="95.53,970.36 100.7,977.91 101.59,974.42 104.48,972.26" fill="#111"/>
<text x="56" y="994.9" font-size="15.7" textLength="48.5" lengthAdjust="spacingAndGlyphs">25.7 Å</text>
<polygon points="326.21,894.56 335.4,898.6 339.2,908.36 335.4,918.12 326.21,922.16 317.02,918.12 313.21,908.36 317.02,898.6" fill="#c9ffd0" stroke="#7a8a7a" stroke-width="0.5"/>
<path d="M305.38 955.35Q299.24 948.54 306.17 942.53L347.34 906.8Q355.77 899.48 362.96 908.03L369.15 915.38Q375.63 923.08 368.54 930.21L346.87 952.06Q346.19 952.74 346.84 953.44L371.89 980.77L352.5 1007.63Z" fill="#f0a781" stroke="#4a4a4a" stroke-width="0.5"/>
<circle cx="344.56" cy="929.85" r="13.1" fill="#fbfff0" stroke="#555" stroke-width="0.5"/>
<path d="M356.85 1015.31Q364.65 1023.29 372.51 1015.37L434.44 953.07Q442.2 945.27 434.4 937.51L416.08 919.31Q404.82 908.13 394.08 919.8L390.18 924.04Q383.33 931.48 389.88 939.19L395.83 946.21Q396.42 946.9 395.79 947.55L350.35 994.8Q343.62 1001.8 350.41 1008.73Z" fill="#b0e0e9" stroke="#4a4a4a" stroke-width="0.5"/>
<ellipse cx="397.92" cy="963.25" rx="36" ry="11.5" transform="rotate(-43 397.92 963.25)" fill="#f8b4cd" fill-opacity="0.6" stroke="#b08aa0" stroke-width="0.5" stroke-dasharray="0.8 0.8"/>
<rect x="388.63" y="949.18" width="35.2" height="17.4" rx="8.7" transform="rotate(-45 406.23 957.88)" fill-opacity="0.75" fill="#f3bfd2" stroke="#e99abb" stroke-width="0.8"/>
<path d="M409.6 939.19C409.33 938.14 407.26 934.6 407.96 932.89C408.66 931.17 411.27 929.5 413.8 928.91C416.33 928.33 421.2 928.33 423.15 929.38C425.09 930.43 425.4 933.47 425.48 935.22C425.56 936.97 423.93 939.12 423.61 939.89" fill="none" stroke="#f3a6c6" stroke-width="1.2"/>
<circle cx="311.72" cy="963.95" r="3.2" fill="#f8c8d0" stroke="#e8384f" stroke-width="1.5"/>
<circle cx="372.92" cy="981.24" r="3.2" fill="#d8f8d8" stroke="#5cc45c" stroke-width="1.5"/>
<line x1="320.46" y1="966.37" x2="364.19" y2="978.82" stroke="#111" stroke-width="1.3" stroke-dasharray="1.4 1.4"/>
<polygon points="370.92,980.74 361.82,981.68 363.9,978.74 363.68,975.14" fill="#111"/>
<polygon points="313.72,964.45 320.97,970.05 320.74,966.45 322.83,963.51" fill="#111"/>
<text x="314" y="992.7" font-size="15.7" textLength="47.2" lengthAdjust="spacingAndGlyphs">67.5 Å</text>
<polygon points="536.21,890.35 545.4,894.39 549.2,904.15 545.4,913.91 536.21,917.96 527.02,913.91 523.21,904.15 527.02,894.39" fill="#c9ffd0" stroke="#7a8a7a" stroke-width="0.5"/>
<path d="M515.58 954.15Q509.44 947.34 516.37 941.33L557.54 905.6Q565.97 898.28 573.16 906.83L579.35 914.18Q585.83 921.88 578.74 929.01L557.07 950.86Q556.39 951.54 557.04 952.24L582.09 979.57L562.7 1006.43Z" fill="#f0a781" stroke="#4a4a4a" stroke-width="0.5"/>
<circle cx="554.76" cy="928.65" r="13.1" fill="#fbfff0" stroke="#555" stroke-width="0.5"/>
<path d="M567.05 1014.11Q574.85 1022.09 582.71 1014.17L644.64 951.87Q652.4 944.07 644.6 936.31L626.28 918.11Q615.02 906.93 604.28 918.6L600.38 922.84Q593.53 930.28 600.08 937.99L606.03 945.01Q606.62 945.7 605.99 946.35L560.55 993.6Q553.82 1000.6 560.61 1007.53Z" fill="#b0e0e9" stroke="#4a4a4a" stroke-width="0.5"/>
<rect x="598.83" y="947.98" width="35.2" height="17.4" rx="8.7" transform="rotate(-45 616.43 956.68)" fill="#dcdddd" stroke="#777" stroke-width="0.6"/>
<path d="M599.98 949.24C600.05 947.8 599 943.05 600.44 940.59C601.88 938.14 605.5 935.53 608.62 934.52C611.73 933.51 616.41 933.63 619.13 934.52C621.86 935.42 624.08 938.41 624.97 939.89C625.87 941.37 624.58 942.81 624.5 943.4" fill="none" stroke="#f3a6c6" stroke-width="1.2"/>
<ellipse cx="614.46" cy="978.44" rx="35" ry="13.5" transform="rotate(62 614.46 978.44)" fill="#f6b4cc" fill-opacity="0.55" stroke="#b08aa0" stroke-width="0.5" stroke-dasharray="0.8 0.8"/>
<path d="M602.78 957.41C602.97 958.78 602.39 963.33 603.95 965.59C605.5 967.85 609.2 971.16 612.12 970.96C615.04 970.77 619.91 965.51 621.47 964.42" fill="none" stroke="#f3a6c6" stroke-width="1.2"/>
<circle cx="526.16" cy="966.76" r="3.2" fill="#f8c8d0" stroke="#e8384f" stroke-width="1.5"/>
<circle cx="625.44" cy="1011.84" r="3.2" fill="#d8f8d8" stroke="#5cc45c" stroke-width="1.5"/>
<line x1="534.53" y1="970.46" x2="617.07" y2="1008.13" stroke="#111" stroke-width="1.3" stroke-dasharray="1.4 1.4"/>
<polygon points="623.44,1011.04 614.29,1010.6 616.8,1008.01 617.12,1004.42" fill="#111"/>
<polygon points="528.16,967.56 534.48,974.18 534.8,970.59 537.31,967.99" fill="#111"/>
<text x="533.7" y="1004.4" font-size="15.7" textLength="46.8" lengthAdjust="spacingAndGlyphs">97.2 Å</text>
<polygon points="326.1,821.71 335.09,825.66 338.81,835.2 335.09,844.74 326.1,848.69 317.11,844.74 313.39,835.2 317.11,825.66" fill="#c9ffd0" stroke="#7a8a7a" stroke-width="0.5"/>
<line x1="214.1" y1="858.2" x2="155.94" y2="881.6" stroke="#231815" stroke-width="0.9" />
<polygon points="147.5,885 156.14,877 156.22,881.49 159.27,884.79" fill="#231815"/>
<line x1="326.1" y1="854.8" x2="326.1" y2="883.9" stroke="#231815" stroke-width="0.9" />
<polygon points="326.1,893 321.9,882 326.1,883.6 330.3,882" fill="#231815"/>
<line x1="435.4" y1="861.9" x2="492.97" y2="887.23" stroke="#231815" stroke-width="0.9" />
<polygon points="501.3,890.9 489.54,890.31 492.7,887.11 492.92,882.63" fill="#231815"/>
<line x1="239.1" y1="963.9" x2="285.3" y2="963.9" stroke="#231815" stroke-width="1" />
<polygon points="293.3,963.9 283.4,968.5 285,963.9 283.4,959.3" fill="#231815"/>
<line x1="291.3" y1="976.3" x2="244.8" y2="976.3" stroke="#231815" stroke-width="1" />
<polygon points="236.8,976.3 246.7,971.7 245.1,976.3 246.7,980.9" fill="#231815"/>
<line x1="449.3" y1="963.9" x2="495.5" y2="963.9" stroke="#231815" stroke-width="1" />
<polygon points="503.5,963.9 493.6,968.5 495.2,963.9 493.6,959.3" fill="#231815"/>
<line x1="501.5" y1="976.3" x2="455" y2="976.3" stroke="#231815" stroke-width="1" />
<polygon points="447,976.3 456.9,971.7 455.3,976.3 456.9,980.9" fill="#231815"/>
<text x="101" y="1041.9" font-size="15.8" textLength="96.3" lengthAdjust="spacingAndGlyphs">Closed State</text>
<text x="288.6" y="1042.1" font-size="15.8" textLength="162.6" lengthAdjust="spacingAndGlyphs">Partially Closed State</text>
<text x="523.1" y="1041.9" font-size="15.8" textLength="115.3" lengthAdjust="spacingAndGlyphs">Extended State</text>
</svg></body></html>
